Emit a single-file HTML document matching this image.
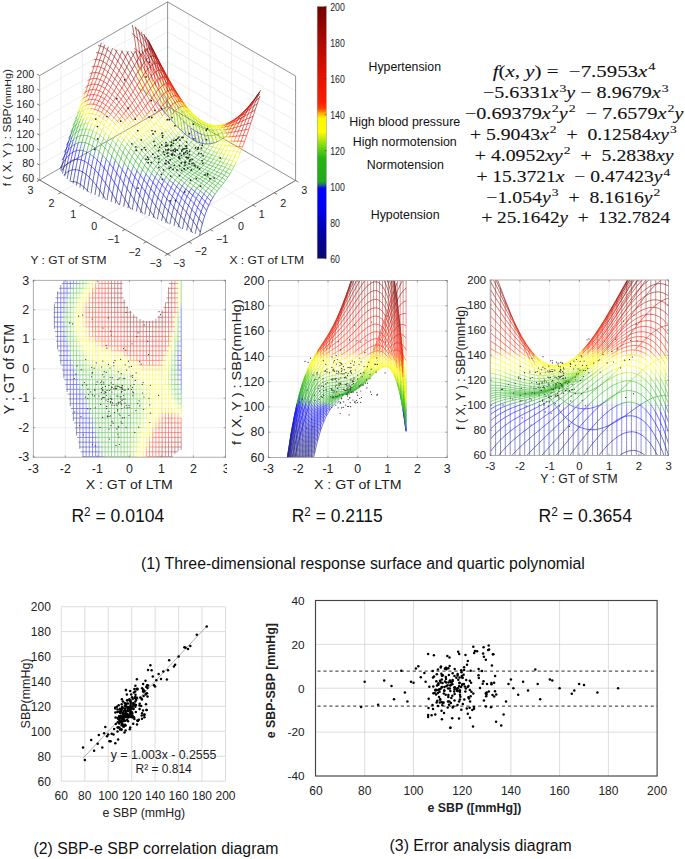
<!DOCTYPE html>
<html><head><meta charset="utf-8"><style>
html,body{margin:0;padding:0;background:#fff}
svg{display:block}
text{font-family:"Liberation Sans",sans-serif;fill:#222}
</style></head><body>
<svg width="685" height="859" viewBox="0 0 685 859">
<path d="M188.9 241.8 61 167.7M146.3 241.8 274.2 168.1M61 167.7 61 63.3M274.2 168.1 274.2 63.7M210.3 229.6 82.3 155.5M125 229.4 252.9 155.8M82.3 155.5 82.3 51M252.9 155.8 252.9 51.3M231.6 217.3 103.6 143.2M103.6 217.1 231.6 143.4M103.6 143.2 103.6 38.8M231.6 143.4 231.6 39M252.9 205 124.9 130.9M82.3 204.7 210.2 131.1M124.9 130.9 124.9 26.5M210.2 131.1 210.2 26.6M274.2 192.8 146.2 118.7M61 192.4 188.9 118.7M146.2 118.7 146.2 14.2M188.9 118.7 188.9 14.3M39.6 165.1 167.6 91.5M167.6 91.5 295.6 165.6M39.6 150.2 167.6 76.5M167.6 76.5 295.6 150.6M39.6 135.2 167.6 61.6M167.6 61.6 295.6 135.7M39.6 120.3 167.6 46.7M167.6 46.7 295.6 120.8M39.6 105.4 167.6 31.8M167.6 31.8 295.6 105.9M39.6 90.5 167.6 16.9M167.6 16.9 295.6 91" stroke="#e6e6e6" stroke-width="0.7" fill="none"/>
<path d="M39.6 75.6 167.6 1.9M167.6 1.9 295.6 76M167.6 106.4 167.6 1.9M295.6 180.5 295.6 76M39.6 180 167.6 106.4M167.6 106.4 295.6 180.5" stroke="#777" stroke-width="0.8" fill="none"/>
<g fill="none" stroke-width="0.6"><path stroke="#090974" d="M199.6 235.2l.7-3M195.2 233.7l.5-2.5 1.1-4.6M190.9 232.2l.3-1.6 1.1-4.7 1-4.4M186.6 230.6l.1-.3 1-4.9M182.4 229.1l.8-3.9 1-4.7M178.2 227.4l.5-2.2 1-4.9 1.1-4.4M174 225.8l.1-.5 1.1-5M169.9 224.2l.7-3.8 1.1-4.8M165.7 222.6l.4-2.1 1.1-4.9 1-4.6M161.5 221l.1-.2 1-5.2M157.4 219.3l.7-3.6 1-5M153.2 217.7l.4-1.9 1-5.1 1.1-4.8M149 216.1l0-.1 1.1-5.4M144.8 214.5l.7-3.9 1.1-5.2M140.6 212.9l.4-2.2 1.1-5.5 1-5M136.4 211.3l.1-.5 1-5.7M132.2 209.8l.8-4.8 1.1-5.4M127.9 208.2l.6-3.1M123.7 206.6l.2-1.3 1.1-6M119.5 205l1-5.6 1-5.8M115.3 203.4l.6-3.7M111.2 201.8l.2-1.5 1-6.3M107 200.1l.9-5.5 1.1-6.1M102.9 198.5l.5-2.8M98.9 196.8l1-6.4M94.9 195l.5-2.8 1-6.6M91 193.3l.9-5.6 1-6.4M87.2 191.5l.1-1 1.1-6.7 1.1-6.3M83.5 189.6l.4-2.5M79.9 187.6l.5-3.2M76.4 185.6l.5-3.1M73.1 183.5l.3-1.9 1.1-6.2 1-5.7M70 181.3l1-5.7 1.1-5.6M67.2 178.9l.3-1.9 1.1-5.6M64.7 176.3l.4-2.3 1.1-5.2 1-5M62.5 173.5l.2-.8 1-4.9M60.9 170.5l.4-2 1.1-4.4M88.9 192.3l-1.6-1.8-1.7-1.8-1.7-1.6M73.4 181.6l-1.7-.1-1.2 .1M105.9 199.7l-.8-1.3-1.7-2.7M65.1 174l-1.3 1.3M118.9 204.7l-1.2-2-1.8-3M131 209.3l-.8-1.3-1.7-2.9M143 213.8l-.2-.3-1.8-2.8-1.7-2.8-1.8-2.8M155.4 218.6l-.1-.1-1.7-2.7-1.8-2.6-1.7-2.6M168.2 223.6l-.4-.5-1.7-2.6-1.7-2.4-1.8-2.5M181 228.5l-.6-.8-1.7-2.5-1.8-2.5-1.7-2.4M192.6 232.8l-1.4-2.2-1.7-2.7-1.8-2.5"/><path stroke="#070780" d="M200.3 232.2l1-4.5 1.1-4M128.5 205.1l1-5.8 1.1-5.2M115.9 199.7l1.1-6.1 1-5.6M103.4 195.7l1-6.5 1.1-6M83.9 187.1l1-6.6 1.1-6.1M80.4 184.4l1-6.4 1.1-6M76.9 182.5l1.1-6.3 1-5.8M83.9 187.1l-1.8-1.5-1.7-1.2-1.8-1.1-1.7-.8-1.7-.6-1.8-.3M103.4 195.7l-1.8-2.7-1.7-2.6M115.9 199.7l-1.7-2.9-1.8-2.8M128.5 205.1l-1.8-2.9-1.7-2.9M200.3 232.2l-1.8-2.9-1.7-2.7"/><path stroke="#05058c" d="M196.8 226.6l1-4.2 1.1-3.8M187.7 225.4l1.1-4.5 1-4.1M175.2 220.3l1-4.6 1.1-4.2M162.6 215.6l1.1-4.8 1-4.3M150.1 210.6l1-5 1.1-4.5M137.5 205.1l1.1-5.2 1-4.8M125 199.3l1-5.6 1.1-5M99.9 190.4l1-6.2 1.1-5.8M68.6 171.4l1-5.3 1.1-4.9M63.7 167.8l1.1-4.6 1-4.4M62.4 164.1l1-4.3 1.1-4M99.9 190.4l-1.7-2.4-1.8-2.4M68.6 171.4l-1.8 1.1-1.7 1.5M63.7 167.8l-1.7 2.5-.7 1.1M125 199.3l-1.8-2.9-1.7-2.8M62.4 164.1l-1.8 3.2-.5 1M137.5 205.1l-1.7-2.8-1.7-2.7M150.1 210.6l-1.8-2.6-1.7-2.6M162.6 215.6l-1.7-2.4-1.8-2.5M175.2 220.3l-1.8-2.4-1.7-2.3M187.7 225.4l-1.7-2.5-1.8-2.4M196.8 226.6l-1.7-2.6-1.8-2.5"/><path stroke="#030398" d="M184.2 220.5l1.1-4.3 1.1-3.9M171.7 215.6l1.1-4.4 1-4M159.1 210.7l1.1-4.5 1.1-4.2M146.6 205.4l1.1-4.7 1-4.4M112.4 194l1.1-5.9 1-5.4M96.4 185.6l1.1-6.1 1-5.6M96.4 185.6l-1.7-2.2-1.8-2.1M112.4 194l-1.7-2.8-1.7-2.7M146.6 205.4l-1.7-2.6-1.8-2.6M159.1 210.7l-1.7-2.4-1.7-2.4M171.7 215.6l-1.7-2.3-1.8-2.3M184.2 220.5l-1.7-2.3-1.7-2.3"/><path stroke="#0101a4" d="M202.4 223.7l1-3.8 1.1-3.4M193.3 221.5l1.1-4 1-3.6M180.8 215.9l1-4.1 1.1-3.7M168.2 211l1.1-4.2 1-3.8M155.7 205.9l1-4.3 1.1-4M134.1 199.6l1-5.1 1.1-4.6M121.5 193.6l1.1-5.3 1-4.9M109 188.5l1-5.7 1.1-5.3M92.9 181.3l1.1-5.9 1-5.5M72.1 170l1-5.3 1.1-5M67.2 163.8l1.1-4.6 1-4.4M92.9 181.3l-1.7-1.9-1.7-1.9M72.1 170l-1.8 .5-1.7 .9M109 188.5l-1.8-2.7-1.7-2.6M67.2 163.8l-1.7 1.8-1.8 2.2M121.5 193.6l-1.7-2.8-1.8-2.8M134.1 199.6l-1.8-2.8-1.7-2.7M155.7 205.9l-1.8-2.4-1.7-2.4M168.2 211l-1.7-2.3-1.8-2.2M180.8 215.9l-1.8-2.2-1.7-2.2M193.3 221.5l-1.7-2.4-1.8-2.3M202.4 223.7l-1.8-2.6-1.7-2.5"/><path stroke="#0000b2" d="M198.9 218.6l1.1-3.6 1-3.2M189.8 216.8l1.1-3.8 1-3.4M177.3 211.5l1-3.9 1.1-3.5M164.7 206.5l1.1-4 1-3.6M152.2 201.1l1-4.1 1.1-3.8M143.1 200.2l1.1-4.5 1-4.2M130.6 194.1l1-4.9 1.1-4.4M89.5 177.5l1-5.7 1.1-5.4M75.5 169.7l1.1-5.4 1-5M65.8 158.8l1.1-4.2 1.1-4M64.5 155.8l1-3.9 1.1-3.7M89.5 177.5l-1.8-1.6-1.7-1.5M75.5 169.7l-1.7 0-1.7 .3M65.8 158.8l-1.7 2.4-1.7 2.9M130.6 194.1l-1.8-2.7-1.7-2.7M64.5 155.8l-1.8 3.1-.5 1.2M143.1 200.2l-1.7-2.6-1.8-2.5M152.2 201.1l-1.7-2.4-1.8-2.4M164.7 206.5l-1.7-2.2-1.7-2.3M177.3 211.5l-1.8-2.2-1.7-2.1M189.8 216.8l-1.7-2.3-1.7-2.2M198.9 218.6l-1.7-2.4-1.8-2.3"/><path stroke="#0000c2" d="M186.4 212.3l1-3.5 1.1-3.3M173.8 207.2l1.1-3.6 1-3.4M161.3 202l1-3.7 1.1-3.5M139.6 195.1l1.1-4.4 1.1-4M118 188l1.1-5.1 1-4.7M105.5 183.2l1-5.5 1.1-5.1M86 174.4l1-5.6 1.1-5.3M82.5 172l1.1-5.5 1-5.2M79 170.4l1.1-5.4 1-5.1M86 174.4l-1.8-1.3-1.7-1.1-1.7-.9-1.8-.7-1.7-.5-1.8-.2M105.5 183.2l-1.8-2.4-1.7-2.4M118 188l-1.7-2.7-1.8-2.6M139.6 195.1l-1.7-2.6-1.7-2.6M161.3 202l-1.8-2.2-1.7-2.2M173.8 207.2l-1.7-2.1-1.8-2.1M186.4 212.3l-1.8-2.1-1.7-2.1M196.1 141.3l-1.7-.8-1.8-1-1.7-1.1-1.7-1.2"/><path stroke="#0000d2" d="M204.5 216.5l1-3.1 1.1-2.9M195.4 213.9l1.1-3.3 1-3.1M182.9 208.1l1-3.3 1.1-3.1M170.3 203l1.1-3.4 1-3.2M157.8 197.6l1-3.6 1.1-3.2M148.7 196.3l1.1-4 1-3.6M136.2 189.9l1-4.2 1.1-3.8M127.1 188.7l1.1-4.7 1-4.3M114.5 182.7l1.1-5 1.1-4.6M102 178.4l1.1-5.4 1-5M70.7 161.2l1-4.7 1.1-4.3M102 178.4l-1.7-2.3-1.8-2.2M70.7 161.2l-1.7 1.2-1.8 1.4M114.5 182.7l-1.7-2.6-1.7-2.6M127.1 188.7l-1.7-2.7-1.8-2.6M136.2 189.9l-1.8-2.5-1.7-2.6M148.7 196.3l-1.7-2.4-1.8-2.4M157.8 197.6l-1.8-2.2-1.7-2.2M170.3 203l-1.7-2-1.8-2.1M182.9 208.1l-1.8-2-1.7-2M195.4 213.9l-1.7-2.2-1.8-2.1M204.5 216.5l-1.7-2.4-1.8-2.3M203.1 143.6l-1.8-.4-1.7-.5-1.7-.6-1.8-.8M189.2 137.2l-1.8-1.3-1.7-1.4-1.8-1.5-1.7-1.6-1.7-1.7-1.8-1.7"/><path stroke="#0000e3" d="M201 211.8l1.1-2.9 1-2.7M191.9 209.6l1.1-3.2 1.1-2.8M188.5 205.5l1-2.9 1.1-2.7M179.4 204.1l1.1-3.1 1-2.9M166.8 198.9l1.1-3.3 1.1-2.9M154.3 193.2l1.1-3.4 1-3.1M145.2 191.5l1.1-3.8 1-3.4M123.6 183.4l1.1-4.5 1-4.2M98.5 173.9l1.1-5.2 1-4.9M74.2 159.7l1-4.6 1.1-4.4M69.3 154.8l1.1-4.1 1-3.9M68 150.6l1-3.8 1.1-3.6M66.6 148.2l1-3.6 1.1-3.4M98.5 173.9l-1.7-2.1-1.8-1.9M74.2 159.7l-1.8 .6-1.7 .9M69.3 154.8l-1.7 1.8-1.8 2.2M123.6 183.4l-1.7-2.7-1.8-2.5M68 150.6l-1.8 2.4-1.7 2.8M66.6 148.2l-1.8 3.1-.5 1.1M145.2 191.5l-1.7-2.4-1.7-2.4M154.3 193.2l-1.7-2.2-1.8-2.3M166.8 198.9l-1.7-2-1.7-2.1M179.4 204.1l-1.7-1.9-1.8-2M191.9 209.6l-1.7-2.1-1.7-2-1.8-1.9-1.7-1.9M201 211.8l-1.7-2.2-1.8-2.1M206.6 143.9l-1.8-.1-1.7-.2M178.7 128l-1.7-1.8-1.8-1.9"/><path stroke="#0000f1" d="M206.6 210.5l1.1-2.7 1-2.4M197.5 207.5l1.1-2.7 1-2.6M185 201.7l1-2.7 1.1-2.6M175.9 200.2l1.1-2.9 1-2.8M172.4 196.4l1.1-2.8 1.1-2.5M163.4 194.8l1-3.1 1.1-2.8M150.8 188.7l1.1-3.2 1-3M141.8 186.7l1-3.6 1.1-3.3M132.7 184.8l1-4 1.1-3.7M111.1 177.5l1-4.8 1.1-4.5M95 169.9l1.1-5.1 1.1-4.7M77.6 159.3l1.1-4.7 1.1-4.4M95 169.9l-1.7-1.8-1.7-1.7M77.6 159.3l-1.7 .1-1.7 .3M111.1 177.5l-1.8-2.5-1.7-2.4M132.7 184.8l-1.8-2.5-1.7-2.6M141.8 186.7l-1.8-2.4-1.7-2.4M150.8 188.7l-1.7-2.2-1.8-2.2M163.4 194.8l-1.8-2-1.7-2M175.9 200.2l-1.7-1.9-1.8-1.9-1.7-1.8-1.7-1.9M185 201.7l-1.8-1.8-1.7-1.8M197.5 207.5l-1.7-2-1.7-1.9M206.6 210.5l-1.7-2.2-1.8-2.1M210 143.8l-1.7 .1-1.7 0M175.2 124.3l-1.7-1.9-1.7-2-1.8-2-1.7-2"/><path stroke="#0000f5" d="M208.7 205.4l1.1-2.2 1-2.1M203.1 206.2l1.1-2.5 1-2.3M194.1 203.6l1-2.6 1.1-2.4M190.6 199.9l1-2.4 1.1-2.2M181.5 198.1l1.1-2.6 1-2.4M169 192.7l1-2.7 1.1-2.4M159.9 190.8l1-3 1.1-2.7M138.3 181.9l1-3.5 1.1-3.2M129.2 179.7l1.1-3.8 1-3.6M120.1 178.2l1.1-4.4 1-4M107.6 172.6l1-4.7 1.1-4.3M91.6 166.4l1-5 1.1-4.6M88.1 163.5l1-4.9 1.1-4.5M84.6 161.3l1.1-4.8 1-4.5M81.1 159.9l1.1-4.8 1-4.4M72.8 152.2l1.1-4.1 1-3.9M91.6 166.4l-1.8-1.5-1.7-1.4-1.8-1.2-1.7-1-1.7-.8-1.8-.6-1.7-.4-1.8-.2M107.6 172.6l-1.7-2.3-1.8-2.3M72.8 152.2l-1.7 1.2-1.8 1.4M120.1 178.2l-1.7-2.6-1.7-2.5M129.2 179.7l-1.7-2.5-1.8-2.5M138.3 181.9l-1.8-2.4-1.7-2.4M159.9 190.8l-1.7-2.1-1.8-2M169 192.7l-1.8-1.9-1.7-1.9M181.5 198.1l-1.7-1.8-1.8-1.8M194.1 203.6l-1.8-1.9-1.7-1.8-1.8-1.7-1.7-1.8M203.1 206.2l-1.7-2-1.8-2M208.7 205.4l-1.7-2-1.8-2M213.5 143.1l-1.7 .4-1.8 .3M168.3 116.4l-1.7-2-1.8-2.1"/><path stroke="#0000f9" d="M205.2 201.4l1.1-2.1 1-1.9M199.6 202.2l1.1-2.3 1.1-2.1M196.2 198.6l1-2.1 1.1-2M187.1 196.4l1.1-2.2 1-2.1M178 194.5l1.1-2.4 1-2.2M174.6 191.1l1-2.4 1.1-2M165.5 188.9l1-2.5 1.1-2.3M156.4 186.7l1.1-2.9 1-2.5M147.3 184.3l1.1-3.2 1.1-2.8M125.7 174.7l1.1-3.7 1-3.4M116.7 173.1l1-4.2 1.1-3.9M104.1 168l1.1-4.5 1-4.2M71.4 146.8l1.1-3.7 1-3.6M70.1 143.2l1-3.5 1.1-3.3M68.7 141.2l1.1-3.4 1-3.2M104.1 168l-1.7-2.1-1.8-2.1M116.7 173.1l-1.8-2.5-1.7-2.4M71.4 146.8l-1.7 1.7-1.7 2.1M125.7 174.7l-1.7-2.4-1.8-2.5M70.1 143.2l-1.8 2.3-1.7 2.7M68.7 141.2l-1.7 2.9-.6 1.1M147.3 184.3l-1.7-2.3-1.7-2.2M156.4 186.7l-1.7-2.1-1.8-2.1M165.5 188.9l-1.8-1.9-1.7-1.9M178 194.5l-1.7-1.7-1.7-1.7-1.8-1.8-1.7-1.7M187.1 196.4l-1.7-1.6-1.8-1.7M199.6 202.2l-1.7-1.8-1.7-1.8-1.8-1.7-1.7-1.6M205.2 201.4l-1.7-1.8-1.7-1.8M164.8 112.3l-1.7-2-1.8-2"/><path stroke="#0000fd" d="M210.8 201.1l1.1-1.9 1-1.8M201.8 197.8l1-1.9 1.1-1.8M192.7 195.3l1-2 1.1-1.9M189.2 192.1l1.1-1.9 1-1.7M183.6 193.1l1.1-2.1 1-2M180.1 189.9l1.1-2 1.1-1.8M171.1 187.6l1-2.2 1.1-2M162 185.1l1.1-2.4 1-2.1M152.9 182.5l1.1-2.7 1-2.4M143.9 179.8l1-3 1.1-2.7M134.8 177.1l1.1-3.4 1-3M201 133.9l1 4.6 1.1 5.1M197.5 132.3l1 4.9 1.1 5.5M194 130.2l1.1 5.3 1 5.8M190.5 127.6l1.1 5.7 1 6.2M113.2 168.2l1-4 1.1-3.8M100.6 163.8l1.1-4.4 1-4.1M76.3 150.7l1-4.1 1.1-3.9M100.6 163.8l-1.7-1.9-1.7-1.8M76.3 150.7l-1.8 .6-1.7 .9M113.2 168.2l-1.8-2.3-1.7-2.3M134.8 177.1l-1.7-2.4-1.8-2.4M143.9 179.8l-1.8-2.3-1.7-2.3M152.9 182.5l-1.7-2.1-1.7-2.1M162 185.1l-1.7-1.9-1.8-1.9M171.1 187.6l-1.8-1.8-1.7-1.7M183.6 193.1l-1.7-1.6-1.8-1.6-1.7-1.6-1.7-1.6M192.7 195.3l-1.8-1.6-1.7-1.6-1.7-1.5-1.8-1.6M201.8 197.8l-1.8-1.7-1.7-1.6M210.8 201.1l-1.7-1.9-1.8-1.8M201 133.9l-1.8-.7-1.7-.9-1.7-1-1.8-1.1-1.7-1.2-1.8-1.4-1.7-1.4-1.7-1.6M217 141.8l-1.7 .7-1.8 .6M161.3 108.3l-1.7-2.1-1.7-1.9"/><path stroke="#165292" d="M212.9 197.4l1.1-1.7 1-1.5M207.3 197.4l1.1-1.8 1.1-1.6M203.9 194.1l1-1.6 1.1-1.6M198.3 194.5l1-1.8 1.1-1.6M194.8 191.4l1.1-1.6 1-1.6M185.7 189l1.1-1.7 1-1.6M182.3 186.1l1-1.7 1.1-1.5M176.7 186.7l1-1.9 1.1-1.7M173.2 183.4l1-1.7 1.1-1.6M167.6 184.1l1-2.1 1.1-1.8M164.1 180.6l1.1-2 1-1.7M158.5 181.3l1.1-2.3 1-2M155 177.4l1.1-2.1 1.1-2M149.5 178.3l1-2.5 1.1-2.3M140.4 175.2l1-2.8 1.1-2.6M207.9 135.6l1.1 3.8 1 4.4M204.4 135l1.1 4.2 1.1 4.7M131.3 172.3l1.1-3.2 1-3M122.2 169.8l1.1-3.6 1.1-3.3M187.1 124.6l1 6 1.1 6.6M109.7 163.6l1.1-4 1-3.6M183.6 121.2l1 6.3 1.1 7M97.2 160.1l1-4.4 1.1-4.1M93.7 156.8l1-4.3 1.1-4M83.2 150.7l1.1-4.1 1-3.9M79.8 150.2l1-4.1 1.1-3.8M74.9 144.2l1.1-3.7 1-3.5M70.8 134.6l1.1-3.2 1-3.1M97.2 160.1l-1.8-1.8-1.7-1.5-1.8-1.5-1.7-1.2M83.2 150.7l-1.7-.3-1.7-.2-1.8 .1-1.7 .4M109.7 163.6l-1.7-2.2-1.8-2.1M74.9 144.2l-1.7 1.1-1.8 1.5M122.2 169.8l-1.7-2.4-1.7-2.4M131.3 172.3l-1.7-2.4-1.8-2.3M140.4 175.2l-1.8-2.2-1.7-2.3M70.8 134.6l-1.7 2.8-.6 1M149.5 178.3l-1.8-2.1-1.7-2.1M158.5 181.3l-1.7-1.9-1.8-2-1.7-1.9-1.7-2M167.6 184.1l-1.7-1.8-1.8-1.7-1.7-1.8-1.8-1.8M176.7 186.7l-1.8-1.6-1.7-1.7-1.8-1.6-1.7-1.6M185.7 189l-1.7-1.5-1.7-1.4-1.8-1.5-1.7-1.5M198.3 194.5l-1.8-1.5-1.7-1.6-1.7-1.4-1.8-1.5M207.3 197.4l-1.7-1.7-1.7-1.6-1.8-1.5-1.7-1.5M212.9 197.4l-1.7-1.7-1.7-1.7M207.9 135.6l-1.7-.3-1.8-.3-1.7-.5-1.7-.6M187.1 124.6l-1.8-1.6-1.7-1.8-1.8-1.8-1.7-1.9M220.5 140l-1.8 1-1.7 .8M157.9 104.3l-1.8-2-1.7-1.8"/><path stroke="#1eaa1e" d="M215 194.2l1.1-1.5 1.1-1.5M209.5 194l1-1.5 1.1-1.5 1-1.4 1.1-1.3M206 190.9l1-1.4 1.1-1.3M200.4 191.1l1-1.6 1.1-1.4 1.1-1.3 1-1.2M196.9 188.2l1.1-1.4 1-1.3M191.3 188.5l1.1-1.5 1-1.4 1.1-1.3 1-1.3M187.8 185.7l1.1-1.4 1.1-1.3M184.4 182.9l1-1.3 1.1-1.2M178.8 183.1l1-1.5 1.1-1.4M175.3 180.1l1-1.4 1.1-1.3M169.7 180.2l1.1-1.7 1-1.5M166.2 176.9l1.1-1.6 1-1.4M160.6 177l1.1-1.9 1-1.6M151.6 173.5l1-2.1 1.1-1.9M146 174.1l1-2.5 1.1-2.2M211.4 135.6l1.1 3.5 1 4M136.9 170.7l1.1-2.8 1-2.5M127.8 167.6l1.1-3.2 1-2.8M118.8 165l1-3.5 1.1-3.2M106.2 159.3l1.1-3.9 1-3.6M180.1 117.5l1.1 6.6 1 7.3M90.2 154.1l1.1-4.3 1-3.9M86.7 152l1.1-4.2 1-3.8M73.5 139.5l1.1-3.4 1.1-3.2M72.2 136.4l1-3.2 1.1-3.1M90.2 154.1l-1.7-1.2-1.8-.9-1.7-.7-1.8-.6M106.2 159.3l-1.7-2.1-1.8-1.9M118.8 165l-1.8-2.3-1.7-2.3M73.5 139.5l-1.7 1.7-1.7 2M127.8 167.6l-1.7-2.4-1.7-2.3M72.2 136.4l-1.8 2.2-1.7 2.6M136.9 170.7l-1.7-2.3-1.8-2.3M146 174.1l-1.8-2.2-1.7-2.1M151.6 173.5l-1.8-2-1.7-2.1M160.6 177l-1.7-1.8-1.7-1.9M169.7 180.2l-1.7-1.6-1.8-1.7-1.7-1.7-1.8-1.7M178.8 183.1l-1.8-1.5-1.7-1.5-1.7-1.5-1.8-1.6M191.3 188.5l-1.7-1.4-1.8-1.4-1.7-1.4-1.7-1.4-1.8-1.3-1.7-1.4M200.4 191.1l-1.8-1.5-1.7-1.4-1.7-1.3-1.8-1.3-1.7-1.4-1.7-1.2M209.5 194l-1.8-1.6-1.7-1.5-1.8-1.4-1.7-1.4-1.7-1.3-1.8-1.3M215 194.2l-1.7-1.7-1.7-1.5-1.8-1.5-1.7-1.3M211.4 135.6l-1.7 0-1.8 0M180.1 117.5l-1.7-2-1.8-2.1M154.4 100.5l-1.8-1.8-1.7-1.8"/><path stroke="#21ad1b" d="M217.2 191.2l1-1.4 1.1-1.3 1-1.4 1.1-1.3M213.7 188.3l1-1.3 1.1-1.3M208.1 188.2l1-1.3 1.1-1.2 1.1-1.2 1-1.2M204.6 185.6l1.1-1.2 1-1.1 1.1-1.1 1-1.1M199 185.5l1.1-1.2 1-1.1 1.1-1.1 1-1.1M195.5 183l1.1-1.1 1.1-1 1-1 1.1-1M190 183l1-1.3 1.1-1.1 1-1 1.1-1 1-.9 1.1-.9M186.5 180.4l1-1.1 1.1-1.1 1-.9 1.1-1M180.9 180.2l1-1.3 1.1-1.1 1-1.1 1.1-.9 1.1-.9 1-.9M177.4 177.4l1.1-1.2 1-1.1 1.1-.9 1-.9M171.8 177l1.1-1.3 1-1.2 1.1-1.1 1-1M168.3 173.9l1.1-1.3 1-1.1M162.7 173.5l1.1-1.5 1.1-1.3M157.2 173.3l1-1.8 1.1-1.5M214.9 135.1l1 3.1 1.1 3.6M148.1 169.4l1-2 1.1-1.8M142.5 169.8l1.1-2.4 1-2.1M133.4 166.1l1.1-2.6 1-2.5M124.4 162.9l1-3.1 1.1-2.7M115.3 160.4l1-3.4 1.1-3.2M102.7 155.3l1.1-3.8 1.1-3.6M176.6 113.4l1.1 6.9 1 7.7M78.4 142.7l1-3.6 1.1-3.4M72.9 128.3l1.1-3.1 1-3M102.7 155.3l-1.7-1.9-1.7-1.8M78.4 142.7l-1.7 .6-1.8 .9M115.3 160.4l-1.7-2.2-1.8-2.2M124.4 162.9l-1.8-2.3-1.7-2.3M133.4 166.1l-1.7-2.2-1.8-2.3M142.5 169.8l-1.7-2.2-1.8-2.2M72.9 128.3l-1.7 2.6-.6 1M148.1 169.4l-1.8-2-1.7-2.1M157.2 173.3l-1.8-1.9-1.7-1.9M162.7 173.5l-1.7-1.8-1.7-1.7M171.8 177l-1.7-1.5-1.8-1.6-1.7-1.6-1.7-1.6M180.9 180.2l-1.8-1.4-1.7-1.4-1.7-1.5-1.8-1.4-1.7-1.5-1.8-1.5M190 183l-1.8-1.3-1.7-1.3-1.8-1.3-1.7-1.3-1.7-1.3-1.8-1.4-1.7-1.3-1.8-1.4M199 185.5l-1.7-1.2-1.8-1.3-1.7-1.2-1.7-1.2-1.8-1.2-1.7-1.2-1.8-1.2-1.7-1.2-1.7-1.3-1.8-1.2M208.1 188.2l-1.8-1.4-1.7-1.2-1.7-1.2-1.8-1.2-1.7-1.2-1.7-1.1-1.8-1.2-1.7-1.1-1.8-1.1-1.7-1.2M217.2 191.2l-1.8-1.5-1.7-1.4-1.8-1.4-1.7-1.2-1.7-1.3-1.8-1.1-1.7-1.2-1.8-1.1M219.3 188.5l-1.8-1.4-1.7-1.4M214.9 135.1l-1.8 .3-1.7 .2M176.6 113.4l-1.7-2.2-1.8-2.1M224 137.7l-1.8 1.2-1.7 1.1M150.9 96.9l-1.7-1.6-1.8-1.5-1.7-1.4-1.8-1.3-1.7-1.1-1.7-.9-1.8-.8-.6-.2"/><path stroke="#23af19" d="M221.4 185.8l1-1.3 1.1-1.4M215.8 185.7l1-1.2 1.1-1.2 1.1-1.3 1-1.3M212.3 183.3l1.1-1.1 1-1.2 1.1-1.2 1-1.2M208.8 181.1l1.1-1.1 1-1.1 1.1-1 1.1-1.2M203.2 181l1.1-1 1.1-1 1-1 1.1-1 1-1 1.1-1M199.8 178.9l1-1 1.1-.9 1-.9 1.1-1 1-.9 1.1-1M196.3 176.8l1-.9 1.1-.9 1-.8 1.1-.9 1.1-.9 1-1 1.1-.9 1-1M190.7 176.3l1-.8 1.1-.9 1.1-.8 1-.8 1.1-.8 1-.8 1.1-.9 1-.9 1.1-.9 1-1M187.2 174l1.1-.8 1-.8 1.1-.7 1-.8 1.1-.8 1-.8 1.1-.8 1.1-.8 1-.9 1.1-.9M181.6 173.3l1.1-.9 1-.8 1.1-.7 1-.8 1.1-.7 1.1-.8 1-.7 1.1-.7 1-.8 1.1-.8 1-.9 1.1-.9M176 172.4l1.1-.9 1-.9 1.1-.8 1.1-.7 1-.8 1.1-.7 1-.7 1.1-.7 1-.7 1.1-.7 1-.8 1.1-.8M170.4 171.5l1.1-1 1.1-1 1-.9 1.1-.8 1-.7 1.1-.7 1-.7 1.1-.7 1-.7 1.1-.7M164.9 170.7l1-1.2 1.1-1.1 1-1 1.1-.9M159.3 170l1-1.4 1.1-1.3 1-1.2 1.1-1M153.7 169.5l1-1.6 1.1-1.6 1-1.3 1.1-1.2M150.2 165.6l1.1-1.6 1-1.4M144.6 165.3l1.1-1.9 1-1.7M139 165.4l1.1-2.2 1-2.1M202.3 128l1.1 3.3 1 3.7M198.9 126.2l1 3.6 1.1 4.1M129.9 161.6l1.1-2.6 1.1-2.3M195.4 124l1 3.9 1.1 4.4M191.9 121.3l1.1 4.2 1 4.7M120.9 158.3l1-3 1.1-2.7M111.8 156l1.1-3.4 1-3.1M99.3 151.6l1-3.7 1.1-3.4M173.1 109.1l1.1 7.2 1 8M95.8 148.5l1-3.7 1.1-3.4M85.3 142.7l1.1-3.6 1.1-3.4M81.9 142.3l1-3.6 1.1-3.4M77 137l1.1-3.3 1-3.1M75.7 132.9l1-3.1 1.1-3M74.3 130.1l1-3.1 1.1-3M99.3 151.6l-1.8-1.6-1.7-1.5-1.8-1.4-1.7-1.2M85.3 142.7l-1.7-.3-1.7-.1-1.8 .1-1.7 .3M111.8 156l-1.7-2.1-1.8-2.1M77 137l-1.7 1.1-1.8 1.4M120.9 158.3l-1.8-2.3-1.7-2.2M75.7 132.9l-1.8 1.6-1.7 1.9M129.9 161.6l-1.7-2.3-1.7-2.2M74.3 130.1l-1.8 2-1.7 2.5M139 165.4l-1.7-2.2-1.8-2.2M144.6 165.3l-1.7-2.1-1.8-2.1M153.7 169.5l-1.8-1.9-1.7-2-1.7-1.9-1.8-2M159.3 170l-1.8-1.8-1.7-1.9-1.8-1.8-1.7-1.9M164.9 170.7l-1.8-1.7-1.7-1.7-1.8-1.8-1.7-1.7M170.4 171.5l-1.7-1.5-1.7-1.6-1.8-1.6-1.7-1.7M176 172.4l-1.7-1.4-1.7-1.5-1.8-1.5-1.7-1.5M181.6 173.3l-1.7-1.3-1.8-1.4-1.7-1.4-1.7-1.4-1.8-1.4-1.7-1.5M190.7 176.3l-1.7-1.1-1.8-1.2-1.7-1.2-1.8-1.2-1.7-1.2-1.7-1.3-1.8-1.4-1.7-1.3-1.8-1.5-1.7-1.4M203.2 181l-1.7-1-1.7-1.1-1.8-1.1-1.7-1-1.8-1.1-1.7-1.1-1.7-1.1-1.8-1.1-1.7-1.1-1.8-1.2-1.7-1.2-1.7-1.3-1.8-1.3-1.7-1.3-1.8-1.4-1.7-1.5M215.8 185.7l-1.8-1.2-1.7-1.2-1.7-1.1-1.8-1.1-1.7-1.1-1.7-1-1.8-1-1.7-1-1.8-1-1.7-1-1.7-1-1.8-1-1.7-1-1.8-1.1-1.7-1.1-1.7-1.2-1.8-1.1-1.7-1.3-1.8-1.2-1.7-1.4M221.4 185.8l-1.8-1.3-1.7-1.2-1.7-1.2-1.8-1.1-1.7-1-1.8-1.1-1.7-.9-1.7-1-1.8-.9-1.7-1-1.8-.9-1.7-.9-1.7-1-1.8-.9-1.7-1-1.8-1.1-1.7-1-1.7-1.1-1.8-1.2-1.7-1.2-1.8-1.3-1.7-1.3M202.6 171.4l-1.7-.9-1.8-.9-1.7-.9-1.7-1-1.8-1.1-1.7-1-1.8-1.2-1.7-1.2M202.3 128l-1.7-.8-1.7-1-1.8-1-1.7-1.2-1.8-1.3-1.7-1.4-1.7-1.6-1.8-1.6M173.1 109.1l-1.7-2.3-1.7-2.3"/><path stroke="#25b117" d="M223.5 183.1l1-1.4 1.1-1.4 1.1-1.5 1-1.6M220 180.7l1.1-1.3 1-1.3 1.1-1.4 1-1.5M216.5 178.6l1.1-1.2 1-1.2 1.1-1.4 1.1-1.3M213.1 176.7l1-1.1 1.1-1.2 1-1.2 1.1-1.3M209.6 175l1-1.1 1.1-1.2 1-1.1 1.1-1.3M206.1 173.2l1-1 1.1-1.1 1.1-1.1 1-1.2 1.1-1.2 1-1.3M204.7 169.5l1.1-1.1 1-1.1 1.1-1.2 1-1.2M201.2 167.7l1.1-1 1.1-1.1 1-1.1 1.1-1.2M197.8 165.9l1-1 1.1-1 1-1.1 1.1-1.2 1-1.2 1.1-1.2M194.3 163.8l1-.9 1.1-1 1.1-1.1 1-1.1 1.1-1.2 1-1.2M188.7 163.2l1.1-.8 1-.9 1.1-.9 1-1 1.1-1 1-1.1 1.1-1.1 1-1.2M181 163.6l1.1-.7 1-.7 1.1-.7 1-.8 1.1-.8 1-.9 1.1-.9 1-.9 1.1-1 1.1-1.1M169.1 166.5l1-.8 1.1-.8 1-.7 1.1-.7 1.1-.7 1-.7 1.1-.6 1-.7 1.1-.7 1-.7 1.1-.7 1-.8 1.1-.8 1.1-.9 1-.9 1.1-.9M163.5 165.1l1-.9 1.1-.9 1.1-.8 1-.8 1.1-.7 1-.6 1.1-.7 1-.7 1.1-.6 1-.7 1.1-.7 1.1-.7 1-.7 1.1-.8M218.4 134.1l1 2.7 1.1 3.2M157.9 163.8l1.1-1.1 1-1 1.1-.9 1-.9M152.3 162.6l1.1-1.3 1-1.2M209.3 129.9l1.1 2.7 1 3M146.7 161.7l1.1-1.6 1-1.4M205.8 129.2l1.1 3 1 3.4M141.1 161.1l1.1-1.8 1-1.7M135.5 161l1.1-2.1 1.1-2M126.5 157.1l1-2.5 1.1-2.3M188.4 118.1l1.1 4.5 1 5M108.3 151.8l1.1-3.3 1-3M169.7 104.5l1 7.6 1.1 8.3M92.3 145.9l1.1-3.6 1-3.4M88.8 144l1.1-3.7 1-3.3M80.5 135.7l1.1-3.3 1-3.1M75 122.2l1.1-3 1-3M92.3 145.9l-1.7-1-1.8-.9-1.7-.8-1.8-.5M108.3 151.8l-1.7-2-1.7-1.9M80.5 135.7l-1.7 .5-1.8 .8M126.5 157.1l-1.8-2.3-1.7-2.2M135.5 161l-1.7-2.2-1.7-2.1M141.1 161.1l-1.7-2.1-1.7-2.1M75 122.2l-1.7 2.4-.6 .9M146.7 161.7l-1.7-2.1-1.8-2M152.3 162.6l-1.7-1.9-1.8-2M157.9 163.8l-1.7-1.8-1.8-1.9M163.5 165.1l-1.8-1.7-1.7-1.7-1.7-1.8-1.8-1.8M169.1 166.5l-1.8-1.6-1.7-1.6-1.7-1.7-1.8-1.7M171.2 164.9l-1.8-1.6-1.7-1.6-1.7-1.6-1.8-1.7M173.3 163.5l-1.7-1.6-1.8-1.5-1.7-1.7-1.8-1.7M175.4 162.1l-1.7-1.5-1.8-1.6-1.7-1.6-1.7-1.7M181 163.6l-1.7-1.4-1.8-1.4-1.7-1.5-1.8-1.6-1.7-1.6-1.7-1.7M183.1 162.2l-1.7-1.4-1.8-1.4-1.7-1.5-1.7-1.6-1.8-1.6-1.7-1.7M223.5 183.1l-1.8-1.2-1.7-1.2-1.7-1-1.8-1.1-1.7-.9-1.7-1-1.8-.9-1.7-.8-1.8-.9-1.7-.9-1.7-.9-1.8-.9M188.7 163.2l-1.7-1.2-1.8-1.3-1.7-1.4-1.8-1.4-1.7-1.5-1.7-1.6M225.6 180.3l-1.7-1.2-1.8-1-1.7-1-1.8-.9-1.7-.9-1.7-.9-1.8-.8-1.7-.9-1.8-.8-1.7-.8-1.7-.8-1.8-.8-1.7-.9-1.8-.9-1.7-.9-1.7-.9-1.8-1-1.7-1.1-1.8-1.1-1.7-1.2-1.7-1.2-1.8-1.3-1.7-1.3-1.7-1.5-1.8-1.5-1.7-1.6M210.3 168.8l-1.7-.7-1.8-.8-1.7-.8-1.7-.9-1.8-.8-1.7-.9-1.8-1-1.7-1-1.7-1.1-1.8-1.2-1.7-1.2-1.8-1.2-1.7-1.4-1.7-1.4M202 161.6l-1.8-.9-1.7-1-1.7-1-1.8-1.2-1.7-1.1-1.7-1.3M209.3 129.9l-1.7-.3-1.8-.4-1.7-.5-1.8-.7M188.4 118.1l-1.7-1.8-1.8-1.9M218.4 134.1l-1.8 .6-1.7 .4M169.7 104.5l-1.8-2.3-1.7-2.3M227.4 134.9l-1.7 1.5-1.7 1.3"/><path stroke="#28b414" d="M227.7 177.2l1.1-1.6 1-1.6M224.2 175.2l1.1-1.5 1-1.6M220.8 173.5l1-1.5 1.1-1.5M217.3 171.9l1-1.4 1.1-1.4M213.8 170.3l1-1.2 1.1-1.4 1.1-1.4 1-1.5M212.4 166.3l1.1-1.3 1-1.5M208.9 164.9l1.1-1.3 1.1-1.4 1-1.4 1.1-1.5M205.5 163.3l1-1.2 1.1-1.3 1-1.4 1.1-1.4M204.1 159.2l1.1-1.4 1-1.4M200.6 157.3l1.1-1.3 1-1.3M197.1 155.2l1.1-1.2 1.1-1.3M191.6 155.1l1-1.1 1.1-1.2 1-1.2 1.1-1.2M186 154.4l1-1 1.1-1 1-1.1 1.1-1.2 1-1.2 1.1-1.2M221.8 132.6l1.1 2.3 1.1 2.8M178.3 154.8l1-.8 1.1-.9 1-.9 1.1-.9 1-1 1.1-1 1-1.1 1.1-1.1M162.1 159.9l1.1-.8 1-.7 1.1-.7 1-.7 1.1-.6 1.1-.7 1-.7 1.1-.6 1-.7 1.1-.7 1-.8 1.1-.8 1-.8 1.1-.8 1-1 1.1-.9M212.8 130.1l1 2.3 1.1 2.7M154.4 160.1l1.1-1 1-1 1.1-.9 1-.8 1.1-.8 1.1-.7 1-.7 1.1-.7M148.8 158.7l1.1-1.2 1-1.2M143.2 157.6l1.1-1.5 1.1-1.4M137.7 156.9l1-1.8 1.1-1.6M132.1 156.7l1-2.2 1.1-1.9M123 152.6l1-2.4 1.1-2.3M117.4 153.8l1.1-2.9 1-2.6M184.9 114.4l1.1 4.9 1.1 5.3M104.9 147.9l1-3.2 1.1-3M166.2 99.9l1 7.9 1.1 8.6M84 135.3l1-3.2 1.1-3.1M79.1 130.6l1.1-3 1-2.9M77.8 126.8l1-2.9 1.1-2.8M76.4 124l1.1-2.9 1-2.8M104.9 147.9l-1.8-1.7-1.7-1.7M84 135.3l-1.8 0-1.7 .4M117.4 153.8l-1.7-2.1-1.8-2.2M79.1 130.6l-1.7 1-1.7 1.3M123 152.6l-1.7-2.1-1.8-2.2M77.8 126.8l-1.8 1.5-1.7 1.8M132.1 156.7l-1.8-2.2-1.7-2.2M76.4 124l-1.7 2-1.8 2.3M137.7 156.9l-1.8-2.2-1.7-2.1M143.2 157.6l-1.7-2.1-1.7-2M148.8 158.7l-1.7-2-1.7-2M154.4 160.1l-1.7-1.9-1.8-1.9M156.5 158.1l-1.7-1.9-1.7-1.9M162.1 159.9l-1.7-1.7-1.8-1.8-1.7-1.9-1.7-1.9M164.2 158.4l-1.7-1.7-1.7-1.8-1.8-1.9-1.7-1.9M166.3 157l-1.7-1.7-1.7-1.8M168.5 155.7l-1.8-1.7-1.7-1.9M170.6 154.4l-1.8-1.8-1.7-1.8M172.7 153l-1.8-1.8-1.7-1.9M178.3 154.8l-1.8-1.6-1.7-1.8-1.8-1.8-1.7-1.8M180.4 153.1l-1.8-1.6-1.7-1.7-1.7-1.9-1.8-1.9M227.7 177.2l-1.7-1-1.8-1-1.7-.9-1.7-.8-1.8-.9-1.7-.7-1.8-.8-1.7-.8-1.7-.7-1.8-.8M186 154.4l-1.8-1.5-1.7-1.6-1.8-1.7-1.7-1.7M215.9 167.7l-1.7-.7-1.8-.7-1.7-.7-1.8-.7-1.7-.8-1.7-.8-1.8-.8-1.7-.9M191.6 155.1l-1.8-1.3-1.7-1.4-1.8-1.5-1.7-1.6-1.7-1.7-1.8-1.7M211.1 162.2l-1.8-.7-1.7-.7-1.8-.8-1.7-.8-1.7-.9-1.8-1-1.7-1-1.8-1.1-1.7-1.1-1.7-1.3-1.8-1.3-1.7-1.4-1.8-1.5-1.7-1.5M212.8 130.1l-1.8 0-1.7-.2M184.9 114.4l-1.7-1.9-1.7-2.1M221.8 132.6l-1.7 .8-1.7 .7M166.2 99.9l-1.8-2.4-1.7-2.4"/><path stroke="#45c314" d="M229.8 174l1.1-1.8 1-1.8M226.3 172.1l1.1-1.6 1.1-1.8M222.9 170.5l1-1.5 1.1-1.7M219.4 169.1l1-1.5 1.1-1.6 1-1.6 1.1-1.8M218 164.8l1.1-1.6 1-1.7M214.5 163.5l1.1-1.5 1-1.5M213.2 159.3l1-1.6 1.1-1.6M209.7 158l1-1.6 1.1-1.5M206.2 156.4l1.1-1.4 1-1.5 1.1-1.6 1-1.6M202.7 154.7l1.1-1.4 1-1.4 1.1-1.5 1.1-1.6M199.3 152.7l1-1.4 1.1-1.3 1-1.5 1.1-1.4M195.8 150.4l1-1.3 1.1-1.4 1-1.4 1.1-1.4M192.3 147.7l1-1.3 1.1-1.3M186.7 147.1l1.1-1.2 1-1.2 1.1-1.2 1-1.3M216.3 129.8l1 1.9 1.1 2.4M179 147.9l1.1-1 1-1 1.1-1.1 1-1.1 1.1-1.2 1-1.2M162.9 153.5l1-.7 1.1-.7 1-.6 1.1-.7 1-.7 1.1-.8 1-.7 1.1-.8 1.1-.9 1-.9 1.1-.9 1-.9 1.1-1 1-1.1M207.2 125.8l1 1.9 1.1 2.2M150.9 156.3l1.1-1 1.1-1 1-.9 1.1-.8 1-.8 1.1-.7 1-.7 1.1-.7 1-.7 1.1-.7 1-.7 1.1-.7 1.1-.7 1-.8M203.7 124.5l1.1 2.2 1 2.5M145.4 154.7l1-1.2 1.1-1.1 1-1.1 1.1-.9M200.2 122.7l1.1 2.5 1 2.8M139.8 153.5l1-1.5 1.1-1.4M196.7 120.4l1.1 2.7 1.1 3.1M134.2 152.6l1-1.8 1.1-1.5M128.6 152.3l1-2.1 1.1-1.9M119.5 148.3l1.1-2.4 1-2.2M113.9 149.5l1.1-2.8 1-2.6M181.5 110.4l1 5.1 1.1 5.7M110.4 145.5l1.1-2.8 1.1-2.5M101.4 144.5l1-3.2 1.1-3M97.9 141.4l1.1-3.1 1-3M94.4 138.9l1.1-3.2 1-2.9M90.9 137l1.1-3.2 1-2.9M87.5 135.7l1-3.1 1.1-3M82.6 129.3l1.1-2.9 1-2.8M101.4 144.5l-1.8-1.6-1.7-1.5-1.7-1.3-1.8-1.2-1.7-1.1-1.8-.8-1.7-.7-1.7-.6-1.8-.3-1.7-.1M113.9 149.5l-1.7-2-1.8-2-1.7-1.9-1.7-1.9M82.6 129.3l-1.7 .5-1.8 .8M119.5 148.3l-1.7-2.1-1.8-2.1M128.6 152.3l-1.8-2.2-1.7-2.2M134.2 152.6l-1.8-2.2-1.7-2.1M139.8 153.5l-1.8-2.1-1.7-2.1M145.4 154.7l-1.8-2-1.7-2.1M150.9 156.3l-1.7-1.9-1.7-2-1.8-2-1.7-2.1M153.1 154.3l-1.8-1.9-1.7-2M155.2 152.6l-1.8-1.9-1.7-2M157.3 151.1l-1.8-1.9-1.7-2M162.9 153.5l-1.8-1.9-1.7-1.9-1.8-2-1.7-2M165 152.1l-1.8-1.8-1.7-2-1.7-2-1.8-2M167.1 150.8l-1.8-1.9-1.7-2-1.7-2-1.8-2.1M169.2 149.3l-1.7-1.9-1.8-2M171.3 147.8l-1.7-2-1.8-2M173.4 146l-1.7-1.9-1.8-2.1M179 147.9l-1.7-1.8-1.8-1.9-1.7-2-1.8-2.1M229.8 174l-1.7-1-1.8-.9-1.7-.8-1.7-.8-1.8-.7-1.7-.7-1.8-.7-1.7-.7M181.1 145.9l-1.7-1.9-1.8-1.9M221.5 166l-1.7-.6-1.8-.6-1.7-.6-1.8-.7-1.7-.6-1.7-.7M186.7 147.1l-1.7-1.7-1.8-1.7-1.7-1.9-1.8-1.9M213.2 159.3l-1.8-.7-1.7-.6-1.8-.8-1.7-.8-1.7-.8-1.8-.9-1.7-1-1.7-1-1.8-1.1-1.7-1.2-1.8-1.3-1.7-1.4-1.7-1.5-1.8-1.5-1.7-1.6-1.8-1.8M208.3 153.5l-1.7-.8-1.8-.8-1.7-1-1.7-.9-1.8-1.1-1.7-1.2-1.8-1.2-1.7-1.4M207.2 125.8l-1.8-.5-1.7-.8-1.7-.8-1.8-1-1.7-1.1-1.8-1.2-1.7-1.4-1.7-1.4M216.3 129.8l-1.8 .2-1.7 .1M181.5 110.4l-1.8-2.1-1.7-2.2"/><path stroke="#68d414" d="M231.9 170.4l1.1-1.9 1-2.1M228.5 168.7l1-1.8 1.1-1.9M225 167.3l1-1.7 1.1-1.9M223.6 162.6l1.1-1.8 1-1.9M220.1 161.5l1.1-1.7 1-1.8M216.6 160.5l1.1-1.7 1.1-1.7M215.3 156.1l1-1.7 1.1-1.8M211.8 154.9l1.1-1.6 1-1.7M210.4 150.3l1.1-1.6 1-1.7M207 148.8l1-1.5 1.1-1.6M203.5 147.1l1-1.5 1.1-1.6M200 144.9l1.1-1.4 1-1.5M225.3 130.5l1.1 2 1 2.4M194.4 145.1l1.1-1.3 1-1.4 1.1-1.3 1-1.4M219.7 128.9l1.1 1.7 1 2M190.9 142.2l1.1-1.3 1-1.3M185.3 141.3l1.1-1.2 1-1.2M210.7 126.6l1 1.6 1.1 1.9M177.6 142.1l1.1-1.1 1-1.1 1.1-1.1 1.1-1.2M165.7 145.4l1.1-.8 1-.8 1.1-.9 1-.9 1.1-.9 1-1 1.1-1 1.1-1.1M149.6 150.4l1-.9 1.1-.8 1-.8 1.1-.7 1-.8 1.1-.7 1.1-.7 1-.7 1.1-.8 1-.7 1.1-.8 1-.8M141.9 150.6l1-1.2 1.1-1.1 1-1 1.1-1M136.3 149.3l1-1.5 1.1-1.3M193.3 117.6l1 3 1.1 3.4M130.7 148.3l1-1.7 1.1-1.6M189.8 114.3l1 3.2 1.1 3.8M125.1 147.9l1.1-2 1-1.9M116 144.1l1.1-2.3 1-2.2M178 106.1l1 5.4 1.1 6M107 141.7l1-2.7 1.1-2.6M162.7 95.1l1.1 8.2 1 9M86.1 129l1-2.8 1.1-2.8M81.2 124.7l1.1-2.8 1.1-2.7M79.9 121.1l1-2.8 1.1-2.7M78.5 118.3l1.1-2.8 1-2.8M77.1 116.2l1.1-3 1.1-2.9M107 141.7l-1.8-1.7-1.7-1.7M86.1 129l-1.7 .1-1.8 .2M116 144.1l-1.7-2-1.7-1.9M81.2 124.7l-1.7 .9-1.7 1.2M125.1 147.9l-1.7-2.1-1.8-2.1M79.9 121.1l-1.8 1.3-1.7 1.6M130.7 148.3l-1.7-2.1-1.8-2.2M78.5 118.3l-1.7 1.8-1.8 2.1M136.3 149.3l-1.8-2.2-1.7-2.1M77.1 116.2l-1.7 2.2-.6 .9M141.9 150.6l-1.8-2-1.7-2.1M144 148.3l-1.8-2.1-1.7-2.1M149.6 150.4l-1.8-2-1.7-2.1M151.7 148.7l-1.8-2-1.7-2.1M153.8 147.2l-1.7-2.1-1.8-2.1M155.9 145.7l-1.7-2.1-1.8-2.1M158 144.3l-1.7-2.1-1.8-2.2M160.1 142.8l-1.7-2.2-1.8-2.2M165.7 145.4l-1.7-2-1.8-2.2M167.8 143.8l-1.7-2.1-1.8-2.2M169.9 142l-1.7-2.1-1.7-2.2M172 140.1l-1.7-2.2-1.7-2.2M177.6 142.1l-1.7-2-1.7-2.1M231.9 170.4l-1.7-.9-1.7-.8-1.8-.7-1.7-.7-1.8-.7-1.7-.6M179.7 139.9l-1.7-2-1.7-2.1M223.6 162.6l-1.7-.5-1.8-.6-1.7-.5-1.8-.5-1.7-.6-1.7-.6M185.3 141.3l-1.7-1.8-1.7-1.9M215.3 156.1l-1.8-.6-1.7-.6-1.7-.7-1.8-.7M194.4 145.1l-1.7-1.4-1.8-1.5-1.7-1.6-1.8-1.7M210.4 150.3l-1.7-.7-1.7-.8-1.8-.8-1.7-.9-1.8-1.1-1.7-1.1-1.7-1.2-1.8-1.3-1.7-1.3-1.8-1.5M210.7 126.6l-1.8-.3-1.7-.5M193.3 117.6l-1.8-1.6-1.7-1.7-1.7-1.8-1.8-2M219.7 128.9l-1.7 .5-1.7 .4M178 106.1l-1.8-2.3-1.7-2.4M225.3 130.5l-1.7 1.1-1.8 1M162.7 95.1l-1.7-2.3-1.8-2.4M230.9 131.7l-1.7 1.7-1.8 1.5"/><path stroke="#9be10f" d="M234 166.4l1.1-2.1 1.1-2.1M230.6 165l1-2 1.1-2.1M227.1 163.7l1-1.8 1.1-2M225.7 158.9l1.1-1.9 1-2.1M222.2 158l1.1-1.8 1-2M218.8 157.1l1-1.8 1.1-1.8M217.4 152.6l1-1.8 1.1-1.9M213.9 151.6l1.1-1.8 1-1.7M212.5 147l1.1-1.7 1.1-1.8M209.1 145.7l1-1.7 1.1-1.6M205.6 144l1-1.5 1.1-1.6M202.1 142l1.1-1.4 1-1.5M198.6 139.7l1.1-1.4 1-1.4M193 139.6l1.1-1.3 1-1.4 1.1-1.3 1.1-1.3M214.1 126.9l1.1 1.3 1.1 1.6M187.4 138.9l1.1-1.3 1.1-1.3 1-1.3 1.1-1.2M181.9 137.6l1-1.2 1.1-1.3 1-1.2 1.1-1.2M205.1 123.1l1 1.2 1.1 1.5M174.2 138l1-1.1 1.1-1.1 1-1.2 1.1-1.2M201.6 121.3l1.1 1.5 1 1.7M162.2 141.2l1.1-.8 1-.9 1.1-.9 1.1-.9 1-1 1.1-1 1-1.1 1.1-1M198.1 119l1.1 1.7 1 2M146.1 146.3l1-.9 1.1-.8 1.1-.8 1-.8 1.1-.7 1-.8 1.1-.7 1-.8 1.1-.8 1-.8 1.1-.8 1.1-.8M138.4 146.5l1-1.2 1.1-1.2 1.1-1 1-1M132.8 145l1.1-1.4 1-1.4M127.2 144l1.1-1.7 1-1.5M186.3 110.5l1.1 3.6 1 4M121.6 143.7l1.1-2 1-1.9M112.6 140.2l1-2.4 1.1-2.2M174.5 101.4l1.1 5.7 1 6.3M103.5 138.3l1-2.7 1.1-2.6M100 135.3l1.1-2.7 1-2.6M93 130.9l1.1-2.8 1.1-2.6M89.6 129.6l1-2.8 1.1-2.7M159.2 90.4l1.1 8.5 1 9.4M84.7 123.6l1.1-2.7 1-2.6M103.5 138.3l-1.8-1.5-1.7-1.5-1.7-1.3-1.8-1.2M93 130.9l-1.7-.8-1.7-.5-1.8-.4-1.7-.2M112.6 140.2l-1.8-1.9-1.7-1.9M84.7 123.6l-1.7 .4-1.8 .7M121.6 143.7l-1.7-2.1-1.8-2M127.2 144l-1.7-2.1-1.8-2.1M132.8 145l-1.7-2.1-1.8-2.1M138.4 146.5l-1.7-2.1-1.8-2.2M140.5 144.1l-1.7-2.1-1.8-2.1M146.1 146.3l-1.7-2-1.8-2.2M148.2 144.6l-1.7-2.1-1.8-2.1M150.3 143l-1.7-2.1-1.8-2.2M152.4 141.5l-1.7-2.2-1.8-2.2M154.5 140l-1.7-2.2-1.7-2.3M156.6 138.4l-1.7-2.2-1.7-2.4M162.2 141.2l-1.7-2.2-1.7-2.2M164.3 139.5l-1.7-2.2-1.7-2.3M166.5 137.7l-1.8-2.3-1.7-2.3M168.6 135.7l-1.8-2.3-1.7-2.4M174.2 138l-1.8-2.2-1.7-2.2M176.3 135.8l-1.8-2.2-1.7-2.3M234 166.4l-1.7-.7-1.7-.7-1.8-.6-1.7-.7-1.8-.5-1.7-.6M181.9 137.6l-1.8-2.1-1.7-2.1M225.7 158.9l-1.7-.4-1.8-.5-1.7-.4-1.7-.5-1.8-.5-1.7-.5M187.4 138.9l-1.7-1.9-1.7-1.9-1.8-2-1.7-2.1M217.4 152.6l-1.8-.5-1.7-.5-1.7-.6-1.8-.7M193 139.6l-1.7-1.6-1.7-1.7-1.8-1.8-1.7-1.8M212.5 147l-1.7-.6-1.7-.7-1.8-.8-1.7-.9-1.8-.9-1.7-1.1-1.7-1.1-1.8-1.2-1.7-1.3-1.8-1.5-1.7-1.5-1.7-1.6M205.1 123.1l-1.8-.8-1.7-1-1.7-1.1-1.8-1.2-1.7-1.4-1.8-1.5M214.1 126.9l-1.7-.1-1.7-.2M186.3 110.5l-1.7-2-1.8-2.1M174.5 101.4l-1.7-2.4-1.8-2.5M159.2 90.4l-1.7-2.3-1.8-2.3"/><path stroke="#d0ee09" d="M232.7 160.9l1-2.2 1.1-2.2M229.2 159.9l1-2.1 1.1-2.2M224.3 154.2l1.1-2 1.1-2.1M220.9 153.5l1-2 1.1-1.9M219.5 148.9l1.1-1.9 1-2M216 148.1l1.1-1.9 1-1.8M214.7 143.5l1-1.7 1.1-1.8M211.2 142.4l1-1.7 1.1-1.6M207.7 140.9l1.1-1.5 1-1.6 1.1-1.5 1-1.5M228.8 128l1.1 1.7 1 2M204.2 139.1l1.1-1.4 1-1.5 1.1-1.4 1-1.3M223.2 127.6l1.1 1.3 1 1.6M200.7 136.9l1.1-1.3 1-1.4 1.1-1.3 1.1-1.2M217.6 126.7l1.1 1 1 1.2M197.3 134.3l1-1.3 1.1-1.2 1-1.2 1.1-1.1M212 125.3l1.1 .7 1 .9M191.7 133.8l1-1.3 1.1-1.2 1-1.2 1.1-1.1M208.6 124.5l1 .9 1.1 1.2M186.1 132.7l1-1.3 1.1-1.2 1-1.2 1.1-1.2M203 121.6l1 .6 1.1 .9M178.4 133.4l1-1.2 1.1-1.2 1-1.2 1.1-1.2M170.7 133.6l1-1.2 1.1-1.1 1-1.2 1.1-1.2M158.8 136.8l1-.9 1.1-.9 1-1 1.1-.9 1-1.1 1.1-1M194.6 116.1l1.1 2 1 2.3M142.6 142.1l1.1-.9 1-.8 1.1-.9 1-.8 1.1-.8 1-.8 1.1-.8 1.1-.8 1-.8 1.1-.9M191.2 112.8l1 2.2 1.1 2.6M134.9 142.2l1.1-1.2 1-1.1 1.1-1.1 1-1M129.3 140.8l1.1-1.5 1-1.3M123.7 139.8l1.1-1.7 1-1.5M182.8 106.4l1.1 3.8 1 4.2M118.1 139.6l1.1-2 1.1-1.9M109.1 136.4l1-2.3 1.1-2.2M171 96.5l1.1 5.9 1 6.7M96.5 132.8l1.1-2.7 1-2.6M88.2 123.4l1.1-2.6 1-2.4M155.7 85.8l1.1 8.8 1.1 9.7M83.4 119.2l1-2.6 1.1-2.6M82 115.6l1-2.6 1.1-2.7M80.6 112.7l1.1-2.8 1-2.8M79.3 110.3l1-3 1.1-3M96.5 132.8l-1.7-1-1.8-.9M109.1 136.4l-1.8-1.7-1.7-1.7M88.2 123.4l-1.7 0-1.8 .2M118.1 139.6l-1.7-2-1.7-2M83.4 119.2l-1.8 .8-1.7 1.1M123.7 139.8l-1.7-2-1.7-2.1M82 115.6l-1.8 1.2-1.7 1.5M129.3 140.8l-1.7-2.2-1.8-2M80.6 112.7l-1.7 1.6-1.8 1.9M134.9 142.2l-1.7-2.1-1.8-2.1M79.3 110.3l-1.8 2-.6 .8M137 139.9l-1.7-2.1-1.8-2.2M142.6 142.1l-1.7-2.1-1.8-2.2M144.7 140.4l-1.7-2.2-1.8-2.2M146.8 138.7l-1.7-2.2-1.7-2.2M148.9 137.1l-1.7-2.3-1.7-2.3M151.1 135.5l-1.8-2.3-1.7-2.4M158.8 136.8l-1.8-2.4-1.7-2.3M160.9 135l-1.8-2.4-1.7-2.4M163 133.1l-1.8-2.5-1.7-2.5M170.7 133.6l-1.8-2.4-1.7-2.4M172.8 131.3l-1.8-2.4-1.7-2.4M178.4 133.4l-1.8-2.2-1.7-2.3M232.7 160.9l-1.8-.5-1.7-.5-1.7-.5-1.8-.5M180.5 131l-1.7-2.2-1.8-2.3M224.3 154.2l-1.7-.4-1.7-.3-1.8-.5-1.7-.4M186.1 132.7l-1.8-2-1.7-2.1M219.5 148.9l-1.7-.4-1.8-.4-1.7-.5-1.8-.6M191.7 133.8l-1.8-1.8-1.7-1.8-1.7-1.9-1.8-2.1M214.7 143.5l-1.8-.5-1.7-.6-1.8-.7-1.7-.8-1.7-.8-1.8-1-1.7-1-1.8-1.2-1.7-1.2-1.7-1.4-1.8-1.4-1.7-1.6-1.8-1.7-1.7-1.8M209.8 137.8l-1.7-.7-1.8-.9-1.7-.9-1.8-1.1-1.7-1.1-1.7-1.3-1.8-1.4-1.7-1.4M203 121.6l-1.8-1.1-1.7-1.2M212 125.3l-1.7-.4-1.7-.4-1.8-.6-1.7-.8M194.6 116.1l-1.7-1.6-1.7-1.7-1.8-1.8-1.7-2M217.6 126.7l-1.7 .2-1.8 0M182.8 106.4l-1.7-2.3-1.7-2.3M223.2 127.6l-1.7 .7-1.8 .6M171 96.5l-1.7-2.6-1.8-2.5M228.8 128l-1.7 1.3-1.8 1.2M155.7 85.8l-1.7-2.2-1.7-2.2M234.4 128l-1.7 1.9-1.8 1.8"/><path stroke="#ffff00" d="M236.2 162.2l1-2.3 1.1-2.4M231.3 155.6l1.1-2.2 1-2.3M227.8 154.9l1.1-2.1 1-2.2M226.5 150.1l1-2.1 1.1-2.2M223 149.6l1-2.1 1.1-2M221.6 145l1.1-2 1-2M218.1 144.4l1.1-1.9 1-1.9M216.8 140l1-1.8 1.1-1.7M213.3 139.1l1-1.7 1.1-1.6M211.9 134.8l1.1-1.4 1-1.4M226.7 125.8l1 1 1.1 1.2M208.4 133.5l1.1-1.3 1-1.3M221.1 126l1.1 .7 1 .9M205 131.7l1-1.2 1.1-1.1 1-1 1.1-.8M213.4 125.5l1.1-.1 1 .2 1.1 .4 1 .7M201.5 129.5l1-1 1.1-1 1-.8 1.1-.7 1.1-.6 1-.4 1.1-.3 1 0 1.1 .2 1 .4M195.9 129l1-1.1 1.1-1 1.1-1 1-.8 1.1-.7 1-.5 1.1-.4 1-.3 1.1 0 1 .2 1.1 .4 1.1 .7M190.3 127.8l1.1-1.1 1-1 1.1-1 1-.9M200.9 121l1 .2 1.1 .4M182.6 128.6l1.1-1.2 1-1.2 1.1-1.1 1-1.1M199.5 119.3l1 .9 1.1 1.1M174.9 128.9l1.1-1.2 1-1.2 1.1-1.2 1-1.2M196 116.5l1.1 1.1 1 1.4M165.1 131l1-1.1 1.1-1.1 1.1-1.2 1-1.1M153.2 133.8l1-.8 1.1-.9 1-1 1.1-.9 1-1 1.1-1.1M139.1 137.8l1.1-.9 1-.9 1.1-.9 1.1-.8 1-.9 1.1-.9 1-.8 1.1-.9M187.7 109l1 2.5 1.1 2.8M131.4 138l1.1-1.2 1-1.2 1.1-1.1 1.1-1M125.8 136.6l1.1-1.5 1.1-1.4M120.3 135.7l1-1.7 1.1-1.6M179.4 101.8l1 4.1 1.1 4.5M114.7 135.6l1-2 1.1-1.8M105.6 133l1.1-2.3 1-2.2M102.1 130l1.1-2.3 1-2.3M98.6 127.5l1.1-2.4 1.1-2.3M95.2 125.5l1-2.5 1.1-2.3M91.7 124.1l1-2.5 1.1-2.4M86.8 118.3l1.1-2.5 1-2.4M152.3 81.4l1 9.1 1.1 10M105.6 133l-1.7-1.5-1.8-1.5-1.7-1.3-1.8-1.2-1.7-1.1-1.7-.9-1.8-.8-1.7-.6-1.8-.4-1.7-.3M114.7 135.6l-1.8-1.9-1.7-1.8M86.8 118.3l-1.7 .3-1.7 .6M120.3 135.7l-1.8-2-1.7-1.9M125.8 136.6l-1.7-2.1-1.7-2.1M131.4 138l-1.7-2.1-1.7-2.2M133.5 135.6l-1.7-2.2-1.7-2.1M139.1 137.8l-1.7-2.1-1.7-2.2M141.2 136l-1.7-2.2-1.7-2.3M143.4 134.3l-1.8-2.3-1.7-2.3M145.5 132.5l-1.8-2.3-1.7-2.3M153.2 133.8l-1.8-2.3-1.7-2.5M155.3 132.1l-1.8-2.5-1.7-2.5M157.4 130.2l-1.8-2.5-1.7-2.6M165.1 131l-1.8-2.5-1.7-2.5M167.2 128.8l-1.7-2.5-1.8-2.6M174.9 128.9l-1.7-2.4-1.8-2.4M236.2 162.2l-1.8-.7-1.7-.6M177 126.5l-1.7-2.4-1.8-2.5M231.3 155.6l-1.7-.3-1.8-.4-1.7-.3-1.8-.4M182.6 128.6l-1.7-2.2-1.8-2.3M226.5 150.1l-1.8-.3-1.7-.2-1.8-.4-1.7-.3M184.7 126.2l-1.7-2.1-1.8-2.3M221.6 145l-1.7-.3-1.8-.3-1.7-.4-1.7-.5M190.3 127.8l-1.7-1.8-1.8-2M216.8 140l-1.8-.4-1.7-.5-1.8-.6-1.7-.7M195.9 129l-1.7-1.6-1.8-1.7-1.7-1.9-1.8-1.9M211.9 134.8l-1.7-.6-1.8-.7-1.7-.9-1.7-.9-1.8-1-1.7-1.2-1.8-1.3-1.7-1.3-1.7-1.5-1.8-1.6M207.1 129.4l-1.8-.9-1.7-1-1.7-1.1-1.8-1.3-1.7-1.3-1.8-1.5M205.7 126l-1.7-1-1.8-1.1-1.7-1.2-1.8-1.4M207.8 125l-1.7-.8-1.8-1-1.7-1-1.7-1.2-1.8-1.2-1.7-1.4M213.4 125.5l-1.7-.4-1.8-.4-1.7-.6-1.8-.7-1.7-.9-1.7-.9M199.5 119.3l-1.8-1.3-1.7-1.5-1.7-1.6-1.8-1.7M215.5 125.6l-1.7-.1-1.8-.2M187.7 109l-1.8-2-1.7-2.2M221.1 126l-1.7 .4-1.8 .3M179.4 101.8l-1.8-2.4-1.7-2.5M226.7 125.8l-1.7 1-1.8 .8M152.3 81.4l-1.8-2.1-1.7-2"/><path stroke="#fffb00" d="M238.3 157.5l1-2.5 1.1-2.5M234.8 156.5l1-2.4 1.1-2.4M229.9 150.6l1.1-2.3 1-2.3M225.1 145.5l1-2.2 1.1-2.1M220.2 140.6l1.1-1.9 1.1-1.9M218.9 136.5l1-1.8 1.1-1.7M215.4 135.8l1.1-1.6 1-1.5M232.3 125.1l1 1.3 1.1 1.6M214 132l1.1-1.3 1-1.2M224.6 124.8l1 .4 1.1 .6M210.5 130.9l1.1-1.1 1.1-1.1 1-.9 1.1-.8 1-.7 1.1-.4 1-.3 1.1-.1 1 .1 1.1 .4M209.2 127.6l1-.8 1.1-.6 1-.4 1.1-.3M194.5 123.8l1.1-.8 1-.7 1.1-.6 1-.4 1.1-.2 1.1-.1M186.8 124l1.1-1.1 1-1 1.1-.9 1-.8 1.1-.7 1.1-.5 1-.4 1.1-.3 1-.1 1.1 .2 1 .3 1.1 .6M179.1 124.1l1.1-1.2 1-1.1 1.1-1.1 1-1.1M193.9 115.2l1.1 .5 1 .8M169.3 126.5l1.1-1.2 1-1.2 1.1-1.3 1-1.2M192.5 113.2l1.1 1.3 1 1.6M159.5 128.1l1.1-1 1-1.1 1.1-1.2 1-1.1 1.1-1.2 1-1.2M189 109.5l1.1 1.5 1.1 1.8M147.6 130.8l1-.9 1.1-.9 1-.9 1.1-1 1.1-1 1-1M135.7 133.5l1-1 1.1-1 1-.9 1.1-.9 1-.9 1.1-.9M184.2 104.8l1.1 2.7 1 3M128 133.7l1-1.2 1.1-1.2 1-1.1 1.1-1.1M122.4 132.4l1-1.5 1.1-1.4M116.8 131.8l1-1.8 1.1-1.6M175.9 96.9l1 4.3 1.1 4.9M111.2 131.9l1-2 1.1-1.9M107.7 128.5l1.1-2.1 1-1.9M167.5 91.4l1.1 6.2 1.1 6.9M90.3 118.4l1.1-2.4 1-2.3M85.5 114l1-2.5 1.1-2.4M148.8 77.3l1 9.4 1.1 10.2M84.1 110.3l1.1-2.6 1-2.5M82.7 107.1l1.1-2.7 1-2.8M81.4 104.3l1-3 1.1-3M111.2 131.9l-1.8-1.7-1.7-1.7-1.7-1.6-1.8-1.5M90.3 118.4l-1.7-.2-1.8 .1M116.8 131.8l-1.8-2-1.7-1.8M85.5 114l-1.8 .7-1.7 .9M122.4 132.4l-1.8-2-1.7-2M84.1 110.3l-1.7 1.1-1.8 1.3M128 133.7l-1.8-2.1-1.7-2.1M82.7 107.1l-1.7 1.4-1.7 1.8M130.1 131.3l-1.8-2.2-1.7-2.1M81.4 104.3l-1.8 1.8-.6 .7M135.7 133.5l-1.8-2.2-1.7-2.2M137.8 131.5l-1.8-2.2-1.7-2.3M139.9 129.7l-1.8-2.3-1.7-2.4M147.6 130.8l-1.8-2.4-1.7-2.4M149.7 129l-1.8-2.4-1.7-2.6M151.8 127.1l-1.7-2.5-1.8-2.6M159.5 128.1l-1.7-2.5-1.8-2.6M161.6 126l-1.7-2.7-1.8-2.6M163.7 123.7l-1.7-2.7-1.8-2.7M169.3 126.5l-1.7-2.6-1.8-2.6M171.4 124.1l-1.7-2.6-1.8-2.7M238.3 157.5l-1.8-.5-1.7-.5-1.8-.5-1.7-.4M179.1 124.1l-1.7-2.4-1.8-2.4M229.9 150.6l-1.7-.2-1.7-.3M181.2 121.8l-1.7-2.4-1.7-2.4M225.1 145.5l-1.7-.2-1.8-.3M186.8 124l-1.7-2.1-1.8-2.3M220.2 140.6l-1.7-.3-1.7-.3M188.9 121.9l-1.7-2-1.7-2.2M218.9 136.5l-1.8-.3-1.7-.4-1.7-.4-1.8-.6M194.5 123.8l-1.7-1.7-1.8-1.9-1.7-1.9-1.7-2.1M214 132l-1.7-.5-1.8-.6-1.7-.7-1.7-.8M196.6 122.3l-1.7-1.6-1.7-1.7-1.8-1.9-1.7-1.9M212.7 128.7l-1.8-.5-1.7-.6-1.8-.8-1.7-.8M198.7 121.3l-1.7-1.4-1.7-1.6-1.8-1.7-1.7-1.8M214.8 127l-1.8-.3-1.7-.5-1.7-.6-1.8-.6M197.4 118.4l-1.8-1.6-1.7-1.6-1.7-1.8-1.8-1.9M216.9 125.9l-1.8-.2-1.7-.2M192.5 113.2l-1.7-1.8-1.8-1.9-1.7-2.1-1.7-2.1M219 125.5l-1.7 .1-1.8 0M184.2 104.8l-1.7-2.3-1.8-2.3M224.6 124.8l-1.8 .7-1.7 .5M175.9 96.9l-1.8-2.5-1.7-2.7M167.5 91.4l-1.7-2.6-1.7-2.7M232.3 125.1l-1.8 1.5-1.7 1.4M148.8 77.3l-1.8-1.9-1.7-1.9"/><path stroke="#fff700" d="M236.9 151.7l1.1-2.5 1-2.6M233.4 151.1l1.1-2.4 1-2.4M228.6 145.8l1-2.3 1.1-2.3M227.2 141.2l1.1-2.2 1-2.2M223.7 141l1.1-2 1-2.1M222.4 136.8l1-1.9 1.1-1.8M221 133l1-1.6 1.1-1.6M217.5 132.7l1.1-1.5 1-1.4 1.1-1.3 1-1.2M230.2 123.6l1 .6 1.1 .9M216.1 129.5l1.1-1.1 1-1.1 1.1-.8 1.1-.7 1-.6 1.1-.3 1-.2 1.1 .1M183.3 119.6l1.1-.9 1.1-1 1-.8 1.1-.7 1-.6 1.1-.4 1-.3 1.1-.1 1 .1 1.1 .3M173.5 121.6l1.1-1.2 1-1.1 1.1-1.2 1.1-1.1M190.4 111.5l1.1 .7 1 1M165.8 121.3l1.1-1.2 1-1.3M153.9 125.1l1.1-1.1 1-1 1.1-1.2 1-1.1 1.1-1.2 1-1.2M185.6 105.3l1 1.7 1.1 2M142 127.9l1-1 1.1-.9 1.1-1 1-1 1.1-1 1-1M132.2 129.1l1-1.1 1.1-1 1-1 1.1-1M180.7 100.2l1.1 2.8 1 3.4M124.5 129.5l1-1.3 1.1-1.2 1-1.2 1.1-1.1M118.9 128.4l1-1.5 1.1-1.4M113.3 128l1.1-1.8 1-1.6M109.8 124.5l1.1-1.8 1-1.7M104.2 125.4l1.1-2.1 1-1.9M100.8 122.8l1-2.1 1.1-2.1M164.1 86.1l1 6.6 1.1 7.2M97.3 120.7l1-2.2 1.1-2.1M93.8 119.2l1-2.3 1.1-2.2M88.9 113.4l1.1-2.4 1.1-2.3M87.6 109.1l1-2.5 1.1-2.4M145.3 73.5l1.1 9.7 1 10.6M141.8 70.3l1.1 10 1 10.8M138.3 67.7l1.1 10.2 1.1 11.2M104.2 125.4l-1.7-1.3-1.7-1.3-1.8-1.1-1.7-1-1.8-.8-1.7-.7-1.7-.5-1.8-.3M113.3 128l-1.7-1.8-1.8-1.7-1.7-1.6-1.8-1.5M88.9 113.4l-1.7 .2-1.7 .4M118.9 128.4l-1.8-1.9-1.7-1.9M87.6 109.1l-1.8 .5-1.7 .7M124.5 129.5l-1.8-2-1.7-2M126.6 127l-1.8-2.1-1.7-2.1M132.2 129.1l-1.8-2.2-1.7-2.2M134.3 127l-1.8-2.3-1.7-2.2M142 127.9l-1.8-2.4-1.7-2.4M144.1 126l-1.7-2.5-1.8-2.5M146.2 124l-1.7-2.5-1.8-2.6M153.9 125.1l-1.7-2.6-1.8-2.7M156 123l-1.7-2.7-1.8-2.8M158.1 120.7l-1.7-2.8-1.7-2.8M165.8 121.3l-1.7-2.7-1.7-2.8M173.5 121.6l-1.7-2.5-1.7-2.7M175.6 119.3l-1.7-2.6-1.7-2.7M236.9 151.7l-1.7-.3-1.8-.3-1.7-.3-1.8-.2M228.6 145.8l-1.8-.2-1.7-.1M183.3 119.6l-1.7-2.3-1.7-2.4M227.2 141.2l-1.7-.1-1.8-.1-1.7-.2-1.8-.2M185.5 117.7l-1.8-2.2-1.7-2.4M222.4 136.8l-1.8-.1-1.7-.2M187.6 116.2l-1.8-2.1-1.7-2.3M221 133l-1.8-.1-1.7-.2-1.7-.3-1.8-.4M189.7 115.2l-1.8-2.1-1.7-2.1M219.6 129.8l-1.7-.1-1.8-.2-1.7-.3-1.7-.5M191.8 114.8l-1.8-1.9-1.7-2.1M218.2 127.3l-1.7-.1-1.7-.2M190.4 111.5l-1.7-2-1.8-2.1M220.4 125.8l-1.8 .1-1.7 0M185.6 105.3l-1.8-2.3-1.7-2.4M222.5 124.9l-1.8 .3-1.7 .3M180.7 100.2l-1.7-2.5-1.8-2.6M230.2 123.6l-1.8 1.2-1.7 1M164.1 86.1l-1.8-2.6-1.7-2.7M145.3 73.5l-1.7-1.6-1.8-1.6-1.7-1.4-1.8-1.2-1.7-1-.6-.3M237.9 123.8l-1.8 2.1-1.7 2.1"/><path stroke="#ffce00" d="M240.4 152.5l1-2.7 1.1-2.7M235.5 146.3l1.1-2.6 1-2.5M232 146l1.1-2.4 1.1-2.4M230.7 141.2l1-2.3 1.1-2.4M225.8 136.9l1.1-2 1-2.1M224.5 133.1l1-1.9 1.1-1.7M223.1 129.8l1.1-1.5 1-1.4M221.7 127.3l1.1-1.1 1-.9 1.1-.8 1-.6 1.1-.4 1.1-.2 1 0 1.1 .3M177.8 117l1-1.1 1.1-1 1-.9 1.1-.9 1-.7 1.1-.6 1-.5 1.1-.3 1.1-.2 1 0 1.1 .3 1 .4M167.9 118.8l1.1-1.2 1.1-1.2 1-1.2 1.1-1.2M186.9 107.4l1.1 .9 1 1.2M160.2 118.3l1.1-1.3 1.1-1.2M148.3 122l1.1-1.1 1-1.1 1.1-1.1 1-1.2 1.1-1.2 1.1-1.2M182.1 100.6l1 1.9 1.1 2.3M136.4 125l1.1-1 1-.9 1.1-1.1 1-1 1.1-1 1-1.1M128.7 124.7l1.1-1.1 1-1.1 1.1-1.1 1-1.1M121 125.5l1.1-1.4 1-1.3 1.1-1.3 1-1.2M115.4 124.6l1.1-1.6 1-1.5M172.4 91.7l1.1 4.6 1 5.1M111.9 121l1.1-1.6 1-1.6M106.3 121.4l1.1-1.9 1.1-1.8M102.9 118.6l1-1.9 1.1-1.9M99.4 116.4l1-2.1 1.1-1.9M160.6 80.8l1 6.8 1.1 7.5M95.9 114.7l1.1-2.1 1-2.1M92.4 113.7l1.1-2.3 1-2.2M91.1 108.7l1-2.2 1.1-2.3M86.2 105.2l1.1-2.6 1-2.6M84.8 101.6l1.1-2.8 1.1-2.8M83.5 98.3l1-3.1 1.1-3.1M106.3 121.4l-1.7-1.5-1.7-1.3-1.8-1.2-1.7-1-1.8-1-1.7-.7-1.7-.6-1.8-.4-1.7-.3-1.8 0M115.4 124.6l-1.7-1.9-1.8-1.7-1.7-1.7-1.7-1.6M91.1 108.7l-1.8 .1-1.7 .3M121 125.5l-1.7-2-1.8-2M86.2 105.2l-1.7 .8-1.8 1.1M123.1 122.8l-1.7-2.1-1.8-2M84.8 101.6l-1.7 1.2-1.7 1.5M128.7 124.7l-1.7-2.2-1.8-2.2M83.5 98.3l-1.8 1.6-.5 .6M130.8 122.5l-1.7-2.3-1.8-2.2M136.4 125l-1.7-2.3-1.8-2.4M138.5 123.1l-1.7-2.5-1.8-2.4M140.6 121l-1.7-2.5-1.8-2.5M148.3 122l-1.7-2.6-1.8-2.7M150.4 119.8l-1.7-2.7-1.7-2.7M152.5 117.5l-1.7-2.7-1.7-2.9M160.2 118.3l-1.7-2.8-1.7-2.9M167.9 118.8l-1.7-2.7-1.7-2.8M170.1 116.4l-1.8-2.8-1.7-2.8M240.4 152.5l-1.8-.4-1.7-.4M177.8 117l-1.8-2.6-1.7-2.6M235.5 146.3l-1.7-.2-1.8-.1-1.7-.1-1.7-.1M179.9 114.9l-1.8-2.5-1.7-2.6M230.7 141.2l-1.8 0-1.7 0M182 113.1l-1.8-2.4-1.7-2.6M225.8 136.9l-1.7 0-1.7-.1M184.1 111.8l-1.8-2.4-1.7-2.5M224.5 133.1l-1.8 0-1.7-.1M186.2 111l-1.7-2.3-1.8-2.4M223.1 129.8l-1.7 .1-1.8-.1M188.3 110.8l-1.7-2.1-1.8-2.3M221.7 127.3l-1.7 .1-1.8-.1M186.9 107.4l-1.7-2.2-1.7-2.4M223.8 125.3l-1.7 .3-1.7 .2M182.1 100.6l-1.7-2.4-1.8-2.6M225.9 123.9l-1.7 .5-1.7 .5M228.1 123.3l-1.8 .8-1.7 .7M172.4 91.7l-1.7-2.7-1.8-2.7M160.6 80.8l-1.7-2.6-1.8-2.6"/><path stroke="#ff6400" d="M239 146.6l1.1-2.7 1-2.7M234.2 141.2l1-2.5 1.1-2.5M229.3 136.8l1.1-2.2 1-2.2M227.9 132.8l1.1-2 1.1-1.9M226.6 129.5l1-1.7 1.1-1.7M225.2 126.9l1.1-1.3 1-1.2M233.6 121l1.1 .2 1.1 .6 1 .8 1.1 1.2M172.2 114l1-1.1 1.1-1.1 1-1.1 1.1-.9 1-.9 1.1-.8M182.7 106.3l1.1-.1 1 .2 1.1 .4 1 .6M162.4 115.8l1-1.3 1.1-1.2 1-1.3 1.1-1.2M183.5 102.8l1 1.1 1.1 1.4M154.7 115.1l1-1.2 1.1-1.3M142.7 118.9l1.1-1.1 1-1.1 1.1-1.1 1.1-1.2M132.9 120.3l1.1-1 1-1.1 1.1-1.1 1-1.1M177.2 95.1l1.1 3.1 1.1 3.6M125.2 120.3l1.1-1.2 1-1.1 1.1-1.2 1-1.1M117.5 121.5l1.1-1.4 1-1.4 1.1-1.3 1-1.3M114 117.8l1.1-1.5 1.1-1.5M168.9 86.3l1.1 4.8 1 5.4M108.5 117.7l1-1.7 1.1-1.6M105 114.8l1-1.8 1.1-1.7M94.5 109.2l1.1-2.1 1-2.1M89.7 104.2l1-2.4 1.1-2.4M108.5 117.7l-1.8-1.5-1.7-1.4-1.8-1.3-1.7-1.1M94.5 109.2l-1.7-.3-1.7-.2M117.5 121.5l-1.7-1.9-1.8-1.8-1.7-1.8-1.7-1.6M89.7 104.2l-1.8 .4-1.7 .6M119.6 118.7l-1.7-1.9-1.7-2M125.2 120.3l-1.7-2.1-1.8-2.1M127.3 118l-1.7-2.3-1.7-2.1M132.9 120.3l-1.7-2.3-1.8-2.3M135 118.2l-1.7-2.4-1.7-2.5M142.7 118.9l-1.7-2.6-1.7-2.6M144.8 116.7l-1.7-2.7-1.7-2.7M154.7 115.1l-1.8-2.8-1.7-2.9M162.4 115.8l-1.8-2.9-1.7-2.9M164.5 113.3l-1.8-2.9-1.7-3M172.2 114l-1.8-2.8-1.7-2.8M174.3 111.8l-1.8-2.8-1.7-2.8M239 146.6l-1.7-.2-1.8-.1M176.4 109.8l-1.8-2.8-1.7-2.8M234.2 141.2l-1.8 0-1.7 0M229.3 136.8l-1.7 .1-1.8 0M227.9 132.8l-1.7 .2-1.7 .1M182.7 106.3l-1.7-2.5-1.8-2.6M226.6 129.5l-1.8 .2-1.7 .1M184.8 106.4l-1.7-2.4-1.8-2.5M225.2 126.9l-1.7 .2-1.8 .2M183.5 102.8l-1.8-2.4-1.7-2.5M177.2 95.1l-1.7-2.6-1.7-2.7M168.9 86.3l-1.7-2.8-1.8-2.8M233.6 121l-1.7 1.4-1.7 1.2M235.8 121.8l-1.8 1.7-1.7 1.6"/><path stroke="#fc2b00" d="M242.5 147.1l1-2.8 1.1-2.9M237.6 141.2l1.1-2.7 1-2.7M232.8 136.5l1-2.3 1.1-2.4M231.4 132.4l1.1-2.2 1-2.2M230.1 128.9l1-1.9 1.1-1.9M228.7 126.1l1-1.5 1.1-1.4M227.3 124.4l1.1-1 1-.9 1.1-.7 1-.5 1.1-.3 1 0M178.5 108.1l1.1-.7 1-.5 1.1-.4 1-.2M166.6 110.8l1-1.2 1.1-1.2 1-1.1 1.1-1.1M181.3 101.5l1.1 .6 1.1 .7M156.8 112.6l1-1.3 1.1-1.3 1-1.3 1.1-1.3M180 97.9l1 1.2 1.1 1.5M147 114.4l1-1.2 1.1-1.3 1-1.2 1.1-1.3M178.6 95.6l1.1 2.1 1 2.5M137.1 116l1.1-1.1 1.1-1.2 1-1.2 1.1-1.2M129.4 115.7l1.1-1.2 1.1-1.2 1-1.2 1.1-1.2M173.8 89.8l1 3.3 1.1 3.8M121.7 116.1l1.1-1.3 1.1-1.2 1-1.3 1.1-1.3M116.2 114.8l1-1.4 1.1-1.4M110.6 114.4l1-1.6 1.1-1.6M107.1 111.3l1-1.7 1.1-1.7M101.5 112.4l1-1.9 1.1-1.9M98 110.5l1.1-2 1-2M157.1 75.6l1.1 7 1 7.8M93.2 104.2l1-2.2 1.1-2.2M88.3 100l1.1-2.6 1-2.6M87 96l1-2.8 1.1-2.9M85.6 92.1l1-3.1 1.1-3.1M101.5 112.4l-1.7-1-1.8-.9-1.7-.7-1.8-.6M110.6 114.4l-1.8-1.6-1.7-1.5-1.8-1.4-1.7-1.3M93.2 104.2l-1.8-.1-1.7 .1M116.2 114.8l-1.8-1.8-1.7-1.8M88.3 100l-1.7 .7-1.8 .9M121.7 116.1l-1.7-2.1-1.7-2M87 96l-1.8 1-1.7 1.3M123.9 113.6l-1.8-2.2-1.7-2.1M85.6 92.1l-1.8 1.4-.5 .5M129.4 115.7l-1.7-2.4-1.7-2.3M131.6 113.3l-1.8-2.4-1.7-2.4M137.1 116l-1.7-2.5-1.7-2.6M139.3 113.7l-1.8-2.6-1.7-2.7M147 114.4l-1.8-2.8-1.7-2.8M149.1 111.9l-1.8-2.8-1.7-3M156.8 112.6l-1.8-2.9-1.7-3M158.9 110l-1.8-3-1.7-3M166.6 110.8l-1.8-2.9-1.7-3M168.7 108.4l-1.8-2.9-1.7-3M242.5 147.1l-1.8-.3-1.7-.2M237.6 141.2l-1.7 0-1.7 0M178.5 108.1l-1.7-2.7-1.8-2.7M232.8 136.5l-1.7 .2-1.8 .1M180.6 106.9l-1.7-2.6-1.8-2.7M231.4 132.4l-1.7 .2-1.8 .2M230.1 128.9l-1.8 .3-1.7 .3M181.3 101.5l-1.7-2.6-1.7-2.6M228.7 126.1l-1.8 .4-1.7 .4M180 97.9l-1.8-2.7-1.7-2.7M227.3 124.4l-1.7 .5-1.8 .4M178.6 95.6l-1.7-2.7-1.8-2.7M229.4 122.5l-1.7 .7-1.8 .7M173.8 89.8l-1.8-2.8-1.7-2.8M231.5 121.3l-1.7 1-1.7 1M157.1 75.6l-1.7-2.6-1.8-2.5M241.3 119.3l-1.7 2.3-1.7 2.2"/><path stroke="#f81d00" d="M241.1 141.2l1.1-2.8 1-2.9M236.3 136.2l1-2.6 1.1-2.5M234.9 131.8l1.1-2.4 1-2.4M230.8 123.2l1.1-1.3 1-1.2M239.2 118.1l1.1 .4 1 .8M170.8 106.2l1.1-1 1-1 1.1-.8 1-.7 1.1-.6 1-.5 1.1-.3 1-.1 1.1 0 1 .3M161 107.4l1-1.2 1.1-1.3 1.1-1.2 1-1.2M177.9 96.3l1 .6 1.1 1M151.2 109.4l1-1.4 1.1-1.3 1-1.3 1.1-1.4M141.4 111.3l1-1.2 1.1-1.3 1-1.3 1.1-1.4M175.1 90.2l1.1 2.3 1 2.6M133.7 110.9l1-1.2 1.1-1.3 1-1.3 1.1-1.3M126 111l1-1.2 1.1-1.3M118.3 112l1-1.4 1.1-1.3 1-1.4 1.1-1.4M112.7 111.2l1-1.5 1.1-1.5M165.4 80.7l1.1 5 1 5.7M109.2 107.9l1-1.6 1.1-1.6M103.6 108.6l1.1-1.8 1-1.7M100.1 106.5l1.1-1.9 1-1.9M96.6 105l1.1-2.1 1.1-2M153.6 70.5l1.1 7.3 1 8M95.3 99.8l1-2.3 1.1-2.2M91.8 99.4l1.1-2.4 1-2.4M90.4 94.8l1.1-2.6 1-2.6M103.6 108.6l-1.7-1.1-1.8-1-1.7-.8-1.8-.7-1.7-.5-1.7-.3M112.7 111.2l-1.8-1.7-1.7-1.6-1.7-1.5-1.8-1.3M95.3 99.8l-1.8-.3-1.7-.1-1.7 .2-1.8 .4M118.3 112l-1.8-1.9-1.7-1.9M90.4 94.8l-1.7 .5-1.7 .7M120.4 109.3l-1.8-2.1-1.7-2M126 111l-1.8-2.2-1.7-2.3M133.7 110.9l-1.8-2.5-1.7-2.5M135.8 108.4l-1.8-2.6-1.7-2.7M141.4 111.3l-1.8-2.7-1.7-2.8M143.5 108.8l-1.8-2.9-1.7-2.8M151.2 109.4l-1.8-3-1.7-3M153.3 106.7l-1.8-3-1.7-3.1M161 107.4l-1.8-3-1.7-3.1M163.1 104.9l-1.7-3.1-1.8-3.1M170.8 106.2l-1.7-2.9-1.8-3M172.9 104.2l-1.7-2.9-1.8-3M241.1 141.2l-1.7 0-1.8 0M175 102.7l-1.7-2.9-1.8-2.9M236.3 136.2l-1.8 .2-1.7 .1M177.1 101.6l-1.7-2.8-1.8-2.9M234.9 131.8l-1.7 .3-1.8 .3M179.2 101.2l-1.7-2.7-1.7-2.8M177.9 96.3l-1.8-2.8-1.7-2.9M230.8 123.2l-1.7 .6-1.8 .6M175.1 90.2l-1.7-2.8-1.7-2.9M165.4 80.7l-1.7-2.8-1.7-2.9M153.6 70.5l-1.7-2.5-1.7-2.5M239.2 118.1l-1.7 1.9-1.7 1.8"/><path stroke="#f31b00" d="M244.6 141.4l1.1-3 1-3M239.7 135.8l1.1-2.7 1.1-2.7M233.5 128l1.1-2.1 1-2.1M232.2 125.1l1-1.8 1.1-1.6M232.9 120.7l1.1-.9 1-.8 1.1-.6 1-.4 1.1-.1 1 .2M165.2 102.5l1.1-1.2 1-1 1.1-1 1-1M175.8 95.7l1 .2 1.1 .4M155.4 104l1-1.3 1.1-1.4M176.5 92.5l1.1 1.4 1 1.7M145.6 106.1l1-1.3 1.1-1.4 1-1.4 1.1-1.4M137.9 105.8l1-1.3 1.1-1.4M128.1 108.5l1-1.3 1.1-1.3 1-1.4 1.1-1.4M170.3 84.2l1 3.5 1.1 4M122.5 106.5l1-1.3 1.1-1.4M114.8 108.2l1-1.5 1.1-1.5 1-1.5 1.1-1.5M111.3 104.7l1.1-1.6 1-1.7M105.7 105.1l1.1-1.8 1-1.8M102.2 102.7l1.1-1.9 1-1.9M98.8 100.9l1-2.1 1.1-2M93.9 94.6l1.1-2.4 1-2.4M89.1 90.3l1-2.9 1.1-2.9M87.7 85.9l1-3.2 1.1-3.2M105.7 105.1l-1.7-1.3-1.8-1.1-1.7-1-1.7-.8-1.8-.7-1.7-.4M114.8 108.2l-1.8-1.8-1.7-1.7-1.7-1.6-1.8-1.6M93.9 94.6l-1.7 0-1.8 .2M116.9 105.2l-1.7-1.9-1.8-1.9M89.1 90.3l-1.8 .8-1.7 1M122.5 106.5l-1.8-2.1-1.7-2.2M87.7 85.9l-1.7 1.1-.6 .5M128.1 108.5l-1.8-2.4-1.7-2.3M130.2 105.9l-1.8-2.5-1.7-2.5M137.9 105.8l-1.8-2.7-1.7-2.8M145.6 106.1l-1.8-2.9-1.7-2.9M147.7 103.4l-1.7-3-1.8-3.1M155.4 104l-1.7-3.1-1.8-3.1M165.2 102.5l-1.7-3.1-1.8-3.2M167.3 100.3l-1.7-3.1-1.8-3.2M244.6 141.4l-1.7-.1-1.8-.1M239.7 135.8l-1.7 .2-1.7 .2M175.8 95.7l-1.8-2.9-1.7-3M233.5 128l-1.7 .5-1.7 .4M232.2 125.1l-1.8 .6-1.7 .4M176.5 92.5l-1.7-2.8-1.8-2.9M232.9 120.7l-1.7 .9-1.8 .9M170.3 84.2l-1.8-2.9-1.7-3M235 119l-1.7 1.2-1.8 1.1M237.1 118l-1.7 1.6-1.8 1.4"/><path stroke="#ee1800" d="M243.2 135.5l1.1-2.9 1-2.9M238.4 131.1l1-2.6 1.1-2.5M237 127l1.1-2.3 1-2.3M235.6 123.8l1.1-2 1.1-1.9M234.3 121.7l1-1.6 1.1-1.4 1-1.3 1.1-1.1M169.4 98.3l1.1-.8 1-.6 1.1-.6 1-.4 1.1-.2 1.1 0M157.5 101.3l1.1-1.3 1-1.3 1.1-1.3 1-1.2M174.4 90.6l1 .8 1.1 1.1M149.8 100.6l1.1-1.4 1-1.4M173 86.8l1.1 1.5 1 1.9M140 103.1l1-1.4 1.1-1.4M171.7 84.5l1 2.4 1.1 2.9M132.3 103.1l1-1.4 1.1-1.4M124.6 103.8l1-1.5 1.1-1.4M166.8 78.3l1.1 3.8 1 4.2M119 102.2l1.1-1.5 1-1.5M113.4 101.4l1.1-1.6 1-1.6M162 75l1 5.3 1.1 5.8M107.8 101.5l1.1-1.7 1-1.8M104.3 98.9l1.1-1.9 1.1-1.9M100.9 96.8l1-2.1 1.1-2.1M97.4 95.3l1-2.2 1.1-2.3M150.2 65.5l1 7.6 1.1 8.3M92.5 89.6l1.1-2.7 1.1-2.7M107.8 101.5l-1.7-1.4-1.8-1.2-1.7-1.2-1.7-.9-1.8-.8-1.7-.7-1.8-.4-1.7-.3M113.4 101.4l-1.7-1.7-1.8-1.7M92.5 89.6l-1.7 .2-1.7 .5M119 102.2l-1.7-2-1.8-2M124.6 103.8l-1.7-2.3-1.8-2.3M132.3 103.1l-1.7-2.6-1.8-2.6M140 103.1l-1.7-2.9-1.8-2.8M149.8 100.6l-1.7-3.1-1.8-3.1M157.5 101.3l-1.7-3.1-1.8-3.2M159.6 98.7l-1.7-3.2-1.8-3.2M169.4 98.3l-1.7-3-1.8-3.2M171.5 96.9l-1.7-3.1-1.7-3.1M243.2 135.5l-1.7 .2-1.8 .1M173.6 95.9l-1.7-3-1.7-3M238.4 131.1l-1.8 .3-1.7 .4M237 127l-1.7 .6-1.8 .4M174.4 90.6l-1.7-2.9-1.8-3.1M235.6 123.8l-1.7 .7-1.7 .6M173 86.8l-1.7-3-1.8-3.1M234.3 121.7l-1.8 .8-1.7 .7M171.7 84.5l-1.8-3-1.7-3M236.4 118.7l-1.8 1.1-1.7 .9M166.8 78.3l-1.7-3-1.8-3M162 75l-1.8-2.9-1.7-2.9M150.2 65.5l-1.8-2.3-1.7-2.3M244.8 114.5l-1.7 2.5-1.8 2.3"/><path stroke="#ea1600" d="M246.7 135.4l1.1-3.1 1-3.1M241.9 130.4l1-2.8 1.1-2.8M240.5 126l1-2.6 1.1-2.5M237.8 119.9l1-1.8 1.1-1.7M238.5 116.3l1.1-.9 1-.7 1.1-.4 1-.2 1.1 0 1 .4M161.7 96.2l1.1-1.1 1-1.1 1.1-1 1-.9M172.3 89.8l1 .3 1.1 .5M151.9 97.8l1.1-1.4 1-1.4M142.1 100.3l1.1-1.5 1-1.5 1.1-1.4 1-1.5M134.4 100.3l1.1-1.4 1-1.5 1.1-1.5 1-1.6M126.7 100.9l1.1-1.5 1-1.5 1.1-1.5 1-1.5M121.1 99.2l1.1-1.6 1-1.5M115.5 98.2l1.1-1.7 1-1.6M109.9 98l1.1-1.7 1-1.8M158.5 69.2l1 5.5 1.1 6.1M106.5 95.1l1-2 1.1-1.9M103 92.6l1-2.1 1.1-2.1M99.5 90.8l1.1-2.2 1-2.3M96 89.8l1.1-2.5 1-2.5M146.7 60.9l1 7.8 1.1 8.6M91.2 84.5l1-2.9 1.1-3M109.9 98l-1.7-1.5-1.7-1.4-1.8-1.3-1.7-1.2-1.8-.9-1.7-.9-1.7-.6-1.8-.4-1.7-.2-1.8 0M115.5 98.2l-1.7-1.9-1.8-1.8M91.2 84.5l-1.8 .6-1.7 .8M121.1 99.2l-1.7-2.2-1.8-2.1M126.7 100.9l-1.7-2.4-1.8-2.4M128.8 97.9l-1.7-2.5-1.8-2.6M134.4 100.3l-1.7-2.7-1.8-2.7M136.5 97.4l-1.7-2.9-1.8-2.8M142.1 100.3l-1.7-3-1.8-3M144.2 97.3l-1.7-3-1.8-3.1M151.9 97.8l-1.7-3.2-1.8-3.2M161.7 96.2l-1.7-3.2-1.8-3.3M163.8 94l-1.7-3.2-1.7-3.3M246.7 135.4l-1.7 0-1.8 .1M241.9 130.4l-1.8 .3-1.7 .4M172.3 89.8l-1.8-3.1-1.7-3.1M240.5 126l-1.7 .5-1.8 .5M237.8 119.9l-1.8 .9-1.7 .9M238.5 116.3l-1.7 1.4-1.8 1.3M158.5 69.2l-1.8-2.8-1.7-2.9M240.6 114.7l-1.7 1.7-1.8 1.6M146.7 60.9l-1.8-2.2-1.7-2M242.7 114.1l-1.7 2-1.8 2"/><path stroke="#e51400" d="M245.3 129.7l1.1-3 1-2.9M239.1 122.4l1.1-2.2 1-2.2M239.9 116.4l1-1.5 1.1-1.4M165.9 92.1l1.1-.7 1.1-.7 1-.5 1.1-.3 1-.2 1.1 .1M154 95l1.1-1.4 1-1.3 1.1-1.3 1-1.3M170.9 84.6l1.1 .9 1 1.3M146.3 94.4l1.1-1.5 1-1.5M169.5 80.7l1.1 1.7 1.1 2.1M138.6 94.3l1.1-1.5 1-1.6M168.2 78.5l1 2.6 1.1 3.1M130.9 94.9l1.1-1.6 1-1.6M123.2 96.1l1.1-1.6 1-1.7M163.3 72.3l1.1 3.9 1 4.5M117.6 94.9l1.1-1.7 1-1.7M112 94.5l1.1-1.8 1.1-1.8M108.6 91.2l1-2 1.1-1.9M94.7 84.2l1-2.7 1.1-2.8M143.2 56.7l1.1 8 1 8.8M89.8 79.5l1.1-3.3 1-3.2M112 94.5l-1.7-1.7-1.7-1.6-1.8-1.4-1.7-1.4M94.7 84.2l-1.8 0-1.7 .3M117.6 94.9l-1.7-2.1-1.7-1.9M89.8 79.5l-1.7 .9-.6 .3M123.2 96.1l-1.7-2.4-1.8-2.2M130.9 94.9l-1.7-2.7-1.8-2.7M138.6 94.3l-1.7-3-1.8-2.9M146.3 94.4l-1.7-3.2-1.8-3.2M154 95l-1.7-3.3-1.8-3.3M156.1 92.3l-1.7-3.3-1.7-3.4M165.9 92.1l-1.7-3.2-1.7-3.3M168.1 90.7l-1.8-3.2-1.7-3.2M170.2 89.9l-1.8-3.2-1.7-3.2M245.3 129.7l-1.7 .3-1.7 .4M170.9 84.6l-1.7-3.1-1.8-3.2M239.1 122.4l-1.7 .7-1.8 .7M169.5 80.7l-1.7-3.1-1.7-3.2M168.2 78.5l-1.8-3.1-1.7-3.1M239.9 116.4l-1.8 1.2-1.7 1.1M163.3 72.3l-1.7-3.1-1.8-3M143.2 56.7l-1.7-2-1.8-1.7"/><path stroke="#dc1200" d="M248.8 129.2l1.1-3.2 1-3.2M244 124.8l1-2.7 1.1-2.8M242.6 120.9l1.1-2.5 1-2.4M241.2 118l1.1-2.1 1-1.9M242 113.5l1-1.3 1.1-1 1-.8 1.1-.6M158.2 89.7l1.1-1.1 1.1-1.1 1-1 1.1-.9M166.7 83.5l1 0 1.1 .1 1.1 .4 1 .6M148.4 91.4l1.1-1.5 1-1.5M140.7 91.2l1.1-1.6 1-1.6M133 91.7l1.1-1.7 1-1.6M125.3 92.8l1.1-1.6 1-1.7M119.7 91.5l1.1-1.8 1.1-1.8M114.2 90.9l1-1.9 1.1-1.9M155 63.5l1.1 5.7 1 6.4M105.1 88.4l1-2.1 1.1-2.2M101.6 86.3l1.1-2.3 1-2.4M98.1 84.8l1.1-2.5 1-2.5M93.3 78.6l1-3 1.1-3.1M139.7 53l1.1 8.2 1 9.1M136.2 49.9l1.1 8.5 1 9.3M105.1 88.4l-1.8-1.1-1.7-1-1.7-.8-1.8-.7-1.7-.4-1.7-.2M114.2 90.9l-1.8-1.9-1.7-1.7M93.3 78.6l-1.8 .3-1.7 .6M119.7 91.5l-1.7-2.2-1.7-2.2M125.3 92.8l-1.7-2.4-1.7-2.5M133 91.7l-1.7-2.9-1.7-2.8M140.7 91.2l-1.7-3.1-1.7-3.1M148.4 91.4l-1.7-3.3-1.7-3.2M158.2 89.7l-1.7-3.3-1.7-3.4M160.4 87.5l-1.8-3.4-1.7-3.4M166.7 83.5l-1.7-3.2-1.8-3.4M248.8 129.2l-1.7 .2-1.8 .3M168.8 83.6l-1.7-3.2-1.8-3.3M244 124.8l-1.8 .6-1.7 .6M242.6 120.9l-1.7 .8-1.8 .7M241.2 118l-1.7 1-1.7 .9M242 113.5l-1.8 1.4-1.7 1.4M155 63.5l-1.7-2.8-1.8-2.8M244.1 111.2l-1.8 1.8-1.7 1.7M139.7 53l-1.7-1.7-1.8-1.4-1.7-1.3-.6-.4M248.3 109.4l-1.7 2.6-1.8 2.5"/><path stroke="#d41100" d="M247.4 123.8l1.1-3 1.1-3M243.3 114l1.1-1.9 1.1-1.7M246.2 109.8l1.1-.3 1-.1M162.5 85.6l1-.7 1.1-.6 1-.5 1.1-.3M150.5 88.4l1.1-1.4 1.1-1.4 1-1.3 1.1-1.3M167.4 78.3l1.1 1.1 1 1.3M142.8 88l1.1-1.6 1.1-1.5M166.1 74.4l1 1.9 1.1 2.2M135.1 88.4l1.1-1.7 1.1-1.7M164.7 72.3l1.1 2.8 1 3.2M127.4 89.5l1.1-1.7 1.1-1.8M121.9 87.9l1-1.8 1.1-1.8M159.8 66.2l1.1 4.1 1.1 4.7M116.3 87.1l1-1.9 1.1-1.9M110.7 87.3l1-2.1 1.1-2M107.2 84.1l1.1-2.1 1-2.3M151.5 57.9l1.1 6 1 6.6M103.7 81.6l1.1-2.4 1-2.4M100.2 79.8l1.1-2.6 1.1-2.6M96.8 78.7l1-2.8 1.1-2.8M91.9 73l1.1-3.4 1-3.3M110.7 87.3l-1.8-1.7-1.7-1.5-1.7-1.3-1.8-1.2-1.7-1-1.8-.8-1.7-.7-1.7-.4-1.8-.2-1.7 .1M116.3 87.1l-1.8-2-1.7-1.9M91.9 73l-1.7 .6-.6 .3M121.9 87.9l-1.8-2.3-1.7-2.3M127.4 89.5l-1.7-2.6-1.7-2.6M135.1 88.4l-1.7-3-1.7-2.9M142.8 88l-1.7-3.2-1.7-3.2M150.5 88.4l-1.7-3.3-1.7-3.3M152.7 85.6l-1.8-3.3-1.7-3.5M162.5 85.6l-1.8-3.3-1.7-3.4M164.6 84.3l-1.8-3.4-1.7-3.3M247.4 123.8l-1.7 .5-1.7 .5M167.4 78.3l-1.7-3.2-1.7-3.3M166.1 74.4l-1.8-3.2-1.7-3.3M164.7 72.3l-1.7-3.2-1.8-3.2M243.3 114l-1.7 1.2-1.7 1.2M159.8 66.2l-1.7-3.1-1.7-3.1M151.5 57.9l-1.7-2.7-1.8-2.6M246.2 109.8l-1.7 2.2-1.8 2.1"/><path stroke="#cc0f00" d="M246.1 119.3l1-2.7 1.1-2.7M244.7 116l1.1-2.4 1-2.2M245.5 110.4l1-1.6 1.1-1.3M154.8 83l1-1.2 1.1-1.1 1-1 1.1-.8M165.3 77.1l1.1 .5 1 .7M145 84.9l1-1.6 1.1-1.5M137.3 85l1-1.7 1.1-1.7M129.6 86l1-1.7 1.1-1.8M124 84.3l1-1.9 1.1-1.8M118.4 83.3l1-2 1.1-1.9M112.8 83.2l1-2.1 1.1-2.1M95.4 72.5l1-3 1.1-3.1M112.8 83.2l-1.8-1.8-1.7-1.7M95.4 72.5l-1.7 .1-1.8 .4M118.4 83.3l-1.8-2.2-1.7-2.1M124 84.3l-1.8-2.5-1.7-2.4M129.6 86l-1.8-2.7-1.7-2.7M137.3 85l-1.8-3.1-1.7-3M145 84.9l-1.8-3.3-1.7-3.3M154.8 83l-1.8-3.4-1.7-3.4M156.9 80.7l-1.8-3.4-1.7-3.5M165.3 77.1l-1.7-3.3-1.8-3.4M246.1 119.3l-1.8 .8-1.7 .8M244.7 116l-1.7 1-1.8 1M245.5 110.4l-1.8 1.5-1.7 1.6"/><path stroke="#c40e00" d="M250.9 122.8l1.1-3.2 1-3.2M249.6 117.8l1-3 1.1-2.9M246.8 111.4l1.1-2.2 1-2M247.6 107.5l1-1.2 1.1-1 1-.7 1.1-.4M159 78.9l1-.8 1.1-.5 1.1-.5 1-.2 1.1 0 1 .2M147.1 81.8l1-1.5 1.1-1.5 1-1.3 1.1-1.3M164 71.8l1 1.1 1.1 1.5M139.4 81.6l1-1.6 1.1-1.7M162.6 67.9l1 2 1.1 2.4M131.7 82.5l1-1.8 1.1-1.8M161.2 65.9l1.1 3 1 3.4M126.1 80.6l1-1.9 1.1-2M120.5 79.4l1-2.1 1.1-2M156.4 60l1 4.3 1.1 4.9M114.9 79l1.1-2.1 1-2.1M109.3 79.7l1.1-2.2 1-2.3M105.8 76.8l1.1-2.4 1-2.5M148 52.6l1.1 6.1 1.1 6.8M102.4 74.6l1-2.7 1.1-2.6M98.9 73.1l1-2.8 1.1-2.9M109.3 79.7l-1.7-1.5-1.8-1.4-1.7-1.2-1.7-1-1.8-.9-1.7-.6-1.8-.4-1.7-.2M114.9 79l-1.7-1.9-1.8-1.9M120.5 79.4l-1.8-2.4-1.7-2.2M126.1 80.6l-1.8-2.7-1.7-2.6M131.7 82.5l-1.8-2.9-1.7-2.9M139.4 81.6l-1.8-3.1-1.7-3.2M147.1 81.8l-1.8-3.4-1.7-3.4M149.2 78.8l-1.8-3.4-1.7-3.4M159 78.9l-1.7-3.5-1.8-3.5M161.1 77.6l-1.7-3.5-1.8-3.5M163.2 76.9l-1.7-3.4-1.8-3.4M250.9 122.8l-1.7 .5-1.8 .5M164 71.8l-1.8-3.4-1.7-3.3M249.6 117.8l-1.8 .7-1.7 .8M162.6 67.9l-1.8-3.3-1.7-3.3M161.2 65.9l-1.7-3.2-1.8-3.3M246.8 111.4l-1.7 1.3-1.8 1.3M156.4 60l-1.8-3-1.7-3.1M148 52.6l-1.7-2.6-1.7-2.5M247.6 107.5l-1.8 1.8-1.7 1.9M249.7 105.3l-1.8 2.3-1.7 2.2M251.8 104.2l-1.8 2.6-1.7 2.6"/><path stroke="#bb0c00" d="M248.2 113.9l1-2.6 1.1-2.5M151.3 76.2l1-1.3 1.1-1.1M161.8 70.4l1.1 .6 1.1 .8M141.5 78.3l1-1.6 1.1-1.7M133.8 78.9l1-1.8 1.1-1.8M128.2 76.7l1-1.9 1.1-1.9M111.4 75.2l1.1-2.3 1-2.3M144.6 47.5l1 6.3 1.1 7.1M97.5 66.4l1.1-3.2 1-3.1M94 66.3l1.1-3.4 1-3.3M111.4 75.2l-1.7-1.7-1.8-1.6M97.5 66.4l-1.7-.2-1.8 .1-1.7 .4-.6 .2M128.2 76.7l-1.8-2.8-1.7-2.7M133.8 78.9l-1.8-3-1.7-3M141.5 78.3l-1.8-3.3-1.7-3.3M151.3 76.2l-1.7-3.5-1.8-3.5M161.8 70.4l-1.7-3.4-1.7-3.5M248.2 113.9l-1.7 1.1-1.8 1M144.6 47.5l-1.8-2.4-1.7-2.2"/><path stroke="#b30b00" d="M253 116.4l1.1-3.2 1-3.2M251.7 111.9l1-2.9 1.1-2.8M250.3 108.8l1.1-2.5 1-2.3M248.9 107.2l1.1-1.9 1-1.7M153.4 73.8l1.1-1 1-.9 1.1-.7 1-.6 1.1-.3 1-.2 1.1 0 1 .3M143.6 75l1-1.5 1.1-1.5M160.5 65.1l1 1.2 1.1 1.6M135.9 75.3l1-1.8 1.1-1.8M159.1 61.3l1.1 2.1 1 2.5M157.7 59.4l1.1 3.2 1 3.6M122.6 75.3l1.1-2 1-2.1M117 74.8l1.1-2.2 1-2.2M152.9 53.9l1 4.5 1.1 5.1M107.9 71.9l1.1-2.5 1.1-2.5M104.5 69.3l1-2.7 1.1-2.7M101 67.4l1-2.9 1.1-2.9M141.1 42.9l1 6.5 1.1 7.3M107.9 71.9l-1.7-1.4-1.7-1.2-1.8-1.1-1.7-.8-1.8-.6-1.7-.4M117 74.8l-1.7-2.2-1.8-2M122.6 75.3l-1.7-2.5-1.8-2.4M135.9 75.3l-1.8-3.2-1.7-3.1M143.6 75l-1.7-3.3-1.8-3.4M153.4 73.8l-1.7-3.5-1.8-3.5M155.5 71.9l-1.7-3.5-1.8-3.6M157.6 70.6l-1.7-3.5-1.8-3.5M159.7 70.1l-1.7-3.5-1.7-3.5M160.5 65.1l-1.8-3.5-1.7-3.4M253 116.4l-1.7 .7-1.7 .7M159.1 61.3l-1.7-3.4-1.8-3.4M251.7 111.9l-1.8 1-1.7 1M157.7 59.4l-1.7-3.2-1.7-3.2M250.3 108.8l-1.7 1.3-1.8 1.3M152.9 53.9l-1.7-3-1.8-2.9M248.9 107.2l-1.7 1.6-1.7 1.6M141.1 42.9l-1.8-2.2-1.7-1.9"/><path stroke="#aa0900" d="M251 103.6l1.1-1.5 1.1-1.4 1-1.1 1.1-.9M145.7 72l1.1-1.5 1-1.3 1.1-1.3 1-1.1M158.4 63.5l1 .6 1.1 1M138 71.7l1.1-1.7 1-1.7M130.3 72.9l1.1-1.9 1-2M124.7 71.2l1.1-2.1 1-2M119.1 70.4l1.1-2.2 1-2.2M113.5 70.6l1.1-2.4 1-2.3M149.4 48l1.1 4.7 1 5.2M110.1 66.9l1-2.5 1.1-2.6M137.6 38.8l1.1 6.7 1 7.5M96.1 59.6l1.1-3.4 1-3.4M113.5 70.6l-1.7-1.9-1.7-1.8-1.8-1.6-1.7-1.4M96.1 59.6l-1.7 .1-.6 .2M119.1 70.4l-1.7-2.3-1.8-2.2M124.7 71.2l-1.7-2.7-1.8-2.5M130.3 72.9l-1.7-3-1.8-2.8M138 71.7l-1.7-3.2-1.8-3.2M145.7 72l-1.7-3.5-1.8-3.4M147.8 69.2l-1.7-3.5-1.8-3.5M158.4 63.5l-1.8-3.5-1.7-3.5M149.4 48l-1.7-2.9-1.8-2.9M137.6 38.8l-1.7-1.9-1.8-1.6M251 103.6l-1.7 1.9-1.7 2M253.2 100.7l-1.8 2.3-1.7 2.3"/><path stroke="#a20800" d="M255.1 110l1.1-3.2 1.1-3.1M253.8 106.2l1-2.8 1.1-2.7M252.4 104l1.1-2.3 1-2M149.9 66.8l1.1-1.1 1-.9 1.1-.7 1-.5 1.1-.4 1.1-.1 1 .1 1.1 .3M140.1 68.3l1.1-1.6 1-1.6M157 58.2l1.1 1.4 1 1.7M132.4 69l1.1-1.9 1-1.8M155.6 54.5l1.1 2.3 1 2.6M126.8 67.1l1.1-2.1 1-2.1M154.3 53l1 3.2 1.1 3.8M121.2 66l1.1-2.3 1-2.2M115.6 65.9l1.1-2.4 1.1-2.4M106.6 63.9l1-2.8 1.1-2.7M103.1 61.6l1-3 1.1-2.9M99.6 60.1l1.1-3.2 1-3.1M134.1 35.3l1.1 6.9 1 7.7M106.6 63.9l-1.8-1.3-1.7-1-1.7-.9-1.8-.6-1.7-.4-1.8-.1M115.6 65.9l-1.7-2.1-1.7-2M121.2 66l-1.7-2.5-1.7-2.4M126.8 67.1l-1.7-2.9-1.8-2.7M132.4 69l-1.7-3-1.8-3.1M140.1 68.3l-1.7-3.4-1.8-3.3M149.9 66.8l-1.7-3.6-1.8-3.5M152 64.8l-1.7-3.5-1.7-3.6M154.1 63.6l-1.7-3.6-1.7-3.6M156.3 63.1l-1.8-3.6-1.7-3.5M157 58.2l-1.7-3.5-1.8-3.4M155.6 54.5l-1.7-3.3-1.8-3.4M255.1 110l-1.7 .9-1.7 1M154.3 53l-1.8-3.2-1.7-3.2M253.8 106.2l-1.8 1.2-1.7 1.4M252.4 104l-1.7 1.6-1.8 1.6M134.1 35.3l-1.7-1.5-.6-.4M255.3 98.7l-1.8 2.8-1.7 2.7"/><path stroke="#980600" d="M254.5 99.7l1.1-1.9 1-1.7M142.2 65.1l1.1-1.5 1-1.4M154.9 56.5l1 .7 1.1 1M134.5 65.3l1.1-1.9 1-1.8M112.2 61.8l1-2.5 1.1-2.6M145.9 42.2l1.1 4.9 1 5.5M98.2 52.8l1.1-3.4 1.1-3.4M112.2 61.8l-1.8-1.8-1.7-1.6M98.2 52.8l-1.7-.1-.6 .1M134.5 65.3l-1.7-3.2-1.8-3.2M142.2 65.1l-1.7-3.5-1.8-3.4M154.9 56.5l-1.8-3.5-1.7-3.6M145.9 42.2l-1.7-2.7-1.7-2.7M254.5 99.7l-1.7 1.9-1.8 2"/><path stroke="#900500" d="M257.3 103.7l1-3.1 1.1-3M255.9 100.7l1-2.5 1.1-2.4M256.6 96.1l1.1-1.6 1-1.2M144.3 62.2l1.1-1.4 1-1.1 1.1-1.1 1.1-.9 1-.7 1.1-.6M152.8 56l1 .1 1.1 .4M136.6 61.6l1.1-1.7 1-1.7M153.5 51.3l1.1 1.4 1 1.8M128.9 62.9l1.1-2 1-2M152.1 47.8l1.1 2.4 1.1 2.8M123.3 61.5l1.1-2.2 1.1-2.2M150.8 46.6l1 3.4 1.1 3.9M117.8 61.1l1-2.4 1.1-2.4M108.7 58.4l1-2.7 1.1-2.8M105.2 55.7l1.1-3 1-2.9M101.7 53.8l1.1-3.2 1-3.2M108.7 58.4l-1.8-1.5-1.7-1.2-1.7-1.1-1.8-.8-1.7-.6-1.8-.4M117.8 61.1l-1.8-2.3-1.7-2.1M123.3 61.5l-1.7-2.6-1.7-2.6M128.9 62.9l-1.7-2.9-1.7-2.9M136.6 61.6l-1.7-3.3-1.7-3.2M144.3 62.2l-1.7-3.5-1.7-3.5M146.4 59.7l-1.7-3.6-1.7-3.5M148.6 57.7l-1.8-3.6-1.7-3.6M152.8 56l-1.8-3.6-1.7-3.6M153.5 51.3l-1.7-3.5-1.8-3.4M152.1 47.8l-1.7-3.3-1.7-3.3M150.8 46.6l-1.8-3.2-1.7-3.1M257.3 103.7l-1.8 1.2-1.7 1.3M255.9 100.7l-1.7 1.6-1.8 1.7M256.6 96.1l-1.7 2.3-1.7 2.3"/><path stroke="#860300" d="M150.7 56.4l1-.3 1.1-.1M138.7 58.2l1.1-1.6 1.1-1.4M131 58.9l1.1-1.9 1.1-1.9M125.5 57.1l1-2.1 1.1-2.2M119.9 56.3l1-2.3 1.1-2.4M147.3 40.3l1.1 3.6 1 4.1M114.3 56.7l1-2.6 1.1-2.5M142.5 36.8l1 5.1 1.1 5.6M114.3 56.7l-1.8-2-1.7-1.8M119.9 56.3l-1.8-2.4-1.7-2.3M125.5 57.1l-1.8-2.8-1.7-2.7M131 58.9l-1.7-3.1-1.7-3M138.7 58.2l-1.7-3.4-1.7-3.3M150.7 56.4l-1.8-3.6-1.7-3.6M147.3 40.3l-1.7-3-1.7-2.9M142.5 36.8l-1.8-2.5-1.7-2.4M258.7 93.3l-1.7 2.7-1.7 2.7"/><path stroke="#7e0200" d="M258 95.8l1.1-2.3 .6-1.4M140.9 55.2l1-1.4 1.1-1.2 1-1.1 1.1-1M149.3 48.8l1.1 .2 1 .4 1.1 .8 1 1.1M133.2 55.1l1-1.9 1.1-1.7M150 44.4l1.1 1.5 1 1.9M148.7 41.2l1 2.4 1.1 3M110.8 52.9l1-2.7 .8-1.9M107.3 49.8l1.1-3 0-.1M139 31.9l1 5.1 1.1 5.9M103.8 47.4l.9-2.6M100.4 46l1-3.3M110.8 52.9l-1.7-1.7-1.8-1.4-1.7-1.3-1.8-1.1-1.7-.8-1.7-.6-1.8-.3-.6 0M133.2 55.1l-1.8-3.2-.3-.5M140.9 55.2l-1.8-3.5-.4-.8M143 52.6l-1.2-2.4M149.3 48.8l-1.1-2.2M151.4 49.4l-1.7-3.5-.6-1.2M150 44.4l-1.1-2.2M148.7 41.2l-1.3-2.3M139 31.9l-1.8-2.3-1.7-2.2M258 95.8l-1.7 1.9-1.8 2"/><path stroke="#740000" d="M259.4 97.6l.6-1.6M145.1 50.5l1-.7 1.1-.6 1-.3 1.1-.1M135.3 51.5l.1-.3M149.1 43.3l.9 1.1M127.6 52.8l.8-1.5M148 40l.7 1.2M122 51.6l.4-.9M146.1 37l.1 .3 1.1 3M116.4 51.6l.8-1.9M143.8 34.3l1.1 3.7 1 4.2M141.2 31.8l.2 .6 1.1 4.4M138.4 29.4l.6 2.5M135.4 27.1l.1 .3 1.1 5.3 1 6.1M132.3 24.9l.8 4.2 1 6.2M116.4 51.6l-1.8-2.2-.5-.6M122 51.6l-.8-1.1M127.6 52.8l-1-1.6M135.3 51.5l-.2-.3M145.1 50.5l-.6-1.1M147.2 49.2l-.5-1M135.5 27.4l-.6-.7M259.4 97.6l-1.8 1.6-1.7 1.5M259.6 94l-1.6 1.8M259.8 91.8l-1.4 1.9-1.8 2.4M260.9 89.9l-.4 .6-1.8 2.8"/></g>
<path d="M39.6 180 167.6 254.1M167.6 254.1 295.6 180.5" stroke="#444" stroke-width="0.8" fill="none"/>
<path d="M39.6 180 39.6 75.6" stroke="#bbb" stroke-width="1.2" fill="none"/>
<path d="M39.6 180 37 178.5M39.6 165.1 37 163.6M39.6 150.2 37 148.7M39.6 135.2 37 133.7M39.6 120.3 37 118.8M39.6 105.4 37 103.9M39.6 90.5 37 89M39.6 75.6 37 74.1M167.6 254.1 164.8 255.7M167.6 254.1 170.4 255.7M146.3 241.8 143.5 243.3M188.9 241.8 191.8 243.4M125 229.4 122.2 231M210.3 229.6 213.1 231.2M103.6 217.1 100.8 218.7M231.6 217.3 234.4 218.9M82.3 204.7 79.5 206.3M252.9 205 255.7 206.6M61 192.4 58.2 194M274.2 192.8 277 194.3M39.6 180 36.8 181.6M295.6 180.5 298.4 182.1" stroke="#444" stroke-width="0.7" fill="none"/>
<g fill="#222"><circle cx="155.1" cy="131.3" r="0.85"/><circle cx="189.5" cy="133.7" r="0.85"/><circle cx="173.9" cy="140.4" r="0.85"/><circle cx="197.7" cy="167.4" r="0.85"/><circle cx="169.2" cy="168.4" r="0.85"/><circle cx="175.9" cy="140.2" r="0.85"/><circle cx="179.4" cy="145.7" r="0.85"/><circle cx="151.1" cy="162.6" r="0.85"/><circle cx="202.2" cy="145.2" r="0.85"/><circle cx="185.5" cy="152.2" r="0.85"/><circle cx="177.5" cy="150.1" r="0.85"/><circle cx="177" cy="169.9" r="0.85"/><circle cx="162" cy="133.2" r="0.85"/><circle cx="179.5" cy="175.7" r="0.85"/><circle cx="165.7" cy="149.8" r="0.85"/><circle cx="158.7" cy="150.7" r="0.85"/><circle cx="148.2" cy="162.7" r="0.85"/><circle cx="184.9" cy="148.5" r="0.85"/><circle cx="131.8" cy="143.8" r="0.85"/><circle cx="158" cy="156.3" r="0.85"/><circle cx="179.6" cy="165.9" r="0.85"/><circle cx="145.7" cy="149.8" r="0.85"/><circle cx="171.8" cy="154.3" r="0.85"/><circle cx="192" cy="163.6" r="0.85"/><circle cx="185" cy="165.1" r="0.85"/><circle cx="173.4" cy="150.2" r="0.85"/><circle cx="183.2" cy="148.9" r="0.85"/><circle cx="165.8" cy="146.2" r="0.85"/><circle cx="181.7" cy="150.9" r="0.85"/><circle cx="189.1" cy="163.8" r="0.85"/><circle cx="185" cy="162.6" r="0.85"/><circle cx="202.9" cy="163.4" r="0.85"/><circle cx="195.5" cy="147.9" r="0.85"/><circle cx="161.7" cy="144.9" r="0.85"/><circle cx="166" cy="160.7" r="0.85"/><circle cx="158.9" cy="167.4" r="0.85"/><circle cx="183.9" cy="154.1" r="0.85"/><circle cx="154" cy="141.4" r="0.85"/><circle cx="187.5" cy="153.3" r="0.85"/><circle cx="175.2" cy="151.6" r="0.85"/><circle cx="193.5" cy="163" r="0.85"/><circle cx="194.4" cy="165.3" r="0.85"/><circle cx="177.7" cy="138.5" r="0.85"/><circle cx="185.5" cy="146" r="0.85"/><circle cx="154.8" cy="157.6" r="0.85"/><circle cx="170.2" cy="159.8" r="0.85"/><circle cx="192.2" cy="159.4" r="0.85"/><circle cx="168.4" cy="162" r="0.85"/><circle cx="162.4" cy="137.3" r="0.85"/><circle cx="174.3" cy="165.3" r="0.85"/><circle cx="202.1" cy="160.5" r="0.85"/><circle cx="185.6" cy="162.3" r="0.85"/><circle cx="169.2" cy="163.3" r="0.85"/><circle cx="201.2" cy="153.6" r="0.85"/><circle cx="128.1" cy="108.2" r="0.85"/><circle cx="198.6" cy="153.7" r="0.85"/><circle cx="183.9" cy="153.2" r="0.85"/><circle cx="158.6" cy="162.4" r="0.85"/><circle cx="207.8" cy="173.6" r="0.85"/><circle cx="195.3" cy="166" r="0.85"/><circle cx="167" cy="153.3" r="0.85"/><circle cx="167.3" cy="119.7" r="0.85"/><circle cx="173.1" cy="169.3" r="0.85"/><circle cx="151.3" cy="100.6" r="0.85"/><circle cx="170.6" cy="176.1" r="0.85"/><circle cx="184.8" cy="162.4" r="0.85"/><circle cx="179" cy="156.9" r="0.85"/><circle cx="179.9" cy="140.1" r="0.85"/><circle cx="193.9" cy="138.8" r="0.85"/><circle cx="167.9" cy="152.9" r="0.85"/><circle cx="149.1" cy="117.1" r="0.85"/><circle cx="175" cy="125.7" r="0.85"/><circle cx="170.8" cy="167.3" r="0.85"/><circle cx="190.2" cy="159.8" r="0.85"/><circle cx="168" cy="156" r="0.85"/><circle cx="144.4" cy="147.5" r="0.85"/><circle cx="167.9" cy="149.9" r="0.85"/><circle cx="167.7" cy="145.4" r="0.85"/><circle cx="174.5" cy="155.1" r="0.85"/><circle cx="159.5" cy="147.1" r="0.85"/><circle cx="154.9" cy="145.5" r="0.85"/><circle cx="178.8" cy="157.4" r="0.85"/><circle cx="146" cy="159.2" r="0.85"/><circle cx="186.5" cy="145.9" r="0.85"/><circle cx="206.5" cy="139.6" r="0.85"/><circle cx="184" cy="168.5" r="0.85"/><circle cx="179.9" cy="153.8" r="0.85"/><circle cx="175.8" cy="150.1" r="0.85"/><circle cx="193.5" cy="124.2" r="0.85"/><circle cx="171" cy="150.4" r="0.85"/><circle cx="176.3" cy="139.7" r="0.85"/><circle cx="163.4" cy="169.8" r="0.85"/><circle cx="205.2" cy="174.9" r="0.85"/><circle cx="171.2" cy="145.1" r="0.85"/><circle cx="166" cy="142.7" r="0.85"/><circle cx="152.8" cy="154.2" r="0.85"/><circle cx="187" cy="150.7" r="0.85"/><circle cx="207.4" cy="174.9" r="0.85"/><circle cx="148.3" cy="159.3" r="0.85"/><circle cx="171.5" cy="142.2" r="0.85"/><circle cx="172.1" cy="155.2" r="0.85"/><circle cx="178.9" cy="137.1" r="0.85"/><circle cx="183.1" cy="137.3" r="0.85"/><circle cx="189.6" cy="151.3" r="0.85"/><circle cx="181.4" cy="155.5" r="0.85"/><circle cx="170.9" cy="145.8" r="0.85"/><circle cx="165.1" cy="163.5" r="0.85"/><circle cx="171.6" cy="145.2" r="0.85"/><circle cx="164.5" cy="154.6" r="0.85"/><circle cx="182.3" cy="149.5" r="0.85"/><circle cx="186.1" cy="157.2" r="0.85"/><circle cx="159" cy="158.8" r="0.85"/><circle cx="162.8" cy="135.7" r="0.85"/><circle cx="173.3" cy="143.3" r="0.85"/><circle cx="191.3" cy="169.9" r="0.85"/><circle cx="168.4" cy="149.4" r="0.85"/><circle cx="165.9" cy="163.8" r="0.85"/><circle cx="199.6" cy="168.8" r="0.85"/><circle cx="201.3" cy="148" r="0.85"/><circle cx="197.8" cy="149.3" r="0.85"/><circle cx="210" cy="178.7" r="0.85"/><circle cx="174.9" cy="148.9" r="0.85"/><circle cx="188.4" cy="157.9" r="0.85"/><circle cx="184.4" cy="169" r="0.85"/><circle cx="173.1" cy="150.8" r="0.85"/><circle cx="141.7" cy="149.6" r="0.85"/><circle cx="163.4" cy="151.8" r="0.85"/><circle cx="172.6" cy="154.2" r="0.85"/><circle cx="181.3" cy="162.9" r="0.85"/><circle cx="186.7" cy="148.3" r="0.85"/><circle cx="189.5" cy="161.2" r="0.85"/><circle cx="179.7" cy="158.5" r="0.85"/><circle cx="141.3" cy="139.9" r="0.85"/><circle cx="161.5" cy="108.6" r="0.85"/><circle cx="190.5" cy="180.2" r="0.85"/><circle cx="153" cy="133.9" r="0.85"/><circle cx="97.7" cy="138.9" r="0.85"/><circle cx="220.2" cy="158.1" r="0.85"/><circle cx="198.3" cy="147.7" r="0.85"/><circle cx="154.9" cy="110.3" r="0.85"/><circle cx="172.1" cy="117.5" r="0.85"/><circle cx="187.1" cy="157.6" r="0.85"/><circle cx="138" cy="188.1" r="0.85"/><circle cx="181.7" cy="170.4" r="0.85"/><circle cx="182" cy="137.4" r="0.85"/><circle cx="186.7" cy="142" r="0.85"/><circle cx="189.4" cy="154.8" r="0.85"/><circle cx="95.8" cy="119.1" r="0.85"/><circle cx="207.3" cy="128.7" r="0.85"/><circle cx="120.6" cy="121.2" r="0.85"/><circle cx="124.7" cy="79.8" r="0.85"/><circle cx="196.4" cy="178.6" r="0.85"/><circle cx="116.8" cy="98.6" r="0.85"/><circle cx="136.3" cy="150.4" r="0.85"/><circle cx="151.8" cy="117.4" r="0.85"/><circle cx="137.8" cy="130.6" r="0.85"/><circle cx="152" cy="130.5" r="0.85"/><circle cx="170.1" cy="200.8" r="0.85"/><circle cx="214.2" cy="178" r="0.85"/><circle cx="147.7" cy="157.2" r="0.85"/><circle cx="94.6" cy="149.3" r="0.85"/><circle cx="162.4" cy="179.4" r="0.85"/><circle cx="146.1" cy="76.9" r="0.85"/><circle cx="97.4" cy="126.5" r="0.85"/><circle cx="149.3" cy="62.1" r="0.85"/><circle cx="175.6" cy="200.6" r="0.85"/><circle cx="187.7" cy="168" r="0.85"/><circle cx="161.3" cy="174.3" r="0.85"/><circle cx="203.1" cy="155.8" r="0.85"/><circle cx="200.6" cy="186.2" r="0.85"/><circle cx="106.9" cy="116.5" r="0.85"/><circle cx="169.3" cy="119.7" r="0.85"/><circle cx="166.1" cy="145.1" r="0.85"/><circle cx="135.3" cy="119.2" r="0.85"/><circle cx="206.3" cy="130.2" r="0.85"/><circle cx="135.9" cy="146.8" r="0.85"/><circle cx="184.7" cy="191.9" r="0.85"/></g>
<text x="34.2" y="182.3" font-size="10.7" text-anchor="end">60</text>
<text x="34.2" y="167.3" font-size="10.7" text-anchor="end">80</text>
<text x="34.2" y="152.4" font-size="10.7" text-anchor="end">100</text>
<text x="34.2" y="137.5" font-size="10.7" text-anchor="end">120</text>
<text x="34.2" y="122.6" font-size="10.7" text-anchor="end">140</text>
<text x="34.2" y="107.7" font-size="10.7" text-anchor="end">160</text>
<text x="34.2" y="92.7" font-size="10.7" text-anchor="end">180</text>
<text x="34.2" y="77.8" font-size="10.7" text-anchor="end">200</text>
<text x="30.5" y="193.8" font-size="10.7" text-anchor="middle">3</text>
<text x="51.5" y="206.6" font-size="10.7" text-anchor="middle">2</text>
<text x="73.3" y="218.3" font-size="10.7" text-anchor="middle">1</text>
<text x="94.3" y="230.4" font-size="10.7" text-anchor="middle">0</text>
<text x="113.5" y="242.8" font-size="10.7" text-anchor="middle">−1</text>
<text x="134.5" y="255.7" font-size="10.7" text-anchor="middle">−2</text>
<text x="155.5" y="267.4" font-size="10.7" text-anchor="middle">−3</text>
<text x="179.2" y="267.4" font-size="10.7" text-anchor="middle">−3</text>
<text x="200.9" y="255.2" font-size="10.7" text-anchor="middle">−2</text>
<text x="222" y="242.8" font-size="10.7" text-anchor="middle">−1</text>
<text x="241.1" y="230.4" font-size="10.7" text-anchor="middle">0</text>
<text x="261.7" y="218.3" font-size="10.7" text-anchor="middle">1</text>
<text x="283.2" y="206.6" font-size="10.7" text-anchor="middle">2</text>
<text x="304.2" y="193.8" font-size="10.7" text-anchor="middle">3</text>
<text x="30.5" y="264.2" font-size="11.5" textLength="75.9" lengthAdjust="spacingAndGlyphs">Y : GT of STM</text>
<text x="229.4" y="264.2" font-size="11.5" textLength="74.8" lengthAdjust="spacingAndGlyphs">X : GT of LTM</text>
<text transform="translate(11.1 127.7) rotate(-90)" x="-58.6" y="0" font-size="11" textLength="117.3" lengthAdjust="spacingAndGlyphs">f ( X, Y ) : SBP(<tspan font-size="9.8">mmHg</tspan>)</text>
<defs><linearGradient id="cbg" x1="0" y1="1" x2="0" y2="0"><stop offset="0.0000" stop-color="#0a0a6e"/><stop offset="0.1071" stop-color="#0000aa"/><stop offset="0.2000" stop-color="#0000f0"/><stop offset="0.2786" stop-color="#0000ff"/><stop offset="0.2929" stop-color="#1e6e6e"/><stop offset="0.3071" stop-color="#1eaa1e"/><stop offset="0.4000" stop-color="#28b414"/><stop offset="0.4429" stop-color="#6ed714"/><stop offset="0.4786" stop-color="#c8eb0a"/><stop offset="0.5036" stop-color="#ffff00"/><stop offset="0.5571" stop-color="#fff500"/><stop offset="0.5750" stop-color="#ffb400"/><stop offset="0.5964" stop-color="#ff3c00"/><stop offset="0.6214" stop-color="#fa1e00"/><stop offset="0.7143" stop-color="#e61400"/><stop offset="0.8571" stop-color="#af0a00"/><stop offset="1.0000" stop-color="#730000"/></linearGradient></defs>
<rect x="317.2" y="6.6" width="9.1" height="252" fill="url(#cbg)" stroke="#888" stroke-width="0.5"/>
<path d="M324.8 258.6 326.3 258.6" stroke="#333" stroke-width="0.6" fill="none"/>
<text x="330.2" y="262.5" font-size="10.2" textLength="9.7" lengthAdjust="spacingAndGlyphs">60</text>
<path d="M324.8 222.6 326.3 222.6" stroke="#333" stroke-width="0.6" fill="none"/>
<text x="330.2" y="226.5" font-size="10.2" textLength="9.7" lengthAdjust="spacingAndGlyphs">80</text>
<path d="M324.8 186.6 326.3 186.6" stroke="#333" stroke-width="0.6" fill="none"/>
<text x="330.2" y="190.5" font-size="10.2" textLength="14.6" lengthAdjust="spacingAndGlyphs">100</text>
<path d="M324.8 150.6 326.3 150.6" stroke="#333" stroke-width="0.6" fill="none"/>
<text x="330.2" y="154.5" font-size="10.2" textLength="14.6" lengthAdjust="spacingAndGlyphs">120</text>
<path d="M324.8 114.6 326.3 114.6" stroke="#333" stroke-width="0.6" fill="none"/>
<text x="330.2" y="118.5" font-size="10.2" textLength="14.6" lengthAdjust="spacingAndGlyphs">140</text>
<path d="M324.8 78.6 326.3 78.6" stroke="#333" stroke-width="0.6" fill="none"/>
<text x="330.2" y="82.5" font-size="10.2" textLength="14.6" lengthAdjust="spacingAndGlyphs">160</text>
<path d="M324.8 42.6 326.3 42.6" stroke="#333" stroke-width="0.6" fill="none"/>
<text x="330.2" y="46.5" font-size="10.2" textLength="14.6" lengthAdjust="spacingAndGlyphs">180</text>
<path d="M324.8 6.6 326.3 6.6" stroke="#333" stroke-width="0.6" fill="none"/>
<text x="330.2" y="10.5" font-size="10.2" textLength="14.6" lengthAdjust="spacingAndGlyphs">200</text>
<text x="368.6" y="70.6" font-size="12.4" textLength="72.4" lengthAdjust="spacingAndGlyphs" style="fill:#111">Hypertension</text>
<text x="349.2" y="126" font-size="12.4" textLength="111" lengthAdjust="spacingAndGlyphs" style="fill:#111">High blood pressure</text>
<text x="352.7" y="145.8" font-size="12.4" textLength="104" lengthAdjust="spacingAndGlyphs" style="fill:#111">High normotension</text>
<text x="366.7" y="169.2" font-size="12.4" textLength="77.1" lengthAdjust="spacingAndGlyphs" style="fill:#111">Normotension</text>
<text x="370.7" y="219.4" font-size="12.4" textLength="68.9" lengthAdjust="spacingAndGlyphs" style="fill:#111">Hypotension</text>
<text x="492.8" y="76.9" font-size="16" stroke="#111" stroke-width="0.1" textLength="162.7" lengthAdjust="spacingAndGlyphs" style="font-family:'Liberation Serif',serif;fill:#111"><tspan font-style="italic">f</tspan>(<tspan font-style="italic">x</tspan>,&#160;<tspan font-style="italic">y</tspan>)&#160;=&#160;&#160;−7.5953<tspan font-style="italic">x</tspan><tspan font-size="11" dx="0.8" dy="-6.5">4</tspan><tspan font-size="1" dy="6.5">&#8203;</tspan></text>
<text x="483" y="98.1" font-size="16" stroke="#111" stroke-width="0.1" textLength="185.6" lengthAdjust="spacingAndGlyphs" style="font-family:'Liberation Serif',serif;fill:#111">−5.6331<tspan font-style="italic">x</tspan><tspan font-size="11" dx="0.8" dy="-6.5">3</tspan><tspan font-size="1" dy="6.5">&#8203;</tspan><tspan font-style="italic">y</tspan>&#160;−&#160;8.9679<tspan font-style="italic">x</tspan><tspan font-size="11" dx="0.8" dy="-6.5">3</tspan><tspan font-size="1" dy="6.5">&#8203;</tspan></text>
<text x="464.9" y="118.6" font-size="16" stroke="#111" stroke-width="0.1" textLength="218.5" lengthAdjust="spacingAndGlyphs" style="font-family:'Liberation Serif',serif;fill:#111">−0.69379<tspan font-style="italic">x</tspan><tspan font-size="11" dx="0.8" dy="-6.5">2</tspan><tspan font-size="1" dy="6.5">&#8203;</tspan><tspan font-style="italic">y</tspan><tspan font-size="11" dx="0.8" dy="-6.5">2</tspan><tspan font-size="1" dy="6.5">&#8203;</tspan>&#160;&#160;−&#160;7.6579<tspan font-style="italic">x</tspan><tspan font-size="11" dx="0.8" dy="-6.5">2</tspan><tspan font-size="1" dy="6.5">&#8203;</tspan><tspan font-style="italic">y</tspan></text>
<text x="469.9" y="139.5" font-size="16" stroke="#111" stroke-width="0.1" textLength="206.9" lengthAdjust="spacingAndGlyphs" style="font-family:'Liberation Serif',serif;fill:#111">+&#160;5.9043<tspan font-style="italic">x</tspan><tspan font-size="11" dx="0.8" dy="-6.5">2</tspan><tspan font-size="1" dy="6.5">&#8203;</tspan>&#160;&#160;+&#160;&#160;0.12584<tspan font-style="italic">xy</tspan><tspan font-size="11" dx="0.8" dy="-6.5">3</tspan><tspan font-size="1" dy="6.5">&#8203;</tspan></text>
<text x="474.8" y="160.9" font-size="16" stroke="#111" stroke-width="0.1" textLength="198.7" lengthAdjust="spacingAndGlyphs" style="font-family:'Liberation Serif',serif;fill:#111">+&#160;4.0952<tspan font-style="italic">xy</tspan><tspan font-size="11" dx="0.8" dy="-6.5">2</tspan><tspan font-size="1" dy="6.5">&#8203;</tspan>&#160;&#160;+&#160;&#160;5.2838<tspan font-style="italic">xy</tspan></text>
<text x="476.4" y="182.4" font-size="16" stroke="#111" stroke-width="0.1" textLength="193.8" lengthAdjust="spacingAndGlyphs" style="font-family:'Liberation Serif',serif;fill:#111">+&#160;15.3721<tspan font-style="italic">x</tspan>&#160;&#160;−&#160;0.47423<tspan font-style="italic">y</tspan><tspan font-size="11" dx="0.8" dy="-6.5">4</tspan><tspan font-size="1" dy="6.5">&#8203;</tspan></text>
<text x="486.3" y="202.9" font-size="16" stroke="#111" stroke-width="0.1" textLength="174.1" lengthAdjust="spacingAndGlyphs" style="font-family:'Liberation Serif',serif;fill:#111">−1.054<tspan font-style="italic">y</tspan><tspan font-size="11" dx="0.8" dy="-6.5">3</tspan><tspan font-size="1" dy="6.5">&#8203;</tspan>&#160;&#160;+&#160;&#160;8.1616<tspan font-style="italic">y</tspan><tspan font-size="11" dx="0.8" dy="-6.5">2</tspan><tspan font-size="1" dy="6.5">&#8203;</tspan></text>
<text x="481.4" y="223.4" font-size="16" stroke="#111" stroke-width="0.1" textLength="188.8" lengthAdjust="spacingAndGlyphs" style="font-family:'Liberation Serif',serif;fill:#111">+&#160;25.1642<tspan font-style="italic">y</tspan>&#160;&#160;+&#160;&#160;132.7824</text>
<clipPath id="cl3"><rect x="200" y="440" width="27" height="40"/></clipPath>
<path d="M65.3 280.3 65.3 457.2M97.3 280.3 97.3 457.2M129.4 280.3 129.4 457.2M161.4 280.3 161.4 457.2M193.4 280.3 193.4 457.2M33.3 427.7 225.4 427.7M33.3 398.2 225.4 398.2M33.3 368.8 225.4 368.8M33.3 339.3 225.4 339.3M33.3 309.8 225.4 309.8" stroke="#e8e8e8" stroke-width="0.7" fill="none"/>
<clipPath id="ca"><rect x="33.3" y="280.3" width="192.1" height="176.9"/></clipPath>
<g clip-path="url(#ca)">
<g fill="none" stroke-width="0.6"><path stroke="#4e4e9b" d="M82 456.6l1 0M80.6 451.8l2.4 0M79.3 447l3.7 0M78.2 442.2l1.6 0M77 437.4l2.8 0M76 432.6l3.8 0M75 427.8l1.6 0M73.9 422.9l2.7 0M72.9 418.1l3.7 0M71.9 413.3l1.5 0M70.8 408.5l2.6 0M69.8 403.7l3.6 0M68.7 398.9l1.6 0M67.6 394.1l2.7 0M66.5 389.3l3.8 0M65.4 384.5l1.7 0M64.3 379.7l2.8 0M63.2 374.9l.7 0M62.1 370.1l1.8 0M60.9 365.2l3 0M59.9 360.4l.9 0M58.9 355.6l1.9 0M57.9 350.8l2.9 0M57 346l.6 0M56.2 341.2l1.4 0M55.4 336.4l2.2 0M54.7 331.6l2.9 0M54.2 326.8l3.4 0M53.9 322l.5 0M53.7 317.2l.7 0M53.7 312.3l.7 0M54 307.5l3.6 0M54.5 302.7l3.1 0M55.5 297.9l2.1 0M57 293.1l3.8 0M59 288.3l1.8 0M61.7 283.5l2.2 0M54.4 328.8l0-6.8M54.4 307.5l0-3.9M57.6 349.4l0-3.4M57.6 293.1l0-1.7M60.8 364.5l0-4.1M63.9 378.3l0-3.4M67.1 392l0-7.5M70.3 406.2l0-7.3M73.4 421l0-7.7M76.6 435.7l0-7.9M79.8 448.9l0-6.7"/><path stroke="#4c4ca4" d="M83 456.6l3.1 0M63.9 374.9l3.2 0M60.8 360.4l3.1 0M57.6 346l3.2 0M54.4 322l3.2 0M54.4 317.2l3.2 0M54.4 312.3l3.2 0M54.4 322l0-14.5M57.6 346l0-4.8M60.8 360.4l0-4.8M63.9 374.9l0-4.8M83 456.6l0-4.8"/><path stroke="#4b4bac" d="M83 451.8l3.1 0M79.8 442.2l3.2 0M76.6 427.8l3.2 0M73.4 413.3l3.2 0M70.3 398.9l3.1 0M67.1 384.5l3.2 0M63.9 370.1l3.2 0M57.6 341.2l3.2 0M57.6 297.9l3.2 0M60.8 288.3l3.1 0M63.9 283.5l3.2 0M57.6 341.2l0-4.8M57.6 297.9l0-4.8M60.8 288.3l0-3.3M63.9 370.1l0-4.9M63.9 283.5l0-3M67.1 384.5l0-4.8M70.3 398.9l0-4.8M73.4 413.3l0-4.8M76.6 427.8l0-4.9M79.8 442.2l0-4.8M83 451.8l0-4.8"/><path stroke="#4a4ab5" d="M79.8 437.4l3.2 0M76.6 422.9l3.2 0M73.4 408.5l3.2 0M70.3 394.1l3.1 0M60.8 355.6l3.1 0M57.6 336.4l3.2 0M57.6 336.4l0-4.8M60.8 355.6l0-4.8M70.3 394.1l0-4.8M73.4 408.5l0-4.8M76.6 422.9l0-4.8M79.8 437.4l0-4.8"/><path stroke="#4848bd" d="M86.1 456.6l3.2 0M83 447l3.1 0M79.8 432.6l3.2 0M76.6 418.1l3.2 0M73.4 403.7l3.2 0M67.1 379.7l3.2 0M63.9 365.2l3.2 0M60.8 350.8l3.1 0M57.6 331.6l3.2 0M57.6 302.7l3.2 0M60.8 293.1l3.1 0M57.6 331.6l0-4.8M57.6 302.7l0-4.8M60.8 350.8l0-4.8M60.8 293.1l0-4.8M63.9 365.2l0-4.8M67.1 379.7l0-4.8M73.4 403.7l0-4.8M76.6 418.1l0-4.8M79.8 432.6l0-4.8M83 447l0-4.8M86.1 456.6l0-4.8"/><path stroke="#4747c8" d="M86.1 451.8l3.2 0M83 442.2l3.1 0M79.8 427.8l3.2 0M76.6 413.3l3.2 0M73.4 398.9l3.2 0M70.3 389.3l3.1 0M67.1 374.9l3.2 0M57.6 326.8l3.2 0M57.6 307.5l3.2 0M63.9 288.3l3.2 0M67.1 283.5l3.2 0M57.6 326.8l0-4.8M57.6 307.5l0-4.8M63.9 288.3l0-4.8M67.1 374.9l0-4.8M67.1 283.5l0-3.2M70.3 389.3l0-4.8M73.4 398.9l0-4.8M76.6 413.3l0-4.8M79.8 427.8l0-4.9M83 442.2l0-4.8M86.1 451.8l0-4.8"/><path stroke="#4747d3" d="M83 437.4l3.1 0M79.8 422.9l3.2 0M76.6 408.5l3.2 0M70.3 384.5l3.1 0M63.9 360.4l3.2 0M60.8 346l3.1 0M57.6 322l3.2 0M57.6 317.2l3.2 0M57.6 312.3l3.2 0M57.6 322l0-14.5M60.8 346l0-4.8M63.9 360.4l0-4.8M70.3 384.5l0-4.8M76.6 408.5l0-4.8M79.8 422.9l0-4.8M83 437.4l0-4.8M181.2 360.4l0-9.6"/><path stroke="#4747df" d="M89.3 456.6l3.2 0M86.1 447l3.2 0M83 432.6l3.1 0M79.8 418.1l3.2 0M76.6 403.7l3.2 0M73.4 394.1l3.2 0M70.3 379.7l3.1 0M67.1 370.1l3.2 0M63.9 355.6l3.2 0M60.8 341.2l3.1 0M60.8 297.9l3.1 0M60.8 341.2l0-4.8M60.8 297.9l0-4.8M63.9 355.6l0-4.8M67.1 370.1l0-4.9M70.3 379.7l0-4.8M73.4 394.1l0-4.8M76.6 403.7l0-4.8M79.8 418.1l0-4.8M83 432.6l0-4.8M86.1 447l0-4.8M89.3 456.6l0-4.8M181.2 370.1l0-9.7M181.2 350.8l0-14.4"/><path stroke="#4747eb" d="M89.3 451.8l3.2 0M86.1 442.2l3.2 0M86.1 437.4l3.2 0M83 427.8l3.1 0M79.8 413.3l3.2 0M76.6 398.9l3.2 0M73.4 389.3l3.2 0M67.1 365.2l3.2 0M60.8 336.4l3.1 0M60.8 302.7l3.1 0M63.9 293.1l3.2 0M67.1 288.3l3.2 0M70.3 283.5l3.1 0M60.8 336.4l0-4.8M60.8 302.7l0-4.8M63.9 293.1l0-4.8M67.1 365.2l0-4.8M67.1 288.3l0-4.8M70.3 283.5l0-3.2M73.4 389.3l0-4.8M76.6 398.9l0-4.8M79.8 413.3l0-4.8M83 427.8l0-4.9M86.1 442.2l0-9.6M89.3 451.8l0-4.8M181.2 374.9l0-4.8M181.2 336.4l0-4.8"/><path stroke="#4747f5" d="M92.5 456.6l3.1 0M89.3 447l3.2 0M86.1 432.6l3.2 0M83 422.9l3.1 0M83 418.1l3.1 0M79.8 408.5l3.2 0M76.6 394.1l3.2 0M73.4 384.5l3.2 0M70.3 374.9l3.1 0M63.9 350.8l3.2 0M60.8 331.6l3.1 0M60.8 307.5l3.1 0M60.8 331.6l0-4.8M60.8 307.5l0-4.8M63.9 350.8l0-4.8M70.3 374.9l0-4.8M73.4 384.5l0-4.8M76.6 394.1l0-4.8M79.8 408.5l0-4.8M83 422.9l0-9.6M86.1 432.6l0-4.8M89.3 447l0-4.8M92.5 456.6l0-4.8M181.2 379.7l0-4.8M181.2 331.6l0-9.6"/><path stroke="#4747f8" d="M95.6 456.6l3.2 0M92.5 451.8l3.1 0M89.3 442.2l3.2 0M89.3 437.4l3.2 0M86.1 427.8l3.2 0M83 413.3l3.1 0M79.8 403.7l3.2 0M73.4 379.7l3.2 0M70.3 370.1l3.1 0M67.1 360.4l3.2 0M63.9 346l3.2 0M60.8 326.8l3.1 0M60.8 322l3.1 0M60.8 317.2l3.1 0M60.8 312.3l3.1 0M63.9 297.9l3.2 0M60.8 326.8l0-19.3M63.9 346l0-4.8M63.9 297.9l0-4.8M67.1 360.4l0-4.8M70.3 370.1l0-4.9M73.4 379.7l0-4.8M79.8 403.7l0-4.8M83 413.3l0-4.8M86.1 427.8l0-4.9M89.3 442.2l0-9.6M92.5 451.8l0-4.8M95.6 456.6l0-4.8M181.2 384.5l0-4.8M181.2 322l0-4.8"/><path stroke="#4747fb" d="M95.6 451.8l3.2 0M92.5 447l3.1 0M92.5 442.2l3.1 0M89.3 432.6l3.2 0M86.1 422.9l3.2 0M86.1 418.1l3.2 0M83 408.5l3.1 0M79.8 398.9l3.2 0M76.6 389.3l3.2 0M70.3 365.2l3.1 0M67.1 355.6l3.2 0M63.9 341.2l3.2 0M67.1 293.1l3.2 0M70.3 288.3l3.1 0M73.4 283.5l3.2 0M63.9 341.2l0-4.8M67.1 355.6l0-4.8M67.1 293.1l0-4.8M70.3 365.2l0-4.8M70.3 288.3l0-4.8M73.4 283.5l0-3.2M76.6 389.3l0-4.8M79.8 398.9l0-4.8M83 408.5l0-4.8M86.1 422.9l0-9.6M89.3 432.6l0-4.8M92.5 447l0-9.6M95.6 451.8l0-4.8M181.2 317.2l0-4.9"/><path stroke="#4747fe" d="M98.8 456.6l3.2 0M95.6 447l3.2 0M92.5 437.4l3.1 0M92.5 432.6l3.1 0M89.3 427.8l3.2 0M89.3 422.9l3.2 0M86.1 413.3l3.2 0M83 403.7l3.1 0M79.8 394.1l3.2 0M76.6 384.5l3.2 0M73.4 374.9l3.2 0M178 370.1l3.2 0M178 365.2l3.2 0M178 360.4l3.2 0M178 355.6l3.2 0M67.1 350.8l3.2 0M63.9 336.4l3.2 0M63.9 302.7l3.2 0M63.9 336.4l0-4.8M63.9 302.7l0-4.8M67.1 350.8l0-4.8M73.4 374.9l0-4.8M76.6 384.5l0-4.8M79.8 394.1l0-4.8M83 403.7l0-4.8M86.1 413.3l0-4.8M89.3 427.8l0-9.7M92.5 437.4l0-9.6M95.6 447l0-4.8M98.8 456.6l0-4.8M178 370.1l0-19.3M181.2 389.3l0-4.8M181.2 312.3l0-4.8"/><path stroke="#5782b1" d="M102 456.6l3.1 0M98.8 451.8l3.2 0M98.8 447l3.2 0M95.6 442.2l3.2 0M95.6 437.4l3.2 0M92.5 427.8l3.1 0M92.5 422.9l3.1 0M89.3 418.1l3.2 0M89.3 413.3l3.2 0M86.1 408.5l3.2 0M86.1 403.7l3.2 0M83 398.9l3.1 0M83 394.1l3.1 0M79.8 389.3l3.2 0M76.6 379.7l3.2 0M178 379.7l3.2 0M178 374.9l3.2 0M73.4 370.1l3.2 0M70.3 360.4l3.1 0M178 350.8l3.2 0M67.1 346l3.2 0M178 346l3.2 0M63.9 331.6l3.2 0M63.9 326.8l3.2 0M63.9 312.3l3.2 0M63.9 307.5l3.2 0M67.1 297.9l3.2 0M76.6 283.5l3.2 0M63.9 331.6l0-9.6M63.9 312.3l0-9.6M67.1 346l0-4.8M67.1 297.9l0-4.8M70.3 360.4l0-4.8M73.4 370.1l0-4.9M76.6 379.7l0-4.8M76.6 283.5l0-3.2M79.8 389.3l0-4.8M83 398.9l0-9.6M86.1 408.5l0-9.6M89.3 418.1l0-9.6M92.5 427.8l0-9.7M95.6 442.2l0-9.6M98.8 451.8l0-9.6M102 456.6l0-4.8M178 379.7l0-9.6M178 350.8l0-9.6M181.2 394.1l0-4.8M181.2 307.5l0-4.8"/><path stroke="#5dc25d" d="M105.1 456.6l3.2 0M102 451.8l6.3 0M102 447l3.1 0M98.8 442.2l6.3 0M98.8 437.4l3.2 0M95.6 432.6l6.4 0M95.6 427.8l3.2 0M95.6 422.9l3.2 0M92.5 418.1l3.1 0M92.5 413.3l3.1 0M89.3 408.5l3.2 0M89.3 403.7l3.2 0M86.1 398.9l3.2 0M83 389.3l3.1 0M79.8 384.5l3.2 0M178 384.5l3.2 0M76.6 374.9l3.2 0M73.4 365.2l3.2 0M70.3 355.6l3.1 0M67.1 341.2l3.2 0M178 341.2l3.2 0M63.9 322l3.2 0M63.9 317.2l3.2 0M70.3 293.1l3.1 0M73.4 288.3l3.2 0M63.9 322l0-9.7M67.1 341.2l0-4.8M70.3 355.6l0-4.8M70.3 293.1l0-4.8M73.4 365.2l0-4.8M73.4 288.3l0-4.8M76.6 374.9l0-4.8M79.8 384.5l0-4.8M83 389.3l0-4.8M86.1 398.9l0-4.8M89.3 408.5l0-9.6M92.5 418.1l0-9.6M95.6 432.6l0-14.5M98.8 442.2l0-14.4M102 451.8l0-14.4M105.1 456.6l0-9.6M178 384.5l0-4.8M178 341.2l0-4.8M181.2 302.7l0-4.8"/><path stroke="#5fc45b" d="M108.3 456.6l6.4 0M108.3 451.8l3.2 0M105.1 447l6.4 0M105.1 442.2l6.4 0M102 437.4l6.3 0M102 432.6l6.3 0M98.8 427.8l9.5 0M98.8 422.9l6.3 0M95.6 418.1l9.5 0M95.6 413.3l6.4 0M92.5 408.5l6.3 0M92.5 403.7l3.1 0M89.3 398.9l3.2 0M86.1 394.1l3.2 0M178 389.3l3.2 0M83 384.5l3.1 0M79.8 379.7l3.2 0M76.6 370.1l3.2 0M73.4 360.4l3.2 0M70.3 350.8l3.1 0M67.1 336.4l3.2 0M178 336.4l3.2 0M67.1 302.7l3.2 0M79.8 283.5l3.2 0M67.1 336.4l0-4.8M67.1 302.7l0-4.8M70.3 350.8l0-4.8M73.4 360.4l0-4.8M76.6 370.1l0-4.9M79.8 379.7l0-4.8M79.8 283.5l0-3.2M83 384.5l0-4.8M86.1 394.1l0-4.8M89.3 398.9l0-4.8M92.5 408.5l0-9.6M95.6 418.1l0-14.4M98.8 427.8l0-19.3M102 437.4l0-24.1M105.1 447l0-24.1M108.3 456.6l0-19.2M111.5 456.6l0-4.8M178 389.3l0-4.8M178 336.4l0-4.8M181.2 398.9l0-4.8M181.2 297.9l0-17.6"/><path stroke="#61c559" d="M114.7 456.6l3.1 0M111.5 451.8l6.3 0M111.5 447l6.3 0M111.5 442.2l6.3 0M108.3 437.4l9.5 0M108.3 432.6l9.5 0M108.3 427.8l12.7 0M105.1 422.9l15.9 0M105.1 418.1l15.9 0M102 413.3l19 0M98.8 408.5l19 0M95.6 403.7l15.9 0M92.5 398.9l6.3 0M89.3 394.1l6.3 0M86.1 389.3l6.4 0M86.1 384.5l3.2 0M83 379.7l3.1 0M79.8 374.9l3.2 0M174.9 374.9l3.1 0M174.9 370.1l3.1 0M76.6 365.2l3.2 0M174.9 365.2l3.1 0M174.9 360.4l3.1 0M73.4 355.6l3.2 0M70.3 346l3.1 0M67.1 331.6l3.2 0M178 331.6l3.2 0M67.1 326.8l3.2 0M67.1 312.3l3.2 0M67.1 307.5l3.2 0M70.3 297.9l3.1 0M73.4 293.1l3.2 0M76.6 288.3l3.2 0M67.1 331.6l0-9.6M67.1 312.3l0-9.6M70.3 346l0-4.8M70.3 297.9l0-4.8M73.4 355.6l0-4.8M73.4 293.1l0-4.8M76.6 365.2l0-4.8M76.6 288.3l0-4.8M79.8 374.9l0-4.8M83 379.7l0-4.8M86.1 389.3l0-9.6M89.3 394.1l0-9.6M92.5 398.9l0-9.6M95.6 403.7l0-9.6M98.8 408.5l0-9.6M102 413.3l0-14.4M105.1 422.9l0-24M108.3 437.4l0-38.5M111.5 451.8l0-48.1M114.7 456.6l0-52.9M117.8 427.8l0-19.3M174.9 374.9l0-19.3M178 331.6l0-4.8"/><path stroke="#62c758" d="M117.8 456.6l6.4 0M117.8 451.8l6.4 0M117.8 447l6.4 0M117.8 442.2l6.4 0M117.8 437.4l6.4 0M117.8 432.6l9.5 0M121 427.8l6.3 0M121 422.9l6.3 0M121 418.1l9.5 0M121 413.3l9.5 0M117.8 408.5l12.7 0M111.5 403.7l15.8 0M98.8 398.9l25.4 0M95.6 394.1l22.2 0M178 394.1l3.2 0M92.5 389.3l6.3 0M89.3 384.5l3.2 0M174.9 384.5l3.1 0M86.1 379.7l3.2 0M174.9 379.7l3.1 0M83 374.9l3.1 0M79.8 370.1l3.2 0M76.6 360.4l3.2 0M174.9 355.6l3.1 0M70.3 341.2l3.1 0M178 326.8l3.2 0M67.1 322l3.2 0M67.1 317.2l3.2 0M70.3 302.7l3.1 0M83 283.5l3.1 0M67.1 322l0-9.7M70.3 341.2l0-4.8M70.3 302.7l0-4.8M76.6 360.4l0-4.8M79.8 370.1l0-4.9M83 374.9l0-4.8M83 283.5l0-3.2M86.1 379.7l0-4.8M89.3 384.5l0-4.8M92.5 389.3l0-4.8M95.6 394.1l0-9.6M98.8 398.9l0-9.6M102 398.9l0-9.6M105.1 398.9l0-9.6M108.3 398.9l0-9.6M111.5 403.7l0-14.4M114.7 403.7l0-14.4M117.8 456.6l0-28.8M117.8 408.5l0-14.4M121 456.6l0-62.5M124.2 432.6l0-33.7M127.3 418.1l0-14.4M174.9 384.5l0-9.6M174.9 355.6l0-4.8M178 394.1l0-4.8M178 326.8l0-4.8M181.2 403.7l0-4.8"/><path stroke="#64c956" d="M124.2 456.6l3.1 0M124.2 451.8l3.1 0M124.2 447l3.1 0M124.2 442.2l3.1 0M124.2 437.4l6.3 0M127.3 432.6l3.2 0M127.3 427.8l6.4 0M127.3 422.9l6.4 0M130.5 418.1l3.2 0M130.5 413.3l3.2 0M130.5 408.5l3.2 0M127.3 403.7l6.4 0M124.2 398.9l9.5 0M178 398.9l3.2 0M117.8 394.1l12.7 0M98.8 389.3l25.4 0M174.9 389.3l3.1 0M92.5 384.5l12.6 0M89.3 379.7l3.2 0M86.1 374.9l3.2 0M83 370.1l3.1 0M79.8 365.2l3.2 0M76.6 355.6l3.2 0M73.4 350.8l3.2 0M174.9 350.8l3.1 0M70.3 336.4l3.1 0M178 322l3.2 0M70.3 307.5l3.1 0M73.4 297.9l3.2 0M76.6 293.1l3.2 0M79.8 288.3l3.2 0M70.3 336.4l0-4.8M70.3 307.5l0-4.8M73.4 350.8l0-4.8M73.4 297.9l0-4.8M76.6 355.6l0-4.8M76.6 293.1l0-4.8M79.8 365.2l0-4.8M79.8 288.3l0-4.8M83 370.1l0-4.9M86.1 374.9l0-4.8M89.3 379.7l0-4.8M92.5 384.5l0-4.8M95.6 384.5l0-4.8M98.8 389.3l0-9.6M102 389.3l0-9.6M105.1 389.3l0-4.8M108.3 389.3l0-4.8M111.5 389.3l0-4.8M114.7 389.3l0-4.8M117.8 394.1l0-9.6M121 394.1l0-9.6M124.2 456.6l0-24M124.2 398.9l0-9.6M127.3 437.4l0-19.3M127.3 403.7l0-14.4M130.5 427.8l0-33.7M174.9 389.3l0-4.8M174.9 350.8l0-4.8M178 398.9l0-4.8M178 322l0-4.8"/><path stroke="#79d456" d="M127.3 456.6l3.2 0M127.3 451.8l3.2 0M127.3 447l3.2 0M127.3 442.2l6.4 0M130.5 437.4l3.2 0M130.5 432.6l3.2 0M133.7 427.8l3.1 0M133.7 422.9l3.1 0M133.7 418.1l6.3 0M133.7 413.3l6.3 0M133.7 408.5l6.3 0M133.7 403.7l6.3 0M133.7 398.9l3.1 0M130.5 394.1l6.3 0M174.9 394.1l3.1 0M124.2 389.3l9.5 0M105.1 384.5l22.2 0M171.7 384.5l3.2 0M92.5 379.7l22.2 0M171.7 379.7l3.2 0M89.3 374.9l6.3 0M171.7 374.9l3.2 0M86.1 370.1l3.2 0M171.7 370.1l3.2 0M83 365.2l3.1 0M79.8 360.4l3.2 0M76.6 350.8l3.2 0M73.4 346l3.2 0M174.9 346l3.1 0M73.4 341.2l3.2 0M70.3 331.6l3.1 0M70.3 326.8l3.1 0M70.3 322l3.1 0M70.3 317.2l3.1 0M70.3 312.3l3.1 0M73.4 302.7l3.2 0M70.3 331.6l0-24.1M73.4 346l0-9.6M73.4 302.7l0-4.8M76.6 350.8l0-4.8M79.8 360.4l0-4.8M83 365.2l0-4.8M86.1 370.1l0-4.9M89.3 374.9l0-4.8M92.5 379.7l0-9.6M95.6 379.7l0-4.8M98.8 379.7l0-4.8M102 379.7l0-4.8M105.1 384.5l0-9.6M108.3 384.5l0-9.6M111.5 384.5l0-9.6M114.7 384.5l0-4.8M117.8 384.5l0-4.8M121 384.5l0-4.8M124.2 389.3l0-9.6M127.3 456.6l0-19.2M127.3 389.3l0-4.8M130.5 442.2l0-14.4M130.5 394.1l0-9.6M133.7 427.8l0-38.5M136.8 418.1l0-19.2M171.7 384.5l0-19.3M174.9 394.1l0-4.8M174.9 346l0-4.8"/><path stroke="#92e056" d="M130.5 456.6l3.2 0M130.5 451.8l3.2 0M130.5 447l3.2 0M133.7 442.2l3.1 0M133.7 437.4l3.1 0M133.7 432.6l3.1 0M136.8 427.8l3.2 0M136.8 422.9l3.2 0M140 418.1l3.2 0M140 413.3l3.2 0M140 408.5l3.2 0M140 403.7l3.2 0M178 403.7l3.2 0M136.8 398.9l6.4 0M174.9 398.9l3.1 0M136.8 394.1l3.2 0M133.7 389.3l3.1 0M171.7 389.3l3.2 0M127.3 384.5l6.4 0M114.7 379.7l12.6 0M95.6 374.9l19.1 0M89.3 370.1l6.3 0M86.1 365.2l3.2 0M171.7 365.2l3.2 0M83 360.4l3.1 0M171.7 360.4l3.2 0M79.8 355.6l3.2 0M76.6 346l3.2 0M174.9 341.2l3.1 0M73.4 336.4l3.2 0M178 317.2l3.2 0M73.4 307.5l3.2 0M76.6 297.9l3.2 0M79.8 293.1l3.2 0M83 288.3l3.1 0M86.1 283.5l3.2 0M73.4 336.4l0-4.8M73.4 307.5l0-4.8M76.6 346l0-4.8M76.6 297.9l0-4.8M79.8 355.6l0-4.8M79.8 293.1l0-4.8M83 360.4l0-4.8M83 288.3l0-4.8M86.1 365.2l0-4.8M86.1 283.5l0-3.2M89.3 370.1l0-4.9M92.5 370.1l0-4.9M95.6 374.9l0-4.8M98.8 374.9l0-4.8M102 374.9l0-4.8M105.1 374.9l0-4.8M108.3 374.9l0-4.8M111.5 374.9l0-4.8M114.7 379.7l0-4.8M117.8 379.7l0-4.8M121 379.7l0-4.8M124.2 379.7l0-4.8M127.3 384.5l0-4.8M130.5 456.6l0-14.4M130.5 384.5l0-4.8M133.7 442.2l0-14.4M133.7 389.3l0-4.8M136.8 427.8l0-9.7M136.8 398.9l0-9.6M140 418.1l0-24M171.7 389.3l0-4.8M171.7 365.2l0-9.6M174.9 398.9l0-4.8M174.9 341.2l0-4.8M178 403.7l0-4.8M178 317.2l0-4.9M181.2 408.5l0-4.8"/><path stroke="#b7e952" d="M133.7 456.6l3.1 0M133.7 451.8l3.1 0M133.7 447l3.1 0M136.8 442.2l3.2 0M136.8 437.4l3.2 0M136.8 432.6l3.2 0M140 427.8l3.2 0M140 422.9l3.2 0M143.2 418.1l3.2 0M143.2 413.3l3.2 0M143.2 408.5l3.2 0M143.2 403.7l3.2 0M143.2 398.9l3.2 0M140 394.1l6.4 0M171.7 394.1l3.2 0M136.8 389.3l6.4 0M133.7 384.5l6.3 0M168.5 384.5l3.2 0M127.3 379.7l6.4 0M168.5 379.7l3.2 0M114.7 374.9l12.6 0M168.5 374.9l3.2 0M95.6 370.1l19.1 0M89.3 365.2l6.3 0M86.1 360.4l3.2 0M83 355.6l3.1 0M171.7 355.6l3.2 0M79.8 350.8l3.2 0M76.6 341.2l3.2 0M174.9 336.4l3.1 0M73.4 331.6l3.2 0M73.4 326.8l3.2 0M73.4 317.2l3.2 0M73.4 312.3l3.2 0M178 312.3l3.2 0M76.6 302.7l3.2 0M73.4 331.6l0-9.6M73.4 317.2l0-9.7M76.6 341.2l0-4.8M76.6 302.7l0-4.8M79.8 350.8l0-4.8M83 355.6l0-4.8M86.1 360.4l0-4.8M89.3 365.2l0-4.8M92.5 365.2l0-4.8M95.6 370.1l0-4.9M98.8 370.1l0-4.9M102 370.1l0-4.9M105.1 370.1l0-4.9M108.3 370.1l0-4.9M111.5 370.1l0-4.9M114.7 374.9l0-4.8M117.8 374.9l0-4.8M121 374.9l0-4.8M124.2 374.9l0-4.8M127.3 379.7l0-4.8M130.5 379.7l0-4.8M133.7 456.6l0-14.4M133.7 384.5l0-4.8M136.8 442.2l0-14.4M136.8 389.3l0-9.6M140 427.8l0-9.7M140 394.1l0-9.6M143.2 418.1l0-28.8M168.5 384.5l0-14.4M171.7 394.1l0-4.8M171.7 355.6l0-4.8M174.9 336.4l0-4.8M178 312.3l0-4.8"/><path stroke="#ddf34e" d="M136.8 451.8l3.2 0M136.8 447l3.2 0M140 437.4l3.2 0M140 432.6l3.2 0M143.2 427.8l3.2 0M143.2 422.9l3.2 0M146.4 418.1l3.1 0M146.4 413.3l3.1 0M146.4 408.5l6.3 0M178 408.5l3.2 0M146.4 403.7l6.3 0M174.9 403.7l3.1 0M146.4 398.9l6.3 0M171.7 398.9l3.2 0M146.4 394.1l6.3 0M168.5 394.1l3.2 0M143.2 389.3l6.3 0M168.5 389.3l3.2 0M140 384.5l6.4 0M165.4 384.5l3.1 0M133.7 379.7l6.3 0M127.3 374.9l6.4 0M114.7 370.1l9.5 0M168.5 370.1l3.2 0M95.6 365.2l15.9 0M168.5 365.2l3.2 0M89.3 360.4l6.3 0M86.1 355.6l3.2 0M83 350.8l3.1 0M171.7 350.8l3.2 0M79.8 346l3.2 0M76.6 336.4l3.2 0M174.9 331.6l3.1 0M73.4 322l3.2 0M76.6 307.5l3.2 0M178 307.5l3.2 0M79.8 297.9l3.2 0M83 293.1l3.1 0M86.1 288.3l3.2 0M89.3 283.5l3.2 0M73.4 322l0-4.8M76.6 336.4l0-4.8M76.6 307.5l0-4.8M79.8 346l0-4.8M79.8 297.9l0-4.8M83 350.8l0-4.8M83 293.1l0-4.8M86.1 355.6l0-4.8M86.1 288.3l0-4.8M89.3 360.4l0-4.8M89.3 283.5l0-3.2M92.5 360.4l0-4.8M95.6 365.2l0-4.8M98.8 365.2l0-4.8M102 365.2l0-4.8M105.1 365.2l0-4.8M108.3 365.2l0-4.8M114.7 370.1l0-4.9M117.8 370.1l0-4.9M121 370.1l0-4.9M127.3 374.9l0-4.8M130.5 374.9l0-4.8M133.7 379.7l0-4.8M136.8 451.8l0-9.6M136.8 379.7l0-4.8M140 437.4l0-9.6M140 384.5l0-4.8M143.2 427.8l0-9.7M143.2 389.3l0-9.6M146.4 418.1l0-33.6M149.5 408.5l0-19.2M165.4 384.5l0-4.8M168.5 394.1l0-9.6M168.5 370.1l0-9.7M171.7 398.9l0-4.8M171.7 350.8l0-4.8M174.9 403.7l0-4.8M174.9 331.6l0-4.8M178 408.5l0-4.8M178 307.5l0-4.8M181.2 413.3l0-4.8"/><path stroke="#ffff47" d="M136.8 456.6l3.2 0M140 447l3.2 0M140 442.2l3.2 0M143.2 437.4l3.2 0M143.2 432.6l3.2 0M146.4 427.8l3.1 0M146.4 422.9l3.1 0M149.5 418.1l3.2 0M149.5 413.3l3.2 0M152.7 408.5l3.2 0M174.9 408.5l3.1 0M152.7 403.7l3.2 0M171.7 403.7l3.2 0M152.7 398.9l6.3 0M165.4 398.9l6.3 0M152.7 394.1l15.8 0M149.5 389.3l19 0M146.4 384.5l6.3 0M162.2 384.5l3.2 0M140 379.7l6.4 0M165.4 379.7l3.1 0M133.7 374.9l6.3 0M165.4 374.9l3.1 0M124.2 370.1l6.3 0M111.5 365.2l9.5 0M95.6 360.4l12.7 0M168.5 360.4l3.2 0M89.3 355.6l6.3 0M86.1 350.8l3.2 0M83 346l3.1 0M171.7 346l3.2 0M79.8 341.2l3.2 0M76.6 331.6l3.2 0M76.6 326.8l3.2 0M76.6 322l3.2 0M76.6 317.2l3.2 0M76.6 312.3l3.2 0M79.8 302.7l3.2 0M178 302.7l3.2 0M76.6 331.6l0-24.1M79.8 341.2l0-4.8M79.8 302.7l0-4.8M83 346l0-4.8M86.1 350.8l0-4.8M89.3 355.6l0-4.8M92.5 355.6l0-4.8M95.6 360.4l0-4.8M98.8 360.4l0-4.8M102 360.4l0-4.8M105.1 360.4l0-4.8M111.5 365.2l0-4.8M114.7 365.2l0-4.8M117.8 365.2l0-4.8M124.2 370.1l0-4.9M127.3 370.1l0-4.9M133.7 374.9l0-4.8M136.8 456.6l0-4.8M136.8 374.9l0-4.8M140 447l0-9.6M140 379.7l0-4.8M143.2 437.4l0-9.6M143.2 379.7l0-4.8M146.4 427.8l0-9.7M146.4 384.5l0-4.8M149.5 418.1l0-9.6M149.5 389.3l0-9.6M152.7 408.5l0-24M155.9 398.9l0-14.4M159 394.1l0-9.6M162.2 394.1l0-14.4M165.4 398.9l0-14.4M165.4 379.7l0-9.6M168.5 398.9l0-4.8M168.5 360.4l0-4.8M171.7 403.7l0-4.8M171.7 346l0-4.8M174.9 408.5l0-4.8M178 302.7l0-4.8"/><path stroke="#fffc47" d="M140 456.6l3.2 0M140 451.8l3.2 0M143.2 442.2l3.2 0M146.4 432.6l3.1 0M149.5 422.9l3.2 0M152.7 418.1l3.2 0M152.7 413.3l3.2 0M178 413.3l3.2 0M155.9 408.5l3.1 0M171.7 408.5l3.2 0M155.9 403.7l15.8 0M159 398.9l6.4 0M152.7 384.5l9.5 0M146.4 379.7l19 0M140 374.9l6.4 0M162.2 374.9l3.2 0M130.5 370.1l6.3 0M165.4 370.1l3.1 0M121 365.2l9.5 0M165.4 365.2l3.1 0M108.3 360.4l9.5 0M95.6 355.6l9.5 0M168.5 355.6l3.2 0M89.3 350.8l6.3 0M86.1 346l3.2 0M83 341.2l3.1 0M171.7 341.2l3.2 0M79.8 336.4l3.2 0M79.8 331.6l3.2 0M174.9 326.8l3.1 0M79.8 307.5l3.2 0M83 297.9l3.1 0M178 297.9l3.2 0M86.1 293.1l3.2 0M89.3 288.3l3.2 0M92.5 283.5l3.1 0M79.8 336.4l0-9.6M79.8 307.5l0-4.8M83 341.2l0-4.8M83 297.9l0-4.8M86.1 346l0-4.8M86.1 293.1l0-4.8M89.3 350.8l0-4.8M89.3 288.3l0-4.8M92.5 350.8l0-4.8M92.5 283.5l0-3.2M95.6 355.6l0-4.8M98.8 355.6l0-4.8M102 355.6l0-4.8M108.3 360.4l0-4.8M111.5 360.4l0-4.8M114.7 360.4l0-4.8M121 365.2l0-4.8M124.2 365.2l0-4.8M127.3 365.2l0-4.8M130.5 370.1l0-4.9M133.7 370.1l0-4.9M140 456.6l0-9.6M140 374.9l0-4.8M143.2 442.2l0-4.8M143.2 374.9l0-4.8M146.4 432.6l0-4.8M146.4 379.7l0-4.8M149.5 422.9l0-4.8M149.5 379.7l0-4.8M152.7 418.1l0-9.6M152.7 384.5l0-9.6M155.9 408.5l0-9.6M155.9 384.5l0-9.6M159 403.7l0-9.6M159 384.5l0-9.6M162.2 403.7l0-9.6M162.2 379.7l0-9.6M165.4 403.7l0-4.8M165.4 370.1l0-9.7M168.5 403.7l0-4.8M168.5 355.6l0-4.8M171.7 408.5l0-4.8M171.7 341.2l0-4.8M174.9 326.8l0-4.8M178 413.3l0-4.8M178 297.9l0-4.8"/><path stroke="#fff947" d="M143.2 451.8l3.2 0M143.2 447l3.2 0M146.4 437.4l3.1 0M149.5 432.6l3.2 0M149.5 427.8l3.2 0M152.7 422.9l3.2 0M155.9 418.1l3.1 0M155.9 413.3l6.3 0M174.9 413.3l3.1 0M159 408.5l12.7 0M146.4 374.9l15.8 0M136.8 370.1l6.4 0M162.2 370.1l3.2 0M130.5 365.2l3.2 0M117.8 360.4l9.5 0M165.4 360.4l3.1 0M105.1 355.6l9.6 0M95.6 350.8l6.4 0M168.5 350.8l3.2 0M89.3 346l6.3 0M86.1 341.2l3.2 0M83 336.4l3.1 0M83 331.6l3.1 0M79.8 326.8l3.2 0M79.8 322l3.2 0M174.9 322l3.1 0M79.8 317.2l3.2 0M79.8 312.3l3.2 0M83 302.7l3.1 0M86.1 297.9l3.2 0M178 293.1l3.2 0M178 288.3l3.2 0M178 283.5l3.2 0M79.8 326.8l0-19.3M83 336.4l0-9.6M83 302.7l0-4.8M86.1 341.2l0-4.8M86.1 297.9l0-4.8M89.3 346l0-4.8M92.5 346l0-4.8M95.6 350.8l0-4.8M98.8 350.8l0-4.8M105.1 355.6l0-4.8M108.3 355.6l0-4.8M111.5 355.6l0-4.8M117.8 360.4l0-4.8M121 360.4l0-4.8M124.2 360.4l0-4.8M130.5 365.2l0-4.8M136.8 370.1l0-4.9M140 370.1l0-4.9M143.2 451.8l0-9.6M146.4 437.4l0-4.8M146.4 374.9l0-4.8M149.5 432.6l0-9.7M149.5 374.9l0-4.8M152.7 422.9l0-4.8M152.7 374.9l0-4.8M155.9 418.1l0-9.6M155.9 374.9l0-4.8M159 413.3l0-9.6M159 374.9l0-4.8M162.2 408.5l0-4.8M162.2 370.1l0-4.9M165.4 408.5l0-4.8M165.4 360.4l0-4.8M168.5 408.5l0-4.8M168.5 350.8l0-4.8M174.9 413.3l0-4.8M174.9 322l0-4.8M178 293.1l0-12.8M181.2 418.1l0-4.8"/><path stroke="#ffdc47" d="M143.2 456.6l3.2 0M146.4 447l3.1 0M146.4 442.2l3.1 0M149.5 437.4l3.2 0M152.7 427.8l3.2 0M155.9 422.9l3.1 0M159 418.1l3.2 0M162.2 413.3l12.7 0M143.2 370.1l19 0M133.7 365.2l6.3 0M162.2 365.2l3.2 0M127.3 360.4l3.2 0M114.7 355.6l9.5 0M165.4 355.6l3.1 0M102 350.8l9.5 0M95.6 346l6.4 0M89.3 341.2l6.3 0M86.1 336.4l3.2 0M171.7 336.4l3.2 0M86.1 331.6l3.2 0M83 326.8l3.1 0M83 322l3.1 0M83 317.2l3.1 0M174.9 317.2l3.1 0M83 312.3l3.1 0M83 307.5l3.1 0M86.1 302.7l3.2 0M89.3 293.1l3.2 0M92.5 288.3l3.1 0M95.6 283.5l3.2 0M83 326.8l0-24.1M86.1 336.4l0-9.6M86.1 302.7l0-4.8M89.3 341.2l0-4.8M89.3 293.1l0-4.8M92.5 341.2l0-4.8M92.5 288.3l0-4.8M95.6 346l0-4.8M95.6 283.5l0-3.2M98.8 346l0-4.8M102 350.8l0-4.8M105.1 350.8l0-4.8M108.3 350.8l0-4.8M114.7 355.6l0-4.8M117.8 355.6l0-4.8M121 355.6l0-4.8M127.3 360.4l0-4.8M133.7 365.2l0-4.8M136.8 365.2l0-4.8M143.2 456.6l0-4.8M143.2 370.1l0-4.9M146.4 447l0-9.6M146.4 370.1l0-4.9M149.5 437.4l0-4.8M149.5 370.1l0-4.9M152.7 427.8l0-4.9M152.7 370.1l0-4.9M155.9 422.9l0-4.8M155.9 370.1l0-4.9M159 418.1l0-4.8M159 370.1l0-4.9M162.2 413.3l0-4.8M162.2 365.2l0-4.8M165.4 413.3l0-4.8M165.4 355.6l0-4.8M168.5 413.3l0-4.8M171.7 413.3l0-4.8M171.7 336.4l0-4.8M174.9 317.2l0-4.9"/><path stroke="#ff8f47" d="M146.4 451.8l3.1 0M149.5 442.2l3.2 0M152.7 432.6l3.2 0M155.9 427.8l3.1 0M159 422.9l3.2 0M162.2 418.1l3.2 0M174.9 418.1l6.3 0M140 365.2l9.5 0M155.9 365.2l6.3 0M130.5 360.4l6.3 0M162.2 360.4l3.2 0M124.2 355.6l3.1 0M111.5 350.8l6.3 0M102 346l6.3 0M168.5 346l3.2 0M95.6 341.2l6.4 0M89.3 336.4l6.3 0M89.3 331.6l3.2 0M171.7 331.6l3.2 0M86.1 326.8l3.2 0M86.1 322l3.2 0M86.1 307.5l3.2 0M89.3 297.9l3.2 0M86.1 326.8l0-9.6M86.1 307.5l0-4.8M89.3 336.4l0-9.6M89.3 297.9l0-4.8M92.5 336.4l0-4.8M95.6 341.2l0-4.8M98.8 341.2l0-4.8M102 346l0-4.8M105.1 346l0-4.8M111.5 350.8l0-4.8M114.7 350.8l0-4.8M124.2 355.6l0-4.8M130.5 360.4l0-4.8M133.7 360.4l0-4.8M140 365.2l0-4.8M143.2 365.2l0-4.8M146.4 451.8l0-4.8M146.4 365.2l0-4.8M149.5 442.2l0-4.8M152.7 432.6l0-4.8M155.9 427.8l0-4.9M155.9 365.2l0-4.8M159 422.9l0-4.8M159 365.2l0-4.8M162.2 418.1l0-4.8M162.2 360.4l0-4.8M168.5 346l0-4.8M171.7 331.6l0-4.8M174.9 418.1l0-4.8M178 418.1l0-4.8"/><path stroke="#fd6647" d="M146.4 456.6l3.1 0M149.5 447l3.2 0M152.7 437.4l3.2 0M155.9 432.6l3.1 0M159 427.8l3.2 0M162.2 422.9l3.2 0M165.4 418.1l9.5 0M149.5 365.2l6.4 0M136.8 360.4l6.4 0M159 360.4l3.2 0M127.3 355.6l6.4 0M162.2 355.6l3.2 0M117.8 350.8l6.4 0M165.4 350.8l3.1 0M108.3 346l6.4 0M102 341.2l6.3 0M168.5 341.2l3.2 0M95.6 336.4l6.4 0M92.5 331.6l3.1 0M89.3 326.8l3.2 0M89.3 322l3.2 0M86.1 317.2l3.2 0M86.1 312.3l3.2 0M174.9 312.3l3.1 0M89.3 302.7l3.2 0M92.5 293.1l3.1 0M95.6 288.3l3.2 0M98.8 283.5l3.2 0M86.1 317.2l0-9.7M89.3 326.8l0-9.6M89.3 302.7l0-4.8M92.5 331.6l0-4.8M92.5 293.1l0-4.8M95.6 336.4l0-4.8M95.6 288.3l0-4.8M98.8 336.4l0-4.8M98.8 283.5l0-3.2M102 341.2l0-4.8M105.1 341.2l0-4.8M108.3 346l0-4.8M111.5 346l0-4.8M117.8 350.8l0-4.8M121 350.8l0-4.8M127.3 355.6l0-4.8M130.5 355.6l0-4.8M136.8 360.4l0-4.8M140 360.4l0-4.8M146.4 456.6l0-4.8M149.5 447l0-4.8M149.5 365.2l0-4.8M152.7 437.4l0-4.8M152.7 365.2l0-4.8M155.9 432.6l0-4.8M159 427.8l0-4.9M159 360.4l0-4.8M162.2 422.9l0-4.8M162.2 355.6l0-4.8M165.4 418.1l0-4.8M165.4 350.8l0-4.8M168.5 418.1l0-4.8M168.5 341.2l0-4.8M171.7 418.1l0-4.8M174.9 312.3l0-4.8M181.2 422.9l0-4.8"/><path stroke="#fa5c47" d="M149.5 451.8l3.2 0M152.7 442.2l3.2 0M155.9 437.4l3.1 0M165.4 422.9l3.1 0M178 422.9l3.2 0M143.2 360.4l15.8 0M133.7 355.6l6.3 0M159 355.6l3.2 0M124.2 350.8l6.3 0M114.7 346l6.3 0M165.4 346l3.1 0M108.3 341.2l6.4 0M102 336.4l3.1 0M95.6 331.6l6.4 0M92.5 326.8l3.1 0M171.7 326.8l3.2 0M92.5 322l3.1 0M89.3 317.2l3.2 0M89.3 312.3l3.2 0M89.3 307.5l3.2 0M174.9 307.5l3.1 0M92.5 302.7l3.1 0M92.5 297.9l3.1 0M95.6 293.1l3.2 0M89.3 317.2l0-14.5M92.5 326.8l0-9.6M92.5 302.7l0-9.6M95.6 331.6l0-4.8M95.6 293.1l0-4.8M98.8 331.6l0-4.8M102 336.4l0-4.8M108.3 341.2l0-4.8M111.5 341.2l0-4.8M114.7 346l0-4.8M117.8 346l0-4.8M124.2 350.8l0-4.8M127.3 350.8l0-4.8M133.7 355.6l0-4.8M136.8 355.6l0-4.8M143.2 360.4l0-4.8M146.4 360.4l0-4.8M149.5 451.8l0-4.8M149.5 360.4l0-4.8M152.7 442.2l0-4.8M152.7 360.4l0-4.8M155.9 437.4l0-4.8M155.9 360.4l0-4.8M159 355.6l0-4.8M165.4 422.9l0-4.8M165.4 346l0-4.8M171.7 326.8l0-4.8M174.9 307.5l0-4.8M178 422.9l0-4.8"/><path stroke="#f65b47" d="M149.5 456.6l3.2 0M152.7 447l3.2 0M159 432.6l3.2 0M162.2 427.8l3.2 0M168.5 422.9l9.5 0M140 355.6l6.4 0M155.9 355.6l3.1 0M130.5 350.8l3.2 0M162.2 350.8l3.2 0M121 346l6.3 0M114.7 341.2l3.1 0M105.1 336.4l6.4 0M168.5 336.4l3.2 0M102 331.6l3.1 0M95.6 326.8l6.4 0M95.6 322l3.2 0M92.5 317.2l3.1 0M92.5 312.3l3.1 0M92.5 307.5l3.1 0M95.6 297.9l3.2 0M98.8 288.3l3.2 0M102 283.5l3.1 0M92.5 317.2l0-14.5M95.6 326.8l0-9.6M95.6 297.9l0-4.8M98.8 326.8l0-4.8M98.8 288.3l0-4.8M102 331.6l0-4.8M102 283.5l0-3.2M105.1 336.4l0-4.8M108.3 336.4l0-4.8M114.7 341.2l0-4.8M121 346l0-4.8M124.2 346l0-4.8M130.5 350.8l0-4.8M140 355.6l0-4.8M143.2 355.6l0-4.8M149.5 456.6l0-4.8M152.7 447l0-4.8M155.9 355.6l0-4.8M159 432.6l0-4.8M162.2 427.8l0-4.9M162.2 350.8l0-4.8M168.5 422.9l0-4.8M168.5 336.4l0-4.8M171.7 422.9l0-4.8M174.9 422.9l0-4.8"/><path stroke="#f35947" d="M152.7 451.8l3.2 0M155.9 442.2l3.1 0M159 437.4l3.2 0M162.2 432.6l3.2 0M165.4 427.8l6.3 0M146.4 355.6l9.5 0M133.7 350.8l6.3 0M159 350.8l3.2 0M127.3 346l3.2 0M162.2 346l3.2 0M117.8 341.2l3.2 0M165.4 341.2l3.1 0M111.5 336.4l3.2 0M105.1 331.6l3.2 0M168.5 331.6l3.2 0M102 326.8l3.1 0M98.8 322l3.2 0M171.7 322l3.2 0M95.6 317.2l3.2 0M95.6 312.3l3.2 0M95.6 307.5l3.2 0M95.6 302.7l3.2 0M174.9 302.7l3.1 0M98.8 293.1l3.2 0M95.6 317.2l0-19.3M98.8 322l0-4.8M98.8 293.1l0-4.8M102 326.8l0-4.8M105.1 331.6l0-4.8M111.5 336.4l0-4.8M117.8 341.2l0-4.8M127.3 346l0-4.8M133.7 350.8l0-4.8M136.8 350.8l0-4.8M146.4 355.6l0-4.8M149.5 355.6l0-4.8M152.7 451.8l0-4.8M152.7 355.6l0-4.8M155.9 442.2l0-4.8M159 437.4l0-4.8M159 350.8l0-4.8M162.2 432.6l0-4.8M162.2 346l0-4.8M165.4 427.8l0-4.9M165.4 341.2l0-4.8M168.5 427.8l0-4.9M168.5 331.6l0-4.8M171.7 322l0-4.8M174.9 302.7l0-4.8M181.2 427.8l0-4.9"/><path stroke="#f05747" d="M152.7 456.6l3.2 0M155.9 447l3.1 0M159 442.2l3.2 0M165.4 432.6l3.1 0M171.7 427.8l9.5 0M140 350.8l6.4 0M155.9 350.8l3.1 0M130.5 346l3.2 0M121 341.2l6.3 0M114.7 336.4l6.3 0M108.3 331.6l6.4 0M105.1 326.8l3.2 0M102 322l3.1 0M98.8 317.2l3.2 0M171.7 317.2l3.2 0M98.8 312.3l3.2 0M98.8 307.5l3.2 0M98.8 302.7l3.2 0M98.8 297.9l3.2 0M174.9 297.9l3.1 0M102 288.3l3.1 0M98.8 317.2l0-24.1M102 322l0-4.8M102 288.3l0-4.8M105.1 326.8l0-4.8M108.3 331.6l0-4.8M111.5 331.6l0-4.8M114.7 336.4l0-4.8M117.8 336.4l0-4.8M121 341.2l0-4.8M124.2 341.2l0-4.8M130.5 346l0-4.8M140 350.8l0-4.8M143.2 350.8l0-4.8M152.7 456.6l0-4.8M155.9 447l0-4.8M155.9 350.8l0-4.8M159 442.2l0-4.8M165.4 432.6l0-4.8M171.7 427.8l0-4.9M171.7 317.2l0-4.9M174.9 427.8l0-4.9M174.9 297.9l0-4.8M178 427.8l0-4.9"/><path stroke="#ec5647" d="M155.9 451.8l3.1 0M162.2 437.4l3.2 0M168.5 432.6l3.2 0M146.4 350.8l9.5 0M133.7 346l6.3 0M159 346l3.2 0M127.3 341.2l3.2 0M162.2 341.2l3.2 0M121 336.4l3.2 0M165.4 336.4l3.1 0M114.7 331.6l3.1 0M108.3 326.8l3.2 0M168.5 326.8l3.2 0M105.1 322l3.2 0M102 317.2l3.1 0M102 312.3l3.1 0M102 293.1l3.1 0M174.9 293.1l3.1 0M105.1 283.5l3.2 0M102 317.2l0-9.7M102 293.1l0-4.8M105.1 322l0-4.8M105.1 283.5l0-3.2M108.3 326.8l0-4.8M114.7 331.6l0-4.8M121 336.4l0-4.8M127.3 341.2l0-4.8M133.7 346l0-4.8M136.8 346l0-4.8M146.4 350.8l0-4.8M149.5 350.8l0-4.8M152.7 350.8l0-4.8M155.9 451.8l0-4.8M159 346l0-4.8M162.2 437.4l0-4.8M162.2 341.2l0-4.8M165.4 336.4l0-4.8M168.5 432.6l0-4.8M168.5 326.8l0-4.8M174.9 293.1l0-4.8"/><path stroke="#e65447" d="M155.9 456.6l3.1 0M159 447l3.2 0M162.2 442.2l3.2 0M165.4 437.4l3.1 0M171.7 432.6l6.3 0M140 346l6.4 0M152.7 346l6.3 0M130.5 341.2l3.2 0M124.2 336.4l3.1 0M117.8 331.6l3.2 0M111.5 326.8l3.2 0M108.3 322l3.2 0M105.1 317.2l3.2 0M171.7 312.3l3.2 0M102 307.5l3.1 0M102 302.7l3.1 0M102 297.9l3.1 0M105.1 288.3l3.2 0M174.9 288.3l3.1 0M174.9 283.5l3.1 0M102 307.5l0-14.4M105.1 317.2l0-4.9M105.1 288.3l0-4.8M108.3 322l0-4.8M111.5 326.8l0-4.8M117.8 331.6l0-4.8M124.2 336.4l0-4.8M130.5 341.2l0-4.8M140 346l0-4.8M143.2 346l0-4.8M152.7 346l0-4.8M155.9 456.6l0-4.8M155.9 346l0-4.8M159 447l0-4.8M162.2 442.2l0-4.8M165.4 437.4l0-4.8M171.7 432.6l0-4.8M171.7 312.3l0-4.8M174.9 432.6l0-4.8M174.9 288.3l0-8M181.2 432.6l0-4.8"/><path stroke="#e05447" d="M159 451.8l3.2 0M168.5 437.4l3.2 0M178 432.6l3.2 0M146.4 346l6.3 0M133.7 341.2l6.3 0M159 341.2l3.2 0M127.3 336.4l3.2 0M162.2 336.4l3.2 0M121 331.6l3.2 0M165.4 331.6l3.1 0M114.7 326.8l3.1 0M111.5 322l3.2 0M168.5 322l3.2 0M108.3 317.2l3.2 0M105.1 312.3l3.2 0M105.1 307.5l3.2 0M171.7 307.5l3.2 0M105.1 302.7l3.2 0M105.1 297.9l3.2 0M105.1 293.1l3.2 0M108.3 283.5l3.2 0M105.1 312.3l0-24M108.3 317.2l0-4.9M108.3 283.5l0-3.2M111.5 322l0-4.8M114.7 326.8l0-4.8M121 331.6l0-4.8M127.3 336.4l0-4.8M133.7 341.2l0-4.8M136.8 341.2l0-4.8M146.4 346l0-4.8M149.5 346l0-4.8M159 451.8l0-4.8M159 341.2l0-4.8M162.2 336.4l0-4.8M165.4 331.6l0-4.8M168.5 437.4l0-4.8M168.5 322l0-4.8M171.7 307.5l0-4.8M178 432.6l0-4.8"/><path stroke="#da5247" d="M162.2 447l3.2 0M165.4 442.2l3.1 0M171.7 437.4l3.2 0M140 341.2l6.4 0M155.9 341.2l3.1 0M130.5 336.4l3.2 0M124.2 331.6l3.1 0M117.8 326.8l3.2 0M114.7 322l3.1 0M111.5 317.2l3.2 0M108.3 312.3l3.2 0M108.3 288.3l3.2 0M108.3 312.3l0-4.8M108.3 288.3l0-4.8M111.5 317.2l0-4.9M114.7 322l0-4.8M117.8 326.8l0-4.8M124.2 331.6l0-4.8M130.5 336.4l0-4.8M140 341.2l0-4.8M143.2 341.2l0-4.8M155.9 341.2l0-4.8M162.2 447l0-4.8M165.4 442.2l0-4.8M171.7 437.4l0-4.8"/><path stroke="#d55147" d="M159 456.6l3.2 0M162.2 451.8l3.2 0M168.5 442.2l3.2 0M174.9 437.4l6.3 0M146.4 341.2l9.5 0M133.7 336.4l6.3 0M159 336.4l3.2 0M127.3 331.6l3.2 0M162.2 331.6l3.2 0M121 326.8l3.2 0M165.4 326.8l3.1 0M117.8 322l3.2 0M114.7 317.2l3.1 0M168.5 317.2l3.2 0M111.5 312.3l3.2 0M108.3 307.5l3.2 0M108.3 302.7l3.2 0M171.7 302.7l3.2 0M108.3 297.9l3.2 0M108.3 293.1l3.2 0M108.3 307.5l0-19.2M111.5 312.3l0-4.8M114.7 317.2l0-4.9M117.8 322l0-4.8M121 326.8l0-4.8M127.3 331.6l0-4.8M133.7 336.4l0-4.8M136.8 336.4l0-4.8M146.4 341.2l0-4.8M149.5 341.2l0-4.8M152.7 341.2l0-4.8M159 456.6l0-4.8M159 336.4l0-4.8M162.2 451.8l0-4.8M162.2 331.6l0-4.8M165.4 326.8l0-4.8M168.5 442.2l0-4.8M168.5 317.2l0-4.9M171.7 302.7l0-4.8M174.9 437.4l0-4.8M178 437.4l0-4.8M181.2 437.4l0-4.8"/><path stroke="#ce5047" d="M165.4 447l3.1 0M140 336.4l3.2 0M155.9 336.4l3.1 0M130.5 331.6l3.2 0M124.2 326.8l3.1 0M121 322l3.2 0M111.5 307.5l3.2 0M171.7 297.9l3.2 0M111.5 288.3l3.2 0M111.5 283.5l3.2 0M111.5 307.5l0-4.8M111.5 288.3l0-8M121 322l0-4.8M124.2 326.8l0-4.8M130.5 331.6l0-4.8M140 336.4l0-4.8M155.9 336.4l0-4.8M165.4 447l0-4.8M171.7 297.9l0-4.8"/><path stroke="#c84f47" d="M162.2 456.6l3.2 0M165.4 451.8l3.1 0M168.5 447l3.2 0M171.7 442.2l3.2 0M143.2 336.4l12.7 0M133.7 331.6l3.1 0M159 331.6l3.2 0M127.3 326.8l3.2 0M162.2 326.8l3.2 0M165.4 322l3.1 0M117.8 317.2l3.2 0M114.7 312.3l3.1 0M168.5 312.3l3.2 0M111.5 302.7l3.2 0M111.5 297.9l3.2 0M111.5 293.1l3.2 0M171.7 293.1l3.2 0M111.5 302.7l0-14.4M114.7 312.3l0-4.8M117.8 317.2l0-4.9M127.3 326.8l0-4.8M133.7 331.6l0-4.8M143.2 336.4l0-4.8M146.4 336.4l0-4.8M149.5 336.4l0-4.8M152.7 336.4l0-4.8M159 331.6l0-4.8M162.2 456.6l0-4.8M162.2 326.8l0-4.8M165.4 451.8l0-4.8M165.4 322l0-4.8M168.5 447l0-4.8M168.5 312.3l0-4.8M171.7 442.2l0-4.8M171.7 293.1l0-4.8"/><path stroke="#c24e47" d="M174.9 442.2l6.3 0M136.8 331.6l6.4 0M155.9 331.6l3.1 0M130.5 326.8l3.2 0M124.2 322l3.1 0M121 317.2l3.2 0M117.8 312.3l3.2 0M114.7 307.5l3.1 0M168.5 307.5l3.2 0M114.7 302.7l3.1 0M171.7 288.3l3.2 0M114.7 283.5l3.1 0M114.7 307.5l0-9.6M114.7 283.5l0-3.2M117.8 312.3l0-4.8M121 317.2l0-4.9M124.2 322l0-4.8M130.5 326.8l0-4.8M136.8 331.6l0-4.8M140 331.6l0-4.8M155.9 331.6l0-4.8M168.5 307.5l0-4.8M171.7 288.3l0-4.8M174.9 442.2l0-4.8M178 442.2l0-4.8"/><path stroke="#bc4d47" d="M165.4 456.6l3.1 0M168.5 451.8l3.2 0M171.7 447l3.2 0M143.2 331.6l12.7 0M133.7 326.8l3.1 0M159 326.8l3.2 0M127.3 322l3.2 0M162.2 322l3.2 0M124.2 317.2l3.1 0M165.4 317.2l3.1 0M121 312.3l3.2 0M117.8 307.5l3.2 0M114.7 297.9l3.1 0M114.7 293.1l3.1 0M114.7 288.3l3.1 0M171.7 283.5l3.2 0M114.7 297.9l0-14.4M117.8 307.5l0-4.8M121 312.3l0-4.8M124.2 317.2l0-4.9M127.3 322l0-4.8M133.7 326.8l0-4.8M143.2 331.6l0-4.8M146.4 331.6l0-4.8M149.5 331.6l0-4.8M152.7 331.6l0-4.8M159 326.8l0-4.8M162.2 322l0-4.8M165.4 456.6l0-4.8M165.4 317.2l0-4.9M168.5 451.8l0-4.8M171.7 447l0-4.8M171.7 283.5l0-3.2M181.2 442.2l0-4.8"/><path stroke="#b54c47" d="M174.9 447l3.1 0M136.8 326.8l3.2 0M155.9 326.8l3.1 0M130.5 322l3.2 0M117.8 302.7l3.2 0M168.5 302.7l3.2 0M117.8 283.5l3.2 0M117.8 302.7l0-4.8M117.8 283.5l0-3.2M130.5 322l0-4.8M136.8 326.8l0-4.8M155.9 326.8l0-4.8M168.5 302.7l0-4.8M174.9 447l0-4.8"/><path stroke="#af4b47" d="M168.5 456.6l3.2 0M171.7 451.8l3.2 0M178 447l3.2 0M140 326.8l9.5 0M152.7 326.8l3.2 0M133.7 322l3.1 0M159 322l3.2 0M127.3 317.2l3.2 0M162.2 317.2l3.2 0M124.2 312.3l3.1 0M165.4 312.3l3.1 0M121 307.5l3.2 0M117.8 297.9l3.2 0M117.8 293.1l3.2 0M117.8 288.3l3.2 0M117.8 297.9l0-14.4M121 307.5l0-4.8M124.2 312.3l0-4.8M127.3 317.2l0-4.9M133.7 322l0-4.8M140 326.8l0-4.8M143.2 326.8l0-4.8M146.4 326.8l0-4.8M152.7 326.8l0-4.8M159 322l0-4.8M162.2 317.2l0-4.9M165.4 312.3l0-4.8M168.5 456.6l0-4.8M171.7 451.8l0-4.8M178 447l0-4.8"/><path stroke="#a84a47" d="M149.5 326.8l3.2 0M136.8 322l3.2 0M130.5 317.2l3.2 0M127.3 312.3l3.2 0M124.2 307.5l3.1 0M165.4 307.5l3.1 0M121 302.7l3.2 0M168.5 297.9l3.2 0M121 302.7l0-4.8M124.2 307.5l0-4.8M127.3 312.3l0-4.8M130.5 317.2l0-4.9M136.8 322l0-4.8M149.5 326.8l0-4.8M165.4 307.5l0-4.7M168.5 297.9l0-4.8M181.2 447l0-4.8"/><path stroke="#a24947" d="M174.9 451.8l2.6 0M140 322l6.4 0M152.7 322l6.3 0M133.7 317.2l3.1 0M159 317.2l3.2 0M162.2 312.3l3.2 0M121 297.9l2.6 0M121 293.1l1.7 0M168.5 293.1l3.2 0M121 288.3l1.3 0M121 283.5l1.6 0M121 297.9l0-17.6M133.7 317.2l0-2.9M140 322l0-3M143.2 322l0-1.6M152.7 322l0-1.5M155.9 322l0-3.3M159 317.2l0-1.6M162.2 312.3l0-1.7M168.5 293.1l0-4.8M174.9 451.8l0-4.8"/><path stroke="#9b4747" d="M171.7 456.6l.9 0M146.4 322l6.3 0M136.8 317.2l.3 0M157.5 317.2l1.5 0M130.5 312.3l1.2 0M161.2 312.3l1 0M127.3 307.5l.7 0M163.5 307.5l1.9 0M124.2 302.7l1.2 0M165.4 302.7l3.1 0M166.6 297.9l1.9 0M167.6 293.1l.9 0M168.4 288.3l3.3 0M168.9 283.5l2.8 0M124.2 302.7l0-3.2M127.3 307.5l0-1.1M130.5 312.3l0-1.4M136.8 317.2l0-.2M146.4 322l0-.8M149.5 322l0-.8M168.5 288.3l0-.9M171.7 456.6l0-4.8M174.9 454l0-2.2M178 451.4l0-4.4M181.2 449.9l0-2.9"/></g>
<g fill="#333"><circle cx="113.8" cy="365.8" r="0.6"/><circle cx="132.9" cy="395.7" r="0.6"/><circle cx="131" cy="376" r="0.6"/><circle cx="106" cy="400" r="0.6"/><circle cx="109" cy="429.1" r="0.6"/><circle cx="105.7" cy="392.6" r="0.6"/><circle cx="121.5" cy="387.4" r="0.6"/><circle cx="112.5" cy="402.9" r="0.6"/><circle cx="124.1" cy="389.9" r="0.6"/><circle cx="86.7" cy="385.2" r="0.6"/><circle cx="135.9" cy="410.6" r="0.6"/><circle cx="112" cy="421.4" r="0.6"/><circle cx="123.1" cy="399.2" r="0.6"/><circle cx="111.4" cy="399" r="0.6"/><circle cx="107.9" cy="401.5" r="0.6"/><circle cx="120" cy="377.8" r="0.6"/><circle cx="125.2" cy="364.8" r="0.6"/><circle cx="110.4" cy="402.7" r="0.6"/><circle cx="111.1" cy="382.9" r="0.6"/><circle cx="123.2" cy="378.6" r="0.6"/><circle cx="100.8" cy="382.7" r="0.6"/><circle cx="91.5" cy="376.8" r="0.6"/><circle cx="119" cy="402.2" r="0.6"/><circle cx="103.7" cy="382.2" r="0.6"/><circle cx="85.7" cy="359.5" r="0.6"/><circle cx="101.6" cy="381.1" r="0.6"/><circle cx="106.6" cy="406.3" r="0.6"/><circle cx="96.2" cy="384.5" r="0.6"/><circle cx="91.8" cy="373" r="0.6"/><circle cx="113.9" cy="388.8" r="0.6"/><circle cx="126.3" cy="405.3" r="0.6"/><circle cx="110" cy="368" r="0.6"/><circle cx="102.6" cy="417.4" r="0.6"/><circle cx="118.9" cy="386.4" r="0.6"/><circle cx="123.7" cy="395.6" r="0.6"/><circle cx="109" cy="416.4" r="0.6"/><circle cx="121.2" cy="373.7" r="0.6"/><circle cx="128.4" cy="389.1" r="0.6"/><circle cx="110.4" cy="415.9" r="0.6"/><circle cx="101.6" cy="384.6" r="0.6"/><circle cx="118.4" cy="402.9" r="0.6"/><circle cx="116.9" cy="428.9" r="0.6"/><circle cx="129.2" cy="407.5" r="0.6"/><circle cx="94.8" cy="390.6" r="0.6"/><circle cx="103.8" cy="384" r="0.6"/><circle cx="101.3" cy="392.4" r="0.6"/><circle cx="88.4" cy="394.5" r="0.6"/><circle cx="115.2" cy="387" r="0.6"/><circle cx="120.9" cy="399" r="0.6"/><circle cx="102.7" cy="374.5" r="0.6"/><circle cx="133.3" cy="392.7" r="0.6"/><circle cx="125.2" cy="390.1" r="0.6"/><circle cx="122.4" cy="385.7" r="0.6"/><circle cx="119.1" cy="414" r="0.6"/><circle cx="127.1" cy="407.8" r="0.6"/><circle cx="94.2" cy="368.2" r="0.6"/><circle cx="122.2" cy="389.4" r="0.6"/><circle cx="122" cy="400.3" r="0.6"/><circle cx="87.9" cy="389.2" r="0.6"/><circle cx="118.3" cy="403.8" r="0.6"/><circle cx="109.7" cy="390.4" r="0.6"/><circle cx="124.6" cy="407.1" r="0.6"/><circle cx="107" cy="390.4" r="0.6"/><circle cx="113.1" cy="423.2" r="0.6"/><circle cx="118.3" cy="371.7" r="0.6"/><circle cx="100.7" cy="404.4" r="0.6"/><circle cx="122" cy="423.3" r="0.6"/><circle cx="111.8" cy="399.2" r="0.6"/><circle cx="120.4" cy="401.8" r="0.6"/><circle cx="105.8" cy="392.6" r="0.6"/><circle cx="129" cy="415.5" r="0.6"/><circle cx="122.1" cy="388.3" r="0.6"/><circle cx="110.8" cy="331.2" r="0.6"/><circle cx="122.4" cy="417.9" r="0.6"/><circle cx="131.5" cy="389.3" r="0.6"/><circle cx="139.1" cy="400.8" r="0.6"/><circle cx="90.7" cy="391.9" r="0.6"/><circle cx="126.1" cy="427.3" r="0.6"/><circle cx="120" cy="415.6" r="0.6"/><circle cx="112" cy="387.2" r="0.6"/><circle cx="98.8" cy="396" r="0.6"/><circle cx="131.5" cy="366.4" r="0.6"/><circle cx="95.2" cy="407.8" r="0.6"/><circle cx="121.5" cy="392.2" r="0.6"/><circle cx="132.1" cy="343.8" r="0.6"/><circle cx="90.3" cy="408.8" r="0.6"/><circle cx="109" cy="411.3" r="0.6"/><circle cx="94.5" cy="395.9" r="0.6"/><circle cx="116.9" cy="396.1" r="0.6"/><circle cx="135.2" cy="380.4" r="0.6"/><circle cx="142.5" cy="393" r="0.6"/><circle cx="87.7" cy="408.7" r="0.6"/><circle cx="105.1" cy="391.5" r="0.6"/><circle cx="123.5" cy="348.6" r="0.6"/><circle cx="136.1" cy="372.8" r="0.6"/><circle cx="119.4" cy="444.5" r="0.6"/><circle cx="102.6" cy="397.8" r="0.6"/><circle cx="117.6" cy="410.8" r="0.6"/><circle cx="113.1" cy="384.3" r="0.6"/><circle cx="110.4" cy="398.4" r="0.6"/><circle cx="102.8" cy="361.1" r="0.6"/><circle cx="118.9" cy="378.8" r="0.6"/><circle cx="117.8" cy="379.5" r="0.6"/><circle cx="112" cy="392" r="0.6"/><circle cx="110.1" cy="396" r="0.6"/><circle cx="94.8" cy="389.3" r="0.6"/><circle cx="106.3" cy="372.4" r="0.6"/><circle cx="130.7" cy="385.8" r="0.6"/><circle cx="110.6" cy="401.5" r="0.6"/><circle cx="92.6" cy="372.7" r="0.6"/><circle cx="132.6" cy="391.9" r="0.6"/><circle cx="121" cy="396.7" r="0.6"/><circle cx="143.7" cy="409.3" r="0.6"/><circle cx="114.2" cy="405.3" r="0.6"/><circle cx="106.7" cy="406.5" r="0.6"/><circle cx="92.5" cy="444.7" r="0.6"/><circle cx="132.4" cy="377.3" r="0.6"/><circle cx="150.4" cy="385.3" r="0.6"/><circle cx="101.5" cy="399.1" r="0.6"/><circle cx="104" cy="376.8" r="0.6"/><circle cx="121.9" cy="387.5" r="0.6"/><circle cx="101.4" cy="388.7" r="0.6"/><circle cx="109.4" cy="439.1" r="0.6"/><circle cx="108.3" cy="399.4" r="0.6"/><circle cx="116.1" cy="385.9" r="0.6"/><circle cx="129.1" cy="366.8" r="0.6"/><circle cx="113.7" cy="362.7" r="0.6"/><circle cx="126.6" cy="370.1" r="0.6"/><circle cx="107.3" cy="415.8" r="0.6"/><circle cx="118.1" cy="434.2" r="0.6"/><circle cx="82.5" cy="385.2" r="0.6"/><circle cx="92.5" cy="394.8" r="0.6"/><circle cx="124.8" cy="378.3" r="0.6"/><circle cx="104.8" cy="397.5" r="0.6"/><circle cx="121.7" cy="391.4" r="0.6"/><circle cx="121.2" cy="421.8" r="0.6"/><circle cx="132.4" cy="387.4" r="0.6"/><circle cx="125" cy="403.2" r="0.6"/><circle cx="128" cy="389.1" r="0.6"/><circle cx="111.7" cy="387.2" r="0.6"/><circle cx="103.3" cy="397.4" r="0.6"/><circle cx="102.8" cy="389.7" r="0.6"/><circle cx="106.3" cy="395.5" r="0.6"/><circle cx="97.1" cy="381.9" r="0.6"/><circle cx="105.5" cy="386.4" r="0.6"/><circle cx="112" cy="405" r="0.6"/><circle cx="117" cy="405.7" r="0.6"/><circle cx="108.5" cy="364.4" r="0.6"/><circle cx="85.6" cy="397.1" r="0.6"/><circle cx="112.3" cy="377.7" r="0.6"/><circle cx="116.6" cy="388.3" r="0.6"/><circle cx="129" cy="405.3" r="0.6"/><circle cx="121.7" cy="408.5" r="0.6"/><circle cx="104.1" cy="393.2" r="0.6"/><circle cx="102.9" cy="390.7" r="0.6"/><circle cx="142.3" cy="384.4" r="0.6"/><circle cx="124.2" cy="417.7" r="0.6"/><circle cx="139.7" cy="405.8" r="0.6"/><circle cx="144" cy="397" r="0.6"/><circle cx="101.6" cy="367" r="0.6"/><circle cx="118.9" cy="437" r="0.6"/><circle cx="119.9" cy="387.5" r="0.6"/><circle cx="121.4" cy="404.8" r="0.6"/><circle cx="121.1" cy="387.7" r="0.6"/><circle cx="116.3" cy="404" r="0.6"/><circle cx="115.9" cy="388.8" r="0.6"/><circle cx="91.7" cy="367.6" r="0.6"/><circle cx="111" cy="389" r="0.6"/><circle cx="102.6" cy="387.6" r="0.6"/><circle cx="115.2" cy="388.7" r="0.6"/><circle cx="106.6" cy="408.6" r="0.6"/><circle cx="122.3" cy="385.7" r="0.6"/><circle cx="125.1" cy="399" r="0.6"/><circle cx="117.8" cy="409.6" r="0.6"/><circle cx="117.9" cy="396" r="0.6"/><circle cx="138.7" cy="427.2" r="0.6"/><circle cx="96.3" cy="362.8" r="0.6"/><circle cx="128.4" cy="361.2" r="0.6"/><circle cx="100.1" cy="427.4" r="0.6"/><circle cx="138.1" cy="332.8" r="0.6"/><circle cx="104.2" cy="371.7" r="0.6"/><circle cx="82.7" cy="315.1" r="0.6"/><circle cx="149.9" cy="422.5" r="0.6"/><circle cx="132.6" cy="375.6" r="0.6"/><circle cx="137.7" cy="403.5" r="0.6"/><circle cx="120.5" cy="359.3" r="0.6"/><circle cx="141.2" cy="364.1" r="0.6"/><circle cx="110.1" cy="377.3" r="0.6"/><circle cx="121.1" cy="403.3" r="0.6"/><circle cx="74.3" cy="378.5" r="0.6"/><circle cx="120.1" cy="396.8" r="0.6"/><circle cx="144.2" cy="324.9" r="0.6"/><circle cx="134" cy="384.4" r="0.6"/><circle cx="143.1" cy="382.5" r="0.6"/><circle cx="114.6" cy="412.5" r="0.6"/><circle cx="150.3" cy="413.2" r="0.6"/><circle cx="78.6" cy="316.2" r="0.6"/><circle cx="149.8" cy="404.8" r="0.6"/><circle cx="103" cy="328" r="0.6"/><circle cx="77" cy="365.9" r="0.6"/><circle cx="126" cy="312.5" r="0.6"/><circle cx="110.8" cy="425.6" r="0.6"/><circle cx="108.3" cy="317.9" r="0.6"/><circle cx="147.6" cy="341.3" r="0.6"/><circle cx="81.3" cy="369.6" r="0.6"/><circle cx="125.8" cy="350.1" r="0.6"/><circle cx="106.9" cy="348.2" r="0.6"/><circle cx="117.6" cy="386.2" r="0.6"/><circle cx="114.9" cy="360.4" r="0.6"/><circle cx="81" cy="416.7" r="0.6"/><circle cx="116.1" cy="445.4" r="0.6"/><circle cx="148.6" cy="354.6" r="0.6"/><circle cx="84.4" cy="382.6" r="0.6"/><circle cx="69.6" cy="322.9" r="0.6"/><circle cx="74.8" cy="411.8" r="0.6"/><circle cx="111.2" cy="335" r="0.6"/><circle cx="159" cy="311.7" r="0.6"/><circle cx="72.6" cy="323.9" r="0.6"/><circle cx="160.5" cy="314.7" r="0.6"/><circle cx="118.3" cy="426.3" r="0.6"/><circle cx="79.7" cy="425.5" r="0.6"/><circle cx="107.4" cy="416.7" r="0.6"/><circle cx="87.8" cy="398.3" r="0.6"/><circle cx="134.8" cy="432.4" r="0.6"/><circle cx="118.8" cy="427.5" r="0.6"/><circle cx="95.3" cy="445.8" r="0.6"/><circle cx="92.2" cy="319" r="0.6"/><circle cx="149" cy="398.3" r="0.6"/><circle cx="139.7" cy="361.6" r="0.6"/><circle cx="109" cy="385.4" r="0.6"/><circle cx="106.2" cy="345.4" r="0.6"/><circle cx="137" cy="336.6" r="0.6"/><circle cx="158.6" cy="395.3" r="0.6"/><circle cx="75.9" cy="374.2" r="0.6"/><circle cx="83.3" cy="434.8" r="0.6"/></g>
</g>
<rect x="33.3" y="280.3" width="192.1" height="176.9" fill="none" stroke="#999" stroke-width="0.8"/>
<path d="M33.3 457.2 33.3 455.4M33.3 280.3 33.3 282.1M65.3 457.2 65.3 455.4M65.3 280.3 65.3 282.1M97.3 457.2 97.3 455.4M97.3 280.3 97.3 282.1M129.4 457.2 129.4 455.4M129.4 280.3 129.4 282.1M161.4 457.2 161.4 455.4M161.4 280.3 161.4 282.1M193.4 457.2 193.4 455.4M193.4 280.3 193.4 282.1M225.4 457.2 225.4 455.4M225.4 280.3 225.4 282.1M33.3 457.2 35.1 457.2M225.4 457.2 223.6 457.2M33.3 427.7 35.1 427.7M225.4 427.7 223.6 427.7M33.3 398.2 35.1 398.2M225.4 398.2 223.6 398.2M33.3 368.8 35.1 368.8M225.4 368.8 223.6 368.8M33.3 339.3 35.1 339.3M225.4 339.3 223.6 339.3M33.3 309.8 35.1 309.8M225.4 309.8 223.6 309.8M33.3 280.3 35.1 280.3M225.4 280.3 223.6 280.3" stroke="#666" stroke-width="0.6" fill="none"/>
<text x="33.3" y="473.2" font-size="12.4" text-anchor="middle">-3</text>
<text x="65.3" y="473.2" font-size="12.4" text-anchor="middle">-2</text>
<text x="97.3" y="473.2" font-size="12.4" text-anchor="middle">-1</text>
<text x="129.4" y="473.2" font-size="12.4" text-anchor="middle">0</text>
<text x="161.4" y="473.2" font-size="12.4" text-anchor="middle">1</text>
<text x="193.4" y="473.2" font-size="12.4" text-anchor="middle">2</text>
<text x="226.3" y="473.2" font-size="12.4" text-anchor="middle" clip-path="url(#cl3)">3</text>
<text x="29.2" y="461.4" font-size="12.4" text-anchor="end">-3</text>
<text x="29.2" y="431.9" font-size="12.4" text-anchor="end">-2</text>
<text x="29.2" y="402.4" font-size="12.4" text-anchor="end">-1</text>
<text x="29.2" y="372.9" font-size="12.4" text-anchor="end">0</text>
<text x="29.2" y="343.4" font-size="12.4" text-anchor="end">1</text>
<text x="29.2" y="313.9" font-size="12.4" text-anchor="end">2</text>
<text x="29.2" y="284.5" font-size="12.4" text-anchor="end">3</text>
<text x="85.8" y="489" font-size="13.5" textLength="86.9" lengthAdjust="spacingAndGlyphs">X : GT of LTM</text>
<text transform="translate(13.8 369.1) rotate(-90)" x="-45.1" y="0" font-size="14" textLength="90.2" lengthAdjust="spacingAndGlyphs">Y : GT of STM</text>
<path d="M298.2 280.5 298.2 457.5M328 280.5 328 457.5M357.8 280.5 357.8 457.5M387.6 280.5 387.6 457.5M417.4 280.5 417.4 457.5M268.4 432.2 447.2 432.2M268.4 406.9 447.2 406.9M268.4 381.6 447.2 381.6M268.4 356.4 447.2 356.4M268.4 331.1 447.2 331.1M268.4 305.8 447.2 305.8" stroke="#e8e8e8" stroke-width="0.7" fill="none"/>
<clipPath id="cb"><rect x="268.4" y="280.5" width="178.8" height="177"/></clipPath>
<g clip-path="url(#cb)">
<g fill="none" stroke-width="0.75"><path stroke="#6b6bac" d="M288.1 457.5 288.1 453.7M291 457.5 291 453.7M294 457.5 294 453.7M296.9 457.5 296.9 453.7M299.9 457.5 299.9 453.7M302.8 457.5 302.8 453.7M305.8 457.5 305.8 453.7M308.7 457.5 308.7 453.7M311.7 457.5 311.7 453.7"/><path stroke="#6a6ab3" d="M288.1 453.7 288.1 452.4M291 453.7 291 449.9M294 453.7 294 449.9M296.9 453.7 296.9 449.9M299.9 453.7 299.9 449.9M302.8 453.7 302.8 449.9M305.8 453.7 305.8 449.9M308.7 453.7 308.7 449.9M311.7 453.7 311.7 449.9M314.6 453 314.6 449.9"/><path stroke="#6969ba" d="M291 449.9 291 446.1M294 449.9 294 446.1M296.9 449.9 296.9 446.1M299.9 449.9 299.9 446.1M302.8 449.9 302.8 446.1M305.8 449.9 305.8 446.1M308.7 449.9 308.7 446.1M311.7 449.9 311.7 446.1M314.6 449.9 314.6 446.1"/><path stroke="#6868c1" d="M291 446.1 291 442.3M294 446.1 294 442.3M296.9 446.1 296.9 442.3M299.9 446.1 299.9 442.3M302.8 446.1 302.8 442.3M305.8 446.1 305.8 442.3M308.7 446.1 308.7 442.3M311.7 446.1 311.7 442.3M314.6 446.1 314.6 442.3"/><path stroke="#6767c8" d="M291 442.3 291 438.5M294 442.3 294 438.5M296.9 442.3 296.9 438.5M299.9 442.3 299.9 438.5M302.8 442.3 302.8 438.5M305.8 442.3 305.8 438.5M308.7 442.3 308.7 438.5M311.7 442.3 311.7 438.5M314.6 442.3 314.6 438.5M317.6 440.7 317.6 438.5"/><path stroke="#6666d1" d="M291 438.5 291 434.7M294 438.5 294 434.7M296.9 438.5 296.9 434.7M299.9 438.5 299.9 434.7M302.8 438.5 302.8 434.7M305.8 438.5 305.8 434.7M308.7 438.5 308.7 434.7M311.7 438.5 311.7 434.7M314.6 438.5 314.6 434.7M317.6 438.5 317.6 434.7"/><path stroke="#6666da" d="M291 434.7 291 433.6M294 434.7 294 430.9M296.9 434.7 296.9 430.9M299.9 434.7 299.9 430.9M302.8 434.7 302.8 430.9M305.8 434.7 305.8 430.9M308.7 434.7 308.7 430.9M311.7 434.7 311.7 430.9M314.6 434.7 314.6 430.9M317.6 434.7 317.6 430.9M406.1 431.4 406.1 430.9"/><path stroke="#6666e4" d="M294 430.9 294 427.2M296.9 430.9 296.9 427.2M299.9 430.9 299.9 427.2M302.8 430.9 302.8 427.2M305.8 430.9 305.8 427.2M308.7 430.9 308.7 427.2M311.7 430.9 311.7 427.2M314.6 430.9 314.6 427.2M317.6 430.9 317.6 427.2M320.5 430.6 320.5 427.2M406.1 430.9 406.1 427.2"/><path stroke="#6666ee" d="M294 427.2 294 423.4M296.9 427.2 296.9 423.4M299.9 427.2 299.9 423.4M302.8 427.2 302.8 423.4M305.8 427.2 305.8 423.4M308.7 427.2 308.7 423.4M311.7 427.2 311.7 423.4M314.6 427.2 314.6 423.4M317.6 427.2 317.6 423.4M320.5 427.2 320.5 423.4M406.1 427.2 406.1 423.4"/><path stroke="#6666f7" d="M294 423.4 294 419.6M296.9 423.4 296.9 419.6M299.9 423.4 299.9 419.6M302.8 423.4 302.8 419.6M305.8 423.4 305.8 419.6M308.7 423.4 308.7 419.6M311.7 423.4 311.7 419.6M314.6 423.4 314.6 419.6M317.6 423.4 317.6 419.6M320.5 423.4 320.5 419.6M323.5 422.4 323.5 419.6M406.1 423.4 406.1 419.6"/><path stroke="#6666f9" d="M294 419.6 294 417.5M296.9 419.6 296.9 415.8M299.9 419.6 299.9 415.8M302.8 419.6 302.8 415.8M305.8 419.6 305.8 415.8M308.7 419.6 308.7 415.8M311.7 419.6 311.7 415.8M314.6 419.6 314.6 415.8M317.6 419.6 317.6 415.8M320.5 419.6 320.5 415.8M323.5 419.6 323.5 415.8M326.4 415.9 326.4 415.8M406.1 419.6 406.1 415.8"/><path stroke="#6666fb" d="M296.9 415.8 296.9 412M299.9 415.8 299.9 412M302.8 415.8 302.8 412M305.8 415.8 305.8 412M308.7 415.8 308.7 412M311.7 415.8 311.7 412M314.6 415.8 314.6 412M317.6 415.8 317.6 412M320.5 415.8 320.5 412M323.5 415.8 323.5 412M326.4 415.8 326.4 412M406.1 415.8 406.1 412"/><path stroke="#6666fe" d="M296.9 412 296.9 408.2M299.9 412 299.9 408.2M302.8 412 302.8 408.2M305.8 412 305.8 408.2M308.7 412 308.7 408.2M311.7 412 311.7 408.2M314.6 412 314.6 408.2M317.6 412 317.6 408.2M320.5 412 320.5 408.2M323.5 412 323.5 408.2M326.4 412 326.4 408.2M329.4 410.6 329.4 408.2M403.1 410.4 403.1 408.2M406.1 412 406.1 408.2"/><path stroke="#7397be" d="M296.9 408.2 296.9 404.4M299.9 408.2 299.9 404.4M302.8 408.2 302.8 404.4M305.8 408.2 305.8 404.4M308.7 408.2 308.7 404.4M311.7 408.2 311.7 404.4M314.6 408.2 314.6 404.4M317.6 408.2 317.6 404.4M320.5 408.2 320.5 404.4M323.5 408.2 323.5 404.4M326.4 408.2 326.4 404.4M329.4 408.2 329.4 404.4M332.3 406.4 332.3 404.4M403.1 408.2 403.1 404.4M406.1 408.2 406.1 404.4"/><path stroke="#78cc78" d="M296.9 404.4 296.9 403.7M299.9 404.4 299.9 400.6M302.8 404.4 302.8 400.6M305.8 404.4 305.8 400.6M308.7 404.4 308.7 400.6M311.7 404.4 311.7 400.6M314.6 404.4 314.6 400.6M317.6 404.4 317.6 400.6M320.5 404.4 320.5 400.6M323.5 404.4 323.5 400.6M326.4 404.4 326.4 400.6M329.4 404.4 329.4 400.6M332.3 404.4 332.3 400.6M335.3 403 335.3 400.6M403.1 404.4 403.1 400.6M406.1 404.4 406.1 400.6"/><path stroke="#7ace76" d="M299.9 400.6 299.9 396.8M302.8 400.6 302.8 396.8M305.8 400.6 305.8 396.8M308.7 400.6 308.7 396.8M311.7 400.6 311.7 396.8M314.6 400.6 314.6 396.8M317.6 400.6 317.6 396.8M320.5 400.6 320.5 396.8M323.5 400.6 323.5 396.8M326.4 400.6 326.4 396.8M329.4 400.6 329.4 396.8M332.3 400.6 332.3 396.8M335.3 400.6 335.3 396.8M338.2 400.1 338.2 396.8M341.2 397.5 341.2 396.8M403.1 400.6 403.1 396.8M406.1 400.6 406.1 396.8"/><path stroke="#7bcf75" d="M299.9 396.8 299.9 393M302.8 396.8 302.8 393M305.8 396.8 305.8 393M308.7 396.8 308.7 393M311.7 396.8 311.7 393M314.6 396.8 314.6 393M317.6 396.8 317.6 393M320.5 396.8 320.5 393M323.5 396.8 323.5 393M326.4 396.8 326.4 393M329.4 396.8 329.4 393M332.3 396.8 332.3 393M335.3 396.8 335.3 393M338.2 396.8 338.2 393M341.2 396.8 341.2 393M344.1 395 344.1 393M347.1 393.6 347.1 393M400.2 394.6 400.2 393M403.1 396.8 403.1 393M406.1 396.8 406.1 393"/><path stroke="#7cd074" d="M299.9 393 299.9 392M302.8 393 302.8 389.2M305.8 393 305.8 389.2M308.7 393 308.7 389.2M311.7 393 311.7 389.2M314.6 393 314.6 389.2M317.6 393 317.6 389.2M320.5 393 320.5 389.2M323.5 393 323.5 389.2M326.4 393 326.4 389.2M329.4 393 329.4 389.2M332.3 393 332.3 389.2M335.3 393 335.3 389.2M338.2 393 338.2 389.2M341.2 393 341.2 389.2M344.1 393 344.1 389.2M347.1 393 347.1 389.2M350 392.6 350 389.2M353 391.4 353 389.2M355.9 389.7 355.9 389.2M400.2 393 400.2 389.2M403.1 393 403.1 389.2M406.1 393 406.1 389.2"/><path stroke="#7ed272" d="M302.8 389.2 302.8 385.4M305.8 389.2 305.8 385.4M308.7 389.2 308.7 385.4M311.7 389.2 311.7 385.4M314.6 389.2 314.6 385.4M317.6 389.2 317.6 385.4M320.5 389.2 320.5 385.4M323.5 389.2 323.5 385.4M326.4 389.2 326.4 385.4M329.4 389.2 329.4 385.4M332.3 389.2 332.3 385.4M335.3 389.2 335.3 385.4M338.2 389.2 338.2 385.4M341.2 389.2 341.2 385.4M344.1 389.2 344.1 385.4M347.1 389.2 347.1 385.4M350 389.2 350 385.4M353 389.2 353 385.4M355.9 389.2 355.9 385.4M358.9 387.8 358.9 385.4M361.8 385.4 361.8 385.4M400.2 389.2 400.2 385.4M403.1 389.2 403.1 385.4M406.1 389.2 406.1 385.4"/><path stroke="#8fdb72" d="M302.8 385.4 302.8 382.2M305.8 385.4 305.8 381.6M308.7 385.4 308.7 381.6M311.7 385.4 311.7 381.6M314.6 385.4 314.6 381.6M317.6 385.4 317.6 381.6M320.5 385.4 320.5 381.6M323.5 385.4 323.5 381.6M326.4 385.4 326.4 381.6M329.4 385.4 329.4 381.6M332.3 385.4 332.3 381.6M335.3 385.4 335.3 381.6M338.2 385.4 338.2 381.6M341.2 385.4 341.2 381.6M344.1 385.4 344.1 381.6M347.1 385.4 347.1 381.6M350 385.4 350 381.6M353 385.4 353 381.6M355.9 385.4 355.9 381.6M358.9 385.4 358.9 381.6M361.8 385.4 361.8 381.6M364.8 382.8 364.8 381.6M397.2 383.2 397.2 381.6M400.2 385.4 400.2 381.6M403.1 385.4 403.1 381.6M406.1 385.4 406.1 381.6"/><path stroke="#a4e572" d="M305.8 381.6 305.8 377.9M308.7 381.6 308.7 377.9M311.7 381.6 311.7 377.9M314.6 381.6 314.6 377.9M317.6 381.6 317.6 377.9M320.5 381.6 320.5 377.9M323.5 381.6 323.5 377.9M326.4 381.6 326.4 377.9M329.4 381.6 329.4 377.9M332.3 381.6 332.3 377.9M335.3 381.6 335.3 377.9M338.2 381.6 338.2 377.9M341.2 381.6 341.2 377.9M344.1 381.6 344.1 377.9M347.1 381.6 347.1 377.9M350 381.6 350 377.9M353 381.6 353 377.9M355.9 381.6 355.9 377.9M358.9 381.6 358.9 377.9M361.8 381.6 361.8 377.9M364.8 381.6 364.8 377.9M367.7 379.9 367.7 377.9M397.2 381.6 397.2 377.9M400.2 381.6 400.2 377.9M403.1 381.6 403.1 377.9M406.1 381.6 406.1 377.9"/><path stroke="#c3ed6f" d="M305.8 377.9 305.8 374.1M308.7 377.9 308.7 374.1M311.7 377.9 311.7 374.1M314.6 377.9 314.6 374.1M317.6 377.9 317.6 374.1M320.5 377.9 320.5 374.1M323.5 377.9 323.5 374.1M326.4 377.9 326.4 374.1M329.4 377.9 329.4 374.1M332.3 377.9 332.3 374.1M335.3 377.9 335.3 374.1M338.2 377.9 338.2 374.1M341.2 377.9 341.2 374.1M344.1 377.9 344.1 374.1M347.1 377.9 347.1 374.1M350 377.9 350 374.1M353 377.9 353 374.1M355.9 377.9 355.9 374.1M358.9 377.9 358.9 374.1M361.8 377.9 361.8 374.1M364.8 377.9 364.8 374.1M367.7 377.9 367.7 374.1M370.7 377 370.7 374.1M394.3 375.3 394.3 374.1M397.2 377.9 397.2 374.1M400.2 377.9 400.2 374.1M403.1 377.9 403.1 374.1M406.1 377.9 406.1 374.1"/><path stroke="#e3f56b" d="M305.8 374.1 305.8 373.9M308.7 374.1 308.7 370.3M311.7 374.1 311.7 370.3M314.6 374.1 314.6 370.3M317.6 374.1 317.6 370.3M320.5 374.1 320.5 370.3M323.5 374.1 323.5 370.3M326.4 374.1 326.4 370.3M329.4 374.1 329.4 370.3M332.3 374.1 332.3 370.3M335.3 374.1 335.3 370.3M338.2 374.1 338.2 370.3M341.2 374.1 341.2 370.3M344.1 374.1 344.1 370.3M347.1 374.1 347.1 370.3M350 374.1 350 370.3M353 374.1 353 370.3M355.9 374.1 355.9 370.3M358.9 374.1 358.9 370.3M361.8 374.1 361.8 370.3M364.8 374.1 364.8 370.3M367.7 374.1 367.7 370.3M370.7 374.1 370.7 370.3M373.6 374 373.6 370.3M376.6 371.3 376.6 370.3M391.3 370.3 391.3 370.3M394.3 374.1 394.3 370.3M397.2 374.1 397.2 370.3M400.2 374.1 400.2 370.3M403.1 374.1 403.1 370.3M406.1 374.1 406.1 370.3"/><path stroke="#ffff66" d="M308.7 370.3 308.7 366.9M311.7 370.3 311.7 366.5M314.6 370.3 314.6 366.5M317.6 370.3 317.6 366.5M320.5 370.3 320.5 366.5M323.5 370.3 323.5 366.5M326.4 370.3 326.4 366.5M329.4 370.3 329.4 366.5M332.3 370.3 332.3 366.5M335.3 370.3 335.3 366.5M338.2 370.3 338.2 366.5M341.2 370.3 341.2 366.5M344.1 370.3 344.1 366.5M347.1 370.3 347.1 366.5M350 370.3 350 366.5M353 370.3 353 366.5M355.9 370.3 355.9 366.5M358.9 370.3 358.9 366.5M361.8 370.3 361.8 366.5M364.8 370.3 364.8 366.5M367.7 370.3 367.7 366.5M370.7 370.3 370.7 366.5M373.6 370.3 373.6 366.5M376.6 370.3 376.6 366.5M379.5 369 379.5 366.5M382.5 367.4 382.5 366.5M385.4 366.8 385.4 366.5M388.4 367.7 388.4 366.5M391.3 370.3 391.3 366.5M394.3 370.3 394.3 366.5M397.2 370.3 397.2 366.5M400.2 370.3 400.2 366.5M403.1 370.3 403.1 366.5M406.1 370.3 406.1 366.5"/><path stroke="#fffd66" d="M311.7 366.5 311.7 362.7M314.6 366.5 314.6 362.7M317.6 366.5 317.6 362.7M320.5 366.5 320.5 362.7M323.5 366.5 323.5 362.7M326.4 366.5 326.4 362.7M329.4 366.5 329.4 362.7M332.3 366.5 332.3 362.7M335.3 366.5 335.3 362.7M338.2 366.5 338.2 362.7M341.2 366.5 341.2 362.7M344.1 366.5 344.1 362.7M347.1 366.5 347.1 362.7M350 366.5 350 362.7M353 366.5 353 362.7M355.9 366.5 355.9 362.7M358.9 366.5 358.9 362.7M361.8 366.5 361.8 362.7M364.8 366.5 364.8 362.7M367.7 366.5 367.7 362.7M370.7 366.5 370.7 362.7M373.6 366.5 373.6 362.7M376.6 366.5 376.6 362.7M379.5 366.5 379.5 362.7M382.5 366.5 382.5 362.7M385.4 366.5 385.4 362.7M388.4 366.5 388.4 362.7M391.3 366.5 391.3 362.7M394.3 366.5 394.3 362.7M397.2 366.5 397.2 362.7M400.2 366.5 400.2 362.7M403.1 366.5 403.1 362.7M406.1 366.5 406.1 362.7"/><path stroke="#fffa66" d="M311.7 362.7 311.7 361M314.6 362.7 314.6 358.9M317.6 362.7 317.6 358.9M320.5 362.7 320.5 358.9M323.5 362.7 323.5 358.9M326.4 362.7 326.4 358.9M329.4 362.7 329.4 358.9M332.3 362.7 332.3 358.9M335.3 362.7 335.3 358.9M338.2 362.7 338.2 358.9M341.2 362.7 341.2 358.9M344.1 362.7 344.1 358.9M347.1 362.7 347.1 358.9M350 362.7 350 358.9M353 362.7 353 358.9M355.9 362.7 355.9 358.9M358.9 362.7 358.9 358.9M361.8 362.7 361.8 358.9M364.8 362.7 364.8 358.9M367.7 362.7 367.7 358.9M370.7 362.7 370.7 358.9M373.6 362.7 373.6 358.9M376.6 362.7 376.6 358.9M379.5 362.7 379.5 358.9M382.5 362.7 382.5 358.9M385.4 362.7 385.4 358.9M388.4 362.7 388.4 358.9M391.3 362.7 391.3 358.9M394.3 362.7 394.3 358.9M397.2 362.7 397.2 358.9M400.2 362.7 400.2 358.9M403.1 362.7 403.1 358.9M406.1 362.7 406.1 358.9"/><path stroke="#ffe266" d="M314.6 358.9 314.6 355.7M317.6 358.9 317.6 355.1M320.5 358.9 320.5 355.1M323.5 358.9 323.5 355.1M326.4 358.9 326.4 355.1M329.4 358.9 329.4 355.1M332.3 358.9 332.3 355.1M335.3 358.9 335.3 355.1M338.2 358.9 338.2 355.1M341.2 358.9 341.2 355.1M344.1 358.9 344.1 355.1M347.1 358.9 347.1 355.1M350 358.9 350 355.1M353 358.9 353 355.1M355.9 358.9 355.9 355.1M358.9 358.9 358.9 355.1M361.8 358.9 361.8 355.1M364.8 358.9 364.8 355.1M367.7 358.9 367.7 355.1M370.7 358.9 370.7 355.1M373.6 358.9 373.6 355.1M376.6 358.9 376.6 355.1M379.5 358.9 379.5 355.1M382.5 358.9 382.5 355.1M385.4 358.9 385.4 355.1M388.4 358.9 388.4 355.1M391.3 358.9 391.3 355.1M394.3 358.9 394.3 355.1M397.2 358.9 397.2 355.1M400.2 358.9 400.2 355.1M403.1 358.9 403.1 355.1M406.1 358.9 406.1 355.1"/><path stroke="#ffa266" d="M317.6 355.1 317.6 351.3M320.5 355.1 320.5 351.3M323.5 355.1 323.5 351.3M326.4 355.1 326.4 351.3M329.4 355.1 329.4 351.3M332.3 355.1 332.3 351.3M335.3 355.1 335.3 351.3M338.2 355.1 338.2 351.3M341.2 355.1 341.2 351.3M344.1 355.1 344.1 351.3M347.1 355.1 347.1 351.3M350 355.1 350 351.3M353 355.1 353 351.3M355.9 355.1 355.9 351.3M358.9 355.1 358.9 351.3M361.8 355.1 361.8 351.3M364.8 355.1 364.8 351.3M367.7 355.1 367.7 351.3M370.7 355.1 370.7 351.3M373.6 355.1 373.6 351.3M376.6 355.1 376.6 351.3M379.5 355.1 379.5 351.3M382.5 355.1 382.5 351.3M385.4 355.1 385.4 351.3M388.4 355.1 388.4 351.3M391.3 355.1 391.3 351.3M394.3 355.1 394.3 351.3M397.2 355.1 397.2 351.3M400.2 355.1 400.2 351.3M403.1 355.1 403.1 351.3M406.1 355.1 406.1 351.3"/><path stroke="#fd8066" d="M317.6 351.3 317.6 351M320.5 351.3 320.5 347.5M323.5 351.3 323.5 347.5M326.4 351.3 326.4 347.5M329.4 351.3 329.4 347.5M332.3 351.3 332.3 347.5M335.3 351.3 335.3 347.5M338.2 351.3 338.2 347.5M341.2 351.3 341.2 347.5M344.1 351.3 344.1 347.5M347.1 351.3 347.1 347.5M350 351.3 350 347.5M353 351.3 353 347.5M355.9 351.3 355.9 347.5M358.9 351.3 358.9 347.5M361.8 351.3 361.8 347.5M364.8 351.3 364.8 347.5M367.7 351.3 367.7 347.5M370.7 351.3 370.7 347.5M373.6 351.3 373.6 347.5M376.6 351.3 376.6 347.5M379.5 351.3 379.5 347.5M382.5 351.3 382.5 347.5M385.4 351.3 385.4 347.5M388.4 351.3 388.4 347.5M391.3 351.3 391.3 347.5M394.3 351.3 394.3 347.5M397.2 351.3 397.2 347.5M400.2 351.3 400.2 347.5M403.1 351.3 403.1 347.5M406.1 351.3 406.1 347.5"/><path stroke="#fb7766" d="M320.5 347.5 320.5 346.6M323.5 347.5 323.5 343.7M326.4 347.5 326.4 343.7M329.4 347.5 329.4 343.7M332.3 347.5 332.3 343.7M335.3 347.5 335.3 343.7M338.2 347.5 338.2 343.7M341.2 347.5 341.2 343.7M344.1 347.5 344.1 343.7M347.1 347.5 347.1 343.7M350 347.5 350 343.7M353 347.5 353 343.7M355.9 347.5 355.9 343.7M358.9 347.5 358.9 343.7M361.8 347.5 361.8 343.7M364.8 347.5 364.8 343.7M367.7 347.5 367.7 343.7M370.7 347.5 370.7 343.7M373.6 347.5 373.6 343.7M376.6 347.5 376.6 343.7M379.5 347.5 379.5 343.7M382.5 347.5 382.5 343.7M385.4 347.5 385.4 343.7M388.4 347.5 388.4 343.7M391.3 347.5 391.3 343.7M394.3 347.5 394.3 343.7M397.2 347.5 397.2 343.7M400.2 347.5 400.2 343.7M403.1 347.5 403.1 343.7M406.1 347.5 406.1 343.7"/><path stroke="#f87666" d="M323.5 343.7 323.5 342.1M326.4 343.7 326.4 339.9M329.4 343.7 329.4 339.9M332.3 343.7 332.3 339.9M335.3 343.7 335.3 339.9M338.2 343.7 338.2 339.9M341.2 343.7 341.2 339.9M344.1 343.7 344.1 339.9M347.1 343.7 347.1 339.9M350 343.7 350 339.9M353 343.7 353 339.9M355.9 343.7 355.9 339.9M358.9 343.7 358.9 339.9M361.8 343.7 361.8 339.9M364.8 343.7 364.8 339.9M367.7 343.7 367.7 339.9M370.7 343.7 370.7 339.9M373.6 343.7 373.6 339.9M376.6 343.7 376.6 339.9M379.5 343.7 379.5 339.9M382.5 343.7 382.5 339.9M385.4 343.7 385.4 339.9M388.4 343.7 388.4 339.9M391.3 343.7 391.3 339.9M394.3 343.7 394.3 339.9M397.2 343.7 397.2 339.9M400.2 343.7 400.2 339.9M403.1 343.7 403.1 339.9M406.1 343.7 406.1 339.9"/><path stroke="#f57466" d="M326.4 339.9 326.4 337.5M329.4 339.9 329.4 336.1M332.3 339.9 332.3 336.1M335.3 339.9 335.3 336.1M338.2 339.9 338.2 336.1M341.2 339.9 341.2 336.1M344.1 339.9 344.1 336.1M347.1 339.9 347.1 336.1M350 339.9 350 336.1M353 339.9 353 336.1M355.9 339.9 355.9 336.1M358.9 339.9 358.9 336.1M361.8 339.9 361.8 336.1M364.8 339.9 364.8 336.1M367.7 339.9 367.7 336.1M370.7 339.9 370.7 336.1M373.6 339.9 373.6 336.1M376.6 339.9 376.6 336.1M379.5 339.9 379.5 336.1M382.5 339.9 382.5 336.1M385.4 339.9 385.4 336.1M388.4 339.9 388.4 336.1M391.3 339.9 391.3 336.1M394.3 339.9 394.3 336.1M397.2 339.9 397.2 336.1M400.2 339.9 400.2 336.1M403.1 339.9 403.1 336.1M406.1 339.9 406.1 336.1"/><path stroke="#f27366" d="M329.4 336.1 329.4 332.7M332.3 336.1 332.3 332.3M335.3 336.1 335.3 332.3M338.2 336.1 338.2 332.3M341.2 336.1 341.2 332.3M344.1 336.1 344.1 332.3M347.1 336.1 347.1 332.3M350 336.1 350 332.3M353 336.1 353 332.3M355.9 336.1 355.9 332.3M358.9 336.1 358.9 332.3M361.8 336.1 361.8 332.3M364.8 336.1 364.8 332.3M367.7 336.1 367.7 332.3M370.7 336.1 370.7 332.3M373.6 336.1 373.6 332.3M376.6 336.1 376.6 332.3M379.5 336.1 379.5 332.3M382.5 336.1 382.5 332.3M385.4 336.1 385.4 332.3M388.4 336.1 388.4 332.3M391.3 336.1 391.3 332.3M394.3 336.1 394.3 332.3M397.2 336.1 397.2 332.3M400.2 336.1 400.2 332.3M403.1 336.1 403.1 332.3M406.1 336.1 406.1 332.3"/><path stroke="#ef7266" d="M332.3 332.3 332.3 328.5M335.3 332.3 335.3 328.5M338.2 332.3 338.2 328.5M341.2 332.3 341.2 328.5M344.1 332.3 344.1 328.5M347.1 332.3 347.1 328.5M350 332.3 350 328.5M353 332.3 353 328.5M355.9 332.3 355.9 328.5M358.9 332.3 358.9 328.5M361.8 332.3 361.8 328.5M364.8 332.3 364.8 328.5M367.7 332.3 367.7 328.5M370.7 332.3 370.7 328.5M373.6 332.3 373.6 328.5M376.6 332.3 376.6 328.5M379.5 332.3 379.5 328.5M382.5 332.3 382.5 328.5M385.4 332.3 385.4 328.5M388.4 332.3 388.4 328.5M391.3 332.3 391.3 328.5M394.3 332.3 394.3 328.5M397.2 332.3 397.2 328.5M400.2 332.3 400.2 328.5M403.1 332.3 403.1 328.5M406.1 332.3 406.1 328.5"/><path stroke="#ea7166" d="M332.3 328.5 332.3 327.3M335.3 328.5 335.3 324.8M338.2 328.5 338.2 324.8M341.2 328.5 341.2 324.8M344.1 328.5 344.1 324.8M347.1 328.5 347.1 324.8M350 328.5 350 324.8M353 328.5 353 324.8M355.9 328.5 355.9 324.8M358.9 328.5 358.9 324.8M361.8 328.5 361.8 324.8M364.8 328.5 364.8 324.8M367.7 328.5 367.7 324.8M370.7 328.5 370.7 324.8M373.6 328.5 373.6 324.8M376.6 328.5 376.6 324.8M379.5 328.5 379.5 324.8M382.5 328.5 382.5 324.8M385.4 328.5 385.4 324.8M388.4 328.5 388.4 324.8M391.3 328.5 391.3 324.8M394.3 328.5 394.3 324.8M397.2 328.5 397.2 324.8M400.2 328.5 400.2 324.8M403.1 328.5 403.1 324.8M406.1 328.5 406.1 324.8"/><path stroke="#e57066" d="M335.3 324.8 335.3 321.5M338.2 324.8 338.2 321M341.2 324.8 341.2 321M344.1 324.8 344.1 321M347.1 324.8 347.1 321M350 324.8 350 321M353 324.8 353 321M355.9 324.8 355.9 321M358.9 324.8 358.9 321M361.8 324.8 361.8 321M364.8 324.8 364.8 321M367.7 324.8 367.7 321M370.7 324.8 370.7 321M373.6 324.8 373.6 321M376.6 324.8 376.6 321M379.5 324.8 379.5 321M382.5 324.8 382.5 321M385.4 324.8 385.4 321M388.4 324.8 388.4 321M391.3 324.8 391.3 321M394.3 324.8 394.3 321M397.2 324.8 397.2 321M400.2 324.8 400.2 321M403.1 324.8 403.1 321M406.1 324.8 406.1 321"/><path stroke="#e06f66" d="M338.2 321 338.2 317.2M341.2 321 341.2 317.2M344.1 321 344.1 317.2M347.1 321 347.1 317.2M350 321 350 317.2M353 321 353 317.2M355.9 321 355.9 317.2M358.9 321 358.9 317.2M361.8 321 361.8 317.2M364.8 321 364.8 317.2M367.7 321 367.7 317.2M370.7 321 370.7 317.2M373.6 321 373.6 317.2M376.6 321 376.6 317.2M379.5 321 379.5 317.2M382.5 321 382.5 317.2M385.4 321 385.4 317.2M388.4 321 388.4 317.2M391.3 321 391.3 317.2M394.3 321 394.3 317.2M397.2 321 397.2 317.2M400.2 321 400.2 317.2M403.1 321 403.1 317.2M406.1 321 406.1 317.2"/><path stroke="#dc6e66" d="M338.2 317.2 338.2 315.1M341.2 317.2 341.2 313.4M344.1 317.2 344.1 313.4M347.1 317.2 347.1 313.4M350 317.2 350 313.4M353 317.2 353 313.4M355.9 317.2 355.9 313.4M358.9 317.2 358.9 313.4M361.8 317.2 361.8 313.4M364.8 317.2 364.8 313.4M367.7 317.2 367.7 313.4M370.7 317.2 370.7 313.4M373.6 317.2 373.6 313.4M376.6 317.2 376.6 313.4M379.5 317.2 379.5 313.4M382.5 317.2 382.5 313.4M385.4 317.2 385.4 313.4M388.4 317.2 388.4 313.4M391.3 317.2 391.3 313.4M394.3 317.2 394.3 313.4M397.2 317.2 397.2 313.4M400.2 317.2 400.2 313.4M403.1 317.2 403.1 313.4M406.1 317.2 406.1 313.4"/><path stroke="#d66d66" d="M341.2 313.4 341.2 309.6M344.1 313.4 344.1 309.6M347.1 313.4 347.1 309.6M350 313.4 350 309.6M353 313.4 353 309.6M355.9 313.4 355.9 309.6M358.9 313.4 358.9 309.6M361.8 313.4 361.8 309.6M364.8 313.4 364.8 309.6M367.7 313.4 367.7 309.6M370.7 313.4 370.7 309.6M373.6 313.4 373.6 309.6M376.6 313.4 376.6 309.6M379.5 313.4 379.5 309.6M382.5 313.4 382.5 309.6M385.4 313.4 385.4 309.6M388.4 313.4 388.4 309.6M391.3 313.4 391.3 309.6M394.3 313.4 394.3 309.6M397.2 313.4 397.2 309.6M400.2 313.4 400.2 309.6M403.1 313.4 403.1 309.6M406.1 313.4 406.1 309.6"/><path stroke="#d16d66" d="M341.2 309.6 341.2 308.1M344.1 309.6 344.1 305.8M347.1 309.6 347.1 305.8M350 309.6 350 305.8M353 309.6 353 305.8M355.9 309.6 355.9 305.8M358.9 309.6 358.9 305.8M361.8 309.6 361.8 305.8M364.8 309.6 364.8 305.8M367.7 309.6 367.7 305.8M370.7 309.6 370.7 305.8M373.6 309.6 373.6 305.8M376.6 309.6 376.6 305.8M379.5 309.6 379.5 305.8M382.5 309.6 382.5 305.8M385.4 309.6 385.4 305.8M388.4 309.6 388.4 305.8M391.3 309.6 391.3 305.8M394.3 309.6 394.3 305.8M397.2 309.6 397.2 305.8M400.2 309.6 400.2 305.8M403.1 309.6 403.1 305.8M406.1 309.6 406.1 305.8"/><path stroke="#cc6b66" d="M344.1 305.8 344.1 302M347.1 305.8 347.1 302M350 305.8 350 302M353 305.8 353 302M355.9 305.8 355.9 302M358.9 305.8 358.9 302M361.8 305.8 361.8 302M364.8 305.8 364.8 302M367.7 305.8 367.7 302M370.7 305.8 370.7 302M373.6 305.8 373.6 302M376.6 305.8 376.6 302M379.5 305.8 379.5 302M382.5 305.8 382.5 302M385.4 305.8 385.4 302M388.4 305.8 388.4 302M391.3 305.8 391.3 302M394.3 305.8 394.3 302M397.2 305.8 397.2 302M400.2 305.8 400.2 302M403.1 305.8 403.1 302M406.1 305.8 406.1 302"/><path stroke="#c76b66" d="M344.1 302 344.1 300.5M347.1 302 347.1 298.2M350 302 350 298.2M353 302 353 298.2M355.9 302 355.9 298.2M358.9 302 358.9 298.2M361.8 302 361.8 298.2M364.8 302 364.8 298.2M367.7 302 367.7 298.2M370.7 302 370.7 298.2M373.6 302 373.6 298.2M376.6 302 376.6 298.2M379.5 302 379.5 298.2M382.5 302 382.5 298.2M385.4 302 385.4 298.2M388.4 302 388.4 298.2M391.3 302 391.3 298.2M394.3 302 394.3 298.2M397.2 302 397.2 298.2M400.2 302 400.2 298.2M403.1 302 403.1 298.2M406.1 302 406.1 298.2"/><path stroke="#c16a66" d="M347.1 298.2 347.1 294.4M350 298.2 350 294.4M353 298.2 353 294.4M355.9 298.2 355.9 294.4M358.9 298.2 358.9 294.4M361.8 298.2 361.8 294.4M364.8 298.2 364.8 294.4M367.7 298.2 367.7 294.4M370.7 298.2 370.7 294.4M373.6 298.2 373.6 294.4M376.6 298.2 376.6 294.4M379.5 298.2 379.5 294.4M382.5 298.2 382.5 294.4M385.4 298.2 385.4 294.4M388.4 298.2 388.4 294.4M391.3 298.2 391.3 294.4M394.3 298.2 394.3 294.4M397.2 298.2 397.2 294.4M400.2 298.2 400.2 294.4M403.1 298.2 403.1 294.4M406.1 298.2 406.1 294.4"/><path stroke="#bc6966" d="M347.1 294.4 347.1 292.5M350 294.4 350 290.6M353 294.4 353 290.6M355.9 294.4 355.9 290.6M358.9 294.4 358.9 290.6M361.8 294.4 361.8 290.6M364.8 294.4 364.8 290.6M367.7 294.4 367.7 290.6M370.7 294.4 370.7 290.6M373.6 294.4 373.6 290.6M376.6 294.4 376.6 290.6M379.5 294.4 379.5 290.6M382.5 294.4 382.5 290.6M385.4 294.4 385.4 290.6M388.4 294.4 388.4 290.6M391.3 294.4 391.3 290.6M394.3 294.4 394.3 290.6M397.2 294.4 397.2 290.6M400.2 294.4 400.2 290.6M403.1 294.4 403.1 290.6M406.1 294.4 406.1 290.6"/><path stroke="#b66866" d="M350 290.6 350 286.8M353 290.6 353 286.8M355.9 290.6 355.9 286.8M358.9 290.6 358.9 286.8M361.8 290.6 361.8 286.8M364.8 290.6 364.8 286.8M367.7 290.6 367.7 286.8M370.7 290.6 370.7 286.8M373.6 290.6 373.6 286.8M376.6 290.6 376.6 286.8M379.5 290.6 379.5 286.8M382.5 290.6 382.5 286.8M385.4 290.6 385.4 286.8M388.4 290.6 388.4 286.8M391.3 290.6 391.3 286.8M394.3 290.6 394.3 286.8M397.2 290.6 397.2 286.8M400.2 290.6 400.2 286.8M403.1 290.6 403.1 286.8M406.1 290.6 406.1 286.8"/><path stroke="#b26766" d="M350 286.8 350 284.1M353 286.8 353 283M355.9 286.8 355.9 283M358.9 286.8 358.9 283M361.8 286.8 361.8 283M364.8 286.8 364.8 283M367.7 286.8 367.7 283M370.7 286.8 370.7 283M373.6 286.8 373.6 283M376.6 286.8 376.6 283M379.5 286.8 379.5 283M382.5 286.8 382.5 283M385.4 286.8 385.4 283M388.4 286.8 388.4 283M391.3 286.8 391.3 283M394.3 286.8 394.3 283M397.2 286.8 397.2 283M400.2 286.8 400.2 283M403.1 286.8 403.1 283M406.1 286.8 406.1 283"/><path stroke="#ac6666" d="M353 283 353 280.5M355.9 283 355.9 280.5M358.9 283 358.9 280.5M361.8 283 361.8 280.5M364.8 283 364.8 280.5M367.7 283 367.7 280.5M370.7 283 370.7 280.5M373.6 283 373.6 280.5M376.6 283 376.6 280.5M379.5 283 379.5 280.5M382.5 283 382.5 280.5M385.4 283 385.4 280.5M388.4 283 388.4 280.5M391.3 283 391.3 280.5M394.3 283 394.3 280.5M397.2 283 397.2 282.6M400.2 283 400.2 280.5M403.1 283 403.1 280.5M406.1 283 406.1 280.5"/></g><g fill="none" stroke-width="0.62"><path stroke="#222282" d="M313.7 457.5l.9-4.5M312.4 457.5l2.2-10.5M311.2 457.5l.5-2.4 2.9-13.3M310.2 457.5l1.5-7.8M309.1 457.5l2.6-12.7M308.1 457.5l.6-3.4 3-13.7M307.2 457.5l1.5-8.3M306.2 457.5l2.5-12.9M305.2 457.5l.6-3.1 2.9-14.1M304.3 457.5l1.5-8M303.3 457.5l2.5-12.9M302.4 457.5l.4-2.8 3-14.8M301.4 457.5l1.4-8.3M300.3 457.5l2.5-13.7M299.3 457.5l.6-3.5 2.9-15.6M298.3 457.5l1.6-9.5M297.2 457.5l2.7-15.5M296.2 457.5l.7-4.7M295.2 457.5l1.7-11.2M294.1 457.5l2.8-17.4M293.2 457.5l.8-5.6M292.2 457.5l1.8-12M291.3 457.5l2.7-17.9M290.5 457.5l.5-4.3M289.7 457.5l1.3-9.8M289 457.5l2-14.5M288.4 457.5l2.6-18.4M287.9 457.5l.2-1.5 2.9-19.9M287.6 457.5l.5-3.9M287.4 457.5l.7-5M287.4 457.5l.7-4.8M287.7 457.5l.4-2.9 2.9-18.1M288.2 457.5l2.8-17.1M289.1 457.5l1.9-11.4M290.4 457.5l.6-3.5 3-15.1M292.3 457.5l1.7-8.5M294.9 457.5l2-9.4"/><path stroke="#20208d" d="M314.6 453l3-12.3M296.9 452.8l3-16.6M294 451.9l2.9-17.8M291 453.2l3-19M288.1 453.6l2.9-19.4M288.1 452.5l2.9-18.9M288.1 452.7l2.9-18.4"/><path stroke="#1e1e98" d="M314.6 447l3-11.6M311.7 449.7l2.9-12.5M308.7 449.2l3-12.9M305.8 449.5l2.9-13.4M302.8 449.2l3-14.1M299.9 448l2.9-14.9M296.9 446.3l3-15.9M291 447.7l3-18.4M291 446.1l3-15.2M294 449l2.9-13.3M296.9 448.1l3-11.9"/><path stroke="#1c1ca2" d="M311.7 444.8l2.9-11.7M308.7 444.6l3-12.1M305.8 444.6l2.9-12.6M302.8 443.8l3-13.4M294 445.5l2.9-17M291 443l3-17.8"/><path stroke="#1a1aad" d="M317.6 440.7l2.9-10.1M314.6 441.8l3-10.9M311.7 440.4l2.9-11M308.7 440.3l3-11.4M305.8 439.9l2.9-12M299.9 442l2.9-14.2M296.9 440.1l3-15.3M294 439.6l2.9-16.5M291 439.1l3-17.3M291 440.4l3-15.4M294 438.9l2.9-13.2"/><path stroke="#1919ba" d="M317.6 435.4l2.9-9.4M314.6 437.2l3-10.2M311.7 436.3l2.9-10.3M308.7 436.1l3-10.8M305.8 435.1l2.9-11.3M302.8 438.4l3-12.7M299.9 436.2l2.9-13.6M291 436.1l3-16.8M291 436.5l3-15.6M296.9 435.7l3-11.7M299.9 436.2l2.9-10.8"/><path stroke="#1919c8" d="M314.6 433.1l3-9.5M311.7 432.5l2.9-9.7M308.7 432l3-10.2M302.8 433.1l3-12.1M296.9 434.1l3-14.7M294 434.2l2.9-15.9M291 434.2l3-16.4M291 433.6l3-16.1M291 434.3l3-15.8"/><path stroke="#1919d6" d="M320.5 430.6l3-8.2M317.6 430.9l2.9-8.7M314.6 429.4l3-8.8M311.7 428.9l2.9-9.1M308.7 427.9l3-9.6M305.8 430.4l2.9-10.7M302.8 427.8l3-11.6M299.9 430.4l2.9-13M296.9 428.5l3-14.2M294 429.3l2.9-15.4M294 430.9l2.9-13.1"/><path stroke="#1919e6" d="M320.5 426l3-7.5M317.6 427l2.9-8.1M317.6 423.6l2.9-7.5M314.6 426l3-8.2M311.7 425.3l2.9-8.5M308.7 423.8l3-9M305.8 425.7l2.9-10.2M299.9 424.8l2.9-12.5M294 425.2l2.9-15M294 425l2.9-13.2M296.9 425.7l3-11.6M299.9 424l2.9-10.5M302.8 425.4l3-9.9"/><path stroke="#1919f2" d="M323.5 422.4l2.9-6.5M320.5 422.2l3-6.9M317.6 420.6l2.9-6.9M314.6 422.8l3-7.6M314.6 419.8l3-7.1M311.7 421.8l2.9-8M308.7 419.7l3-8.5M305.8 421l2.9-9.7M302.8 422.6l3-11.1M296.9 423.1l3-13.6M294 421.8l2.9-14.6M294 420.9l2.9-13.3"/><path stroke="#1919f6" d="M326.4 415.9l3-5.3M323.5 418.5l2.9-6M320.5 418.9l3-6.3M320.5 416.1l3-5.8M317.6 417.8l2.9-6.4M314.6 416.8l3-6.6M311.7 418.3l2.9-7.4M305.8 416.2l2.9-9.2M302.8 417.4l3-10.6M299.9 419.4l2.9-12M296.9 418.3l3-13.3M294 419.3l2.9-14.3M294 417.8l2.9-13.9M294 417.5l2.9-13.7M294 418.5l2.9-13.5M296.9 417.8l3-11.5"/><path stroke="#1919fa" d="M326.4 412.5l3-4.7M323.5 415.3l2.9-5.4M323.5 412.6l2.9-4.9M320.5 413.7l3-5.4M317.6 415.2l2.9-5.9M317.6 412.7l2.9-5.4M314.6 413.8l3-6.1M311.7 414.8l2.9-7M308.7 415.5l3-8M302.8 412.3l3-10.1M299.9 414.3l2.9-11.6M296.9 413.9l3-12.8M299.9 414.1l2.9-10.3M302.8 413.5l3-9.5M305.8 415.5l2.9-9.1"/><path stroke="#1919fd" d="M329.4 410.6l2.9-4.2M326.4 409.9l3-4.3M323.5 410.3l2.9-4.4M323.5 408.3l2.9-4M320.5 411.4l3-4.8M320.5 409.3l3-4.4M317.6 410.2l2.9-4.9M314.6 410.9l3-5.7M311.7 411.2l2.9-6.6M308.7 411.3l3-7.6M305.8 411.5l2.9-8.8M403.1 409.7l3 18.4M403.1 410.4l3 19.7M403.1 410.2l3 21M403.1 409.3l3 22.1M299.9 409.5l2.9-11.3M296.9 410.2l3-12.5M296.9 411.8l3-11.4"/><path stroke="#2d639d" d="M332.3 406.4l3-3.4M329.4 407.8l2.9-3.7M329.4 405.6l2.9-3.3M326.4 407.7l3-3.8M326.4 405.9l3-3.4M323.5 406.6l2.9-3.6M323.5 404.9l2.9-3.2M320.5 407.3l3-4M320.5 405.3l3-3.7M317.6 407.7l2.9-4.5M317.6 405.2l2.9-4.2M314.6 407.8l3-5.3M314.6 404.6l3-4.9M311.7 407.5l2.9-6.2M308.7 407l3-7.2M403.1 405.6l3 16M403.1 408.1l3 17.2M305.8 406.8l2.9-8.4M302.8 407.4l3-9.7M403.1 407.6l3 23.3M299.9 405l2.9-10.8M403.1 405.3l3 24.5M296.9 407.2l3-12.2M296.9 405l3-11.9M296.9 405l3-11.5M296.9 407.6l3-11.4M299.9 406.3l2.9-10.1M308.7 406.4l3-8.6"/><path stroke="#34b234" d="M335.3 403l2.9-2.9M332.3 404.1l3-3 2.9-2.6M332.3 402.3l3-2.6M329.4 403.9l2.9-2.9 3-2.3M329.4 402.5l2.9-2.5M326.4 404.3l3-2.9 2.9-2.2M326.4 403l3-2.6M326.4 401.7l3-2.3M323.5 403.3l2.9-2.9M323.5 401.6l2.9-2.5M320.5 403.2l3-3.3M320.5 401l3-3M317.6 402.5l2.9-3.9M314.6 401.3l3-4.6M311.7 403.7l2.9-5.8M403.1 402.3l3 14.7M308.7 402.7l3-6.8M305.8 402.2l2.9-8.1M302.8 402.7l3-9.4M299.9 401.1l2.9-10.6M403.1 402.3l3 25.7M296.9 403.9l3-11.8M296.9 403.8l3-11.6M302.8 403.8l3-9.1M305.8 404l2.9-8.7"/><path stroke="#37b532" d="M338.2 400.1l5.9-5.1M338.2 398.5l3-2.2M335.3 399.7l2.9-2.2 3-1.9M335.3 398.7l2.9-1.9 3-1.6M332.3 400l3-2 2.9-1.5M332.3 399.2l3-1.7 2.9-1.3M329.4 400.4l2.9-1.9 3-1.4 2.9-1M329.4 399.4l2.9-1.6 3-1.1M326.4 400.4l3-2 2.9-1.3 3-.9M326.4 399.1l3-1.7 2.9-1.2M323.5 399.9l2.9-2.3 3-1.5M323.5 398l2.9-2M320.5 398.6l3-2.7M317.6 399.7l2.9-3.6M403.1 398.1l3 13.4M314.6 397.9l3-4.4M311.7 399.8l2.9-5.5M308.7 398.4l3-6.5M305.8 397.7l2.9-7.8M302.8 398.2l3-9M299.9 397.7l2.9-10.3M403.1 398.8l3 26.8M299.9 400.4l2.9-9.9M311.7 397.8l2.9-8.3"/><path stroke="#39b730" d="M344.1 395l3-2.5M341.2 396.3l2.9-2.2 3-2.2M341.2 395.6l2.9-1.9 3-1.9M341.2 395.2l2.9-1.6 3-1.6M338.2 396.5l3-1.4 2.9-1.3 3-1.5M338.2 396.2l3-1.1 2.9-1.1 3-1.2M338.2 396.1l3-.9 2.9-.9 3-1.1 2.9-1.3M335.3 396.7l2.9-.8 3-.7 2.9-.8 3-.9 2.9-1.1M335.3 396.2l2.9-.7 3-.5 2.9-.6 3-.8 2.9-1M332.3 396.2l3-.7 2.9-.5 3-.4 2.9-.5 3-.6 2.9-.9M329.4 396.1l2.9-.9 3-.6 2.9-.4 3-.3 2.9-.4 3-.5M326.4 396l3-1.3 2.9-.8 3-.5 2.9-.2 3-.3M323.5 395.9l2.9-1.8 3-1.2M320.5 396.1l3-2.5 2.9-1.6M317.6 396.7l2.9-3.3 3-2.3M317.6 393.5l2.9-3.1M314.6 394.3l3-4.1M311.7 395.9l2.9-5.3M400.2 394.2l2.9 13.9M400.2 394.6l2.9 15.1M308.7 394.1l3-6.3M400.2 394.2l2.9 16.2M400.2 393l2.9 17.2M305.8 393.3l2.9-7.5M302.8 394.2l3-8.9M299.9 395l2.9-10.1M403.1 394.9l3 27.9M299.9 393.1l2.9-10M299.9 393.5l2.9-9.8M299.9 396.2l2.9-9.9M302.8 396.2l3-8.9M305.8 394.7l2.9-8.3M308.7 395.3l3-8.1"/><path stroke="#3bb92e" d="M347.1 392.5l2.9-2.8 3-3M347.1 391.9l2.9-2.4 3-2.8M347.1 391.8l2.9-2.2 3-2.5M347.1 392l2.9-2 3-2.2M347.1 392.3l2.9-1.6 3-2.1M347.1 392.8l2.9-1.5 3-1.8 2.9-2.2M350 391.9l3-1.6 2.9-2M350 392.4l3-1.5 2.9-1.8M350 392.6l3-1.3 2.9-1.7 3-2.1M350 392.6l3-1.3 2.9-1.6 3-1.9M347.1 393l2.9-.9 3-1.1 2.9-1.5 3-1.9M341.2 392.9l2.9-.3 3-.5 2.9-.8 3-1.1 2.9-1.4M329.4 392.9l2.9-.6 3-.4 5.9-.4 2.9-.3 3-.5 2.9-.7 3-1.1M326.4 392l3-1 2.9-.6 3-.3 5.9-.4 2.9-.3 3-.5M403.1 392.9l3 12.1M323.5 391.1l2.9-1.5 3-1M320.5 390.4l3-2.1M400.2 390.6l2.9 11.7M317.6 390.2l2.9-2.9M400.2 392.9l2.9 12.7M314.6 390.6l3-3.9M311.7 391.9l2.9-5.1M308.7 389.9l3-6.1M400.2 391l2.9 18.3M302.8 390.5l3-8.6M403.1 390.6l3 29M299.9 392.1l2.9-9.8M299.9 392.2l2.9-9.8M302.8 390.5l3-8.7M314.6 389.5l3-8.1"/><path stroke="#3dbc2b" d="M353 386.7l2.9-3.5M353 386.7l2.9-3.2M353 387.1l2.9-2.9M353 387.8l2.9-2.7M353 388.6l2.9-2.4 3-2.9M355.9 387.3l3-2.7M355.9 388.3l3-2.5 2.9-2.9M355.9 389.1l3-2.3 2.9-2.7M358.9 387.5l2.9-2.6M358.9 387.8l2.9-2.4M358.9 387.6l2.9-2.2M355.9 388.8l3-1.8 2.9-2.2M353 388.9l2.9-1.4 3-1.7 2.9-2M403.1 386.9l3 10.8M347.1 388.9l2.9-.7 3-1.1 2.9-1.4 3-1.7M329.4 388.6l2.9-.5 8.9-.6 2.9-.4 3-.5 2.9-.8 3-1.1M400.2 387.5l2.9 10.6M323.5 388.3l2.9-1.4 3-.9 2.9-.5 3-.2M320.5 387.3l3-2.1M317.6 386.7l2.9-2.8M314.6 386.8l3-3.7M311.7 387.8l2.9-4.8M308.7 385.8l3-5.9M305.8 389.2l2.9-7.3M400.2 388.3l2.9 19.3M302.8 387.4l3-8.5M403.1 386.1l3 30.1M302.8 386.3l3-8.4M305.8 387.3l2.9-7.9M308.7 386.4l3-7.7M311.7 387.2l2.9-7.7"/><path stroke="#58c92b" d="M355.9 383.2l3-4M355.9 383.5l3-3.7M355.9 384.2l3-3.4M355.9 385.1l3-3.1 2.9-3.7M358.9 383.3l2.9-3.4M358.9 384.6l2.9-3.1M361.8 382.9l3-3.4M361.8 384.1l3-3.2M361.8 384.9l3-2.9 2.9-3.3M361.8 385.4l3-2.8 2.9-3M361.8 385.4l3-2.6 2.9-2.9M361.8 384.8l3-2.4 2.9-2.6M361.8 383.8l3-2.3M358.9 384l2.9-1.9 3-2.2M400.2 383.6l2.9 9.3M353 384.7l2.9-1.3 3-1.7 2.9-1.9M335.3 385.3l2.9-.2 3-.3 2.9-.4 3-.6 2.9-.8 3-1.2 2.9-1.4M397.2 381.7l3 8.9M323.5 385.2l2.9-1.3 3-.8 2.9-.5 8.9-.9 2.9-.5M397.2 382.9l3 10M320.5 383.9l3-1.9 2.9-1.3M397.2 383.2l3 11M317.6 383.1l2.9-2.7M397.2 382.7l3 11.9M314.6 383l3-3.6M311.7 383.8l2.9-4.7M308.7 381.9l3-5.8M305.8 385.3l2.9-7.1M400.2 384.9l2.9 20.4M305.8 381.9l2.9-7M302.8 384.9l3-8.4M302.8 383.1l3-8.2M302.8 382.3l3-8.3M302.8 382.4l3-8.3M302.8 383.7l3-8.3M305.8 381.8l2.9-7.7"/><path stroke="#77d82b" d="M358.9 379.2l2.9-4.6M358.9 379.8l2.9-4.3M358.9 380.8l2.9-4M361.8 378.3l3-4.2M361.8 379.9l3-3.9M361.8 381.5l3-3.7M364.8 379.5l2.9-3.8M364.8 380.9l2.9-3.5M367.7 378.7l3-3.6M367.7 379.6l3-3.4M367.7 379.9l3-3M367.7 379.8l3-2.9M403.1 380.1l3 9.5M364.8 381.5l2.9-2.5 3-2.7M400.2 378.7l2.9 8.2M364.8 379.9l2.9-2.4M361.8 379.8l3-2.2M397.2 379.6l3 7.9M355.9 380.4l3-1.7 2.9-1.9M344.1 381.2l3-.7 2.9-1 3-1.2 2.9-1.4M326.4 380.7l3-.8 2.9-.6 8.9-1.2 2.9-.6M320.5 380.4l3-1.9 2.9-1.3M317.6 379.4l2.9-2.6M397.2 381.3l3 12.9M314.6 379.1l3-3.5M397.2 379.1l3 13.9M311.7 379.9l2.9-4.6M308.7 378.2l3-5.7M400.2 380.9l2.9 21.4M305.8 378.9l2.9-6.9M403.1 381.5l3 31.2M305.8 377.9l2.9-7.5M308.7 379.4l3-7.3M311.7 378.7l2.9-7.2M314.6 379.5l3-7.5M317.6 381.4l2.9-8"/><path stroke="#a5e427" d="M361.8 374.6l3-5.2M361.8 375.5l3-4.8M361.8 376.8l3-4.5M364.8 374.1l2.9-4.7M364.8 376l2.9-4.4M364.8 377.8l2.9-4.1M367.7 375.7l3-4.2M367.7 377.4l3-3.9M370.7 375.1l2.9-3.8M370.7 376.2l2.9-3.4M370.7 376.9l2.9-3.2M370.7 376.9l2.9-2.9M370.7 376.3l2.9-2.6M367.7 377.5l3-2.4 2.9-2.4M397.2 376.6l3 7M364.8 377.6l2.9-2.2 3-2.2M361.8 376.8l3-2 2.9-2.2M394.3 375l2.9 6.7M355.9 376.9l3-1.8 2.9-1.9M394.3 375.3l2.9 7.6M344.1 377.5l3-.8 2.9-1.1 3-1.3 2.9-1.6M394.3 374.8l2.9 8.4M326.4 377.2l3-.9 2.9-.6 3-.5 2.9-.5 3-.6 2.9-.7M320.5 376.8l3-1.9 2.9-1.4M317.6 375.6l2.9-2.6M314.6 375.3l3-3.5M397.2 376.2l3 14.8M311.7 376.1l2.9-4.5M308.7 374.9l3-5.6M400.2 376.4l2.9 22.4M305.8 376.5l2.9-6.8M305.8 374.9l2.9-6.9M305.8 374.1l2.9-7M305.8 375.4l2.9-7.2M403.1 376.9l3 32.3M308.7 374.1l3-6.8"/><path stroke="#d5f022" d="M364.8 370.7l2.9-5.5M364.8 372.3l2.9-5.1M367.7 371.6l3-4.9M367.7 373.7l3-4.5M370.7 371.5l2.9-4.5M370.7 373.5l2.9-4.2M373.6 371.3l3-4M373.6 372.8l3-3.6M373.6 373.7l3-3.2 2.9-3M403.1 372.4l3 8.2M373.6 374l3-2.8 2.9-2.6M400.2 373.1l2.9 7M373.6 373.7l3-2.5 2.9-2.2M397.2 372.9l3 5.8M373.6 372.7l3-2.2 2.9-1.8M394.3 371.8l2.9 4.8M370.7 373.2l2.9-2.2 3-1.9M394.3 373.8l2.9 5.8M367.7 372.6l3-2.1 2.9-1.9M391.3 370.3l3 4.7M361.8 373.2l3-2 2.9-2.1M355.9 372.7l3-1.7 2.9-2M344.1 373.4l3-1 2.9-1.2 3-1.5M394.3 373.4l2.9 9.3M326.4 373.5l3-.9 2.9-.8 3-.6 2.9-.7 3-.8M394.3 371.2l2.9 10.1M320.5 373l3-1.9 2.9-1.4M317.6 371.8l2.9-2.6M314.6 371.6l3-3.5M397.2 372.5l3 15.8M311.7 372.5l2.9-4.4M308.7 372l3-5.6M400.2 371.5l2.9 23.4M305.8 374l2.9-6.9M308.7 370.4l3-6.5M403.1 372.6l3 33.3M311.7 372.1l2.9-6.7M314.6 371.5l3-6.8M317.6 372l2.9-7.3M320.5 373.4l3-8"/><path stroke="#ffff19" d="M364.8 369.4l2.9-5.9M367.7 367.2l3-5.6M367.7 369.4l3-5.3M370.7 366.7l2.9-5.3M370.7 369.2l2.9-4.9M373.6 367l3-4.8M373.6 369.3l3-4.3M376.6 367.3l2.9-3.9M376.6 369.2l2.9-3.5M379.5 367.5l3-2.8M400.2 366.6l2.9 5.8M379.5 368.6l3-2.3M397.2 368.3l3 4.8M379.5 369l3-1.8 2.9-1.1M391.3 366.7l3 2.3 2.9 3.9M379.5 368.7l3-1.3 2.9-.6 3 .4 2.9 1.5 3 3.1M376.6 369.1l2.9-1.5 3-.9 2.9 0 3 1 2.9 2.2 3 3.9M373.6 368.6l3-1.7 2.9-1.1M388.4 367.3l2.9 3M367.7 369.1l3-1.9 2.9-1.8M391.3 369.9l3 5.4M361.8 369l3-2 2.9-2M391.3 368.6l3 6.2M353 369.7l2.9-1.7 3-1.8M341.2 369.7l2.9-.9 3-1.2 2.9-1.3M326.4 369.7l3-1.1 2.9-.9 3-.8 2.9-.9M394.3 368.2l2.9 10.9M320.5 369.2l3-2 2.9-1.5M317.6 368.1l2.9-2.7M314.6 368.1l3-3.6M397.2 368.2l3 16.7M311.7 369.3l2.9-4.5M308.7 369.7l3-5.7M308.7 368l3-5.8M308.7 367.1l3-5.9M308.7 367.1l3-6.1M308.7 368.2l3-6.3M311.7 367.3l2.9-6.3M403.1 368.5l3 34.4"/><path stroke="#fffb19" d="M367.7 363.5l3-6.5M367.7 365.2l3-6M370.7 364.1l2.9-5.7M373.6 364.3l3-5.2M376.6 365l2.9-4.4M379.5 363.4l3-3.7M379.5 365.7l3-3.2M403.1 364.1l3 6.8M382.5 364.7l2.9-2.2M397.2 362.9l3 3.7M382.5 366.3l2.9-1.6 3-.9 2.9 .1 3 1.4 2.9 3M385.4 366.1l3-.3 2.9 .9M379.5 365.8l3-.5 2.9 .5 3 1.5M373.6 365.4l3-1.4 2.9-.8 3-.1 2.9 .9 3 2.2 2.9 3.7M367.7 365l3-1.9 2.9-1.6M388.4 364.2l2.9 4.4M358.9 366.2l2.9-2 3-2.1M391.3 366.4l3 7M350 366.3l3-1.7 2.9-1.8 3-2M391.3 363.5l3 7.7M338.2 366l3-1 2.9-1.1 3-1.4M326.4 365.7l3-1.3 2.9-1 3-1.1M394.3 364.4l2.9 11.8M320.5 365.4l3-2.1 2.9-1.7M317.6 364.5l2.9-2.8M314.6 364.8l3-3.7M397.2 363.4l3 17.5M311.7 366.4l2.9-4.6M311.7 364l2.9-4.7M400.2 366.2l2.9 24.4M311.7 363.9l2.9-5.9M314.6 365.4l3-6.3M403.1 364.9l3 35.4M317.6 364.7l2.9-6.8M320.5 364.7l3-7.3M323.5 365.4l2.9-8.2"/><path stroke="#fff819" d="M370.7 359.2l2.9-6.6M370.7 361.6l2.9-6.2M373.6 361.4l3-5.6M376.6 359.1l2.9-5.4M376.6 362.2l2.9-4.9M379.5 360.6l3-4.3M382.5 359.7l2.9-3.5M382.5 362.5l2.9-2.8 3-2.2M400.2 359.5l2.9 4.6M385.4 362.5l3-1.5 2.9-.7 3 .6 2.9 2M373.6 361.5l3-1.2 2.9-.5 3 .3 2.9 1.4 3 2.7M364.8 362.1l2.9-2 3-1.8M388.4 361.5l2.9 4.9M358.9 360.8l2.9-2.1M347.1 362.5l2.9-1.6 3-1.8 2.9-2M391.3 359.8l3 8.4M335.3 362.3l2.9-1.1 3-1.2 2.9-1.4M326.4 361.6l3-1.4 2.9-1.3M394.3 360l2.9 12.5M320.5 361.7l3-2.2 2.9-1.9M317.6 361.1l2.9-2.9M314.6 361.8l3-3.7M314.6 359.3l3-3.9M311.7 362.2l2.9-4.8M311.7 361.2l2.9-5M400.2 360.8l2.9 25.3M311.7 361l2.9-5.3M311.7 361.9l2.9-5.6M314.6 361l3-5.9M317.6 359.1l2.9-6.2M403.1 362l3 36.4M403.1 359.9l3 37.4M403.1 358.9l3 38.3"/><path stroke="#ffd319" d="M370.7 357l2.9-7M373.6 355.4l3-6.6M373.6 358.4l3-6.1M376.6 355.8l2.9-5.9M379.5 357.3l3-4.8M382.5 356.3l2.9-4M385.4 356.2l3-2.9M388.4 357.5l2.9-1.4 3-.3 2.9 1 3 2.7M370.7 358.3l2.9-1.4 3-1 2.9-.2 3 .7 2.9 1.8 3 3.3M361.8 358.7l3-2.1 2.9-1.9M388.4 357.9l2.9 5.6M355.9 357.1l3-2.2M344.1 358.6l3-1.6 2.9-1.9 3-2M391.3 355.3l3 9.1M332.3 358.9l3-1.3 2.9-1.4 3-1.5M326.4 357.6l3-1.7 2.9-1.6M320.5 358.2l3-2.5 2.9-2.1M317.6 358.1l2.9-3.2M397.2 358l3 18.4M317.6 355.4l2.9-3.4M314.6 357.4l3-4.1M314.6 356.2l3-4.4M314.6 355.7l3-4.6M400.2 355.3l2.9 26.2M314.6 356.3l3-5M314.6 358l3-5.4M317.6 355.1l2.9-5.6M320.5 357.9l3-6.6M323.5 357.4l2.9-7.5M326.4 357.2l3-8.3"/><path stroke="#ff7419" d="M373.6 352.6l3-7.1M376.6 352.3l2.9-6.4M379.5 353.7l3-5.4M382.5 352.5l2.9-4.7M385.4 352.3l3-3.6M388.4 353.3l2.9-2.1M400.2 351.6l2.9 3.4 3 5.5M367.7 354.7l3-1.8 2.9-1.3 3-.8M382.5 351.9l2.9 2.2 3 3.8M358.9 354.9l2.9-2.2 3-2.1M388.4 353.6l2.9 6.2M353 353.1l2.9-2.2M341.2 354.7l2.9-1.7 3-1.9M332.3 354.3l3-1.5 2.9-1.7M394.3 354.9l2.9 13.3M326.4 353.6l3-1.9 2.9-1.9M320.5 354.9l3-2.6 2.9-2.4M320.5 352l3-2.9M397.2 352.2l3 19.3M317.6 353.3l2.9-3.7M317.6 351.8l2.9-4M317.6 352.6l2.9-5.2M320.5 352.9l3-6"/><path stroke="#fc4019" d="M373.6 350l3-7.6M376.6 348.8l2.9-6.9M379.5 349.9l3-6M382.5 348.3l2.9-5.3M385.4 347.8l3-4.3M388.4 348.7l2.9-3M391.3 351.2l3-1.2 2.9 0 3 1.6M376.6 350.8l2.9 0 3 1.1M364.8 350.6l2.9-2 3-1.7M385.4 349.3l3 4.3M355.9 350.9l3-2.3 2.9-2.4M388.4 348.5l2.9 6.8M347.1 351.1l2.9-2.1 3-2.3M391.3 350.2l3 9.8M338.2 351.1l3-1.8 2.9-2M332.3 349.8l3-1.9 2.9-2M394.3 349.2l2.9 14.2M326.4 349.9l3-2.3 2.9-2.2M323.5 349.1l2.9-2.7M320.5 349.6l3-3.2M320.5 347.8l3-3.6M317.6 351.1l2.9-4.3M317.6 351.3l2.9-4.7M400.2 349.8l2.9 27.1M320.5 349.5l3-5.5M323.5 351.3l2.9-6.8M326.4 349.9l3-7.5M329.4 348.9l2.9-8.6"/><path stroke="#f93419" d="M376.6 345.5l2.9-7.5M379.5 345.9l3-6.6M382.5 343.9l2.9-6M391.3 345.7l3-2.1M403.1 345.3l3 4.2M370.7 346.9l2.9-1.3 3-.6 2.9 .3 3 1.3 2.9 2.7M361.8 346.2l3-2.2 2.9-2.1M385.4 343.8l3 4.7M353 346.7l2.9-2.4 3-2.5M344.1 347.3l3-2.2 2.9-2.5M391.3 344.4l3 10.5M338.2 345.9l3-2.2 2.9-2.3M332.3 345.4l3-2.3M326.4 346.4l3-2.6 2.9-2.6M323.5 346.4l2.9-3.1M397.2 346.1l3 20.1M323.5 344.2l2.9-3.5M320.5 346.8l3-4.1M320.5 346.6l3-4.5M320.5 347.4l3-4.9M400.2 344.5l2.9 28.1M323.5 344l2.9-5.4M323.5 346.9l2.9-6.1M326.4 344.5l3-6.8"/><path stroke="#f43219" d="M376.6 342.4l2.9-8.1M379.5 341.9l3-7.2M385.4 343l3-5M388.4 343.5l2.9-3.8M394.3 343.6l2.9-.9 3 .4 2.9 2.2M367.7 341.9l3-1.7 2.9-1.1M382.5 340.7l2.9 3.1M358.9 341.8l2.9-2.5M388.4 342.8l2.9 7.4M350 342.6l3-2.5 2.9-2.7M344.1 341.4l3-2.6M335.3 343.1l2.9-2.3 3-2.6M394.3 343.1l2.9 14.9M332.3 341.2l3-2.7M326.4 343.3l3-3 2.9-3M326.4 340.7l3-3.4M323.5 342.7l2.9-3.9M323.5 342.1l2.9-4.4M323.5 342.5l2.9-4.9M326.4 340.8l3-6.2M329.4 342.4l2.9-7.8M332.3 340.3l3-8.8"/><path stroke="#f02f19" d="M379.5 338l3-7.9M382.5 339.3l2.9-6.7M385.4 337.9l3-5.8M388.4 338l2.9-4.6M391.3 339.7l3-2.9 2.9-2M373.6 339.1l3-.5 2.9 .5 3 1.6M361.8 339.3l3-2.4 2.9-2.1M385.4 337.6l3 5.2M355.9 337.4l3-2.8M388.4 336.5l2.9 7.9M347.1 338.8l2.9-2.7M391.3 338.1l3 11.1M341.2 338.2l2.9-2.7M335.3 338.5l2.9-2.7M394.3 336.6l2.9 15.6M332.3 337.3l3-3.1M329.4 337.3l2.9-3.4M397.2 339.9l3 20.9M326.4 338.8l3-3.8M326.4 337.7l3-4.3M326.4 337.6l3-4.9M326.4 338.6l3-5.6M400.2 339.5l2.9 29M329.4 337.7l2.9-7"/><path stroke="#ec2d19" d="M379.5 334.3l3-8.5M382.5 334.7l2.9-7.4M385.4 332.6l3-6.5M391.3 333.4l3-3.9M397.2 334.8l3-.6 2.9 .9 3 2.8M367.7 334.8l3-1.7 2.9-1.2M382.5 334.2l2.9 3.4M358.9 334.6l2.9-2.7M350 336.1l3-2.9 2.9-3M344.1 335.5l3-3 2.9-3.1M338.2 335.8l3-3 2.9-3.2M335.3 334.2l2.9-3.2M332.3 333.9l3-3.6M329.4 335l2.9-4M397.2 333.5l3 21.8M329.4 333.4l2.9-4.5M329.4 332.7l2.9-5.1M329.4 333l2.9-5.6M329.4 334.6l2.9-6.3M400.2 335.1l2.9 29.8M332.3 334.6l3-8"/><path stroke="#e82b19" d="M382.5 330.1l2.9-8M388.4 332.1l2.9-5.4M394.3 329.5l2.9-3M373.6 331.9l3-.3 2.9 .7 3 1.9M361.8 331.9l3-2.5 2.9-2.2M385.4 330.9l3 5.6M355.9 330.2l3-3M388.4 329.7l2.9 8.4M350 329.4l3-3.2M391.3 331.4l3 11.7M344.1 329.6l3-3.3M338.2 331l3-3.4M394.3 329.8l2.9 16.3M335.3 330.3l2.9-3.7M332.3 331l3-4.1M332.3 328.9l3-4.7M332.3 330.7l3-7.3M400.2 331.3l2.9 30.7M335.3 331.5l2.9-9"/><path stroke="#e02a19" d="M382.5 325.8l2.9-8.7M385.4 327.3l3-7.3M388.4 326.1l2.9-6.2M391.3 326.7l3-4.8M397.2 326.5l3-1.7 2.9-.4M367.7 327.2l3-1.8 2.9-1.1M379.5 324.9l3 2.2 2.9 3.8M358.9 327.2l2.9-2.9M353 326.2l2.9-3.3M347.1 326.3l2.9-3.5M341.2 327.6l2.9-3.6M338.2 326.6l3-3.9M335.3 326.9l2.9-4.2M397.2 327.3l3 22.5M332.3 327.6l3-5.2M332.3 327.4l3-5.9M332.3 328.3l3-6.5M335.3 326.6l2.9-8.2M400.2 328.5l2.9 31.4M400.2 326.6l2.9 32.3"/><path stroke="#d82919" d="M385.4 322.1l3-8.1M394.3 321.9l2.9-4M403.1 324.4l3 1.5M373.6 324.3l3-.2 2.9 .8M361.8 324.3l3-2.7 2.9-2.4M385.4 323.6l3 6.1M355.9 322.9l3-3.3M388.4 322.5l2.9 8.9M350 322.8l3-3.7M391.3 324.3l3 12.3M344.1 324l3-3.8M341.2 322.7l2.9-4.1M394.3 322.9l2.9 17M338.2 322.7l3-4.5M335.3 324.2l2.9-4.8M335.3 322.4l2.9-5.4M397.2 321.2l3 23.3M335.3 321.5l2.9-6M335.3 321.8l2.9-6.7M335.3 323.4l2.9-7.4M338.2 322.5l3-9.2"/><path stroke="#d12719" d="M388.4 320l2.9-7.1M391.3 319.9l3-5.8M397.2 317.9l3-2.9M367.7 319.2l3-1.8 2.9-1.1M382.5 319.5l2.9 4.1M358.9 319.6l2.9-3.2M353 319.1l2.9-3.6M347.1 320.2l2.9-4M344.1 318.6l3-4.3M341.2 318.2l2.9-4.6M338.2 319.4l3-5M338.2 318.4l3-8.4"/><path stroke="#ca2619" d="M385.4 317.1l3-8.9M388.4 314l2.9-7.9M394.3 314.1l2.9-5M400.2 315l2.9-1.5 3 0M373.6 316.3l3-.2 2.9 1 3 2.4M361.8 316.4l3-2.9 2.9-2.5M385.4 316l3 6.5M355.9 315.5l3-3.6M388.4 314.9l2.9 9.4M350 316.2l3-4M391.3 316.9l3 12.9M347.1 314.3l2.9-4.4M344.1 313.6l3-4.8M394.3 315.9l2.9 17.6M341.2 314.4l2.9-5.2M338.2 317l3-5.6M338.2 315.5l3-6.3M397.2 315.5l3 24M338.2 315.1l3-7M338.2 316l3-7.7"/><path stroke="#c22419" d="M391.3 312.9l3-6.6M367.7 311l3-1.9M382.5 311.5l2.9 4.5M358.9 311.9l2.9-3.5M353 312.2l2.9-4.1M350 309.9l3-4.5M341.2 311.4l2.9-5.8M397.2 310.4l3 24.7M341.2 310l2.9-8.6M341.2 313.3l2.9-9.3"/><path stroke="#bb2319" d="M388.4 308.2l2.9-8.8M391.3 306.1l3-7.7M394.3 306.3l2.9-6.1M397.2 309.1l3-4.1M370.7 309.1l2.9-1.1 3-.2 2.9 1.1 3 2.6M361.8 308.4l3-3.1M385.4 308l3 6.9M355.9 308.1l3-3.9M388.4 307l2.9 9.9M391.3 309.4l3 13.5M347.1 308.8l2.9-4.9M344.1 309.2l3-5.3M394.3 308.9l2.9 18.4M341.2 309.2l2.9-6.4M341.2 308.1l2.9-7.1M341.2 308.3l2.9-7.8M397.2 305.9l3 25.4"/><path stroke="#b22219" d="M400.2 305l2.9-2.8 3-1.3M364.8 305.3l2.9-2.7 3-2M382.5 303.3l2.9 4.7M358.9 304.2l2.9-3.8M353 305.4l2.9-4.5M350 303.9l3-5M347.1 303.9l2.9-5.5M344.1 305.6l3-6M394.3 302.3l2.9 18.9M344.1 302.8l3-6.6M397.2 302.3l3 26.2M344.1 304l3-9.5"/><path stroke="#ab2119" d="M391.3 299.4l3-8.6M394.3 298.4l2.9-7.1M397.2 300.2l3-5.2M370.7 300.6l2.9-1.2 3-.1 2.9 1.2 3 2.8M361.8 300.4l3-3.4M385.4 299.8l3 7.2M355.9 300.9l3-4.3M388.4 299l2.9 10.4M353 298.9l2.9-4.9M391.3 301.8l3 14.1M350 298.4l3-5.4M347.1 299.6l2.9-6M344.1 301l3-7.2M344.1 300.5l3-7.9M344.1 301.4l3-8.6M397.2 299.8l3 26.8"/><path stroke="#a21f19" d="M400.2 295l2.9-4.1M364.8 297l2.9-2.9M382.5 294.8l2.9 5M358.9 296.6l2.9-4.1M347.1 296.2l2.9-6.6M394.3 296l2.9 19.5M347.1 294.5l2.9-9.4"/><path stroke="#9b1e19" d="M394.3 290.8l2.9-8.2M397.2 291.3l3-6.3M403.1 290.9l3-2.7M367.7 294.1l3-2.2 2.9-1.2 3-.2M379.5 291.8l3 3M361.8 292.5l3-3.7M385.4 291.4l3 7.6M355.9 294l3-4.7M388.4 291.1l2.9 10.7M353 293l2.9-5.4M391.3 294.4l3 14.5M350 293.6l3-6M347.1 293.8l2.9-7.3M347.1 292.6l2.9-7.9M347.1 292.8l2.9-8.7"/><path stroke="#921c19" d="M376.6 290.5l2.9 1.3M364.8 288.8l2.9-3.1M358.9 289.3l2.9-4.5M355.9 287.6l3-5.2M353 287.6l2.9-5.9M391.3 287.2l3 15.1M350 289.6l3-6.6M394.3 290.2l2.9 20.2"/><path stroke="#8b1b19" d="M400.2 285l2.4-4.5M367.7 285.7l3-2.4 2.9-1.4M379.5 283.1l3 3.1 2.9 5.2M361.8 284.8l3-4M385.4 283.1l3 8M388.4 283.2l2.9 11.2M350 286.5l2.5-6M350 284.7l1.6-4.2M394.3 285.2l2.9 20.7M350 284.1l1.3-3.6M350 285.1l1.5-4.6"/><path stroke="#821919" d="M397.2 282.6l.9-2.1M373.6 281.9l3-.1 2.9 1.3M364.8 280.8l.2-.3M384 280.5l1.4 2.6M358.9 282.4l1.1-1.9M387.4 280.5l1 2.7M355.9 281.7l.6-1.2M389.6 280.5l1.7 6.7M353 283l1.1-2.5M391.3 280.5l3 15.5M392.5 280.5l1.8 9.7M393.4 280.5l.9 4.7M394.2 280.5l.1 .6 2.9 21.2M394.6 280.5l2.6 19.3"/></g>
<g fill="#333"><circle cx="343.4" cy="366.6" r="0.6"/><circle cx="361.1" cy="361.8" r="0.6"/><circle cx="359.3" cy="385.9" r="0.6"/><circle cx="336.1" cy="378.3" r="0.6"/><circle cx="338.9" cy="379.6" r="0.6"/><circle cx="335.8" cy="405.1" r="0.6"/><circle cx="350.5" cy="371.3" r="0.6"/><circle cx="342.1" cy="370" r="0.6"/><circle cx="352.9" cy="380.5" r="0.6"/><circle cx="318.1" cy="388.3" r="0.6"/><circle cx="363.9" cy="372.7" r="0.6"/><circle cx="341.6" cy="407.8" r="0.6"/><circle cx="352" cy="384.3" r="0.6"/><circle cx="341.1" cy="373.3" r="0.6"/><circle cx="337.8" cy="402.8" r="0.6"/><circle cx="349.1" cy="367.5" r="0.6"/><circle cx="354" cy="377.9" r="0.6"/><circle cx="340.2" cy="413.5" r="0.6"/><circle cx="340.9" cy="384.1" r="0.6"/><circle cx="352.1" cy="392.1" r="0.6"/><circle cx="331.2" cy="379.1" r="0.6"/><circle cx="322.6" cy="397.5" r="0.6"/><circle cx="348.2" cy="373.3" r="0.6"/><circle cx="333.9" cy="392.2" r="0.6"/><circle cx="317.1" cy="374" r="0.6"/><circle cx="332" cy="390.1" r="0.6"/><circle cx="336.6" cy="391.9" r="0.6"/><circle cx="326.9" cy="369.1" r="0.6"/><circle cx="322.9" cy="378.6" r="0.6"/><circle cx="343.4" cy="389.3" r="0.6"/><circle cx="354.9" cy="401.4" r="0.6"/><circle cx="339.8" cy="362.5" r="0.6"/><circle cx="332.9" cy="379.9" r="0.6"/><circle cx="348.1" cy="387.3" r="0.6"/><circle cx="352.5" cy="381.7" r="0.6"/><circle cx="338.9" cy="401.5" r="0.6"/><circle cx="350.2" cy="390.9" r="0.6"/><circle cx="356.9" cy="392.6" r="0.6"/><circle cx="340.1" cy="383.9" r="0.6"/><circle cx="332" cy="379.9" r="0.6"/><circle cx="347.6" cy="396.1" r="0.6"/><circle cx="346.2" cy="378.2" r="0.6"/><circle cx="357.6" cy="375.1" r="0.6"/><circle cx="325.7" cy="383.9" r="0.6"/><circle cx="334" cy="370.2" r="0.6"/><circle cx="331.7" cy="389.3" r="0.6"/><circle cx="319.6" cy="390.9" r="0.6"/><circle cx="344.6" cy="377.7" r="0.6"/><circle cx="350" cy="386.3" r="0.6"/><circle cx="333" cy="370.2" r="0.6"/><circle cx="361.5" cy="397.5" r="0.6"/><circle cx="353.9" cy="365.2" r="0.6"/><circle cx="351.3" cy="392.3" r="0.6"/><circle cx="348.3" cy="389.5" r="0.6"/><circle cx="355.7" cy="403" r="0.6"/><circle cx="325" cy="371.4" r="0.6"/><circle cx="351.1" cy="367.5" r="0.6"/><circle cx="351" cy="372.3" r="0.6"/><circle cx="319.2" cy="377.6" r="0.6"/><circle cx="347.6" cy="406.5" r="0.6"/><circle cx="339.5" cy="394.8" r="0.6"/><circle cx="353.4" cy="392" r="0.6"/><circle cx="337" cy="396.8" r="0.6"/><circle cx="342.7" cy="374" r="0.6"/><circle cx="347.5" cy="375.4" r="0.6"/><circle cx="331.1" cy="388.3" r="0.6"/><circle cx="350.9" cy="380.6" r="0.6"/><circle cx="341.5" cy="398.7" r="0.6"/><circle cx="349.5" cy="397.8" r="0.6"/><circle cx="335.9" cy="396.7" r="0.6"/><circle cx="357.5" cy="378.9" r="0.6"/><circle cx="351" cy="379" r="0.6"/><circle cx="340.5" cy="350" r="0.6"/><circle cx="351.4" cy="373.2" r="0.6"/><circle cx="359.8" cy="398.5" r="0.6"/><circle cx="366.9" cy="387.9" r="0.6"/><circle cx="321.8" cy="385.8" r="0.6"/><circle cx="354.7" cy="402.5" r="0.6"/><circle cx="349.1" cy="394" r="0.6"/><circle cx="341.6" cy="371.2" r="0.6"/><circle cx="329.4" cy="372.8" r="0.6"/><circle cx="359.8" cy="358" r="0.6"/><circle cx="326" cy="389.1" r="0.6"/><circle cx="350.5" cy="387.1" r="0.6"/><circle cx="360.4" cy="342" r="0.6"/><circle cx="321.4" cy="396.6" r="0.6"/><circle cx="338.8" cy="383.9" r="0.6"/><circle cx="325.3" cy="370.7" r="0.6"/><circle cx="346.2" cy="390.4" r="0.6"/><circle cx="363.2" cy="385" r="0.6"/><circle cx="370" cy="378.6" r="0.6"/><circle cx="319.1" cy="385.9" r="0.6"/><circle cx="335.2" cy="379.2" r="0.6"/><circle cx="352.3" cy="361" r="0.6"/><circle cx="364.1" cy="366.5" r="0.6"/><circle cx="348.5" cy="406.5" r="0.6"/><circle cx="332.9" cy="397.6" r="0.6"/><circle cx="346.9" cy="385.4" r="0.6"/><circle cx="342.7" cy="394.8" r="0.6"/><circle cx="340.2" cy="403.5" r="0.6"/><circle cx="333.1" cy="390.1" r="0.6"/><circle cx="348.1" cy="392.2" r="0.6"/><circle cx="347" cy="383.3" r="0.6"/><circle cx="341.7" cy="398.1" r="0.6"/><circle cx="339.9" cy="383.1" r="0.6"/><circle cx="325.7" cy="364.3" r="0.6"/><circle cx="336.4" cy="381.1" r="0.6"/><circle cx="359.1" cy="364.5" r="0.6"/><circle cx="340.3" cy="383.4" r="0.6"/><circle cx="323.6" cy="395.2" r="0.6"/><circle cx="360.8" cy="385" r="0.6"/><circle cx="350" cy="397.8" r="0.6"/><circle cx="371.2" cy="369.2" r="0.6"/><circle cx="343.7" cy="401.9" r="0.6"/><circle cx="336.7" cy="371.1" r="0.6"/><circle cx="323.5" cy="390.5" r="0.6"/><circle cx="360.7" cy="402.4" r="0.6"/><circle cx="377.4" cy="364.4" r="0.6"/><circle cx="331.9" cy="367.4" r="0.6"/><circle cx="334.2" cy="391" r="0.6"/><circle cx="350.9" cy="370.6" r="0.6"/><circle cx="331.8" cy="407.5" r="0.6"/><circle cx="339.3" cy="385.7" r="0.6"/><circle cx="338.2" cy="407.8" r="0.6"/><circle cx="345.5" cy="377.2" r="0.6"/><circle cx="357.6" cy="395.2" r="0.6"/><circle cx="343.2" cy="407.4" r="0.6"/><circle cx="355.2" cy="370" r="0.6"/><circle cx="337.3" cy="359.6" r="0.6"/><circle cx="347.3" cy="394.6" r="0.6"/><circle cx="314.2" cy="379.9" r="0.6"/><circle cx="323.5" cy="386.4" r="0.6"/><circle cx="353.6" cy="383.4" r="0.6"/><circle cx="335" cy="378.8" r="0.6"/><circle cx="350.7" cy="363.4" r="0.6"/><circle cx="350.2" cy="402.6" r="0.6"/><circle cx="360.6" cy="373.4" r="0.6"/><circle cx="353.8" cy="381.3" r="0.6"/><circle cx="356.5" cy="400.3" r="0.6"/><circle cx="341.4" cy="363.6" r="0.6"/><circle cx="333.5" cy="362" r="0.6"/><circle cx="333.1" cy="397" r="0.6"/><circle cx="336.4" cy="364.1" r="0.6"/><circle cx="327.7" cy="382.5" r="0.6"/><circle cx="335.6" cy="386.1" r="0.6"/><circle cx="341.7" cy="368.4" r="0.6"/><circle cx="346.3" cy="384.3" r="0.6"/><circle cx="338.4" cy="371.6" r="0.6"/><circle cx="317.1" cy="372.7" r="0.6"/><circle cx="341.9" cy="364.6" r="0.6"/><circle cx="345.9" cy="372.7" r="0.6"/><circle cx="357.4" cy="402.6" r="0.6"/><circle cx="350.6" cy="406.7" r="0.6"/><circle cx="334.3" cy="371.5" r="0.6"/><circle cx="333.2" cy="396.9" r="0.6"/><circle cx="369.9" cy="374.5" r="0.6"/><circle cx="353" cy="400" r="0.6"/><circle cx="367.5" cy="383.2" r="0.6"/><circle cx="371.5" cy="394.6" r="0.6"/><circle cx="331.9" cy="356.9" r="0.6"/><circle cx="348.1" cy="399.6" r="0.6"/><circle cx="349" cy="384.9" r="0.6"/><circle cx="350.4" cy="388.9" r="0.6"/><circle cx="350.2" cy="368" r="0.6"/><circle cx="345.6" cy="405" r="0.6"/><circle cx="345.2" cy="384.6" r="0.6"/><circle cx="322.8" cy="382" r="0.6"/><circle cx="340.7" cy="377.8" r="0.6"/><circle cx="332.9" cy="378.5" r="0.6"/><circle cx="344.6" cy="390.1" r="0.6"/><circle cx="336.6" cy="385" r="0.6"/><circle cx="351.2" cy="387.2" r="0.6"/><circle cx="353.9" cy="379.2" r="0.6"/><circle cx="347" cy="388.7" r="0.6"/><circle cx="347.1" cy="393.9" r="0.6"/><circle cx="366.5" cy="379.9" r="0.6"/><circle cx="327" cy="371.9" r="0.6"/><circle cx="356.9" cy="340.8" r="0.6"/><circle cx="330.6" cy="396.8" r="0.6"/><circle cx="366" cy="340.1" r="0.6"/><circle cx="334.4" cy="360.6" r="0.6"/><circle cx="314.4" cy="395.2" r="0.6"/><circle cx="376.9" cy="395.2" r="0.6"/><circle cx="360.8" cy="391" r="0.6"/><circle cx="365.5" cy="383.1" r="0.6"/><circle cx="349.5" cy="339.9" r="0.6"/><circle cx="368.8" cy="362.2" r="0.6"/><circle cx="339.9" cy="365.6" r="0.6"/><circle cx="350.1" cy="389.2" r="0.6"/><circle cx="306.6" cy="428.2" r="0.6"/><circle cx="349.1" cy="414.8" r="0.6"/><circle cx="371.6" cy="322" r="0.6"/><circle cx="362.2" cy="376.8" r="0.6"/><circle cx="370.6" cy="391.9" r="0.6"/><circle cx="344.1" cy="373.7" r="0.6"/><circle cx="377.3" cy="394.4" r="0.6"/><circle cx="310.5" cy="358.2" r="0.6"/><circle cx="376.9" cy="357.9" r="0.6"/><circle cx="333.3" cy="369.2" r="0.6"/><circle cx="309" cy="401.8" r="0.6"/><circle cx="354.7" cy="325.1" r="0.6"/><circle cx="340.5" cy="402.4" r="0.6"/><circle cx="338.2" cy="341.6" r="0.6"/><circle cx="374.8" cy="364.1" r="0.6"/><circle cx="313.1" cy="375.1" r="0.6"/><circle cx="354.5" cy="361.9" r="0.6"/><circle cx="336.9" cy="373.4" r="0.6"/><circle cx="346.8" cy="394.6" r="0.6"/><circle cx="344.3" cy="369.7" r="0.6"/><circle cx="312.8" cy="426.8" r="0.6"/><circle cx="345.4" cy="390.7" r="0.6"/><circle cx="375.7" cy="364.4" r="0.6"/><circle cx="316" cy="379.4" r="0.6"/><circle cx="302.2" cy="398.9" r="0.6"/><circle cx="307" cy="390.1" r="0.6"/><circle cx="340.9" cy="363.2" r="0.6"/><circle cx="385.4" cy="342.1" r="0.6"/><circle cx="305" cy="361.4" r="0.6"/><circle cx="386.8" cy="315.9" r="0.6"/><circle cx="347.5" cy="389.8" r="0.6"/><circle cx="311.6" cy="419.5" r="0.6"/><circle cx="337.4" cy="388.4" r="0.6"/><circle cx="319.1" cy="399.5" r="0.6"/><circle cx="362.9" cy="384.9" r="0.6"/><circle cx="348" cy="367.6" r="0.6"/><circle cx="326.1" cy="390.8" r="0.6"/><circle cx="323.3" cy="360.7" r="0.6"/><circle cx="376.1" cy="372.2" r="0.6"/><circle cx="367.4" cy="366.7" r="0.6"/><circle cx="338.9" cy="372.9" r="0.6"/><circle cx="336.2" cy="355.5" r="0.6"/><circle cx="364.9" cy="352.4" r="0.6"/><circle cx="385.1" cy="372.9" r="0.6"/><circle cx="308.1" cy="362.3" r="0.6"/><circle cx="314.9" cy="400.5" r="0.6"/></g>
</g>
<rect x="268.4" y="280.5" width="178.8" height="177" fill="none" stroke="#999" stroke-width="0.8"/>
<path d="M268.4 457.5 268.4 455.7M268.4 280.5 268.4 282.3M298.2 457.5 298.2 455.7M298.2 280.5 298.2 282.3M328 457.5 328 455.7M328 280.5 328 282.3M357.8 457.5 357.8 455.7M357.8 280.5 357.8 282.3M387.6 457.5 387.6 455.7M387.6 280.5 387.6 282.3M417.4 457.5 417.4 455.7M417.4 280.5 417.4 282.3M447.2 457.5 447.2 455.7M447.2 280.5 447.2 282.3M268.4 457.5 270.2 457.5M447.2 457.5 445.4 457.5M268.4 432.2 270.2 432.2M447.2 432.2 445.4 432.2M268.4 406.9 270.2 406.9M447.2 406.9 445.4 406.9M268.4 381.6 270.2 381.6M447.2 381.6 445.4 381.6M268.4 356.4 270.2 356.4M447.2 356.4 445.4 356.4M268.4 331.1 270.2 331.1M447.2 331.1 445.4 331.1M268.4 305.8 270.2 305.8M447.2 305.8 445.4 305.8M268.4 280.5 270.2 280.5M447.2 280.5 445.4 280.5" stroke="#666" stroke-width="0.6" fill="none"/>
<text x="268.4" y="473.2" font-size="12.4" text-anchor="middle">-3</text>
<text x="298.2" y="473.2" font-size="12.4" text-anchor="middle">-2</text>
<text x="328" y="473.2" font-size="12.4" text-anchor="middle">-1</text>
<text x="357.8" y="473.2" font-size="12.4" text-anchor="middle">0</text>
<text x="387.6" y="473.2" font-size="12.4" text-anchor="middle">1</text>
<text x="417.4" y="473.2" font-size="12.4" text-anchor="middle">2</text>
<text x="447.2" y="473.2" font-size="12.4" text-anchor="middle">3</text>
<text x="264.3" y="461.7" font-size="12.4" text-anchor="end">60</text>
<text x="264.3" y="436.4" font-size="12.4" text-anchor="end">80</text>
<text x="264.3" y="411.1" font-size="12.4" text-anchor="end">100</text>
<text x="264.3" y="385.8" font-size="12.4" text-anchor="end">120</text>
<text x="264.3" y="360.5" font-size="12.4" text-anchor="end">140</text>
<text x="264.3" y="335.2" font-size="12.4" text-anchor="end">160</text>
<text x="264.3" y="309.9" font-size="12.4" text-anchor="end">180</text>
<text x="264.3" y="284.7" font-size="12.4" text-anchor="end">200</text>
<text x="313.9" y="489" font-size="13.5" textLength="87.6" lengthAdjust="spacingAndGlyphs">X : GT of LTM</text>
<text transform="translate(240.5 372.1) rotate(-90)" x="-72.8" y="0" font-size="13.5" textLength="145.6" lengthAdjust="spacingAndGlyphs">f ( X, Y ) : SBP(mmHg)</text>
<path d="M519.9 280 519.9 455.5M549.7 280 549.7 455.5M579.4 280 579.4 455.5M609.1 280 609.1 455.5M638.9 280 638.9 455.5M490.2 430.4 668.6 430.4M490.2 405.4 668.6 405.4M490.2 380.3 668.6 380.3M490.2 355.2 668.6 355.2M490.2 330.1 668.6 330.1M490.2 305.1 668.6 305.1" stroke="#e8e8e8" stroke-width="0.7" fill="none"/>
<clipPath id="cc"><rect x="490.2" y="280" width="178.4" height="175.5"/></clipPath>
<g clip-path="url(#cc)">
<g fill="none" stroke-width="0.75"><path stroke="#6b6bac" d="M490.8 455.5 490.8 451.7M495.6 455.5 495.6 451.7M500.5 455.5 500.5 451.7M505.3 455.5 505.3 451.7M510.2 455.5 510.2 451.7M515 455.5 515 451.7M519.9 455.5 519.9 451.7M524.7 455.5 524.7 451.7M529.6 455.5 529.6 451.7M534.4 455.5 534.4 451.7M539.3 455.5 539.3 451.7M544.1 455.5 544.1 451.7M549 455.5 549 451.7M553.8 455.5 553.8 451.7M558.7 455.5 558.7 451.7M563.5 455.5 563.5 451.7M568.4 455.5 568.4 451.7M573.2 455.5 573.2 451.7M578.1 455.5 578.1 451.7M582.9 455.5 582.9 451.7M587.8 455.5 587.8 451.7M592.6 455.5 592.6 451.7M597.5 455.5 597.5 451.7M602.3 455.5 602.3 451.7M607.2 455.5 607.2 451.7M612 455.5 612 451.7M616.9 455.5 616.9 451.7M621.7 455.5 621.7 451.7M626.6 455.5 626.6 451.7M631.4 455.5 631.4 451.7M636.3 455.5 636.3 451.7M641.1 455.5 641.1 451.7M646 455.5 646 451.7M650.8 455.5 650.8 451.7M655.7 455.5 655.7 451.7M660.5 455.5 660.5 451.7M665.4 455.5 665.4 451.7"/><path stroke="#6a6ab3" d="M490.8 451.7 490.8 448M495.6 451.7 495.6 448M500.5 451.7 500.5 448M505.3 451.7 505.3 448M510.2 451.7 510.2 448M515 451.7 515 448M519.9 451.7 519.9 448M524.7 451.7 524.7 448M529.6 451.7 529.6 448M534.4 451.7 534.4 448M539.3 451.7 539.3 448M544.1 451.7 544.1 448M549 451.7 549 448M553.8 451.7 553.8 448M558.7 451.7 558.7 448M563.5 451.7 563.5 448M568.4 451.7 568.4 448M573.2 451.7 573.2 448M578.1 451.7 578.1 448M582.9 451.7 582.9 448M587.8 451.7 587.8 448M592.6 451.7 592.6 448M597.5 451.7 597.5 448M602.3 451.7 602.3 448M607.2 451.7 607.2 448M612 451.7 612 448M616.9 451.7 616.9 448M621.7 451.7 621.7 448M626.6 451.7 626.6 448M631.4 451.7 631.4 448M636.3 451.7 636.3 448M641.1 451.7 641.1 448M646 451.7 646 448M650.8 451.7 650.8 448M655.7 451.7 655.7 448M660.5 451.7 660.5 448M665.4 451.7 665.4 448"/><path stroke="#6969ba" d="M490.8 448 490.8 444.2M495.6 448 495.6 444.2M500.5 448 500.5 444.2M505.3 448 505.3 444.2M510.2 448 510.2 444.2M515 448 515 444.2M519.9 448 519.9 444.2M524.7 448 524.7 444.2M529.6 448 529.6 444.2M534.4 448 534.4 444.2M539.3 448 539.3 444.2M544.1 448 544.1 444.2M549 448 549 444.2M553.8 448 553.8 444.2M558.7 448 558.7 444.2M563.5 448 563.5 444.2M568.4 448 568.4 444.2M573.2 448 573.2 444.2M578.1 448 578.1 444.2M582.9 448 582.9 444.2M587.8 448 587.8 444.2M592.6 448 592.6 444.2M597.5 448 597.5 444.2M602.3 448 602.3 444.2M607.2 448 607.2 444.2M612 448 612 444.2M616.9 448 616.9 444.2M621.7 448 621.7 444.2M626.6 448 626.6 444.2M631.4 448 631.4 444.2M636.3 448 636.3 444.2M641.1 448 641.1 444.2M646 448 646 444.2M650.8 448 650.8 444.2M655.7 448 655.7 444.2M660.5 448 660.5 444.2M665.4 448 665.4 444.2"/><path stroke="#6868c1" d="M490.8 444.2 490.8 440.5M495.6 444.2 495.6 440.5M500.5 444.2 500.5 440.5M505.3 444.2 505.3 440.5M510.2 444.2 510.2 440.5M515 444.2 515 440.5M519.9 444.2 519.9 440.5M524.7 444.2 524.7 440.5M529.6 444.2 529.6 440.5M534.4 444.2 534.4 440.5M539.3 444.2 539.3 440.5M544.1 444.2 544.1 440.5M549 444.2 549 440.5M553.8 444.2 553.8 440.5M558.7 444.2 558.7 440.5M563.5 444.2 563.5 440.5M568.4 444.2 568.4 440.5M573.2 444.2 573.2 440.5M578.1 444.2 578.1 440.5M582.9 444.2 582.9 440.5M587.8 444.2 587.8 440.5M592.6 444.2 592.6 440.5M597.5 444.2 597.5 440.5M602.3 444.2 602.3 440.5M607.2 444.2 607.2 440.5M612 444.2 612 440.5M616.9 444.2 616.9 440.5M621.7 444.2 621.7 440.5M626.6 444.2 626.6 440.5M631.4 444.2 631.4 440.5M636.3 444.2 636.3 440.5M641.1 444.2 641.1 440.5M646 444.2 646 440.5M650.8 444.2 650.8 440.5M655.7 444.2 655.7 440.5M660.5 444.2 660.5 440.5M665.4 444.2 665.4 440.5"/><path stroke="#6767c8" d="M490.8 440.5 490.8 436.7M495.6 440.5 495.6 436.7M500.5 440.5 500.5 436.7M505.3 440.5 505.3 436.7M510.2 440.5 510.2 436.7M515 440.5 515 436.7M519.9 440.5 519.9 436.7M524.7 440.5 524.7 436.7M529.6 440.5 529.6 436.7M534.4 440.5 534.4 436.7M539.3 440.5 539.3 436.7M544.1 440.5 544.1 436.7M549 440.5 549 436.7M553.8 440.5 553.8 436.7M558.7 440.5 558.7 436.7M563.5 440.5 563.5 436.7M568.4 440.5 568.4 436.7M573.2 440.5 573.2 436.7M578.1 440.5 578.1 436.7M582.9 440.5 582.9 436.7M587.8 440.5 587.8 436.7M592.6 440.5 592.6 436.7M597.5 440.5 597.5 436.7M602.3 440.5 602.3 436.7M607.2 440.5 607.2 436.7M612 440.5 612 436.7M616.9 440.5 616.9 436.7M621.7 440.5 621.7 436.7M626.6 440.5 626.6 436.7M631.4 440.5 631.4 436.7M636.3 440.5 636.3 436.7M641.1 440.5 641.1 436.7M646 440.5 646 436.7M650.8 440.5 650.8 436.7M655.7 440.5 655.7 436.7M660.5 440.5 660.5 436.7M665.4 440.5 665.4 436.7"/><path stroke="#6666d1" d="M490.8 436.7 490.8 432.9M495.6 436.7 495.6 432.9M500.5 436.7 500.5 432.9M505.3 436.7 505.3 432.9M510.2 436.7 510.2 432.9M515 436.7 515 432.9M519.9 436.7 519.9 432.9M524.7 436.7 524.7 432.9M529.6 436.7 529.6 432.9M534.4 436.7 534.4 432.9M539.3 436.7 539.3 432.9M544.1 436.7 544.1 432.9M549 436.7 549 432.9M553.8 436.7 553.8 432.9M558.7 436.7 558.7 432.9M563.5 436.7 563.5 432.9M568.4 436.7 568.4 432.9M573.2 436.7 573.2 432.9M578.1 436.7 578.1 432.9M582.9 436.7 582.9 432.9M587.8 436.7 587.8 432.9M592.6 436.7 592.6 432.9M597.5 436.7 597.5 432.9M602.3 436.7 602.3 432.9M607.2 436.7 607.2 432.9M612 436.7 612 432.9M616.9 436.7 616.9 432.9M621.7 436.7 621.7 432.9M626.6 436.7 626.6 432.9M631.4 436.7 631.4 432.9M636.3 436.7 636.3 432.9M641.1 436.7 641.1 432.9M646 436.7 646 432.9M650.8 436.7 650.8 432.9M655.7 436.7 655.7 432.9M660.5 436.7 660.5 432.9M665.4 436.7 665.4 432.9"/><path stroke="#6666da" d="M490.8 432.9 490.8 429.2M495.6 432.9 495.6 429.2M500.5 432.9 500.5 429.2M505.3 432.9 505.3 429.2M510.2 432.9 510.2 429.2M515 432.9 515 429.2M519.9 432.9 519.9 429.2M524.7 432.9 524.7 429.2M529.6 432.9 529.6 429.2M534.4 432.9 534.4 429.2M539.3 432.9 539.3 429.2M544.1 432.9 544.1 429.2M549 432.9 549 429.2M553.8 432.9 553.8 429.2M558.7 432.9 558.7 429.2M563.5 432.9 563.5 429.2M568.4 432.9 568.4 429.2M573.2 432.9 573.2 429.2M578.1 432.9 578.1 429.2M582.9 432.9 582.9 429.2M587.8 432.9 587.8 429.2M592.6 432.9 592.6 429.2M597.5 432.9 597.5 429.2M602.3 432.9 602.3 429.2M607.2 432.9 607.2 429.2M612 432.9 612 429.2M616.9 432.9 616.9 429.2M621.7 432.9 621.7 429.2M626.6 432.9 626.6 429.2M631.4 432.9 631.4 429.2M636.3 432.9 636.3 429.2M641.1 432.9 641.1 429.2M646 432.9 646 429.2M650.8 432.9 650.8 429.2M655.7 432.9 655.7 429.2M660.5 432.9 660.5 429.2M665.4 432.9 665.4 429.2"/><path stroke="#6666e4" d="M490.8 429.2 490.8 425.4M495.6 429.2 495.6 425.4M500.5 429.2 500.5 425.4M505.3 429.2 505.3 425.4M510.2 429.2 510.2 425.4M515 429.2 515 425.4M519.9 429.2 519.9 425.4M524.7 429.2 524.7 425.4M529.6 429.2 529.6 425.4M534.4 429.2 534.4 425.4M539.3 429.2 539.3 425.4M544.1 429.2 544.1 425.4M549 429.2 549 425.4M553.8 429.2 553.8 425.4M558.7 429.2 558.7 425.4M563.5 429.2 563.5 425.4M568.4 429.2 568.4 425.4M573.2 429.2 573.2 425.4M578.1 429.2 578.1 425.4M582.9 429.2 582.9 425.4M587.8 429.2 587.8 425.4M592.6 429.2 592.6 425.4M597.5 429.2 597.5 425.4M602.3 429.2 602.3 425.4M607.2 429.2 607.2 425.4M612 429.2 612 425.4M616.9 429.2 616.9 425.4M621.7 429.2 621.7 425.4M626.6 429.2 626.6 425.4M631.4 429.2 631.4 425.4M636.3 429.2 636.3 425.4M641.1 429.2 641.1 425.4M646 429.2 646 425.4M650.8 429.2 650.8 425.4M655.7 429.2 655.7 425.4M660.5 429.2 660.5 425.4M665.4 429.2 665.4 425.4"/><path stroke="#6666ee" d="M490.8 425.4 490.8 421.7M495.6 425.4 495.6 421.7M500.5 425.4 500.5 421.7M505.3 425.4 505.3 421.7M510.2 425.4 510.2 421.7M515 425.4 515 421.7M519.9 425.4 519.9 421.7M524.7 425.4 524.7 421.7M529.6 425.4 529.6 421.7M534.4 425.4 534.4 421.7M539.3 425.4 539.3 421.7M544.1 425.4 544.1 421.7M549 425.4 549 421.7M553.8 425.4 553.8 421.7M558.7 425.4 558.7 421.7M563.5 425.4 563.5 421.7M568.4 425.4 568.4 421.7M573.2 425.4 573.2 421.7M578.1 425.4 578.1 421.7M582.9 425.4 582.9 421.7M587.8 425.4 587.8 421.7M592.6 425.4 592.6 421.7M597.5 425.4 597.5 421.7M602.3 425.4 602.3 421.7M607.2 425.4 607.2 421.7M612 425.4 612 421.7M616.9 425.4 616.9 421.7M621.7 425.4 621.7 421.7M626.6 425.4 626.6 421.7M631.4 425.4 631.4 421.7M636.3 425.4 636.3 421.7M641.1 425.4 641.1 421.7M646 425.4 646 421.7M650.8 425.4 650.8 421.7M655.7 425.4 655.7 421.7M660.5 425.4 660.5 421.7M665.4 425.4 665.4 421.7"/><path stroke="#6666f7" d="M490.8 421.7 490.8 417.9M495.6 421.7 495.6 417.9M500.5 421.7 500.5 417.9M505.3 421.7 505.3 417.9M510.2 421.7 510.2 417.9M515 421.7 515 417.9M519.9 421.7 519.9 417.9M524.7 421.7 524.7 417.9M529.6 421.7 529.6 417.9M534.4 421.7 534.4 417.9M539.3 421.7 539.3 417.9M544.1 421.7 544.1 417.9M549 421.7 549 417.9M553.8 421.7 553.8 417.9M558.7 421.7 558.7 417.9M563.5 421.7 563.5 417.9M568.4 421.7 568.4 417.9M573.2 421.7 573.2 417.9M578.1 421.7 578.1 417.9M582.9 421.7 582.9 417.9M587.8 421.7 587.8 417.9M592.6 421.7 592.6 417.9M597.5 421.7 597.5 417.9M602.3 421.7 602.3 417.9M607.2 421.7 607.2 417.9M612 421.7 612 417.9M616.9 421.7 616.9 417.9M621.7 421.7 621.7 417.9M626.6 421.7 626.6 417.9M631.4 421.7 631.4 417.9M636.3 421.7 636.3 417.9M641.1 421.7 641.1 417.9M646 421.7 646 417.9M650.8 421.7 650.8 417.9M655.7 421.7 655.7 417.9M660.5 421.7 660.5 417.9M665.4 421.7 665.4 417.9"/><path stroke="#6666f9" d="M490.8 417.9 490.8 414.1M495.6 417.9 495.6 414.1M500.5 417.9 500.5 414.1M505.3 417.9 505.3 414.1M510.2 417.9 510.2 414.1M515 417.9 515 414.1M519.9 417.9 519.9 414.1M524.7 417.9 524.7 414.1M529.6 417.9 529.6 414.1M534.4 417.9 534.4 414.1M539.3 417.9 539.3 414.1M544.1 417.9 544.1 414.1M549 417.9 549 414.1M553.8 417.9 553.8 414.1M558.7 417.9 558.7 414.1M563.5 417.9 563.5 414.1M568.4 417.9 568.4 414.1M573.2 417.9 573.2 414.1M578.1 417.9 578.1 414.1M582.9 417.9 582.9 414.1M587.8 417.9 587.8 414.1M592.6 417.9 592.6 414.1M597.5 417.9 597.5 414.1M602.3 417.9 602.3 414.1M607.2 417.9 607.2 414.1M612 417.9 612 414.1M616.9 417.9 616.9 414.1M621.7 417.9 621.7 414.1M626.6 417.9 626.6 414.1M631.4 417.9 631.4 414.1M636.3 417.9 636.3 414.1M641.1 417.9 641.1 414.1M646 417.9 646 414.1M650.8 417.9 650.8 414.1M655.7 417.9 655.7 414.1M660.5 417.9 660.5 414.1M665.4 417.9 665.4 414.1"/><path stroke="#6666fb" d="M490.8 414.1 490.8 410.4M495.6 414.1 495.6 410.4M500.5 414.1 500.5 410.4M505.3 414.1 505.3 410.4M510.2 414.1 510.2 410.4M515 414.1 515 410.4M519.9 414.1 519.9 410.4M524.7 414.1 524.7 410.4M529.6 414.1 529.6 410.4M534.4 414.1 534.4 410.4M539.3 414.1 539.3 410.4M544.1 414.1 544.1 410.4M549 414.1 549 410.4M553.8 414.1 553.8 410.4M558.7 414.1 558.7 410.4M563.5 414.1 563.5 410.4M568.4 414.1 568.4 410.4M573.2 414.1 573.2 410.4M578.1 414.1 578.1 410.4M582.9 414.1 582.9 410.4M587.8 414.1 587.8 410.4M592.6 414.1 592.6 410.4M597.5 414.1 597.5 410.4M602.3 414.1 602.3 410.4M607.2 414.1 607.2 410.4M612 414.1 612 410.4M616.9 414.1 616.9 410.4M621.7 414.1 621.7 410.4M626.6 414.1 626.6 410.4M631.4 414.1 631.4 410.4M636.3 414.1 636.3 410.4M641.1 414.1 641.1 410.4M646 414.1 646 410.4M650.8 414.1 650.8 410.4M655.7 414.1 655.7 410.4M660.5 414.1 660.5 410.4M665.4 414.1 665.4 410.4"/><path stroke="#6666fe" d="M490.8 410.4 490.8 406.6M495.6 410.4 495.6 406.6M500.5 410.4 500.5 406.6M505.3 410.4 505.3 406.6M510.2 410.4 510.2 406.6M515 410.4 515 406.6M519.9 410.4 519.9 406.6M524.7 410.4 524.7 406.6M529.6 410.4 529.6 406.6M534.4 410.4 534.4 406.6M539.3 410.4 539.3 406.6M544.1 410.4 544.1 406.6M549 410.4 549 406.6M553.8 410.4 553.8 406.6M558.7 410.4 558.7 406.6M563.5 410.4 563.5 406.6M568.4 410.4 568.4 406.6M573.2 410.4 573.2 406.6M578.1 410.4 578.1 406.6M582.9 410.4 582.9 406.6M587.8 410.4 587.8 406.6M592.6 410.4 592.6 406.6M597.5 410.4 597.5 406.6M602.3 410.4 602.3 406.6M607.2 410.4 607.2 406.6M612 410.4 612 406.6M616.9 410.4 616.9 406.6M621.7 410.4 621.7 406.6M626.6 410.4 626.6 406.6M631.4 410.4 631.4 406.6M636.3 410.4 636.3 406.6M641.1 410.4 641.1 406.6M646 410.4 646 406.6M650.8 410.4 650.8 406.6M655.7 410.4 655.7 406.6M660.5 410.4 660.5 406.6M665.4 410.4 665.4 406.6"/><path stroke="#7397be" d="M490.8 406.6 490.8 402.9M495.6 406.6 495.6 402.9M500.5 406.6 500.5 402.9M505.3 406.6 505.3 402.9M510.2 406.6 510.2 402.9M515 406.6 515 402.9M519.9 406.6 519.9 402.9M524.7 406.6 524.7 402.9M529.6 406.6 529.6 402.9M534.4 406.6 534.4 402.9M539.3 406.6 539.3 402.9M544.1 406.6 544.1 402.9M549 406.6 549 402.9M553.8 406.6 553.8 402.9M558.7 406.6 558.7 402.9M563.5 406.6 563.5 402.9M568.4 406.6 568.4 402.9M573.2 406.6 573.2 402.9M578.1 406.6 578.1 402.9M582.9 406.6 582.9 402.9M587.8 406.6 587.8 402.9M592.6 406.6 592.6 402.9M597.5 406.6 597.5 402.9M602.3 406.6 602.3 402.9M607.2 406.6 607.2 402.9M612 406.6 612 402.9M616.9 406.6 616.9 402.9M621.7 406.6 621.7 402.9M626.6 406.6 626.6 402.9M631.4 406.6 631.4 402.9M636.3 406.6 636.3 402.9M641.1 406.6 641.1 402.9M646 406.6 646 402.9M650.8 406.6 650.8 402.9M655.7 406.6 655.7 402.9M660.5 406.6 660.5 402.9M665.4 406.6 665.4 402.9"/><path stroke="#78cc78" d="M490.8 402.9 490.8 399.1M495.6 402.9 495.6 399.1M500.5 402.9 500.5 399.1M505.3 402.9 505.3 399.1M510.2 402.9 510.2 399.1M515 402.9 515 399.1M519.9 402.9 519.9 399.1M524.7 402.9 524.7 399.1M529.6 402.9 529.6 399.1M534.4 402.9 534.4 399.1M539.3 402.9 539.3 399.1M544.1 402.9 544.1 399.1M549 402.9 549 399.1M553.8 402.9 553.8 399.1M558.7 402.9 558.7 399.1M563.5 402.9 563.5 399.1M568.4 402.9 568.4 399.1M573.2 402.9 573.2 399.1M578.1 402.9 578.1 399.1M582.9 402.9 582.9 399.1M587.8 402.9 587.8 399.1M592.6 402.9 592.6 399.1M597.5 402.9 597.5 399.1M602.3 402.9 602.3 399.1M607.2 402.9 607.2 399.1M612 402.9 612 399.1M616.9 402.9 616.9 399.1M621.7 402.9 621.7 399.1M626.6 402.9 626.6 399.1M631.4 402.9 631.4 399.1M636.3 402.9 636.3 399.1M641.1 402.9 641.1 399.1M646 402.9 646 399.1M650.8 402.9 650.8 399.1M655.7 402.9 655.7 399.1M660.5 402.9 660.5 399.1M665.4 402.9 665.4 399.1"/><path stroke="#7ace76" d="M490.8 399.1 490.8 395.3M495.6 399.1 495.6 395.3M500.5 399.1 500.5 395.3M505.3 399.1 505.3 395.3M510.2 399.1 510.2 395.3M515 399.1 515 395.3M519.9 399.1 519.9 395.3M524.7 399.1 524.7 395.3M529.6 399.1 529.6 395.3M534.4 399.1 534.4 395.3M539.3 399.1 539.3 395.3M544.1 399.1 544.1 395.3M549 399.1 549 395.3M553.8 399.1 553.8 395.3M558.7 399.1 558.7 395.3M563.5 399.1 563.5 395.3M568.4 399.1 568.4 395.3M573.2 399.1 573.2 395.3M578.1 399.1 578.1 395.3M582.9 399.1 582.9 395.3M587.8 399.1 587.8 395.3M592.6 399.1 592.6 395.3M597.5 399.1 597.5 395.3M602.3 399.1 602.3 395.3M607.2 399.1 607.2 395.3M612 399.1 612 395.3M616.9 399.1 616.9 395.3M621.7 399.1 621.7 395.3M626.6 399.1 626.6 395.3M631.4 399.1 631.4 395.3M636.3 399.1 636.3 395.3M641.1 399.1 641.1 395.3M646 399.1 646 395.3M650.8 399.1 650.8 395.3M655.7 399.1 655.7 395.3M660.5 399.1 660.5 395.3M665.4 399.1 665.4 395.3"/><path stroke="#7bcf75" d="M490.8 395.3 490.8 391.6M495.6 395.3 495.6 391.6M500.5 395.3 500.5 391.6M505.3 395.3 505.3 391.6M510.2 395.3 510.2 391.6M515 395.3 515 391.6M519.9 395.3 519.9 391.6M524.7 395.3 524.7 391.6M529.6 395.3 529.6 391.6M534.4 395.3 534.4 391.6M539.3 395.3 539.3 391.6M544.1 395.3 544.1 391.6M549 395.3 549 391.6M553.8 395.3 553.8 391.6M558.7 395.3 558.7 391.6M563.5 395.3 563.5 391.6M568.4 395.3 568.4 391.6M573.2 395.3 573.2 391.6M578.1 395.3 578.1 391.6M582.9 395.3 582.9 391.6M587.8 395.3 587.8 391.6M592.6 395.3 592.6 391.6M597.5 395.3 597.5 391.6M602.3 395.3 602.3 391.6M607.2 395.3 607.2 391.6M612 395.3 612 391.6M616.9 395.3 616.9 391.6M621.7 395.3 621.7 391.6M626.6 395.3 626.6 391.6M631.4 395.3 631.4 391.6M636.3 395.3 636.3 391.6M641.1 395.3 641.1 391.6M646 395.3 646 391.6M650.8 395.3 650.8 391.6M655.7 395.3 655.7 391.6M660.5 395.3 660.5 391.6M665.4 395.3 665.4 391.6"/><path stroke="#7cd074" d="M490.8 391.6 490.8 387.8M495.6 391.6 495.6 387.8M500.5 391.6 500.5 387.8M505.3 391.6 505.3 387.8M510.2 391.6 510.2 387.8M515 391.6 515 387.8M519.9 391.6 519.9 387.8M524.7 391.6 524.7 387.8M529.6 391.6 529.6 387.8M534.4 391.6 534.4 387.8M539.3 391.6 539.3 387.8M544.1 391.6 544.1 387.8M549 391.6 549 387.8M553.8 391.6 553.8 387.8M558.7 391.6 558.7 387.8M563.5 391.6 563.5 387.8M568.4 391.6 568.4 387.8M573.2 391.6 573.2 387.8M578.1 391.6 578.1 387.8M582.9 391.6 582.9 387.8M587.8 391.6 587.8 387.8M592.6 391.6 592.6 387.8M597.5 391.6 597.5 387.8M602.3 391.6 602.3 387.8M607.2 391.6 607.2 387.8M612 391.6 612 387.8M616.9 391.6 616.9 387.8M621.7 391.6 621.7 387.8M626.6 391.6 626.6 387.8M631.4 391.6 631.4 387.8M636.3 391.6 636.3 387.8M641.1 391.6 641.1 387.8M646 391.6 646 387.8M650.8 391.6 650.8 387.8M655.7 391.6 655.7 387.8M660.5 391.6 660.5 387.8M665.4 391.6 665.4 387.8"/><path stroke="#7ed272" d="M490.8 387.8 490.8 384M495.6 387.8 495.6 384M500.5 387.8 500.5 384M505.3 387.8 505.3 384M510.2 387.8 510.2 384M515 387.8 515 384M519.9 387.8 519.9 384M524.7 387.8 524.7 384M529.6 387.8 529.6 384M534.4 387.8 534.4 384M539.3 387.8 539.3 384M544.1 387.8 544.1 384M549 387.8 549 384M553.8 387.8 553.8 384M558.7 387.8 558.7 384M563.5 387.8 563.5 384M568.4 387.8 568.4 384M573.2 387.8 573.2 384M578.1 387.8 578.1 384M582.9 387.8 582.9 384M587.8 387.8 587.8 384M592.6 387.8 592.6 384M597.5 387.8 597.5 384M602.3 387.8 602.3 384M607.2 387.8 607.2 384M612 387.8 612 384M616.9 387.8 616.9 384M621.7 387.8 621.7 384M626.6 387.8 626.6 384M631.4 387.8 631.4 384M636.3 387.8 636.3 384M641.1 387.8 641.1 384M646 387.8 646 384M650.8 387.8 650.8 384M655.7 387.8 655.7 384M660.5 387.8 660.5 384M665.4 387.8 665.4 384"/><path stroke="#8fdb72" d="M490.8 384 490.8 380.3M495.6 384 495.6 380.3M500.5 384 500.5 380.3M505.3 384 505.3 380.3M510.2 384 510.2 380.3M515 384 515 380.3M519.9 384 519.9 380.3M524.7 384 524.7 380.3M529.6 384 529.6 380.3M534.4 384 534.4 380.3M539.3 384 539.3 380.3M544.1 384 544.1 380.3M549 384 549 380.3M553.8 384 553.8 380.3M558.7 384 558.7 380.3M563.5 384 563.5 380.3M568.4 384 568.4 380.3M573.2 384 573.2 380.3M578.1 384 578.1 380.3M582.9 384 582.9 380.3M587.8 384 587.8 380.3M592.6 384 592.6 380.3M597.5 384 597.5 380.3M602.3 384 602.3 380.3M607.2 384 607.2 380.3M612 384 612 380.3M616.9 384 616.9 380.3M621.7 384 621.7 380.3M626.6 384 626.6 380.3M631.4 384 631.4 380.3M636.3 384 636.3 380.3M641.1 384 641.1 380.3M646 384 646 380.3M650.8 384 650.8 380.3M655.7 384 655.7 380.3M660.5 384 660.5 380.3M665.4 384 665.4 380.3"/><path stroke="#a4e572" d="M490.8 380.3 490.8 376.5M495.6 380.3 495.6 376.5M500.5 380.3 500.5 376.5M505.3 380.3 505.3 376.5M510.2 380.3 510.2 376.5M515 380.3 515 376.5M519.9 380.3 519.9 376.5M524.7 380.3 524.7 376.5M529.6 380.3 529.6 376.5M534.4 380.3 534.4 376.5M539.3 380.3 539.3 376.5M544.1 380.3 544.1 376.5M549 380.3 549 376.5M553.8 380.3 553.8 376.5M558.7 380.3 558.7 376.5M563.5 380.3 563.5 376.5M568.4 380.3 568.4 376.5M573.2 380.3 573.2 376.5M578.1 380.3 578.1 376.5M582.9 380.3 582.9 376.5M587.8 380.3 587.8 376.5M592.6 380.3 592.6 376.5M597.5 380.3 597.5 376.5M602.3 380.3 602.3 376.5M607.2 380.3 607.2 376.5M612 380.3 612 376.5M616.9 380.3 616.9 376.5M621.7 380.3 621.7 376.5M626.6 380.3 626.6 376.5M631.4 380.3 631.4 376.5M636.3 380.3 636.3 376.5M641.1 380.3 641.1 376.5M646 380.3 646 376.5M650.8 380.3 650.8 376.5M655.7 380.3 655.7 376.5M660.5 380.3 660.5 376.5M665.4 380.3 665.4 376.5"/><path stroke="#c3ed6f" d="M490.8 376.5 490.8 372.8M495.6 376.5 495.6 372.8M500.5 376.5 500.5 372.8M505.3 376.5 505.3 372.8M510.2 376.5 510.2 372.8M515 376.5 515 372.8M519.9 376.5 519.9 372.8M524.7 376.5 524.7 372.8M529.6 376.5 529.6 372.8M534.4 376.5 534.4 372.8M539.3 376.5 539.3 372.8M544.1 376.5 544.1 372.8M549 376.5 549 372.8M553.8 376.5 553.8 372.8M558.7 376.5 558.7 372.8M563.5 376.5 563.5 372.8M568.4 376.5 568.4 372.8M573.2 376.5 573.2 372.8M578.1 376.5 578.1 372.8M582.9 376.5 582.9 372.8M587.8 376.5 587.8 372.8M592.6 376.5 592.6 372.8M597.5 376.5 597.5 372.8M602.3 376.5 602.3 372.8M607.2 376.5 607.2 372.8M612 376.5 612 372.8M616.9 376.5 616.9 372.8M621.7 376.5 621.7 372.8M626.6 376.5 626.6 372.8M631.4 376.5 631.4 372.8M636.3 376.5 636.3 372.8M641.1 376.5 641.1 372.8M646 376.5 646 372.8M650.8 376.5 650.8 372.8M655.7 376.5 655.7 372.8M660.5 376.5 660.5 372.8M665.4 376.5 665.4 372.8"/><path stroke="#e3f56b" d="M490.8 372.8 490.8 369M495.6 372.8 495.6 369M500.5 372.8 500.5 369M505.3 372.8 505.3 369M510.2 372.8 510.2 369M515 372.8 515 369M519.9 372.8 519.9 369M524.7 372.8 524.7 369M529.6 372.8 529.6 369M534.4 372.8 534.4 369M539.3 372.8 539.3 369M544.1 372.8 544.1 369M549 372.8 549 369M553.8 372.8 553.8 369M558.7 372.8 558.7 369M563.5 372.8 563.5 369M568.4 372.8 568.4 369M573.2 372.8 573.2 369M578.1 372.8 578.1 369M582.9 372.8 582.9 369M587.8 372.8 587.8 369M592.6 372.8 592.6 369M597.5 372.8 597.5 369M602.3 372.8 602.3 369M607.2 372.8 607.2 369M612 372.8 612 369M616.9 372.8 616.9 369M621.7 372.8 621.7 369M626.6 372.8 626.6 369M631.4 372.8 631.4 369M636.3 372.8 636.3 369M641.1 372.8 641.1 369M646 372.8 646 369M650.8 372.8 650.8 369M655.7 372.8 655.7 369M660.5 372.8 660.5 369M665.4 372.8 665.4 369"/><path stroke="#ffff66" d="M490.8 369 490.8 365.2M495.6 369 495.6 365.2M500.5 369 500.5 365.2M505.3 369 505.3 365.2M510.2 369 510.2 365.2M515 369 515 365.2M519.9 369 519.9 365.2M524.7 369 524.7 365.2M529.6 369 529.6 365.2M534.4 369 534.4 365.2M539.3 369 539.3 365.2M544.1 369 544.1 365.2M549 369 549 365.2M553.8 369 553.8 365.5M558.7 369 558.7 365.4M563.5 369 563.5 365.2M568.4 369 568.4 365.2M573.2 369 573.2 365.2M578.1 369 578.1 365.2M582.9 369 582.9 365.2M587.8 369 587.8 365.2M592.6 369 592.6 365.2M597.5 369 597.5 365.2M602.3 369 602.3 365.2M607.2 369 607.2 365.2M612 369 612 365.2M616.9 369 616.9 365.2M621.7 369 621.7 365.2M626.6 369 626.6 365.2M631.4 369 631.4 365.2M636.3 369 636.3 365.2M641.1 369 641.1 365.2M646 369 646 365.2M650.8 369 650.8 365.2M655.7 369 655.7 365.2M660.5 369 660.5 365.2M665.4 369 665.4 365.2"/><path stroke="#fffd66" d="M490.8 365.2 490.8 361.5M495.6 365.2 495.6 361.5M500.5 365.2 500.5 361.5M505.3 365.2 505.3 361.5M510.2 365.2 510.2 361.5M515 365.2 515 361.5M519.9 365.2 519.9 361.5M524.7 365.2 524.7 361.5M529.6 365.2 529.6 361.5M534.4 365.2 534.4 361.5M539.3 365.2 539.3 361.5M544.1 365.2 544.1 362.6M549 365.2 549 364.6M563.5 365.2 563.5 364.1M568.4 365.2 568.4 361.9M573.2 365.2 573.2 361.5M578.1 365.2 578.1 361.5M582.9 365.2 582.9 361.5M587.8 365.2 587.8 361.5M592.6 365.2 592.6 361.5M597.5 365.2 597.5 361.5M602.3 365.2 602.3 361.5M607.2 365.2 607.2 361.5M612 365.2 612 361.5M616.9 365.2 616.9 361.5M621.7 365.2 621.7 361.5M626.6 365.2 626.6 361.5M631.4 365.2 631.4 361.5M636.3 365.2 636.3 361.5M641.1 365.2 641.1 361.5M646 365.2 646 361.5M650.8 365.2 650.8 361.5M655.7 365.2 655.7 361.5M660.5 365.2 660.5 361.5M665.4 365.2 665.4 361.5"/><path stroke="#fffa66" d="M490.8 361.5 490.8 357.7M495.6 361.5 495.6 357.7M500.5 361.5 500.5 357.7M505.3 361.5 505.3 357.7M510.2 361.5 510.2 357.7M515 361.5 515 357.7M519.9 361.5 519.9 357.7M524.7 361.5 524.7 357.7M529.6 361.5 529.6 357.7M534.4 361.5 534.4 357.7M539.3 361.5 539.3 359.2M573.2 361.5 573.2 358.7M578.1 361.5 578.1 357.7M582.9 361.5 582.9 357.7M587.8 361.5 587.8 357.7M592.6 361.5 592.6 357.7M597.5 361.5 597.5 357.7M602.3 361.5 602.3 357.7M607.2 361.5 607.2 357.7M612 361.5 612 357.7M616.9 361.5 616.9 357.7M621.7 361.5 621.7 357.7M626.6 361.5 626.6 357.7M631.4 361.5 631.4 357.7M636.3 361.5 636.3 357.7M641.1 361.5 641.1 357.7M646 361.5 646 357.7M650.8 361.5 650.8 357.7M655.7 361.5 655.7 357.7M660.5 361.5 660.5 357.7M665.4 361.5 665.4 357.7"/><path stroke="#ffe266" d="M490.8 357.7 490.8 354M495.6 357.7 495.6 354M500.5 357.7 500.5 354M505.3 357.7 505.3 354M510.2 357.7 510.2 354M515 357.7 515 354M519.9 357.7 519.9 354M524.7 357.7 524.7 354M529.6 357.7 529.6 354M534.4 357.7 534.4 354.6M578.1 357.7 578.1 354.6M582.9 357.7 582.9 354M587.8 357.7 587.8 354M592.6 357.7 592.6 354M597.5 357.7 597.5 354M602.3 357.7 602.3 354M607.2 357.7 607.2 354M612 357.7 612 354M616.9 357.7 616.9 354M621.7 357.7 621.7 354M626.6 357.7 626.6 354M631.4 357.7 631.4 354M636.3 357.7 636.3 354M641.1 357.7 641.1 354M646 357.7 646 354M650.8 357.7 650.8 354M655.7 357.7 655.7 354M660.5 357.7 660.5 354M665.4 357.7 665.4 354"/><path stroke="#ffa266" d="M490.8 354 490.8 350.2M495.6 354 495.6 350.2M500.5 354 500.5 350.2M505.3 354 505.3 350.2M510.2 354 510.2 350.2M515 354 515 350.2M519.9 354 519.9 350.2M524.7 354 524.7 350.2M529.6 354 529.6 350.2M582.9 354 582.9 350.2M587.8 354 587.8 350.2M592.6 354 592.6 350.2M597.5 354 597.5 350.2M602.3 354 602.3 350.2M607.2 354 607.2 350.2M612 354 612 350.2M616.9 354 616.9 350.2M621.7 354 621.7 350.2M626.6 354 626.6 350.2M631.4 354 631.4 350.2M636.3 354 636.3 350.2M641.1 354 641.1 350.2M646 354 646 350.2M650.8 354 650.8 350.2M655.7 354 655.7 350.2M660.5 354 660.5 350.2M665.4 354 665.4 350.2"/><path stroke="#fd8066" d="M490.8 350.2 490.8 346.4M495.6 350.2 495.6 346.4M500.5 350.2 500.5 346.4M505.3 350.2 505.3 346.4M510.2 350.2 510.2 346.4M515 350.2 515 346.4M519.9 350.2 519.9 346.4M524.7 350.2 524.7 346.4M529.6 350.2 529.6 348.9M582.9 350.2 582.9 349.7M587.8 350.2 587.8 346.4M592.6 350.2 592.6 346.4M597.5 350.2 597.5 346.4M602.3 350.2 602.3 346.4M607.2 350.2 607.2 346.4M612 350.2 612 346.4M616.9 350.2 616.9 346.4M621.7 350.2 621.7 346.4M626.6 350.2 626.6 346.4M631.4 350.2 631.4 346.4M636.3 350.2 636.3 346.4M641.1 350.2 641.1 346.4M646 350.2 646 346.4M650.8 350.2 650.8 346.4M655.7 350.2 655.7 346.4M660.5 350.2 660.5 346.4M665.4 350.2 665.4 346.4"/><path stroke="#fb7766" d="M490.8 346.4 490.8 342.7M495.6 346.4 495.6 342.7M500.5 346.4 500.5 342.7M505.3 346.4 505.3 342.7M510.2 346.4 510.2 342.7M515 346.4 515 342.7M519.9 346.4 519.9 342.7M524.7 346.4 524.7 342.7M587.8 346.4 587.8 344M592.6 346.4 592.6 342.7M597.5 346.4 597.5 342.7M602.3 346.4 602.3 342.7M607.2 346.4 607.2 342.7M612 346.4 612 342.7M616.9 346.4 616.9 342.7M621.7 346.4 621.7 342.7M626.6 346.4 626.6 342.7M631.4 346.4 631.4 342.7M636.3 346.4 636.3 342.7M641.1 346.4 641.1 342.7M646 346.4 646 342.7M650.8 346.4 650.8 342.7M655.7 346.4 655.7 342.7M660.5 346.4 660.5 342.7M665.4 346.4 665.4 342.7"/><path stroke="#f87666" d="M490.8 342.7 490.8 338.9M495.6 342.7 495.6 338.9M500.5 342.7 500.5 338.9M505.3 342.7 505.3 338.9M510.2 342.7 510.2 338.9M515 342.7 515 338.9M519.9 342.7 519.9 338.9M524.7 342.7 524.7 341.7M592.6 342.7 592.6 338.9M597.5 342.7 597.5 338.9M602.3 342.7 602.3 338.9M607.2 342.7 607.2 338.9M612 342.7 612 338.9M616.9 342.7 616.9 338.9M621.7 342.7 621.7 338.9M626.6 342.7 626.6 338.9M631.4 342.7 631.4 338.9M636.3 342.7 636.3 338.9M641.1 342.7 641.1 338.9M646 342.7 646 338.9M650.8 342.7 650.8 338.9M655.7 342.7 655.7 338.9M660.5 342.7 660.5 338.9M665.4 342.7 665.4 338.9"/><path stroke="#f57466" d="M490.8 338.9 490.8 335.2M495.6 338.9 495.6 335.2M500.5 338.9 500.5 335.2M505.3 338.9 505.3 335.2M510.2 338.9 510.2 335.2M515 338.9 515 335.2M519.9 338.9 519.9 335.2M592.6 338.9 592.6 337.6M597.5 338.9 597.5 335.2M602.3 338.9 602.3 335.2M607.2 338.9 607.2 335.2M612 338.9 612 335.2M616.9 338.9 616.9 335.2M621.7 338.9 621.7 335.2M626.6 338.9 626.6 335.2M631.4 338.9 631.4 335.2M636.3 338.9 636.3 335.2M641.1 338.9 641.1 335.2M646 338.9 646 335.2M650.8 338.9 650.8 335.2M655.7 338.9 655.7 335.2M660.5 338.9 660.5 335.2M665.4 338.9 665.4 335.2"/><path stroke="#f27366" d="M490.8 335.2 490.8 331.4M495.6 335.2 495.6 331.4M500.5 335.2 500.5 331.4M505.3 335.2 505.3 331.4M510.2 335.2 510.2 331.4M515 335.2 515 331.4M519.9 335.2 519.9 333.2M597.5 335.2 597.5 331.4M602.3 335.2 602.3 331.4M607.2 335.2 607.2 331.4M612 335.2 612 331.4M616.9 335.2 616.9 331.4M621.7 335.2 621.7 331.4M626.6 335.2 626.6 331.4M631.4 335.2 631.4 331.4M636.3 335.2 636.3 331.4M641.1 335.2 641.1 331.4M646 335.2 646 331.4M650.8 335.2 650.8 331.4M655.7 335.2 655.7 331.4M660.5 335.2 660.5 331.4M665.4 335.2 665.4 331.4"/><path stroke="#ef7266" d="M490.8 331.4 490.8 327.6M495.6 331.4 495.6 327.6M500.5 331.4 500.5 327.6M505.3 331.4 505.3 327.6M510.2 331.4 510.2 327.6M515 331.4 515 327.6M597.5 331.4 597.5 330.7M602.3 331.4 602.3 327.6M607.2 331.4 607.2 327.6M612 331.4 612 327.6M616.9 331.4 616.9 327.6M621.7 331.4 621.7 327.6M626.6 331.4 626.6 327.6M631.4 331.4 631.4 327.6M636.3 331.4 636.3 327.6M641.1 331.4 641.1 327.6M646 331.4 646 327.6M650.8 331.4 650.8 327.6M655.7 331.4 655.7 327.6M660.5 331.4 660.5 327.6M665.4 331.4 665.4 327.6"/><path stroke="#ea7166" d="M490.8 327.6 490.8 323.9M495.6 327.6 495.6 323.9M500.5 327.6 500.5 323.9M505.3 327.6 505.3 323.9M510.2 327.6 510.2 323.9M515 327.6 515 323.9M602.3 327.6 602.3 323.9M607.2 327.6 607.2 323.9M612 327.6 612 323.9M616.9 327.6 616.9 323.9M621.7 327.6 621.7 323.9M626.6 327.6 626.6 323.9M631.4 327.6 631.4 323.9M636.3 327.6 636.3 323.9M641.1 327.6 641.1 323.9M646 327.6 646 323.9M650.8 327.6 650.8 323.9M655.7 327.6 655.7 323.9M660.5 327.6 660.5 323.9M665.4 327.6 665.4 323.9"/><path stroke="#e57066" d="M490.8 323.9 490.8 320.1M495.6 323.9 495.6 320.1M500.5 323.9 500.5 320.1M505.3 323.9 505.3 320.1M510.2 323.9 510.2 320.1M515 323.9 515 323.6M602.3 323.9 602.3 323.2M607.2 323.9 607.2 320.1M612 323.9 612 320.1M616.9 323.9 616.9 320.1M621.7 323.9 621.7 320.1M626.6 323.9 626.6 320.1M631.4 323.9 631.4 320.1M636.3 323.9 636.3 320.1M641.1 323.9 641.1 320.1M646 323.9 646 320.1M650.8 323.9 650.8 320.1M655.7 323.9 655.7 320.1M660.5 323.9 660.5 320.1M665.4 323.9 665.4 320.1"/><path stroke="#e06f66" d="M490.8 320.1 490.8 316.4M495.6 320.1 495.6 316.4M500.5 320.1 500.5 316.4M505.3 320.1 505.3 316.4M510.2 320.1 510.2 316.4M607.2 320.1 607.2 316.4M612 320.1 612 316.4M616.9 320.1 616.9 316.4M621.7 320.1 621.7 316.4M626.6 320.1 626.6 316.4M631.4 320.1 631.4 316.4M636.3 320.1 636.3 316.4M641.1 320.1 641.1 316.4M646 320.1 646 316.4M650.8 320.1 650.8 316.4M655.7 320.1 655.7 316.4M660.5 320.1 660.5 316.4M665.4 320.1 665.4 316.4"/><path stroke="#dc6e66" d="M490.8 316.4 490.8 312.6M495.6 316.4 495.6 312.6M500.5 316.4 500.5 312.6M505.3 316.4 505.3 312.6M510.2 316.4 510.2 312.7M607.2 316.4 607.2 315.3M612 316.4 612 312.6M616.9 316.4 616.9 312.6M621.7 316.4 621.7 312.6M626.6 316.4 626.6 312.6M631.4 316.4 631.4 312.6M636.3 316.4 636.3 312.6M641.1 316.4 641.1 312.6M646 316.4 646 312.6M650.8 316.4 650.8 312.6M655.7 316.4 655.7 312.6M660.5 316.4 660.5 312.6M665.4 316.4 665.4 312.6"/><path stroke="#d66d66" d="M490.8 312.6 490.8 308.8M495.6 312.6 495.6 308.8M500.5 312.6 500.5 308.8M505.3 312.6 505.3 308.8M612 312.6 612 308.8M616.9 312.6 616.9 308.8M621.7 312.6 621.7 308.8M626.6 312.6 626.6 308.8M631.4 312.6 631.4 308.8M636.3 312.6 636.3 308.8M641.1 312.6 641.1 308.8M646 312.6 646 308.8M650.8 312.6 650.8 308.8M655.7 312.6 655.7 308.8M660.5 312.6 660.5 308.8M665.4 312.6 665.4 308.8"/><path stroke="#d16d66" d="M490.8 308.8 490.8 305.1M495.6 308.8 495.6 305.1M500.5 308.8 500.5 305.1M505.3 308.8 505.3 305.1M612 308.8 612 307.1M616.9 308.8 616.9 305.1M621.7 308.8 621.7 305.1M626.6 308.8 626.6 305.1M631.4 308.8 631.4 305.1M636.3 308.8 636.3 305.1M641.1 308.8 641.1 305.1M646 308.8 646 305.1M650.8 308.8 650.8 305.1M655.7 308.8 655.7 305.1M660.5 308.8 660.5 305.1M665.4 308.8 665.4 305.1"/><path stroke="#cc6b66" d="M490.8 305.1 490.8 301.3M495.6 305.1 495.6 301.3M500.5 305.1 500.5 301.3M505.3 305.1 505.3 301.3M616.9 305.1 616.9 301.3M621.7 305.1 621.7 301.3M626.6 305.1 626.6 301.3M631.4 305.1 631.4 301.3M636.3 305.1 636.3 301.3M641.1 305.1 641.1 301.3M646 305.1 646 301.3M650.8 305.1 650.8 301.3M655.7 305.1 655.7 301.3M660.5 305.1 660.5 301.3M665.4 305.1 665.4 301.3"/><path stroke="#c76b66" d="M490.8 301.3 490.8 297.5M495.6 301.3 495.6 297.5M500.5 301.3 500.5 297.5M505.3 301.3 505.3 300.3M616.9 301.3 616.9 298.6M621.7 301.3 621.7 297.5M626.6 301.3 626.6 297.5M631.4 301.3 631.4 297.5M636.3 301.3 636.3 297.5M641.1 301.3 641.1 297.5M646 301.3 646 297.5M650.8 301.3 650.8 297.5M655.7 301.3 655.7 297.5M660.5 301.3 660.5 297.5M665.4 301.3 665.4 297.5"/><path stroke="#c16a66" d="M490.8 297.5 490.8 293.8M495.6 297.5 495.6 293.8M500.5 297.5 500.5 293.8M621.7 297.5 621.7 293.8M626.6 297.5 626.6 293.8M631.4 297.5 631.4 293.8M636.3 297.5 636.3 293.8M641.1 297.5 641.1 293.8M646 297.5 646 293.8M650.8 297.5 650.8 293.8M655.7 297.5 655.7 293.8M660.5 297.5 660.5 293.8M665.4 297.5 665.4 293.8"/><path stroke="#bc6966" d="M490.8 293.8 490.8 290M495.6 293.8 495.6 290M500.5 293.8 500.5 290M621.7 293.8 621.7 290M626.6 293.8 626.6 290M631.4 293.8 631.4 290M636.3 293.8 636.3 290M641.1 293.8 641.1 290M646 293.8 646 290M650.8 293.8 650.8 290M655.7 293.8 655.7 290M660.5 293.8 660.5 290M665.4 293.8 665.4 290"/><path stroke="#b66866" d="M490.8 290 490.8 286.3M495.6 290 495.6 286.3M500.5 290 500.5 287.7M621.7 290 621.7 290M626.6 290 626.6 286.3M631.4 290 631.4 286.3M636.3 290 636.3 286.3M641.1 290 641.1 286.3M646 290 646 286.3M650.8 290 650.8 286.3M655.7 290 655.7 286.3M660.5 290 660.5 286.3M665.4 290 665.4 286.3"/><path stroke="#b26766" d="M490.8 286.3 490.8 282.5M495.6 286.3 495.6 282.5M626.6 286.3 626.6 282.5M631.4 286.3 631.4 282.5M636.3 286.3 636.3 282.5M641.1 286.3 641.1 282.5M646 286.3 646 282.5M650.8 286.3 650.8 282.5M655.7 286.3 655.7 282.5M660.5 286.3 660.5 282.5M665.4 286.3 665.4 282.5"/><path stroke="#ac6666" d="M490.8 282.5 490.8 280M495.6 282.5 495.6 280M626.6 282.5 626.6 281.3M631.4 282.5 631.4 280M636.3 282.5 636.3 280M641.1 282.5 641.1 280M646 282.5 646 280M650.8 282.5 650.8 280M655.7 282.5 655.7 280M660.5 282.5 660.5 280M665.4 282.5 665.4 280"/></g><g fill="none" stroke-width="0.62"><path stroke="#222282" d="M619.5 455.5l2.2-1.5 2.5-1.3 2.4-1.1M641.1 452.6l2.5 1.6 1.6 1.3M598.9 455.5l1-1.3 2.4-3M655.7 452l1.8 3.5M583.7 455.5l1.7-2.3 2.4-3.3M569.7 455.5l1.1-1.4 2.4-3.3M555.9 455.5l.4-.4 7.2-9M541.6 455.5l2.5-2.8 2.5-2.7 2.4-2.7M526.7 455.5l.5-.5 7.2-7.5M511.8 455.5l.8-.9 2.4-2.5 2.5-2.5 2.4-2.3M498.5 455.5l2-2.4 2.4-2.7 2.4-2.6"/><path stroke="#20208d" d="M626.6 451.6l2.4-.7 2.4-.4 2.5-.1 2.4 .4 2.4 .7 2.4 1.1M602.3 451.2l2.5-2.8 2.4-2.6M587.8 449.9l2.4-3.2 2.4-3.1M573.2 450.8l2.5-3.2 2.4-3.2M490.8 451.1l2.4-3.1 2.4-2.9"/><path stroke="#1e1e98" d="M607.2 445.8l2.4-2.4 2.4-2.3M650.8 444.2l2.5 3.7 2.4 4.1M660.5 447l2.5 5.9 .9 2.6M578.1 444.4l2.4-3.1 2.4-3M665.4 446.2l2.4 7.1 .7 2.2M563.5 446.1l2.5-3 2.4-2.9M549 447.3l4.8-5.4M534.4 447.5l2.5-2.4 2.4-2.4M519.9 447.3l2.4-2.3 2.4-2.2M505.3 447.8l4.9-4.9M495.6 445.1l2.5-2.7 2.4-2.5"/><path stroke="#1c1ca2" d="M612 441.1l4.9-3.9M592.6 443.6l2.5-3 2.4-2.8M553.8 441.9l2.5-2.6 2.4-2.7M539.3 442.7l2.4-2.3 2.4-2.4M524.7 442.8l2.5-2.2 2.4-2.2M510.2 442.9l2.4-2.2 2.4-2.1"/><path stroke="#1a1aad" d="M616.9 437.2l2.4-1.5 2.4-1.4M646 438.5l2.4 2.6 2.4 3.1M597.5 437.8l2.4-2.8 2.4-2.6M655.7 437l2.4 4.7 2.4 5.3M582.9 438.3l2.5-3 2.4-3M568.4 440.2l4.8-5.8M544.1 438l2.5-2.3 2.4-2.4M529.6 438.4l2.4-2.1 2.4-2M515 438.6l4.9-4.1M500.5 439.9l2.4-2.4 2.4-2.2M490.8 438.8l2.4-2.7 2.4-2.5"/><path stroke="#1919ba" d="M621.7 434.3l2.5-1.1 2.4-.8M641.1 434.7l2.5 1.7 2.4 2.1M660.5 433.9l2.5 5.8 2.4 6.5M573.2 434.4l4.9-5.7M665.4 434.4l2.4 6.9 .8 2.5M558.7 436.6l2.4-2.7 2.4-2.6M549 433.3l4.8-4.6M534.4 434.3l4.9-4.1M519.9 434.5l4.8-3.8M505.3 435.3l2.5-2.1 2.4-1.9M495.6 433.6l4.9-4.5"/><path stroke="#1919c8" d="M626.6 432.4l2.4-.4 2.4-.2 2.5 .1 2.4 .6 2.4 .9 2.4 1.3M602.3 432.4l2.5-2.5 2.4-2.3M587.8 432.3l4.8-5.6M563.5 431.3l2.5-2.6 2.4-2.6M539.3 430.2l2.4-2.1 2.4-2M524.7 430.7l2.5-1.8 2.4-1.8M510.2 431.3l2.4-1.9 2.4-1.8M587.8 429.4l2.4 .2 2.4 0 2.5-.1 2.4-.3"/><path stroke="#1919d6" d="M607.2 427.6l2.4-2.2 2.4-2M650.8 429.2l2.5 3.6 2.4 4.2M592.6 426.7l4.9-5.3M578.1 428.7l4.8-5.6M568.4 426.1l2.4-2.7 2.4-2.6M553.8 428.7l4.9-4.7M544.1 426.1l2.5-2 2.4-2M529.6 427.1l2.4-1.8 2.4-1.7M515 427.6l2.5-1.7 2.4-1.7M500.5 429.1l2.4-2 2.4-1.8M490.8 428.8l2.4-2.3 2.4-2.2M578.1 426.4l2.4 1.1 2.4 .8 2.5 .6 2.4 .5M597.5 429.2l2.4-.5 2.4-.7 2.5-.8 2.4-1 2.4-1.1 2.4-1.2"/><path stroke="#1919e6" d="M612 423.4l2.5-1.7 2.4-1.6M646 423.3l2.4 2.7 2.4 3.2M655.7 423.9l2.4 4.7 2.4 5.3M582.9 423.1l4.9-5.3M660.5 422.3l2.5 5.7 2.4 6.4M665.4 423.7l2.4 6.8 .8 2.4M558.7 424l2.4-2.4 2.4-2.3M549 422.1l2.4-2.1 2.4-2M534.4 423.6l2.5-1.8 2.4-1.7M519.9 424.2l2.4-1.6 2.4-1.5M505.3 425.3l2.5-1.8 4.8-3.2 2.4-1.4M495.6 424.3l2.5-2 2.4-1.8M573.2 423.6l2.5 1.5 2.4 1.3M612 423.9l2.5-1.4 2.4-1.4"/><path stroke="#1919f2" d="M616.9 420.1l2.4-1.4 2.4-1.1M641.1 419.2l2.5 1.9 2.4 2.2M597.5 421.4l2.4-2.5 2.4-2.3M573.2 420.8l2.5-2.5 2.4-2.6M563.5 419.3l4.9-4.7M553.8 418l4.9-4.1M539.3 420.1l2.4-1.7 2.4-1.8M524.7 421.1l2.5-1.5 7.2-4.5M515 418.9l2.5-1.4 2.4-1.4M500.5 420.5l2.4-1.7 2.4-1.5M490.8 420.7l2.4-2 2.4-1.9M568.4 419.9l2.4 2 2.4 1.7M616.9 421.1l2.4-1.5 2.4-1.6 2.5-1.7 2.4-1.7"/><path stroke="#1919f6" d="M621.7 417.6l2.5-.9 2.4-.6 2.4-.3 2.4 0 2.5 .3 2.4 .7 2.4 1 2.4 1.4M602.3 416.6l4.9-4.3M650.8 416.1l2.5 3.7 2.4 4.1M587.8 417.8l2.4-2.6 2.4-2.5M578.1 415.7l4.8-5M568.4 414.6l2.4-2.4 2.4-2.3M544.1 416.6l2.5-1.7 2.4-1.8M534.4 415.1l2.5-1.4 2.4-1.5M519.9 416.1l4.8-2.6M505.3 417.3l2.5-1.5 4.8-2.6 2.4-1.2M495.6 416.8l2.5-1.6 2.4-1.6M490.8 414.2l2.4-1.7 2.4-1.6M563.5 415.3l2.5 2.4 2.4 2.2M626.6 414.6l2.4-1.7 2.4-1.8"/><path stroke="#1919fa" d="M607.2 412.3l2.4-2 2.4-1.7M592.6 412.7l2.5-2.5 2.4-2.3M655.7 412.4l2.4 4.7 2.4 5.2M582.9 410.7l4.9-4.9M660.5 411.9l2.5 5.6 2.4 6.2M665.4 413.9l2.4 6.6 .8 2.4M558.7 413.9l4.8-4.2M549 413.1l2.4-1.7 2.4-1.8M539.3 412.2l4.8-3M524.7 413.5l2.5-1.2 2.4-1.2 2.4-1.3 2.4-1.2M515 412l2.5-1.1 2.4-1.1M500.5 413.6l4.8-2.6 2.5-1.2 2.4-1.1M495.6 410.9l2.5-1.4 2.4-1.2M631.4 411.1l2.5-1.7 2.4-1.8"/><path stroke="#1919fd" d="M612 408.6l2.5-1.6 2.4-1.4M646 410.2l2.4 2.7 2.4 3.2M597.5 407.9l2.4-2.3 2.4-2.1M573.2 409.9l2.5-2.3 2.4-2.4M563.5 409.7l2.5-2.1 2.4-2.1M553.8 409.6l2.5-1.9 2.4-1.8M544.1 409.2l2.5-1.5 2.4-1.5M534.4 408.6l2.5-1.2 2.4-1.2M519.9 409.8l2.4-1 2.4-1.1 2.5-1 2.4-1M510.2 408.7l2.4-1 2.4-.9 2.5-.9 2.4-.9M500.5 408.3l2.4-1.2 2.4-1M490.8 409l4.8-2.8M578.1 408.1l2.4 .4 2.4 .3 2.5 0 2.4-.2 2.4-.3 2.4-.6 2.5-.7 2.4-1M558.7 409.9l2.4 2.8 2.4 2.6M636.3 407.6l2.4-1.6 2.4-1.7"/><path stroke="#2d639d" d="M616.9 405.6l2.4-1.2 2.4-.9 2.5-.7 2.4-.5M636.3 403.4l2.4 1.1 2.4 1.5 2.5 1.9 2.4 2.3M602.3 403.5l2.5-2.1 2.4-1.8M650.8 404.7l2.5 3.6 2.4 4.1M587.8 405.8l2.4-2.3 2.4-2.4M578.1 405.2l4.8-4.6M568.4 405.5l2.4-2.2 2.4-2.1M665.4 404.8l2.4 6.4 .8 2.3M558.7 405.9l4.8-3.8M549 406.2l2.4-1.6 2.4-1.5 2.5-1.7 2.4-1.6M539.3 406.2l4.8-2.6 2.5-1.3 2.4-1.3M529.6 405.7l4.8-2 2.5-1 2.4-1.1M519.9 405l4.8-1.6 2.5-.8 2.4-.8M505.3 406.1l2.5-.9 2.4-.9 2.4-.8 2.4-.7M495.6 406.2l2.5-1.1 4.8-2 2.4-.8M490.8 404.9l2.4-1.3 2.4-1.1M568.4 404.1l2.4 1.3 2.4 1.1 2.5 .9 2.4 .7M597.5 406l2.4-1 2.4-1.3 2.5-1.4 2.4-1.5M553.8 403.5l2.5 3.3 2.4 3.1M641.1 404.3l2.5-1.5 2.4-1.5"/><path stroke="#34b234" d="M626.6 402.3l2.4-.2 2.4 .2 2.5 .4 2.4 .7M607.2 399.6l2.4-1.8 2.4-1.6M592.6 401.1l2.5-2.2 2.4-2.2M655.7 402.3l2.4 4.5 2.4 5.1M582.9 400.6l2.5-2.2 2.4-2.2M660.5 402.5l2.5 5.4 2.4 6M573.2 401.2l2.5-2.1 2.4-2.2M563.5 402.1l2.5-1.9 2.4-1.9M558.7 399.8l4.8-3.4M549 401l4.8-2.8M539.3 401.6l2.4-1 2.4-1.1 2.5-1.2 2.4-1.2M529.6 401.8l2.4-.8 2.4-.9 2.5-.8 2.4-.9M515 402.8l2.5-.7 2.4-.7 4.8-1.2 2.5-.6 2.4-.7M505.3 402.3l2.5-.7 7.2-1.8 2.5-.5 2.4-.4M495.6 402.5l2.5-.9 2.4-.8 4.8-1.4 2.5-.5 2.4-.4M490.8 401.5l2.4-1.1 2.4-.9 2.5-.7 2.4-.6M563.5 400.8l2.5 1.7 2.4 1.6M607.2 400.8l2.4-1.7 2.4-1.8M646 401.3l2.4-1.3 2.4-1.2"/><path stroke="#37b532" d="M612 396.2l2.5-1.4 2.4-1.3M646 398.9l2.4 2.7 2.4 3.1M597.5 396.7l4.8-4M587.8 396.2l4.8-4.4M578.1 396.9l4.8-4.2M568.4 398.3l2.4-2 2.4-1.9M665.4 396.3l2.4 6.1 .8 2.2M563.5 396.4l2.5-1.8 2.4-1.8M553.8 398.2l2.5-1.5 2.4-1.5M549 397.1l2.4-1.2 2.4-1.3M539.3 398.4l2.4-.9 2.4-1 2.5-1 2.4-1.1M529.6 398.9l2.4-.6 2.4-.7 2.5-.7 7.2-2.4M519.9 398.9l4.8-1 2.5-.5 7.2-1.5 2.5-.6 2.4-.7M510.2 398.5l2.4-.5 2.4-.3 2.5-.4 4.8-.6 2.4-.4 2.5-.3 7.2-1.2M500.5 398.2l2.4-.6 4.9-.8 2.4-.3 2.4-.2 2.4-.3 9.7-.8M490.8 398.6l2.4-.9 2.4-.7 2.5-.5 2.4-.5 2.4-.4 2.4-.2 2.5-.3 2.4-.1M490.8 396l2.4-.7 2.4-.5M558.7 396.6l2.4 2.2 2.4 2M612 397.3l2.5-1.9 2.4-2M549 396.3l2.4 3.7 2.4 3.5M650.8 398.8l2.5-1.1 2.4-.8 2.4-.7 2.4-.4 2.5-.2 2.4 .1 2.4 .4 .8 .3"/><path stroke="#39b730" d="M616.9 393.5l2.4-1 2.4-.9 2.5-.6 2.4-.3M636.3 392.1l2.4 1.1 2.4 1.5 2.5 1.9 2.4 2.3M602.3 392.7l2.5-1.9 2.4-1.7M650.8 394.7l2.5 3.6 2.4 4M592.6 391.8l4.9-4.1M655.7 393.2l2.4 4.4 2.4 4.9M582.9 392.7l2.5-2.1 2.4-2.1M660.5 393.8l2.5 5.2 2.4 5.8M573.2 394.4l2.5-2 2.4-2M568.4 392.8l4.8-3.6M558.7 395.2l2.4-1.5 2.4-1.6 2.5-1.7 2.4-1.6M553.8 394.6l2.5-1.3 4.8-2.8 2.4-1.5M549 394.4l2.4-1.1 2.4-1.2 2.5-1.2 2.4-1.3M544.1 394.5l2.5-.9 4.8-2 2.4-1.1M539.3 394.6l4.8-1.4 2.5-.8 2.4-.9M534.4 394.8l2.5-.5 4.8-1.2 2.4-.7 2.5-.7 2.4-.9M524.7 395.2l2.5-.2 4.8-.6 4.9-.8 4.8-1 2.4-.6 2.5-.7 2.4-.8M510.2 395l14.5-.6 2.5-.1 2.4-.2 2.4-.3 2.4-.2 4.9-.8 2.4-.5 2.4-.6 2.5-.7 2.4-.7M495.6 394.8l2.5-.4 2.4-.3 4.8-.4 2.5 0 2.4-.1 2.4 0 2.4 .1 9.7 0 7.3-.3 7.3-.9 4.8-1M490.8 393.5l2.4-.5 4.9-.6 2.4-.2 7.3 0 4.8 .2 2.4 .2 9.7 .4 2.5 0 7.2-.3 4.9-.6 2.4-.4 2.4-.6M519.9 391.8l2.4 .1 2.4 .2 2.5 .1 2.4 0 4.8-.2 2.5-.2 2.4-.3M573.2 392.7l2.5 .4 2.4 .1 2.4-.1 2.4-.3 2.5-.5 2.4-.7 2.4-.9 2.4-1.1M616.9 393.4l4.8-4.2"/><path stroke="#3bb92e" d="M626.6 390.7l2.4-.1 2.4 .2 2.5 .5 2.4 .8M607.2 389.1l2.4-1.7 2.4-1.4M646 389l2.4 2.7 2.4 3M587.8 388.5l2.4-2.1 2.4-2M578.1 390.4l4.8-4M573.2 389.2l2.5-1.9 2.4-1.9M665.4 388.1l2.4 5.8 .8 2.1M568.4 388.8l2.4-1.7 2.4-1.8M563.5 389l2.5-1.5 2.4-1.6M558.7 389.6l2.4-1.3 2.4-1.4M553.8 390.5l2.5-1.1 7.2-3.9M549 391.5l4.8-2 2.5-1.1 2.4-1.2M549 390.8l4.8-1.8 2.5-1.1 2.4-1.2M549 390.5l4.8-1.8 2.5-1.1 2.4-1.1M549 390.3l4.8-1.8 2.5-1.1 2.4-1.1M544.1 391.5l2.5-.7 2.4-.7 4.8-1.8 2.5-1.1 2.4-1.1M544.1 391.1l2.5-.6 2.4-.7 4.8-1.8 2.5-1.1 2.4-1.2M490.8 391l4.8-.6 2.5-.1 2.4 0 4.8 .2 9.7 .8 2.5 .3 2.4 .2M539.3 391.5l2.4-.4 2.4-.5 2.5-.6 2.4-.7 2.4-.8 2.4-1M490.8 388.3l2.4-.2 2.4-.1 4.9 .2 4.8 .4 4.9 .6 2.4 .4 7.3 .9 2.4 .2 2.4 .3 4.9 .2 2.4 0 4.9-.2 2.4-.3 2.4-.4 2.4-.5 2.5-.5 4.8-1.6 2.4-1M515 388.1l4.9 .8 4.8 .6 4.9 .4 4.8 0 2.5-.1 2.4-.2 4.8-.8 2.5-.6 2.4-.7M529.6 388.2l2.4 .1 2.4 0 4.9-.2 2.4-.3 2.4-.5M563.5 389.2l2.5 1.2 2.4 1 2.4 .8 2.4 .5M592.6 389.6l2.5-1.3 2.4-1.4M553.8 391.5l4.9 5.1M621.7 389.2l2.5-2.2 2.4-2.3M544.1 388.2l2.5 4.1 2.4 4"/><path stroke="#3dbc2b" d="M612 386l2.5-1.4 2.4-1.1M641.1 385l2.5 1.8 2.4 2.2M597.5 387.7l4.8-3.8M650.8 385.9l2.5 3.4 2.4 3.9M592.6 384.4l2.5-2 2.4-1.9M655.7 385l2.4 4.1 2.4 4.7M582.9 386.4l2.5-2 2.4-2M660.5 385.8l2.5 5 2.4 5.5M578.1 385.4l4.8-3.8M573.2 385.3l2.5-1.7 2.4-1.9M568.4 385.9l2.4-1.7 2.4-1.6M563.5 386.9l2.5-1.5 2.4-1.5M563.5 385.5l2.5-1.5 2.4-1.5M558.7 387.2l2.4-1.2 2.4-1.4 2.5-1.4 2.4-1.5M558.7 386.7l2.4-1.2 2.4-1.3 2.5-1.5 2.4-1.5M558.7 386.5l4.8-2.6M558.7 386.3l4.8-2.6M558.7 386.1l2.4-1.3 2.4-1.4M558.7 385.7l2.4-1.3 2.4-1.4M553.8 387.5l2.5-1.1 2.4-1.2 2.4-1.3 2.4-1.5M553.8 386.7l2.5-1 4.8-2.6 2.4-1.5M490.8 385.3l2.4-.1 2.4 .1 4.9 .4 2.4 .3 7.3 1.2 2.4 .5 2.4 .4M549 387.5l2.4-.8 2.4-1 2.5-1.1 2.4-1.2M510.2 384.8l2.4 .6 2.4 .5 2.5 .5 2.4 .5 2.4 .4 7.3 .9M544.1 387.3l2.5-.5 2.4-.7 2.4-.8 2.4-1 2.5-1.1 2.4-1.2M519.9 384.4l4.8 1 2.5 .4 2.4 .3 4.8 .2 2.5 0 2.4-.1 2.4-.2 2.4-.4 2.5-.5 2.4-.7 2.4-.8 2.4-.9M558.7 386.1l2.4 1.7 2.4 1.4M597.5 386.9l2.4-1.6 2.4-1.8M549 385.5l2.4 3.1 2.4 2.9M626.6 384.7l4.8-4.6"/><path stroke="#58c92b" d="M616.9 383.5l2.4-1 2.4-.7 2.5-.6 2.4-.3 2.4-.1 2.4 .3 2.5 .5 2.4 .8 2.4 1.1 2.4 1.5M602.3 383.9l2.5-1.7 2.4-1.7 2.4-1.5 2.4-1.4M646 380.4l2.4 2.6 2.4 2.9M597.5 380.5l4.8-3.6M587.8 382.4l4.8-3.8M582.9 381.6l2.5-1.9 2.4-1.9M578.1 381.7l4.8-3.6M573.2 382.6l2.5-1.8 2.4-1.7M568.4 383.9l2.4-1.6 2.4-1.7 2.5-1.7 2.4-1.7M568.4 382.5l2.4-1.5 2.4-1.7M568.4 381.7l2.4-1.5 2.4-1.7M568.4 381.2l4.8-3.2M563.5 383.9l2.5-1.5 2.4-1.5 2.4-1.6 2.4-1.7M563.5 383.7l2.5-1.5 4.8-3.2 2.4-1.8M563.5 383.4l2.5-1.5 2.4-1.6 2.4-1.7 2.4-1.8M563.5 383l2.5-1.5 2.4-1.7M563.5 382.4l2.5-1.6 2.4-1.7M563.5 381.6l2.5-1.6 2.4-1.8M558.7 383.4l2.4-1.4 2.4-1.5 2.5-1.7 2.4-1.8M490.8 381.8l2.4 .1 2.4 .2 2.5 .3 2.4 .4 4.8 1 2.5 .5 2.4 .5M558.7 382l2.4-1.4 2.4-1.5M505.3 380.6l2.5 .7 2.4 .6 2.4 .7 2.4 .6 2.5 .7 2.4 .5M553.8 382.7l2.5-1.1 2.4-1.3 2.4-1.4 2.4-1.5M519.9 381.5l4.8 1.2 2.5 .5 4.8 .6 2.4 .2 4.9 0 2.4-.2 2.4-.3 2.5-.5 2.4-.6 2.4-.8 2.4-.9 2.5-1.1 2.4-1.2M529.6 380.6l2.4 .4 2.4 .3 2.5 .1 2.4 0 2.4-.1 2.4-.2 2.5-.4 2.4-.6M563.5 380.3l2.5 .7 2.4 .5 2.4 .3 2.4 0 2.5-.1 2.4-.4 2.4-.6 2.4-.8M553.8 382.2l2.5 2.1 2.4 1.8M602.3 383.5l2.5-1.9 2.4-2"/><path stroke="#77d82b" d="M612 377.6l2.5-1.3 2.4-1.1M641.1 376.5l2.5 1.8 2.4 2.1M602.3 376.9l2.5-1.7 2.4-1.6M650.8 378l2.5 3.3 2.4 3.7M592.6 378.6l2.5-1.9 2.4-1.9M655.7 377.4l2.4 3.9 2.4 4.5M587.8 377.8l4.8-3.8M660.5 378.1l2.5 4.7 2.4 5.3M582.9 378.1l2.5-1.9 2.4-1.9M665.4 380.1l2.4 5.4 .8 2M578.1 379.1l2.4-1.8 2.4-1.9M578.1 377.2l4.8-3.6M573.2 379.3l2.5-1.6 2.4-1.8M573.2 378.5l2.5-1.7 2.4-1.8M573.2 378l2.5-1.8 2.4-1.8M573.2 377.6l2.5-1.8 2.4-1.9M573.2 377.2l2.5-1.8 2.4-2M573.2 376.8l2.5-2 2.4-2M568.4 379.8l2.4-1.7 2.4-1.9M568.4 379.1l2.4-1.8 2.4-1.9M568.4 378.2l2.4-1.9 2.4-2M568.4 377l2.4-1.9 2.4-2.1M563.5 379.1l2.5-1.7 2.4-1.9M490.8 377.8l4.8 .6 2.5 .5 2.4 .5 4.8 1.2M563.5 377.4l2.5-1.7 2.4-1.9M505.3 377l2.5 .8 4.8 1.6 2.4 .7 2.5 .7 2.4 .7M558.7 378.4l2.4-1.4 2.4-1.5M519.9 378.2l4.8 1.4 2.5 .5 2.4 .5M549 380.1l2.4-.7 2.4-.9 2.5-1 2.4-1.2M529.6 377.4l4.8 .8 2.5 .3 2.4 .1 2.4 0 2.4-.2 2.5-.3 2.4-.5 2.4-.6 2.4-.8M558.7 378.2l2.4 1.2 2.4 .9M582.9 379.9l2.5-.9 2.4-1.2 2.4-1.4 2.4-1.5M549 377.4l2.4 2.5 2.4 2.3M607.2 379.6l2.4-2.2 2.4-2.3M544.1 378.7l2.5 3.5 2.4 3.3M631.4 380.1l2.5-2.2 2.4-2.3M539.3 379.3l2.4 4.5 2.4 4.4"/><path stroke="#a5e427" d="M616.9 375.2l2.4-.9 2.4-.7 2.5-.6 2.4-.3M631.4 372.8l2.5 .5 2.4 .8 2.4 1 2.4 1.4M607.2 373.6l2.4-1.5 2.4-1.4M646 372.8l2.4 2.4 2.4 2.8M597.5 374.8l2.4-1.8 2.4-1.7M592.6 374l2.5-1.8 2.4-1.9M587.8 374.3l2.4-1.9 2.4-1.8M582.9 375.4l2.5-1.8 2.4-1.9M582.9 373.6l2.5-1.9 2.4-1.9M578.1 375.9l2.4-1.8 2.4-1.9M578.1 375l2.4-1.8 2.4-1.9M578.1 374.4l4.8-3.8M578.1 373.9l4.8-4M578.1 373.4l2.4-2 2.4-2.2M578.1 372.8l2.4-2.1 2.4-2.2M573.2 376.2l2.5-2 2.4-2.1M573.2 375.4l2.5-2.1 2.4-2.2M573.2 374.3l2.5-2.1 2.4-2.3M573.2 373l2.5-2.2 2.4-2.3M568.4 375.5l2.4-1.9 2.4-2.1M568.4 373.8l2.4-2 2.4-2.1M490.8 373.3l2.4 .4 2.4 .5 2.5 .6 4.8 1.4 2.4 .8M563.5 375.5l2.5-1.7 2.4-1.9M505.3 372.8l2.5 1 7.2 2.7 2.5 .9 2.4 .8M558.7 376.3l2.4-1.3 2.4-1.5 2.5-1.7 2.4-1.9M519.9 374.4l2.4 .9 2.4 .7 2.5 .8 2.4 .6M553.8 376.2l2.5-1 2.4-1.1 2.4-1.3 2.4-1.5M529.6 373.8l2.4 .6 2.4 .5 2.5 .4 2.4 .3 2.4 .1 2.4-.1 2.5-.2 2.4-.4 2.4-.5 2.4-.7 2.5-.9 2.4-1M563.5 373.7l2.5 .3 2.4 0 2.4-.2 2.4-.3 2.5-.6 2.4-.8M553.8 375.3l2.5 1.6 2.4 1.3M592.6 374.9l2.5-1.7 2.4-1.9M612 375.1l2.5-2.4 2.4-2.5M636.3 375.6l2.4-2.2 2.4-2.1"/><path stroke="#d5f022" d="M626.6 372.7l2.4-.1 2.4 .2M612 370.7l2.5-1.2 2.4-1.1M641.1 369.2l2.5 1.6 2.4 2M602.3 371.3l2.5-1.7 2.4-1.6M650.8 370.9l2.5 3 2.4 3.5M597.5 370.3l2.4-1.8 2.4-1.7M655.7 370.3l2.4 3.7 2.4 4.1M592.6 370.6l2.5-1.9 2.4-1.8M660.5 370.8l2.5 4.3 2.4 5M587.8 371.7l4.8-3.8M665.4 372.1l2.4 5.1 .8 1.9M587.8 369.8l4.8-3.8M582.9 372.2l2.5-1.9 2.4-1.9M582.9 371.3l2.5-2 2.4-2M582.9 370.6l2.5-2.1 2.4-2.1M582.9 369.9l2.5-2.1 2.4-2.2M582.9 369.2l2.5-2.2 2.4-2.2M578.1 372.1l2.4-2.2 2.4-2.4M578.1 371.1l2.4-2.3 2.4-2.4M578.1 369.9l2.4-2.4 2.4-2.5M573.2 371.5l2.5-2.3 2.4-2.4M573.2 369.7l2.5-2.3 2.4-2.5M568.4 371.9l2.4-2 2.4-2.1M495.6 369.4l2.5 .8 2.4 .8 4.8 1.8M568.4 369.9l2.4-2 2.4-2.1M510.2 370.3l2.4 1.1 2.4 1 2.5 1 2.4 1M563.5 371.3l2.5-1.6 2.4-1.8M519.9 370.2l4.8 2 2.5 .8 2.4 .8M558.7 371.9l4.8-2.6 2.5-1.6 2.4-1.8M529.6 370l2.4 .8 2.4 .7 2.5 .5 2.4 .4 2.4 .2 2.4 .1 2.5 0 2.4-.3 2.4-.4 2.4-.6 2.5-.7 2.4-1 2.4-1.1 2.4-1.3M539.3 369.3l2.4 .4 2.4 .2 2.5 .1 2.4-.1 2.4-.2 2.4-.4 2.5-.7 2.4-.7M563.5 369.1l2.5-.2 2.4-.3M553.8 370.5l2.5 1.1 2.4 .9 2.4 .7 2.4 .5M578.1 372.1l2.4-1 2.4-1.2 2.5-1.4 2.4-1.6M549 371.6l2.4 2 2.4 1.7M597.5 371.3l2.4-2.1 2.4-2.2M544.1 371.8l2.5 2.9 2.4 2.7M616.9 370.2l4.8-5.2M539.3 371.2l2.4 3.8 2.4 3.7M641.1 371.3l4.9-4.1M534.4 369.7l4.9 9.6"/><path stroke="#ffff19" d="M616.9 368.4l2.4-.9 2.4-.8 2.5-.5 2.4-.4 2.4-.1 2.4 .1 2.5 .4 2.4 .7 2.4 1 2.4 1.3M607.2 368l2.4-1.5 2.4-1.4M646 366l2.4 2.2 2.4 2.7M602.3 366.8l2.5-1.7 2.4-1.6M597.5 366.9l4.8-3.6M592.6 367.9l2.5-1.8 2.4-1.9M592.6 366l2.5-2 2.4-1.9M587.8 368.4l4.8-4M587.8 367.3l2.4-2 2.4-2.1M587.8 366.4l2.4-2.1 2.4-2.2M587.8 365.6l2.4-2.2 2.4-2.3M582.9 368.5l2.5-2.3 2.4-2.4M582.9 367.5l2.5-2.4 2.4-2.5M582.9 366.4l2.5-2.5 2.4-2.6M578.1 368.5l2.4-2.5 2.4-2.6M578.1 366.8l2.4-2.5 2.4-2.7M573.2 367.8l2.5-2.4 2.4-2.4M490.8 368.1l2.4 .6 2.4 .7M573.2 365.8l2.5-2.4 2.4-2.5M500.5 366l2.4 1 2.4 1.1 2.5 1.1 2.4 1.1M568.4 367.9l2.4-2 2.4-2.1M510.2 365.5l4.8 2.4 2.5 1.2 2.4 1.1M568.4 365.9l2.4-1.9 2.4-2.1M519.9 365.7l4.8 2.4 2.5 1 2.4 .9M563.5 367.3l2.5-1.5 2.4-1.6M529.6 366.1l2.4 1 2.4 .9 2.5 .7 2.4 .6M558.7 367.9l2.4-1 2.4-1.2 2.5-1.3 2.4-1.6M539.3 366.2l2.4 .7 2.4 .4 2.5 .3 2.4 .1 2.4 0 2.4-.3 2.5-.4 2.4-.6 2.4-.8 2.4-1M549 366l2.4 .1 2.4 0 2.5-.2 2.4-.4 2.4-.6 2.4-.8M553.8 365.5l2.5 .1 2.4-.2 2.4-.3 2.4-.6M553.8 365.9l2.5 .4 2.4 .1 2.4 0 2.4-.3 2.5-.5 2.4-.6M549 365.5l2.4 1.1 2.4 .9 2.5 .7 2.4 .5 2.4 .3 2.4 .1M568.4 368.6l2.4-.5 2.4-.8 2.5-1 2.4-1.1M549 367.7l2.4 1.5 2.4 1.3M587.8 366.9l2.4-1.8 2.4-1.9M544.1 367l2.5 2.4 2.4 2.2M602.3 367l2.5-2.4 2.4-2.4M539.3 365.4l2.4 3.3 2.4 3.1M646 367.2l2.4-1.8 2.4-1.7"/><path stroke="#fffb19" d="M612 365.1l2.5-1.2 2.4-1.1 2.4-1 2.4-.8M641.1 362.7l2.5 1.5 2.4 1.8M607.2 363.5l2.4-1.5 2.4-1.4M650.8 364.2l2.5 2.8 2.4 3.3M602.3 363.3l2.5-1.7 2.4-1.6M655.7 363.4l2.4 3.5 2.4 3.9M597.5 364.2l2.4-1.9 2.4-1.8M660.5 363.5l2.5 4 2.4 4.6M597.5 362.1l4.8-3.8M665.4 364.1l2.4 4.8 .8 1.7M592.6 364.4l2.5-2 2.4-2M592.6 363.2l2.5-2.1 2.4-2.1M592.6 362.1l2.5-2.2 2.4-2.2M587.8 364.8l4.8-4.8M587.8 363.8l4.8-5M587.8 362.6l2.4-2.5 2.4-2.7M582.9 365l2.5-2.6 2.4-2.7M582.9 363.4l2.5-2.7 2.4-2.8M582.9 361.6l2.5-2.8 2.4-2.9M578.1 364.9l2.4-2.5 2.4-2.8M578.1 363l4.8-5.4M490.8 362.3l2.4 .8 2.4 .9 2.5 .9 2.4 1.1M573.2 363.8l2.5-2.4 2.4-2.4M505.3 362.9l2.5 1.3 2.4 1.3M573.2 361.9l2.5-2.3 2.4-2.4M515 363.1l2.5 1.3 2.4 1.3M568.4 364.2l2.4-1.9 2.4-2M524.7 363.8l2.5 1.2 2.4 1.1M568.4 362.8l2.4-1.7 2.4-1.9M529.6 362.2l2.4 1.2 2.4 1.1 2.5 1 2.4 .7M563.5 364.6l2.5-1.2 2.4-1.4 2.4-1.6 2.4-1.7M539.3 363.5l2.4 .9 2.4 .7 2.5 .5 2.4 .4M563.5 364.1l2.5-1 2.4-1.2 2.4-1.4 2.4-1.5M544.1 363.4l2.5 .9 2.4 .6 2.4 .4 2.4 .2M563.5 364.5l2.5-.7 2.4-1 2.4-1.1 2.4-1.4M544.1 362.6l2.5 1.1 2.4 .9 2.4 .8 2.4 .5M568.4 365l2.4-.9 2.4-1.1 2.5-1.2 2.4-1.5M544.1 362.7l2.5 1.5 2.4 1.3M578.1 365.2l2.4-1.4 2.4-1.5 2.5-1.8 2.4-1.9M544.1 364.1l2.5 1.9 2.4 1.7M592.6 363.2l2.5-2.1 2.4-2.3M539.3 361.7l2.4 2.7 2.4 2.6M607.2 362.2l4.8-5.4M621.7 365l2.5-2.7 2.4-2.7M534.4 362.8l2.5 4.3 2.4 4.1M650.8 363.7l2.5-1.5 2.4-1.4"/><path stroke="#fff819" d="M621.7 361l2.5-.6 2.4-.4 2.4-.2 2.4 0 2.5 .3 2.4 .6 2.4 .8 2.4 1.2M612 360.6l2.5-1.3 2.4-1.2 2.4-1 2.4-.9M646 359.8l2.4 2 2.4 2.4M607.2 360l2.4-1.6 2.4-1.5M650.8 357.9l2.5 2.6 2.4 2.9M602.3 360.5l2.5-1.7 2.4-1.8M602.3 358.3l2.5-1.9 2.4-1.8M597.5 360.4l4.8-4M597.5 359l4.8-4.2M592.6 361.1l2.5-2.3 2.4-2.4M592.6 360l2.5-2.4 2.4-2.5M592.6 358.8l2.5-2.6 2.4-2.6M587.8 361.3l2.4-2.7 2.4-2.8M587.8 359.7l2.4-2.8 2.4-2.9M587.8 357.9l2.4-2.9 2.4-3M582.9 359.6l2.5-2.8 2.4-3M578.1 360.9l2.4-2.6 2.4-2.8M578.1 359l2.4-2.7 2.4-2.8M495.6 358l2.5 1.2 4.8 2.4 2.4 1.3M510.2 360.2l2.4 1.5 2.4 1.4M573.2 360.3l2.5-2.2 2.4-2.4M515 357.9l2.5 1.6 2.4 1.5 4.8 2.8M573.2 359.2l2.5-2.1 2.4-2.3M524.7 359.4l2.5 1.5 2.4 1.3M573.2 358.7l2.5-2 2.4-2.1M529.6 358.5l2.4 1.5 2.4 1.3 2.5 1.2 2.4 1M573.2 359l2.5-1.8 2.4-2M534.4 358.5l2.5 1.5 2.4 1.3 2.4 1.2 2.4 .9M573.2 360.3l2.5-1.5 2.4-1.8M539.3 359.8l2.4 1.5 2.4 1.3M578.1 360.3l2.4-1.7 2.4-1.9M539.3 359.2l2.4 1.8 2.4 1.7M587.8 358.6l2.4-2.1 2.4-2.3M539.3 359.7l2.4 2.3 2.4 2.1M597.5 358.8l2.4-2.5 2.4-2.6M534.4 358.3l2.5 3.6 2.4 3.5M626.6 359.6l2.4-2.7 2.4-2.8M655.7 360.8l2.4-1.1 2.4-.9 2.5-.7 2.4-.3 2.4-.1 .8 .1M529.6 359.3l2.4 5.3 2.4 5.1"/><path stroke="#ffd319" d="M621.7 356.2l2.5-.7 2.4-.5 2.4-.3 2.4-.1 2.5 .2 2.4 .4 2.4 .7 2.4 .9 2.5 1.3 2.4 1.7M612 356.9l2.5-1.4 4.8-2.4 2.4-1M646 354l2.4 1.8 2.4 2.1M607.2 357l4.8-3.2M655.7 356.8l2.4 3.1 2.4 3.6M607.2 354.6l2.4-1.8 2.4-1.7M660.5 356.2l2.5 3.7 2.4 4.2M602.3 356.4l2.5-2 2.4-1.9M665.4 356.1l2.4 4.3 .8 1.6M602.3 354.8l2.5-2.1 2.4-2.1M597.5 357.7l2.4-2.2 2.4-2.3M597.5 356.4l2.4-2.3 2.4-2.4M597.5 355.1l2.4-2.5 2.4-2.6M592.6 357.4l2.5-2.7 2.4-2.8M592.6 355.8l2.5-2.8 2.4-3M592.6 354l2.5-3 2.4-3.1M587.8 355.9l2.4-3 2.4-3.1M582.9 357.6l2.5-2.9 2.4-3.1M582.9 355.5l2.5-2.9 2.4-3.1M490.8 355.9l2.4 1 2.4 1.1M578.1 357.2l2.4-2.6 2.4-2.8M500.5 354.3l2.4 1.4 2.4 1.5 2.5 1.5 2.4 1.5M578.1 355.7l2.4-2.5 2.4-2.7M510.2 354.6l2.4 1.7 2.4 1.6M578.1 354.8l2.4-2.4 2.4-2.7M519.9 356.2l2.4 1.7 2.4 1.5M578.1 354.6l2.4-2.4 2.4-2.5M524.7 355.2l2.5 1.7 2.4 1.6M578.1 355.2l2.4-2.1 2.4-2.3M529.6 355.1l2.4 1.8 2.4 1.6M578.1 357l2.4-1.9 2.4-2.1M534.4 356.3l2.5 1.8 2.4 1.7M582.9 356.7l2.5-2 2.4-2.2M534.4 354.9l4.9 4.3M592.6 354.2l2.5-2.5 2.4-2.6M534.4 354.6l2.5 2.7 2.4 2.4M534.4 355.7l2.5 3.1 2.4 2.9M612 356.8l2.5-2.8 2.4-2.9M631.4 354.1l2.5-2.7 2.4-2.7"/><path stroke="#ff7419" d="M621.7 352.1l2.5-.8 2.4-.6 2.4-.5 2.4-.2M641.1 351.5l2.5 1.1 2.4 1.4M612 353.8l2.5-1.5 2.4-1.4 2.4-1.2 2.4-1.1M650.8 351.8l2.5 2.3 2.4 2.7M612 351.1l2.5-1.6 2.4-1.5M607.2 352.5l2.4-1.9 2.4-1.8M607.2 350.6l2.4-2.1 2.4-2M602.3 353.2l2.5-2.2 2.4-2.3M602.3 351.7l4.9-4.9M597.5 353.6l4.8-5.4M597.5 351.9l2.4-2.8 2.4-2.9M592.6 352l2.5-3.1 2.4-3.2M587.8 353.8l2.4-3.1 2.4-3.2M587.8 351.6l2.4-3.1 2.4-3.3M582.9 353.5l2.5-2.9 2.4-3.1M582.9 351.8l2.5-2.9 2.4-3.1M495.6 351.4l2.5 1.4 2.4 1.5M582.9 350.5l2.5-2.9 2.4-3M505.3 351.2l2.5 1.7 2.4 1.7M515 352.6l2.5 1.8 2.4 1.8M519.9 351.4l4.8 3.8M582.9 350.8l2.5-2.6 2.4-2.6M524.7 351.2l4.9 3.9M582.9 353l2.5-2.3 2.4-2.5M529.6 352.2l2.4 2.1 2.4 2M587.8 352.5l4.8-5M602.3 353.7l2.5-2.7 2.4-2.8M616.9 351.1l4.8-6M529.6 350.5l2.4 4 2.4 3.8M529.6 353.9l2.4 4.5 2.4 4.4"/><path stroke="#fc4019" d="M631.4 350l2.5-.1 2.4 .3 2.4 .5 2.4 .8M621.7 348.6l2.5-1 2.4-.8 2.4-.7 2.4-.4M646 348.4l2.4 1.5 2.4 1.9M616.9 348l2.4-1.4 2.4-1.3M655.7 350.2l2.4 2.8 2.4 3.2M612 348.8l2.5-1.8 2.4-1.7M660.5 348.8l2.5 3.4 2.4 3.9M612 346.5l2.5-1.9 2.4-1.8M665.4 347.8l2.4 4 .8 1.4M607.2 348.7l2.4-2.2 2.4-2.1M607.2 346.8l2.4-2.3 2.4-2.4M602.3 350l4.9-5.1M602.3 348.2l2.5-2.7 2.4-2.8M597.5 350l4.8-6M597.5 347.9l2.4-3.1 2.4-3.2M592.6 349.8l2.5-3.2 2.4-3.3M592.6 347.5l2.5-3.3 2.4-3.4M587.8 349.5l2.4-3.2 2.4-3.4M587.8 347.5l2.4-3.2 2.4-3.4M490.8 348.9l2.4 1.2 2.4 1.3M500.5 347.7l2.4 1.7 2.4 1.8M582.9 349.7l2.5-2.8 2.4-2.9M510.2 348.8l4.8 3.8M582.9 349.7l2.5-2.6 2.4-2.9M515 347.2l2.5 2.1 2.4 2.1M519.9 346.7l2.4 2.3 2.4 2.2M587.8 348.2l2.4-2.6 2.4-2.9M524.7 347.6l2.5 2.4 2.4 2.2M592.6 347.5l2.5-2.8 2.4-2.9M529.6 350.1l2.4 2.5 2.4 2.3M597.5 349.1l2.4-2.8 2.4-2.9M529.6 348.9l2.4 2.9 2.4 2.8M607.2 348.2l2.4-3 2.4-3.1M529.6 349l2.4 3.4 2.4 3.3M636.3 348.7l2.4-2.7 2.4-2.6M524.7 348.4l2.5 5.5 2.4 5.4"/><path stroke="#f93419" d="M631.4 345.7l2.5-.2 2.4 0 2.4 .3 2.4 .6 2.5 .8 2.4 1.2M621.7 345.3l2.5-1.1 2.4-1 2.4-.9 2.4-.6M646 343l2.4 1.2 2.4 1.6 2.5 2 2.4 2.4M616.9 345.3l2.4-1.6 2.4-1.4M655.7 343.5l2.4 2.5 2.4 2.8M616.9 342.8l2.4-1.8 2.4-1.7M612 344.4l2.5-2.2 2.4-2M607.2 344.9l2.4-2.6 2.4-2.5M607.2 342.7l2.4-2.7 2.4-2.8M602.3 346.2l2.5-2.9 2.4-2.9M602.3 344l2.5-3.1 2.4-3.1M597.5 345.7l4.8-6.6M597.5 343.3l2.4-3.4 2.4-3.5M592.6 345.2l2.5-3.4 2.4-3.5M592.6 342.9l2.5-3.4 2.4-3.6M587.8 345.8l2.4-3.2 2.4-3.4M587.8 344.6l2.4-3.2 2.4-3.3M495.6 344.4l2.5 1.7 2.4 1.6M587.8 344l2.4-3.1 2.4-3.3M505.3 344.8l2.5 2 2.4 2M587.8 344.2l2.4-3 2.4-3.1M510.2 342.8l2.4 2.3 2.4 2.1M587.8 345.6l2.4-2.9 2.4-3M592.6 342.7l2.5-2.9 2.4-3.2M524.7 344.7l2.5 2.7 2.4 2.7M602.3 343.4l2.5-3.1 2.4-3.1M621.7 345.1l2.5-3.1 2.4-3.2M641.1 343.4l4.9-4.9M524.7 344.3l2.5 4.8 2.4 4.8"/><path stroke="#f43219" d="M631.4 341.7l2.5-.4 2.4-.2 2.4 .1 2.4 .3 2.5 .6 2.4 .9M621.7 342.3l2.5-1.4 2.4-1.2 2.4-1 2.4-.8M650.8 339.8l2.5 1.7 2.4 2M621.7 339.3l2.5-1.5 2.4-1.4M660.5 341.3l2.5 3 2.4 3.5M616.9 340.2l2.4-2 2.4-1.9M665.4 339.3l2.4 3.6 .8 1.3M612 342.1l4.9-4.5M612 339.8l2.5-2.6 2.4-2.4M607.2 340.4l2.4-3 2.4-2.9M602.3 341.6l2.5-3.2 2.4-3.3M602.3 339.1l2.5-3.4 2.4-3.5M597.5 340.8l2.4-3.5 2.4-3.6M592.6 340.9l2.5-3.5 2.4-3.6M592.6 339.2l2.5-3.5 2.4-3.6M490.8 341.4l2.4 1.4 2.4 1.6M500.5 340.8l4.8 4M592.6 339.7l2.5-3.2 2.4-3.3M515 342l4.9 4.7M519.9 342.5l2.4 2.6 2.4 2.5M597.5 341.8l2.4-3 2.4-3.2M524.7 342.6l2.5 3.2 2.4 3.1M612 342.1l2.5-3.2 2.4-3.3M524.7 341.7l2.5 3.7 2.4 3.6M524.7 342.1l2.5 4.3 2.4 4.1"/><path stroke="#f02f19" d="M631.4 337.9l2.5-.7 2.4-.4 2.4-.2 2.4 0 2.5 .3 2.4 .7 2.4 .9 2.4 1.3M626.6 336.4l2.4-1.3 2.4-1.1M655.7 336.7l2.4 2.1 2.4 2.5M621.7 336.3l2.5-1.7 2.4-1.7M616.9 337.6l2.4-2.2 2.4-2.1M612 337.2l2.5-2.7 2.4-2.7M607.2 337.8l4.8-6.2M602.3 336.4l2.5-3.5 2.4-3.6M597.5 338.3l2.4-3.6 2.4-3.7M597.5 335.9l2.4-3.6 2.4-3.8M592.6 338.1l2.5-3.5 2.4-3.6M592.6 337.6l2.5-3.4 2.4-3.5M495.6 337l2.5 1.9 2.4 1.9M592.6 338.1l2.5-3.3 2.4-3.5M505.3 338.3l4.9 4.5M510.2 336.9l2.4 2.6 2.4 2.5M597.5 336.6l2.4-3.3 2.4-3.4M515 337l4.9 5.5M602.3 335.6l2.5-3.4 2.4-3.4M519.9 338.7l2.4 3.1 2.4 2.9M607.2 337.2l2.4-3.3 2.4-3.4M519.9 335.8l2.4 3.5 2.4 3.3M616.9 335.6l2.4-3.3 2.4-3.4M626.6 338.8l4.8-6.2M646 338.5l4.8-4.4M519.9 336.9l2.4 5.8 2.4 5.7"/><path stroke="#ec2d19" d="M631.4 334l2.5-.9 2.4-.7 2.4-.5 2.4-.2 2.5 .1 2.4 .3 2.4 .6 2.4 1 2.5 1.3 2.4 1.7M626.6 332.9l2.4-1.5 2.4-1.3M660.5 333.6l2.5 2.6 2.4 3.1M621.7 333.3l4.9-3.9M616.9 334.8l2.4-2.4 2.4-2.3M616.9 331.8l2.4-2.6 2.4-2.5M612 334.5l2.5-2.9 2.4-2.9M612 331.6l2.5-3.1 2.4-3.1M607.2 335.1l4.8-6.6M607.2 332.2l2.4-3.4 2.4-3.5M602.3 333.7l2.5-3.7 2.4-3.7M597.5 333.8l2.4-3.7 2.4-3.8M597.5 332.1l2.4-3.7 2.4-3.8M490.8 333.3l2.4 1.8 2.4 1.9M500.5 333.7l4.8 4.6M597.5 333.2l2.4-3.4 2.4-3.6M505.3 331.7l2.5 2.6 2.4 2.6M515 332.4l2.5 3.2 2.4 3.1M519.9 333.9l4.8 7.8M631.4 332.6l2.5-3.2 2.4-3M519.9 333.2l2.4 4.5 2.4 4.4M650.8 334.1l2.5-1.9 2.4-1.8M519.9 334.1l2.4 5.2 2.4 5"/><path stroke="#e82b19" d="M631.4 330.1l2.5-1.2 2.4-.9 2.4-.8 2.4-.5M655.7 329.7l2.4 1.8 2.4 2.1M626.6 329.4l2.4-1.8 2.4-1.6M665.4 330.6l2.4 3.2 .8 1.2M621.7 330.1l2.5-2.3 2.4-2.1M616.9 328.7l4.8-5.6M612 328.5l2.5-3.3 2.4-3.3M607.2 329.3l2.4-3.6 2.4-3.7M602.3 331l2.5-3.8 2.4-3.8M602.3 328.5l2.5-3.8 2.4-4M597.5 331l2.4-3.7 2.4-3.8M597.5 330.7l2.4-3.7 2.4-3.8M597.5 331.3l2.4-3.6 2.4-3.7M495.6 329.2l2.5 2.2 2.4 2.3M602.3 329.9l2.5-3.5 2.4-3.6M510.2 331.2l4.8 5.8M607.2 328.8l2.4-3.5 2.4-3.7M612 330.5l2.5-3.5 2.4-3.6M515 328.6l2.5 3.6 2.4 3.6M621.7 328.9l2.5-3.4 2.4-3.5M655.7 330.4l2.4-1.5 2.4-1.3"/><path stroke="#e02a19" d="M641.1 326.7l2.5-.3 2.4 .1 2.4 .3 2.4 .6 2.5 1 2.4 1.3M631.4 326l2.5-1.4 2.4-1.2M660.5 325.7l2.5 2.2 2.4 2.7M626.6 325.7l2.4-2 2.4-1.9M621.7 326.7l4.9-4.9M616.9 325.4l2.4-3.1 2.4-3M612 325.3l2.5-3.5 2.4-3.5M607.2 326.3l4.8-7.6M602.3 326.3l2.5-3.9 2.4-4M602.3 324.6l2.5-4 2.4-4M602.3 324l2.5-3.8 2.4-3.9M490.8 324.9l2.4 2.1 2.4 2.2M602.3 326.2l2.5-3.7 2.4-3.8M500.5 326.4l2.4 2.7 2.4 2.6M505.3 325.2l2.5 3 2.4 3M510.2 325.8l2.4 3.4 2.4 3.2M515 325.6l2.5 4.2 2.4 4.1M636.3 326.4l2.4-3.1 2.4-2.9M515 323.9l2.5 4.7 2.4 4.6M660.5 327.6l2.5-1.1 2.4-.8 2.4-.4 .8 0M515 325l2.5 6 2.4 5.9"/><path stroke="#d82919" d="M636.3 323.4l2.4-1.1 2.4-.8 2.5-.5 2.4-.3 2.4-.1 2.4 .3 2.5 .7 2.4 1 2.4 1.3 2.4 1.8M631.4 321.8l2.5-1.7 2.4-1.5M665.4 321.7l2.4 2.7 .8 1.1M626.6 321.8l4.8-4.4M621.7 323.1l2.5-2.7 2.4-2.7M616.9 321.9l2.4-3.3 2.4-3.2M612 322l2.5-3.7 2.4-3.6M607.2 323.4l4.8-7.8M607.2 320.7l2.4-3.9 2.4-4.1M602.3 323.5l2.5-4 2.4-4M602.3 323.2l2.5-3.9 2.4-4M495.6 321.2l2.5 2.6 2.4 2.6M607.2 322.8l4.8-7.6M612 321.6l2.5-3.7 2.4-3.8M616.9 323.4l2.4-3.6 2.4-3.7M510.2 321.1l2.4 3.8 2.4 3.7M626.6 322l2.4-3.5 2.4-3.4M641.1 320.4l4.9-5.7M515 323.6l2.5 5.3 2.4 5.2"/><path stroke="#d12719" d="M636.3 318.6l2.4-1.3 2.4-1.1M660.5 317.6l2.5 1.8 2.4 2.3M631.4 317.4l2.5-2 2.4-1.8M626.6 317.7l2.4-2.5 2.4-2.4M621.7 319.3l2.5-2.9 2.4-2.9M616.9 318.3l2.4-3.5 2.4-3.4M612 318.7l2.5-3.8 2.4-3.8M607.2 318.4l2.4-4 2.4-4.2M607.2 316.6l2.4-4.1 2.4-4.2M607.2 318.7l2.4-3.9 2.4-4M500.5 319.2l4.8 6M505.3 319l2.5 3.4 2.4 3.4M510.2 317.1l2.4 4.3 2.4 4.2"/><path stroke="#ca2619" d="M641.1 316.2l2.5-.9 2.4-.6 2.4-.4 2.4 0 2.5 .3 2.4 .6 2.4 1 2.4 1.4M636.3 313.6l2.4-1.6 2.4-1.4M631.4 312.8l4.9-4.3M626.6 313.5l2.4-2.8 2.4-2.6M621.7 315.4l2.5-3.2 2.4-3.1M616.9 314.7l2.4-3.7 2.4-3.6M612 315.6l2.5-3.9 2.4-4M612 312.7l2.5-4 2.4-4.1M607.2 315.5l2.4-4.1 2.4-4.2M607.2 315.3l4.8-8.2M607.2 316.3l2.4-4 2.4-4.1M490.8 316.3l2.4 2.4 2.4 2.5M612 315.2l2.5-4 2.4-4M495.6 313.2l2.5 3 2.4 3M616.9 314.1l4.8-7.8M621.7 316.1l2.5-3.7 2.4-3.8M505.3 313.3l2.5 3.9 2.4 3.9M631.4 315.1l2.5-3.5 2.4-3.4M646 314.7l2.4-2.6 2.4-2.5M510.2 314.2l2.4 4.9 2.4 4.8M510.2 312.7l2.4 5.5 2.4 5.4M510.2 312.8l4.8 12.2"/><path stroke="#c22419" d="M641.1 310.6l2.5-1.2 2.4-.9M660.5 309.3l2.5 1.4 2.4 1.9 2.4 2.3 .8 .9M626.6 309.1l2.4-3 2.4-2.9M621.7 311.4l2.5-3.4 2.4-3.3M616.9 311.1l4.8-7.6M612 310.2l2.5-4.1 2.4-4.2M612 310.8l2.5-4.1 2.4-4.1M500.5 312.2l4.8 6.8M650.8 309.6l2.5-2.3 2.4-2.1"/><path stroke="#bb2319" d="M646 308.5l2.4-.7 2.4-.4 2.5-.1 2.4 .3 2.4 .6 2.4 1.1M636.3 308.5l2.4-1.9 2.4-1.8M631.4 308.1l4.9-4.9M621.7 307.4l2.5-3.6 2.4-3.5M616.9 307.7l4.8-8M612 308.3l2.5-4.2 2.4-4.2M612 307.2l2.5-4.2 2.4-4.3M612 307.1l2.5-4.2 2.4-4.3M612 308.2l2.5-4.2 2.4-4.2M616.9 307.2l2.4-4 2.4-4.1M490.8 307.5l2.4 2.8 2.4 2.9M621.7 306.3l2.5-4 2.4-3.9M495.6 305.4l2.5 3.4 2.4 3.4M626.6 308.6l2.4-3.7 2.4-3.8M500.5 305.5l4.8 7.8M636.3 308.2l2.4-3.4 2.4-3.2M505.3 308.4l2.5 4.4 2.4 4.3M655.7 305.2l2.4-1.9 2.4-1.7"/><path stroke="#b22219" d="M641.1 304.8l2.5-1.5 2.4-1.2 2.4-1 2.4-.7M665.4 303.3l2.4 1.9 .8 .8M636.3 303.2l2.4-2.2 2.4-2M631.4 303.2l2.5-2.8 2.4-2.6M626.6 304.7l2.4-3.3 2.4-3.1M621.7 303.5l2.5-3.8 2.4-3.8M616.9 304.6l4.8-8.2M616.9 301.9l4.8-8.4M616.9 302.6l4.8-8.4M641.1 301.6l2.5-3.2 2.4-3.1M660.5 301.6l2.5-1.3 2.4-1.1M505.3 304.3l2.5 5 2.4 4.9M505.3 301.5l2.5 5.6 2.4 5.6"/><path stroke="#ab2119" d="M650.8 300.4l2.5-.5 2.4 0 2.4 .2 2.4 .7 2.5 1 2.4 1.5M641.1 299l2.5-1.8 2.4-1.6M636.3 297.8l2.4-2.5 2.4-2.3M631.4 298.3l2.5-3 2.4-2.9M626.6 300.3l2.4-3.5 2.4-3.4M621.7 299.7l2.5-3.9 2.4-3.9M616.9 299.9l4.8-8.6M616.9 298.7l4.8-8.6M616.9 298.6l4.8-8.6M616.9 299.8l4.8-8.6M621.7 299.1l2.5-4.1 2.4-4.2M626.6 298.4l2.4-4 2.4-3.9M490.8 298.8l2.4 3.2 2.4 3.4M631.4 301.1l2.5-3.7 2.4-3.6M495.6 297.8l2.5 3.9 2.4 3.8M500.5 299.5l2.4 4.4 2.4 4.5M665.4 299.2l2.4-.8 .8-.1M505.3 300.3l2.5 6.2 2.4 6.3"/><path stroke="#a21f19" d="M646 295.6l2.4-1.4 2.4-1M665.4 293.9l2.4 1.6 .8 .6M626.6 295.9l4.8-7.2M621.7 296.4l2.5-4.1 2.4-4.1M621.7 294.2l2.5-4.3 2.4-4.2M646 295.3l2.4-2.9 2.4-2.8M500.5 294.4l2.4 5 2.4 4.9"/><path stroke="#9b1e19" d="M650.8 293.2l2.5-.8 2.4-.4 2.4-.1 2.4 .3 2.5 .6 2.4 1.1M641.1 293l2.5-2.1 2.4-1.9M636.3 292.4l2.4-2.8 2.4-2.6M631.4 293.4l2.5-3.3 2.4-3.1M626.6 291.9l2.4-3.9 2.4-3.7M621.7 293.5l2.5-4.2 2.4-4.2M621.7 291.3l2.5-4.3 2.4-4.2M621.7 290.1l2.5-4.4 2.4-4.3M621.7 291.2l2.5-4.3 2.4-4.3M626.6 290.8l4.8-8.2M631.4 290.5l2.5-4 2.4-3.8M636.3 293.8l4.8-7.2M490.8 290.2l4.8 7.6M495.6 290.7l2.5 4.4 2.4 4.4M500.5 290.3l4.8 11.2"/><path stroke="#921c19" d="M646 289l2.4-1.6 2.4-1.4M641.1 287l2.5-2.4 2.4-2.1M636.3 287l2.4-3 2.4-2.8M631.4 288.7l2.5-3.5 2.4-3.4M626.6 288.2l2.4-4 2.4-3.9M621.7 290l2.5-4.4 2.4-4.3M641.1 286.6l2.5-3.4 2.3-3.2M650.8 289.6l2.5-2.6 2.4-2.4M500.5 287.7l4.8 12.6"/><path stroke="#8b1b19" d="M650.8 286l2.5-1.1 2.4-.8 2.4-.4 2.4-.1 2.5 .3 2.4 .7 2.4 1.1 .8 .6M631.4 284.3l2.9-4.3M626.6 285.1l2.4-4.1 .6-1M626.6 282.8l1.6-2.8M626.6 282.6l1.5-2.6M626.6 285.7l2.4-4.2 .8-1.5M631.4 282.6l1.6-2.6M636.3 282.7l1.7-2.7M655.7 284.6l2.4-2.1 2.4-1.9M495.6 284.4l2.5 5 2.4 5"/><path stroke="#821919" d="M646 282.5l2.4-2 .8-.5M641.1 281.2l1.1-1.2M636.3 281.8l1.4-1.8M631.4 280.3l.2-.3M626.6 281.4l.8-1.4M626.6 281.3l.7-1.3M660.5 280.6l.9-.6M490.8 282.1l4.8 8.6M493.5 280l2.1 4.4M496 280l2.1 4.7 2.4 5.6M497.5 280l.6 1.4 2.4 6.3"/></g>
<g fill="#333"><circle cx="582.4" cy="365.4" r="0.6"/><circle cx="552.2" cy="360.6" r="0.6"/><circle cx="572.1" cy="384.5" r="0.6"/><circle cx="547.9" cy="377" r="0.6"/><circle cx="518.5" cy="378.3" r="0.6"/><circle cx="555.3" cy="403.5" r="0.6"/><circle cx="560.6" cy="370" r="0.6"/><circle cx="545" cy="368.7" r="0.6"/><circle cx="558" cy="379.1" r="0.6"/><circle cx="562.9" cy="386.9" r="0.6"/><circle cx="537.2" cy="371.4" r="0.6"/><circle cx="526.3" cy="406.2" r="0.6"/><circle cx="548.7" cy="383" r="0.6"/><circle cx="548.9" cy="372" r="0.6"/><circle cx="546.3" cy="401.3" r="0.6"/><circle cx="570.3" cy="366.3" r="0.6"/><circle cx="583.4" cy="376.5" r="0.6"/><circle cx="545.2" cy="411.9" r="0.6"/><circle cx="565.1" cy="382.7" r="0.6"/><circle cx="569.4" cy="390.6" r="0.6"/><circle cx="565.4" cy="377.8" r="0.6"/><circle cx="571.3" cy="396.1" r="0.6"/><circle cx="545.7" cy="372" r="0.6"/><circle cx="565.8" cy="390.7" r="0.6"/><circle cx="588.8" cy="372.7" r="0.6"/><circle cx="567" cy="388.7" r="0.6"/><circle cx="541.6" cy="390.4" r="0.6"/><circle cx="563.5" cy="367.9" r="0.6"/><circle cx="575.2" cy="377.2" r="0.6"/><circle cx="559.2" cy="387.9" r="0.6"/><circle cx="542.6" cy="399.9" r="0.6"/><circle cx="580.2" cy="361.3" r="0.6"/><circle cx="530.3" cy="378.6" r="0.6"/><circle cx="561.6" cy="385.9" r="0.6"/><circle cx="552.4" cy="380.3" r="0.6"/><circle cx="531.3" cy="399.9" r="0.6"/><circle cx="574.4" cy="389.5" r="0.6"/><circle cx="558.8" cy="391.2" r="0.6"/><circle cx="531.8" cy="382.5" r="0.6"/><circle cx="563.4" cy="378.6" r="0.6"/><circle cx="544.9" cy="394.6" r="0.6"/><circle cx="518.7" cy="376.9" r="0.6"/><circle cx="540.3" cy="373.8" r="0.6"/><circle cx="557.3" cy="382.5" r="0.6"/><circle cx="564" cy="369" r="0.6"/><circle cx="555.6" cy="387.9" r="0.6"/><circle cx="553.4" cy="389.4" r="0.6"/><circle cx="561" cy="376.4" r="0.6"/><circle cx="548.9" cy="384.9" r="0.6"/><circle cx="573.6" cy="369" r="0.6"/><circle cx="555.3" cy="396" r="0.6"/><circle cx="557.9" cy="364" r="0.6"/><circle cx="562.3" cy="390.9" r="0.6"/><circle cx="533.8" cy="388.1" r="0.6"/><circle cx="540" cy="401.5" r="0.6"/><circle cx="579.9" cy="370.2" r="0.6"/><circle cx="558.6" cy="366.2" r="0.6"/><circle cx="547.6" cy="371" r="0.6"/><circle cx="558.7" cy="376.3" r="0.6"/><circle cx="544" cy="404.9" r="0.6"/><circle cx="557.6" cy="393.3" r="0.6"/><circle cx="540.8" cy="390.5" r="0.6"/><circle cx="557.6" cy="395.3" r="0.6"/><circle cx="524.5" cy="372.7" r="0.6"/><circle cx="576.4" cy="374.1" r="0.6"/><circle cx="543.5" cy="386.9" r="0.6"/><circle cx="524.4" cy="379.3" r="0.6"/><circle cx="548.6" cy="397.2" r="0.6"/><circle cx="546" cy="396.3" r="0.6"/><circle cx="555.4" cy="395.2" r="0.6"/><circle cx="532.2" cy="377.5" r="0.6"/><circle cx="559.7" cy="377.6" r="0.6"/><circle cx="617.3" cy="348.9" r="0.6"/><circle cx="529.8" cy="371.9" r="0.6"/><circle cx="558.7" cy="397" r="0.6"/><circle cx="547.1" cy="386.5" r="0.6"/><circle cx="556.1" cy="384.4" r="0.6"/><circle cx="520.3" cy="400.9" r="0.6"/><circle cx="532.1" cy="392.6" r="0.6"/><circle cx="560.8" cy="369.9" r="0.6"/><circle cx="552" cy="371.5" r="0.6"/><circle cx="581.8" cy="356.8" r="0.6"/><circle cx="540.1" cy="387.7" r="0.6"/><circle cx="555.8" cy="385.7" r="0.6"/><circle cx="604.6" cy="341" r="0.6"/><circle cx="539" cy="395.1" r="0.6"/><circle cx="536.5" cy="382.5" r="0.6"/><circle cx="552" cy="369.5" r="0.6"/><circle cx="551.8" cy="389" r="0.6"/><circle cx="567.7" cy="383.6" r="0.6"/><circle cx="555" cy="377.2" r="0.6"/><circle cx="539.1" cy="384.5" r="0.6"/><circle cx="556.4" cy="377.9" r="0.6"/><circle cx="599.7" cy="359.8" r="0.6"/><circle cx="575.3" cy="365.3" r="0.6"/><circle cx="503" cy="404.9" r="0.6"/><circle cx="550.1" cy="396.1" r="0.6"/><circle cx="537" cy="384" r="0.6"/><circle cx="563.7" cy="393.3" r="0.6"/><circle cx="549.5" cy="401.9" r="0.6"/><circle cx="587.1" cy="388.7" r="0.6"/><circle cx="569.3" cy="390.8" r="0.6"/><circle cx="568.5" cy="381.9" r="0.6"/><circle cx="556" cy="396.6" r="0.6"/><circle cx="551.9" cy="381.8" r="0.6"/><circle cx="558.7" cy="363.1" r="0.6"/><circle cx="575.7" cy="379.8" r="0.6"/><circle cx="562.2" cy="363.2" r="0.6"/><circle cx="546.4" cy="382" r="0.6"/><circle cx="575.4" cy="393.7" r="0.6"/><circle cx="556.1" cy="383.6" r="0.6"/><circle cx="551.3" cy="396.3" r="0.6"/><circle cx="538.5" cy="368" r="0.6"/><circle cx="542.5" cy="400.4" r="0.6"/><circle cx="541.3" cy="369.8" r="0.6"/><circle cx="502.8" cy="389" r="0.6"/><circle cx="570.8" cy="400.9" r="0.6"/><circle cx="562.7" cy="363.2" r="0.6"/><circle cx="548.8" cy="366.2" r="0.6"/><circle cx="571.3" cy="389.6" r="0.6"/><circle cx="560.5" cy="369.4" r="0.6"/><circle cx="559.3" cy="405.9" r="0.6"/><circle cx="508.5" cy="384.3" r="0.6"/><circle cx="548.5" cy="406.2" r="0.6"/><circle cx="562.1" cy="375.9" r="0.6"/><circle cx="581.4" cy="393.7" r="0.6"/><circle cx="585.5" cy="405.8" r="0.6"/><circle cx="578.1" cy="368.8" r="0.6"/><circle cx="531.9" cy="358.5" r="0.6"/><circle cx="513.4" cy="393.2" r="0.6"/><circle cx="562.8" cy="378.5" r="0.6"/><circle cx="553.1" cy="385" r="0.6"/><circle cx="569.8" cy="382" r="0.6"/><circle cx="550.4" cy="377.4" r="0.6"/><circle cx="556.6" cy="362.2" r="0.6"/><circle cx="525.9" cy="401.1" r="0.6"/><circle cx="560.6" cy="372.1" r="0.6"/><circle cx="544.7" cy="380" r="0.6"/><circle cx="558.9" cy="398.8" r="0.6"/><circle cx="560.8" cy="362.4" r="0.6"/><circle cx="550.5" cy="360.8" r="0.6"/><circle cx="558.3" cy="395.5" r="0.6"/><circle cx="552.4" cy="362.9" r="0.6"/><circle cx="566.2" cy="381.2" r="0.6"/><circle cx="561.6" cy="384.7" r="0.6"/><circle cx="542.9" cy="367.2" r="0.6"/><circle cx="542.2" cy="382.9" r="0.6"/><circle cx="583.7" cy="370.3" r="0.6"/><circle cx="550.8" cy="371.4" r="0.6"/><circle cx="570.3" cy="363.4" r="0.6"/><circle cx="559.7" cy="371.4" r="0.6"/><circle cx="542.6" cy="401.1" r="0.6"/><circle cx="539.3" cy="405.1" r="0.6"/><circle cx="554.8" cy="370.2" r="0.6"/><circle cx="557.2" cy="395.4" r="0.6"/><circle cx="563.6" cy="373.2" r="0.6"/><circle cx="530" cy="398.5" r="0.6"/><circle cx="542" cy="381.9" r="0.6"/><circle cx="550.9" cy="393.1" r="0.6"/><circle cx="581.2" cy="355.7" r="0.6"/><circle cx="510.5" cy="398.1" r="0.6"/><circle cx="560.5" cy="383.5" r="0.6"/><circle cx="543" cy="387.5" r="0.6"/><circle cx="560.3" cy="366.8" r="0.6"/><circle cx="543.9" cy="403.4" r="0.6"/><circle cx="559.1" cy="383.2" r="0.6"/><circle cx="580.6" cy="380.6" r="0.6"/><circle cx="559" cy="376.5" r="0.6"/><circle cx="560.4" cy="377.1" r="0.6"/><circle cx="559.3" cy="388.6" r="0.6"/><circle cx="539.3" cy="383.6" r="0.6"/><circle cx="562.3" cy="385.8" r="0.6"/><circle cx="548.9" cy="377.8" r="0.6"/><circle cx="538.2" cy="387.3" r="0.6"/><circle cx="552" cy="392.5" r="0.6"/><circle cx="520.5" cy="378.6" r="0.6"/><circle cx="585.4" cy="370.6" r="0.6"/><circle cx="587" cy="339.8" r="0.6"/><circle cx="520.3" cy="395.3" r="0.6"/><circle cx="615.6" cy="339.1" r="0.6"/><circle cx="576.5" cy="359.5" r="0.6"/><circle cx="633.5" cy="393.7" r="0.6"/><circle cx="525.2" cy="393.7" r="0.6"/><circle cx="572.5" cy="389.6" r="0.6"/><circle cx="544.3" cy="381.8" r="0.6"/><circle cx="588.9" cy="338.9" r="0.6"/><circle cx="584.1" cy="361" r="0.6"/><circle cx="570.7" cy="364.4" r="0.6"/><circle cx="544.5" cy="387.8" r="0.6"/><circle cx="569.5" cy="426.4" r="0.6"/><circle cx="551.1" cy="413.2" r="0.6"/><circle cx="623.6" cy="321.1" r="0.6"/><circle cx="563.6" cy="375.4" r="0.6"/><circle cx="565.5" cy="390.4" r="0.6"/><circle cx="535.3" cy="372.4" r="0.6"/><circle cx="534.6" cy="393" r="0.6"/><circle cx="632.4" cy="357" r="0.6"/><circle cx="543" cy="356.7" r="0.6"/><circle cx="620.5" cy="367.9" r="0.6"/><circle cx="582.2" cy="400.3" r="0.6"/><circle cx="636.1" cy="324.2" r="0.6"/><circle cx="522" cy="400.8" r="0.6"/><circle cx="630.7" cy="340.5" r="0.6"/><circle cx="607.1" cy="362.9" r="0.6"/><circle cx="578.5" cy="373.8" r="0.6"/><circle cx="598.2" cy="360.7" r="0.6"/><circle cx="600.1" cy="372.1" r="0.6"/><circle cx="561.8" cy="393.1" r="0.6"/><circle cx="587.8" cy="368.4" r="0.6"/><circle cx="531.1" cy="425.1" r="0.6"/><circle cx="502.1" cy="389.3" r="0.6"/><circle cx="593.7" cy="363.2" r="0.6"/><circle cx="565.4" cy="378.1" r="0.6"/><circle cx="625.7" cy="397.4" r="0.6"/><circle cx="536" cy="388.7" r="0.6"/><circle cx="613.4" cy="362" r="0.6"/><circle cx="637" cy="341.1" r="0.6"/><circle cx="624.6" cy="360.2" r="0.6"/><circle cx="633.9" cy="315.1" r="0.6"/><circle cx="521.3" cy="388.4" r="0.6"/><circle cx="522.2" cy="417.9" r="0.6"/><circle cx="531" cy="387" r="0.6"/><circle cx="549.6" cy="398" r="0.6"/><circle cx="515.2" cy="383.5" r="0.6"/><circle cx="520.2" cy="366.3" r="0.6"/><circle cx="501.7" cy="389.4" r="0.6"/><circle cx="629.5" cy="359.6" r="0.6"/><circle cx="549.6" cy="370.9" r="0.6"/><circle cx="586.6" cy="365.5" r="0.6"/><circle cx="562.6" cy="371.7" r="0.6"/><circle cx="603" cy="354.4" r="0.6"/><circle cx="611.8" cy="351.3" r="0.6"/><circle cx="552.6" cy="371.6" r="0.6"/><circle cx="573.9" cy="361.1" r="0.6"/><circle cx="512.7" cy="399" r="0.6"/></g>
</g>
<rect x="490.2" y="280" width="178.4" height="175.5" fill="none" stroke="#999" stroke-width="0.8"/>
<path d="M490.2 455.5 490.2 453.7M490.2 280 490.2 281.8M519.9 455.5 519.9 453.7M519.9 280 519.9 281.8M549.7 455.5 549.7 453.7M549.7 280 549.7 281.8M579.4 455.5 579.4 453.7M579.4 280 579.4 281.8M609.1 455.5 609.1 453.7M609.1 280 609.1 281.8M638.9 455.5 638.9 453.7M638.9 280 638.9 281.8M668.6 455.5 668.6 453.7M668.6 280 668.6 281.8M490.2 455.5 492 455.5M668.6 455.5 666.8 455.5M490.2 430.4 492 430.4M668.6 430.4 666.8 430.4M490.2 405.4 492 405.4M668.6 405.4 666.8 405.4M490.2 380.3 492 380.3M668.6 380.3 666.8 380.3M490.2 355.2 492 355.2M668.6 355.2 666.8 355.2M490.2 330.1 492 330.1M668.6 330.1 666.8 330.1M490.2 305.1 492 305.1M668.6 305.1 666.8 305.1M490.2 280 492 280M668.6 280 666.8 280" stroke="#666" stroke-width="0.6" fill="none"/>
<text x="490.2" y="469.6" font-size="11.3" text-anchor="middle">-3</text>
<text x="519.9" y="469.6" font-size="11.3" text-anchor="middle">-2</text>
<text x="549.7" y="469.6" font-size="11.3" text-anchor="middle">-1</text>
<text x="579.4" y="469.6" font-size="11.3" text-anchor="middle">0</text>
<text x="609.1" y="469.6" font-size="11.3" text-anchor="middle">1</text>
<text x="638.9" y="469.6" font-size="11.3" text-anchor="middle">2</text>
<text x="668.6" y="469.6" font-size="11.3" text-anchor="middle">3</text>
<text x="486.1" y="459.3" font-size="11.3" text-anchor="end">60</text>
<text x="486.1" y="434.2" font-size="11.3" text-anchor="end">80</text>
<text x="486.1" y="409.1" font-size="11.3" text-anchor="end">100</text>
<text x="486.1" y="384.1" font-size="11.3" text-anchor="end">120</text>
<text x="486.1" y="359" font-size="11.3" text-anchor="end">140</text>
<text x="486.1" y="333.9" font-size="11.3" text-anchor="end">160</text>
<text x="486.1" y="308.8" font-size="11.3" text-anchor="end">180</text>
<text x="486.1" y="283.8" font-size="11.3" text-anchor="end">200</text>
<text x="540.3" y="482.6" font-size="13.5" textLength="77.4" lengthAdjust="spacingAndGlyphs">Y : GT of STM</text>
<text transform="translate(464.5 367.9) rotate(-90)" x="-62" y="0" font-size="12.2" textLength="124" lengthAdjust="spacingAndGlyphs">f ( X, Y ) : SBP(mmHg)</text>
<text x="71.4" y="521.8" font-size="18" textLength="92.9" lengthAdjust="spacingAndGlyphs" style="fill:#111">R<tspan font-size="12" dy="-6">2</tspan><tspan dy="6"> = 0.0104</tspan></text>
<text x="291.7" y="521.8" font-size="18" textLength="91.1" lengthAdjust="spacingAndGlyphs" style="fill:#111">R<tspan font-size="12" dy="-6">2</tspan><tspan dy="6"> = 0.2115</tspan></text>
<text x="538.5" y="521.8" font-size="18" textLength="93.5" lengthAdjust="spacingAndGlyphs" style="fill:#111">R<tspan font-size="12" dy="-6">2</tspan><tspan dy="6"> = 0.3654</tspan></text>
<text x="141.1" y="569" font-size="15.8" textLength="443.8" lengthAdjust="spacingAndGlyphs" style="fill:#111">(1) Three-dimensional response surface and quartic polynomial</text>
<path d="M61.3 606.7 61.3 781.2M61.3 781.2 225.5 781.2M84.8 606.7 84.8 781.2M61.3 756.3 225.5 756.3M108.2 606.7 108.2 781.2M61.3 731.3 225.5 731.3M131.7 606.7 131.7 781.2M61.3 706.4 225.5 706.4M155.1 606.7 155.1 781.2M61.3 681.5 225.5 681.5M178.6 606.7 178.6 781.2M61.3 656.6 225.5 656.6M202 606.7 202 781.2M61.3 631.6 225.5 631.6M225.5 606.7 225.5 781.2M61.3 606.7 225.5 606.7" stroke="#d9d9d9" stroke-width="0.9" fill="none"/>
<path d="M83 758.2 206.7 626.3" stroke="#999" stroke-width="0.8" fill="none"/>
<g fill="#000"><circle cx="123.7" cy="711.1" r="1.25"/><circle cx="134.7" cy="704.4" r="1.25"/><circle cx="124.7" cy="702.9" r="1.25"/><circle cx="119.2" cy="723.6" r="1.25"/><circle cx="128" cy="709.6" r="1.25"/><circle cx="120.2" cy="721.4" r="1.25"/><circle cx="122.2" cy="719.5" r="1.25"/><circle cx="126.2" cy="703.7" r="1.25"/><circle cx="124" cy="725.3" r="1.25"/><circle cx="120.9" cy="709.8" r="1.25"/><circle cx="121.9" cy="724.1" r="1.25"/><circle cx="121.7" cy="704.2" r="1.25"/><circle cx="130.4" cy="710.9" r="1.25"/><circle cx="121.1" cy="711.1" r="1.25"/><circle cx="121.8" cy="717.4" r="1.25"/><circle cx="134.7" cy="698.1" r="1.25"/><circle cx="121.9" cy="699.2" r="1.25"/><circle cx="132" cy="697.2" r="1.25"/><circle cx="131.1" cy="707.7" r="1.25"/><circle cx="123.9" cy="719.9" r="1.25"/><circle cx="117.6" cy="709.5" r="1.25"/><circle cx="126.9" cy="694.4" r="1.25"/><circle cx="127.9" cy="703.4" r="1.25"/><circle cx="129.4" cy="707.2" r="1.25"/><circle cx="125" cy="708.5" r="1.25"/><circle cx="130.6" cy="701.2" r="1.25"/><circle cx="131.5" cy="713.6" r="1.25"/><circle cx="119.4" cy="727.4" r="1.25"/><circle cx="131.7" cy="712.5" r="1.25"/><circle cx="125.5" cy="705.5" r="1.25"/><circle cx="121.8" cy="717.6" r="1.25"/><circle cx="123.1" cy="714.1" r="1.25"/><circle cx="133.9" cy="692.6" r="1.25"/><circle cx="129.5" cy="716" r="1.25"/><circle cx="115.8" cy="724.1" r="1.25"/><circle cx="125" cy="709.7" r="1.25"/><circle cx="123.9" cy="726.2" r="1.25"/><circle cx="123.8" cy="721.1" r="1.25"/><circle cx="122.1" cy="723.6" r="1.25"/><circle cx="117.5" cy="731.4" r="1.25"/><circle cx="128.9" cy="715.3" r="1.25"/><circle cx="120" cy="708.7" r="1.25"/><circle cx="122.8" cy="712.8" r="1.25"/><circle cx="121.7" cy="725.3" r="1.25"/><circle cx="121" cy="711.6" r="1.25"/><circle cx="128.3" cy="710.4" r="1.25"/><circle cx="126.5" cy="715.2" r="1.25"/><circle cx="121.3" cy="729.2" r="1.25"/><circle cx="120" cy="729.5" r="1.25"/><circle cx="122.3" cy="723.7" r="1.25"/><circle cx="129.4" cy="707.4" r="1.25"/><circle cx="125.3" cy="720.8" r="1.25"/><circle cx="125.8" cy="717.1" r="1.25"/><circle cx="123" cy="714.4" r="1.25"/><circle cx="123.4" cy="726.4" r="1.25"/><circle cx="125.7" cy="716.9" r="1.25"/><circle cx="115.6" cy="717.5" r="1.25"/><circle cx="132.6" cy="715.8" r="1.25"/><circle cx="120.8" cy="716.1" r="1.25"/><circle cx="121.8" cy="721.8" r="1.25"/><circle cx="131.2" cy="694.6" r="1.25"/><circle cx="125.7" cy="712.7" r="1.25"/><circle cx="124.8" cy="706.1" r="1.25"/><circle cx="121.8" cy="709.2" r="1.25"/><circle cx="116.9" cy="706.7" r="1.25"/><circle cx="125.5" cy="730.4" r="1.25"/><circle cx="130.5" cy="706.5" r="1.25"/><circle cx="120.2" cy="720.6" r="1.25"/><circle cx="131.3" cy="715.8" r="1.25"/><circle cx="119.1" cy="718.9" r="1.25"/><circle cx="121" cy="722" r="1.25"/><circle cx="127.1" cy="700.3" r="1.25"/><circle cx="124.6" cy="715.6" r="1.25"/><circle cx="128" cy="707" r="1.25"/><circle cx="121" cy="721.9" r="1.25"/><circle cx="119.6" cy="720.8" r="1.25"/><circle cx="115.4" cy="712.5" r="1.25"/><circle cx="118.7" cy="705.3" r="1.25"/><circle cx="119.3" cy="711.4" r="1.25"/><circle cx="117.6" cy="727.4" r="1.25"/><circle cx="126.2" cy="715.8" r="1.25"/><circle cx="121.4" cy="720.7" r="1.25"/><circle cx="115.3" cy="707.6" r="1.25"/><circle cx="136.9" cy="679.2" r="1.25"/><circle cx="120.5" cy="713.3" r="1.25"/><circle cx="118.4" cy="717.8" r="1.25"/><circle cx="130.7" cy="702.6" r="1.25"/><circle cx="130.4" cy="710.7" r="1.25"/><circle cx="119" cy="718.6" r="1.25"/><circle cx="117.4" cy="712" r="1.25"/><circle cx="119.7" cy="712" r="1.25"/><circle cx="130.2" cy="709.2" r="1.25"/><circle cx="123.1" cy="716.1" r="1.25"/><circle cx="120.7" cy="717.6" r="1.25"/><circle cx="124.5" cy="732.4" r="1.25"/><circle cx="130.6" cy="705.5" r="1.25"/><circle cx="117.8" cy="722.2" r="1.25"/><circle cx="122.7" cy="707.9" r="1.25"/><circle cx="117.8" cy="718.3" r="1.25"/><circle cx="135.3" cy="706.8" r="1.25"/><circle cx="133.6" cy="709" r="1.25"/><circle cx="129.3" cy="707.7" r="1.25"/><circle cx="124" cy="717.8" r="1.25"/><circle cx="127.9" cy="710.9" r="1.25"/><circle cx="115.3" cy="708.6" r="1.25"/><circle cx="126" cy="690" r="1.25"/><circle cx="118.1" cy="739.6" r="1.25"/><circle cx="118.1" cy="727.6" r="1.25"/><circle cx="121.2" cy="717.1" r="1.25"/><circle cx="122.9" cy="701.6" r="1.25"/><circle cx="127.5" cy="700.6" r="1.25"/><circle cx="128.1" cy="721.2" r="1.25"/><circle cx="125.9" cy="690.1" r="1.25"/><circle cx="120" cy="716.2" r="1.25"/><circle cx="128" cy="717.4" r="1.25"/><circle cx="124" cy="715.7" r="1.25"/><circle cx="130.4" cy="713.8" r="1.25"/><circle cx="120.1" cy="717.6" r="1.25"/><circle cx="115.3" cy="743.3" r="1.25"/><circle cx="122.3" cy="708.1" r="1.25"/><circle cx="135.2" cy="691.6" r="1.25"/><circle cx="126.9" cy="713.7" r="1.25"/><circle cx="123.7" cy="726.5" r="1.25"/><circle cx="129" cy="708.8" r="1.25"/><circle cx="127.1" cy="719.8" r="1.25"/><circle cx="126.9" cy="707.2" r="1.25"/><circle cx="122.1" cy="707" r="1.25"/><circle cx="125" cy="724.8" r="1.25"/><circle cx="125.6" cy="725.5" r="1.25"/><circle cx="121.5" cy="729.7" r="1.25"/><circle cx="119.1" cy="716.2" r="1.25"/><circle cx="125.3" cy="703.8" r="1.25"/><circle cx="129.4" cy="699.3" r="1.25"/><circle cx="127.8" cy="708.7" r="1.25"/><circle cx="127.1" cy="716" r="1.25"/><circle cx="127.1" cy="715.4" r="1.25"/><circle cx="137.4" cy="688.7" r="1.25"/><circle cx="125.9" cy="714.1" r="1.25"/><circle cx="129.8" cy="708.6" r="1.25"/><circle cx="134.3" cy="704.4" r="1.25"/><circle cx="124.9" cy="713.4" r="1.25"/><circle cx="125.9" cy="710.9" r="1.25"/><circle cx="129.8" cy="713.2" r="1.25"/><circle cx="132.9" cy="706.1" r="1.25"/><circle cx="126.2" cy="714.1" r="1.25"/><circle cx="126.4" cy="706.4" r="1.25"/><circle cx="125.1" cy="716.6" r="1.25"/><circle cx="118.7" cy="719.2" r="1.25"/><circle cx="130.1" cy="690.9" r="1.25"/><circle cx="123.4" cy="719.1" r="1.25"/><circle cx="143.1" cy="691.5" r="1.25"/><circle cx="141.2" cy="706.1" r="1.25"/><circle cx="147.5" cy="687.9" r="1.25"/><circle cx="135.3" cy="701.5" r="1.25"/><circle cx="145.8" cy="693.7" r="1.25"/><circle cx="133.4" cy="704.4" r="1.25"/><circle cx="147.1" cy="685.3" r="1.25"/><circle cx="148" cy="670" r="1.25"/><circle cx="130.2" cy="727.5" r="1.25"/><circle cx="135.4" cy="685.7" r="1.25"/><circle cx="148.1" cy="685.4" r="1.25"/><circle cx="147.5" cy="696.5" r="1.25"/><circle cx="141.9" cy="699.6" r="1.25"/><circle cx="131.8" cy="712.2" r="1.25"/><circle cx="129.4" cy="716.9" r="1.25"/><circle cx="134" cy="717.3" r="1.25"/><circle cx="147" cy="693.2" r="1.25"/><circle cx="144.4" cy="717.2" r="1.25"/><circle cx="137.4" cy="689.6" r="1.25"/><circle cx="143.6" cy="696.1" r="1.25"/><circle cx="146.3" cy="687.1" r="1.25"/><circle cx="135" cy="697.2" r="1.25"/><circle cx="145.7" cy="694.5" r="1.25"/><circle cx="134.4" cy="719" r="1.25"/><circle cx="135.5" cy="694.8" r="1.25"/><circle cx="130.2" cy="700.5" r="1.25"/><circle cx="132.3" cy="713.4" r="1.25"/><circle cx="139.7" cy="703.7" r="1.25"/><circle cx="129.8" cy="729.2" r="1.25"/><circle cx="139.6" cy="708.9" r="1.25"/><circle cx="132.5" cy="707.9" r="1.25"/><circle cx="143.4" cy="690.5" r="1.25"/><circle cx="131.7" cy="708.6" r="1.25"/><circle cx="133.2" cy="702.9" r="1.25"/><circle cx="134.4" cy="689.1" r="1.25"/><circle cx="140.3" cy="697.4" r="1.25"/><circle cx="144.5" cy="690.9" r="1.25"/><circle cx="143.5" cy="691.4" r="1.25"/><circle cx="143.2" cy="689.6" r="1.25"/><circle cx="142.1" cy="713.2" r="1.25"/><circle cx="139.5" cy="705.4" r="1.25"/><circle cx="135.8" cy="712" r="1.25"/><circle cx="132.7" cy="698.9" r="1.25"/><circle cx="145.5" cy="680.8" r="1.25"/><circle cx="137" cy="697.7" r="1.25"/><circle cx="141.5" cy="698.5" r="1.25"/><circle cx="130.6" cy="703.9" r="1.25"/><circle cx="136.1" cy="699.7" r="1.25"/><circle cx="131.2" cy="717.1" r="1.25"/><circle cx="136" cy="705" r="1.25"/><circle cx="143.1" cy="683.9" r="1.25"/><circle cx="135.7" cy="697.6" r="1.25"/><circle cx="142.1" cy="688.3" r="1.25"/><circle cx="131.6" cy="708.4" r="1.25"/><circle cx="136.5" cy="688.9" r="1.25"/><circle cx="83" cy="747.5" r="1.25"/><circle cx="84.8" cy="760" r="1.25"/><circle cx="91.2" cy="740.1" r="1.25"/><circle cx="94.1" cy="750.7" r="1.25"/><circle cx="97.7" cy="743.8" r="1.25"/><circle cx="98.8" cy="735.1" r="1.25"/><circle cx="102.3" cy="747.5" r="1.25"/><circle cx="104.1" cy="733.2" r="1.25"/><circle cx="105.3" cy="727" r="1.25"/><circle cx="107" cy="736.3" r="1.25"/><circle cx="108.2" cy="734.5" r="1.25"/><circle cx="109.4" cy="741.3" r="1.25"/><circle cx="110.6" cy="741.3" r="1.25"/><circle cx="111.7" cy="733.8" r="1.25"/><circle cx="113.5" cy="734.5" r="1.25"/><circle cx="114.1" cy="728.9" r="1.25"/><circle cx="150.4" cy="665.3" r="1.25"/><circle cx="151.6" cy="670.3" r="1.25"/><circle cx="152.8" cy="676.5" r="1.25"/><circle cx="154" cy="685.2" r="1.25"/><circle cx="155.1" cy="686.5" r="1.25"/><circle cx="156.3" cy="680.2" r="1.25"/><circle cx="158.6" cy="674" r="1.25"/><circle cx="161" cy="679" r="1.25"/><circle cx="163.3" cy="671.5" r="1.25"/><circle cx="166.9" cy="679.6" r="1.25"/><circle cx="168" cy="670.3" r="1.25"/><circle cx="169.2" cy="660.3" r="1.25"/><circle cx="173.9" cy="666.5" r="1.25"/><circle cx="175.1" cy="664.7" r="1.25"/><circle cx="178.6" cy="656.6" r="1.25"/><circle cx="184.4" cy="647.2" r="1.25"/><circle cx="185.6" cy="647.8" r="1.25"/><circle cx="188" cy="649.1" r="1.25"/><circle cx="190.3" cy="646" r="1.25"/><circle cx="196.8" cy="634.7" r="1.25"/><circle cx="206.7" cy="626.6" r="1.25"/><circle cx="141.7" cy="715.4" r="1.25"/><circle cx="146.6" cy="709.9" r="1.25"/><circle cx="146" cy="704.2" r="1.25"/><circle cx="132.6" cy="717.4" r="1.25"/><circle cx="143" cy="710.5" r="1.25"/><circle cx="144.2" cy="715" r="1.25"/><circle cx="146.5" cy="710" r="1.25"/><circle cx="137.9" cy="720.9" r="1.25"/><circle cx="133.2" cy="723.7" r="1.25"/><circle cx="138.8" cy="719.8" r="1.25"/><circle cx="137" cy="724.4" r="1.25"/><circle cx="137.4" cy="720.4" r="1.25"/><circle cx="144.6" cy="714.6" r="1.25"/><circle cx="142" cy="718.8" r="1.25"/></g>
<text x="50.9" y="785.5" font-size="12" text-anchor="end">60</text>
<text x="61.3" y="800.3" font-size="12" text-anchor="middle">60</text>
<text x="50.9" y="760.6" font-size="12" text-anchor="end">80</text>
<text x="84.8" y="800.3" font-size="12" text-anchor="middle">80</text>
<text x="50.9" y="735.6" font-size="12" text-anchor="end">100</text>
<text x="108.2" y="800.3" font-size="12" text-anchor="middle">100</text>
<text x="50.9" y="710.7" font-size="12" text-anchor="end">120</text>
<text x="131.7" y="800.3" font-size="12" text-anchor="middle">120</text>
<text x="50.9" y="685.8" font-size="12" text-anchor="end">140</text>
<text x="155.1" y="800.3" font-size="12" text-anchor="middle">140</text>
<text x="50.9" y="660.9" font-size="12" text-anchor="end">160</text>
<text x="178.6" y="800.3" font-size="12" text-anchor="middle">160</text>
<text x="50.9" y="635.9" font-size="12" text-anchor="end">180</text>
<text x="202" y="800.3" font-size="12" text-anchor="middle">180</text>
<text x="50.9" y="611" font-size="12" text-anchor="end">200</text>
<text x="225.5" y="800.3" font-size="12" text-anchor="middle">200</text>
<text transform="translate(29.9 693.4) rotate(-90)" x="-35" y="0" font-size="12.2" textLength="70" lengthAdjust="spacingAndGlyphs">SBP(mmHg)</text>
<text x="102.5" y="817.3" font-size="12.3" textLength="82.7" lengthAdjust="spacingAndGlyphs">e SBP (mmHg)</text>
<text x="110.8" y="759.3" font-size="12.3" textLength="105.5" lengthAdjust="spacingAndGlyphs">y = 1.003x - 0.2555</text>
<text x="135.5" y="773.3" font-size="12.2" textLength="56.2" lengthAdjust="spacingAndGlyphs">R² = 0.814</text>
<text x="33.5" y="853.5" font-size="15.8" textLength="244.9" lengthAdjust="spacingAndGlyphs" style="fill:#111">(2) SBP-e SBP correlation diagram</text>
<path d="M364.7 600.5 364.7 776M413.5 600.5 413.5 776M462.2 600.5 462.2 776M510.9 600.5 510.9 776M559.6 600.5 559.6 776M608.4 600.5 608.4 776M316 732.1 657.1 732.1M316 688.2 657.1 688.2M316 644.4 657.1 644.4" stroke="#d9d9d9" stroke-width="0.9" fill="none"/>
<path d="M317.5 671.1 657.1 671.1" stroke="#555" stroke-width="1.3" fill="none" stroke-dasharray="3.1 2.85"/>
<path d="M317.5 706.2 657.1 706.2" stroke="#555" stroke-width="1.3" fill="none" stroke-dasharray="3.1 2.85"/>
<rect x="315.5" y="600.5" width="341.6" height="175.5" fill="none" stroke="#444" stroke-width="1.15"/>
<g fill="#000"><circle cx="445.7" cy="694.8" r="1.25"/><circle cx="468.5" cy="686.1" r="1.25"/><circle cx="447.7" cy="707.6" r="1.25"/><circle cx="436.3" cy="681.3" r="1.25"/><circle cx="454.5" cy="689.6" r="1.25"/><circle cx="438.4" cy="683.3" r="1.25"/><circle cx="442.5" cy="682.9" r="1.25"/><circle cx="450.9" cy="703.1" r="1.25"/><circle cx="446.3" cy="669.3" r="1.25"/><circle cx="439.8" cy="702.5" r="1.25"/><circle cx="441.9" cy="675.4" r="1.25"/><circle cx="441.5" cy="710.8" r="1.25"/><circle cx="459.5" cy="682.7" r="1.25"/><circle cx="440.2" cy="699.7" r="1.25"/><circle cx="441.7" cy="687.4" r="1.25"/><circle cx="468.4" cy="697.3" r="1.25"/><circle cx="441.9" cy="719.2" r="1.25"/><circle cx="462.8" cy="703.9" r="1.25"/><circle cx="461" cy="687.1" r="1.25"/><circle cx="446" cy="679.1" r="1.25"/><circle cx="433" cy="709" r="1.25"/><circle cx="452.2" cy="718.3" r="1.25"/><circle cx="454.5" cy="700.5" r="1.25"/><circle cx="457.5" cy="691" r="1.25"/><circle cx="448.3" cy="697.1" r="1.25"/><circle cx="459.9" cy="699.6" r="1.25"/><circle cx="461.8" cy="675.9" r="1.25"/><circle cx="436.8" cy="674.3" r="1.25"/><circle cx="462.2" cy="677.5" r="1.25"/><circle cx="449.4" cy="701.4" r="1.25"/><circle cx="441.8" cy="686.9" r="1.25"/><circle cx="444.3" cy="690.8" r="1.25"/><circle cx="466.8" cy="708.4" r="1.25"/><circle cx="457.6" cy="675.4" r="1.25"/><circle cx="429.3" cy="686.8" r="1.25"/><circle cx="448.4" cy="694.9" r="1.25"/><circle cx="446.1" cy="667.8" r="1.25"/><circle cx="445.8" cy="677.1" r="1.25"/><circle cx="442.3" cy="675.8" r="1.25"/><circle cx="432.7" cy="670.9" r="1.25"/><circle cx="456.4" cy="677.8" r="1.25"/><circle cx="438" cy="706.1" r="1.25"/><circle cx="443.8" cy="693.6" r="1.25"/><circle cx="441.4" cy="673.7" r="1.25"/><circle cx="440.1" cy="699" r="1.25"/><circle cx="455.2" cy="687.5" r="1.25"/><circle cx="451.5" cy="682.4" r="1.25"/><circle cx="440.7" cy="667.5" r="1.25"/><circle cx="437.9" cy="669.5" r="1.25"/><circle cx="442.8" cy="675.2" r="1.25"/><circle cx="457.5" cy="690.7" r="1.25"/><circle cx="448.9" cy="675" r="1.25"/><circle cx="450" cy="680.5" r="1.25"/><circle cx="444.2" cy="690.4" r="1.25"/><circle cx="444.9" cy="668.7" r="1.25"/><circle cx="449.8" cy="681" r="1.25"/><circle cx="428.7" cy="698.8" r="1.25"/><circle cx="464.1" cy="670" r="1.25"/><circle cx="439.5" cy="691.7" r="1.25"/><circle cx="441.8" cy="679.6" r="1.25"/><circle cx="461.3" cy="709.8" r="1.25"/><circle cx="449.8" cy="688.4" r="1.25"/><circle cx="448" cy="701.6" r="1.25"/><circle cx="441.6" cy="702" r="1.25"/><circle cx="431.6" cy="715.3" r="1.25"/><circle cx="449.5" cy="657.5" r="1.25"/><circle cx="459.8" cy="690.2" r="1.25"/><circle cx="438.4" cy="684.7" r="1.25"/><circle cx="461.5" cy="672.3" r="1.25"/><circle cx="436" cy="689.8" r="1.25"/><circle cx="440.1" cy="680.8" r="1.25"/><circle cx="452.7" cy="707.5" r="1.25"/><circle cx="447.6" cy="685.3" r="1.25"/><circle cx="454.6" cy="694" r="1.25"/><circle cx="440" cy="681" r="1.25"/><circle cx="437" cy="685.5" r="1.25"/><circle cx="428.5" cy="707.9" r="1.25"/><circle cx="435.2" cy="714.5" r="1.25"/><circle cx="436.6" cy="702.6" r="1.25"/><circle cx="433" cy="677.6" r="1.25"/><circle cx="450.7" cy="682.1" r="1.25"/><circle cx="440.8" cy="682.4" r="1.25"/><circle cx="428.1" cy="716.9" r="1.25"/><circle cx="473" cy="726.5" r="1.25"/><circle cx="439" cy="697" r="1.25"/><circle cx="434.7" cy="692.9" r="1.25"/><circle cx="460.3" cy="696.8" r="1.25"/><circle cx="459.5" cy="683.1" r="1.25"/><circle cx="435.8" cy="690.6" r="1.25"/><circle cx="432.5" cy="705.1" r="1.25"/><circle cx="437.3" cy="700.7" r="1.25"/><circle cx="459.1" cy="686.1" r="1.25"/><circle cx="444.4" cy="687.1" r="1.25"/><circle cx="439.3" cy="689.2" r="1.25"/><circle cx="447.3" cy="655.9" r="1.25"/><circle cx="459.9" cy="691.9" r="1.25"/><circle cx="433.3" cy="686.5" r="1.25"/><circle cx="443.6" cy="702.4" r="1.25"/><circle cx="433.4" cy="693.3" r="1.25"/><circle cx="469.8" cy="680.7" r="1.25"/><circle cx="466.2" cy="680.1" r="1.25"/><circle cx="457.3" cy="690.5" r="1.25"/><circle cx="446.2" cy="682.6" r="1.25"/><circle cx="454.3" cy="687.4" r="1.25"/><circle cx="428.1" cy="715.1" r="1.25"/><circle cx="450.4" cy="727.7" r="1.25"/><circle cx="433.9" cy="655.3" r="1.25"/><circle cx="434" cy="676.4" r="1.25"/><circle cx="440.4" cy="689.1" r="1.25"/><circle cx="444" cy="713" r="1.25"/><circle cx="453.4" cy="706.4" r="1.25"/><circle cx="454.7" cy="668.9" r="1.25"/><circle cx="450.3" cy="727.7" r="1.25"/><circle cx="437.9" cy="692.9" r="1.25"/><circle cx="454.5" cy="675.9" r="1.25"/><circle cx="446.3" cy="686.2" r="1.25"/><circle cx="459.6" cy="677.5" r="1.25"/><circle cx="438.2" cy="690.1" r="1.25"/><circle cx="428.1" cy="654.1" r="1.25"/><circle cx="442.7" cy="702.9" r="1.25"/><circle cx="469.6" cy="707.7" r="1.25"/><circle cx="452.4" cy="684.3" r="1.25"/><circle cx="445.6" cy="667.9" r="1.25"/><circle cx="456.6" cy="689" r="1.25"/><circle cx="452.7" cy="673.3" r="1.25"/><circle cx="452.3" cy="695.8" r="1.25"/><circle cx="442.3" cy="705.2" r="1.25"/><circle cx="448.3" cy="668.3" r="1.25"/><circle cx="449.6" cy="665.9" r="1.25"/><circle cx="441" cy="666.4" r="1.25"/><circle cx="436.1" cy="694.5" r="1.25"/><circle cx="449" cy="704.7" r="1.25"/><circle cx="457.5" cy="704.9" r="1.25"/><circle cx="454.2" cy="691.5" r="1.25"/><circle cx="452.6" cy="679.9" r="1.25"/><circle cx="452.7" cy="681" r="1.25"/><circle cx="474" cy="708.7" r="1.25"/><circle cx="450.2" cy="685.5" r="1.25"/><circle cx="458.2" cy="688" r="1.25"/><circle cx="467.6" cy="687" r="1.25"/><circle cx="448.1" cy="688.6" r="1.25"/><circle cx="450.3" cy="691.1" r="1.25"/><circle cx="458.3" cy="679.8" r="1.25"/><circle cx="464.8" cy="686.4" r="1.25"/><circle cx="450.8" cy="685" r="1.25"/><circle cx="451.3" cy="698.1" r="1.25"/><circle cx="448.5" cy="682.6" r="1.25"/><circle cx="435.2" cy="690" r="1.25"/><circle cx="459" cy="718.4" r="1.25"/><circle cx="445" cy="681.4" r="1.25"/><circle cx="485.8" cy="693.2" r="1.25"/><circle cx="482" cy="671" r="1.25"/><circle cx="495" cy="691.3" r="1.25"/><circle cx="469.8" cy="690" r="1.25"/><circle cx="491.5" cy="684.3" r="1.25"/><circle cx="465.8" cy="688.5" r="1.25"/><circle cx="494.2" cy="696.6" r="1.25"/><circle cx="496.1" cy="721.7" r="1.25"/><circle cx="459.2" cy="653.9" r="1.25"/><circle cx="470" cy="717.7" r="1.25"/><circle cx="496.2" cy="694.6" r="1.25"/><circle cx="495.1" cy="676.1" r="1.25"/><circle cx="483.5" cy="681.2" r="1.25"/><circle cx="462.6" cy="677.7" r="1.25"/><circle cx="457.6" cy="673.9" r="1.25"/><circle cx="467" cy="664.7" r="1.25"/><circle cx="494.1" cy="682.7" r="1.25"/><circle cx="488.7" cy="645.5" r="1.25"/><circle cx="474" cy="707.1" r="1.25"/><circle cx="487" cy="684" r="1.25"/><circle cx="492.5" cy="695" r="1.25"/><circle cx="469" cy="698.4" r="1.25"/><circle cx="491.4" cy="682.9" r="1.25"/><circle cx="467.8" cy="661.1" r="1.25"/><circle cx="470.1" cy="701.5" r="1.25"/><circle cx="459.1" cy="701.5" r="1.25"/><circle cx="463.6" cy="674.7" r="1.25"/><circle cx="478.8" cy="678.1" r="1.25"/><circle cx="458.2" cy="651.7" r="1.25"/><circle cx="478.6" cy="669.1" r="1.25"/><circle cx="463.9" cy="684" r="1.25"/><circle cx="486.5" cy="694.4" r="1.25"/><circle cx="462.3" cy="684.2" r="1.25"/><circle cx="465.4" cy="691.5" r="1.25"/><circle cx="467.8" cy="713.7" r="1.25"/><circle cx="480" cy="688.1" r="1.25"/><circle cx="488.8" cy="691.5" r="1.25"/><circle cx="486.7" cy="692.6" r="1.25"/><circle cx="486.2" cy="696.3" r="1.25"/><circle cx="483.9" cy="656.7" r="1.25"/><circle cx="478.5" cy="675.3" r="1.25"/><circle cx="470.7" cy="670.8" r="1.25"/><circle cx="464.3" cy="699.6" r="1.25"/><circle cx="491" cy="707.3" r="1.25"/><circle cx="473.3" cy="693.5" r="1.25"/><circle cx="482.7" cy="683.7" r="1.25"/><circle cx="460" cy="694.7" r="1.25"/><circle cx="471.4" cy="691.8" r="1.25"/><circle cx="461.2" cy="670.3" r="1.25"/><circle cx="471.1" cy="682.7" r="1.25"/><circle cx="485.9" cy="706.6" r="1.25"/><circle cx="470.6" cy="696.2" r="1.25"/><circle cx="483.9" cy="700.5" r="1.25"/><circle cx="462.1" cy="684.9" r="1.25"/><circle cx="472.3" cy="710" r="1.25"/><circle cx="361.1" cy="706.9" r="1.25"/><circle cx="364.7" cy="681.7" r="1.25"/><circle cx="378.1" cy="704.7" r="1.25"/><circle cx="384.2" cy="680.6" r="1.25"/><circle cx="391.5" cy="686.1" r="1.25"/><circle cx="394" cy="699.2" r="1.25"/><circle cx="401.3" cy="670.7" r="1.25"/><circle cx="404.9" cy="692.6" r="1.25"/><circle cx="407.4" cy="701.4" r="1.25"/><circle cx="411" cy="681.7" r="1.25"/><circle cx="413.5" cy="682.8" r="1.25"/><circle cx="415.9" cy="668.5" r="1.25"/><circle cx="418.3" cy="666.3" r="1.25"/><circle cx="420.8" cy="677.3" r="1.25"/><circle cx="424.4" cy="672.9" r="1.25"/><circle cx="425.6" cy="681.7" r="1.25"/><circle cx="501.2" cy="725.5" r="1.25"/><circle cx="503.6" cy="714.6" r="1.25"/><circle cx="506" cy="701.4" r="1.25"/><circle cx="508.5" cy="683.9" r="1.25"/><circle cx="510.9" cy="679.5" r="1.25"/><circle cx="513.4" cy="688.2" r="1.25"/><circle cx="518.2" cy="694.8" r="1.25"/><circle cx="523.1" cy="681.7" r="1.25"/><circle cx="528" cy="690.4" r="1.25"/><circle cx="535.3" cy="669.6" r="1.25"/><circle cx="537.7" cy="683.9" r="1.25"/><circle cx="540.2" cy="699.2" r="1.25"/><circle cx="549.9" cy="679.5" r="1.25"/><circle cx="552.3" cy="680.6" r="1.25"/><circle cx="559.6" cy="688.2" r="1.25"/><circle cx="571.8" cy="693.7" r="1.25"/><circle cx="574.3" cy="690.4" r="1.25"/><circle cx="579.1" cy="683.9" r="1.25"/><circle cx="584" cy="685" r="1.25"/><circle cx="597.4" cy="692.6" r="1.25"/><circle cx="618.1" cy="688.2" r="1.25"/><circle cx="483.1" cy="653.6" r="1.25"/><circle cx="493.3" cy="654.2" r="1.25"/><circle cx="491.9" cy="665.4" r="1.25"/><circle cx="464.1" cy="667.2" r="1.25"/><circle cx="485.8" cy="659.8" r="1.25"/><circle cx="488.1" cy="649.9" r="1.25"/><circle cx="492.9" cy="654.3" r="1.25"/><circle cx="475" cy="651.1" r="1.25"/><circle cx="465.5" cy="654.9" r="1.25"/><circle cx="477.1" cy="651.3" r="1.25"/><circle cx="473.3" cy="646.7" r="1.25"/><circle cx="474.1" cy="652.9" r="1.25"/><circle cx="489.1" cy="649.6" r="1.25"/><circle cx="483.6" cy="647.2" r="1.25"/></g>
<text x="304.6" y="780.2" font-size="11.8" text-anchor="end">-40</text>
<text x="304.6" y="736.3" font-size="11.8" text-anchor="end">-20</text>
<text x="304.6" y="692.5" font-size="11.8" text-anchor="end">0</text>
<text x="304.6" y="648.6" font-size="11.8" text-anchor="end">20</text>
<text x="304.6" y="604.7" font-size="11.8" text-anchor="end">40</text>
<text x="316" y="794.6" font-size="12" text-anchor="middle">60</text>
<text x="364.7" y="794.6" font-size="12" text-anchor="middle">80</text>
<text x="413.5" y="794.6" font-size="12" text-anchor="middle">100</text>
<text x="462.2" y="794.6" font-size="12" text-anchor="middle">120</text>
<text x="510.9" y="794.6" font-size="12" text-anchor="middle">140</text>
<text x="559.6" y="794.6" font-size="12" text-anchor="middle">160</text>
<text x="608.4" y="794.6" font-size="12" text-anchor="middle">180</text>
<text x="657.1" y="794.6" font-size="12" text-anchor="middle">200</text>
<text transform="translate(274.7 680.7) rotate(-90)" x="-57.5" y="0" font-size="12" textLength="115" lengthAdjust="spacingAndGlyphs" font-weight="bold">e SBP-SBP  [mmHg]</text>
<text x="427.5" y="811.9" font-size="12.2" textLength="93.8" lengthAdjust="spacingAndGlyphs" font-weight="bold">e SBP ([mmHg])</text>
<text x="389.6" y="851.2" font-size="15.8" textLength="182.1" lengthAdjust="spacingAndGlyphs" style="fill:#111">(3) Error analysis diagram</text>
</svg></body></html>
